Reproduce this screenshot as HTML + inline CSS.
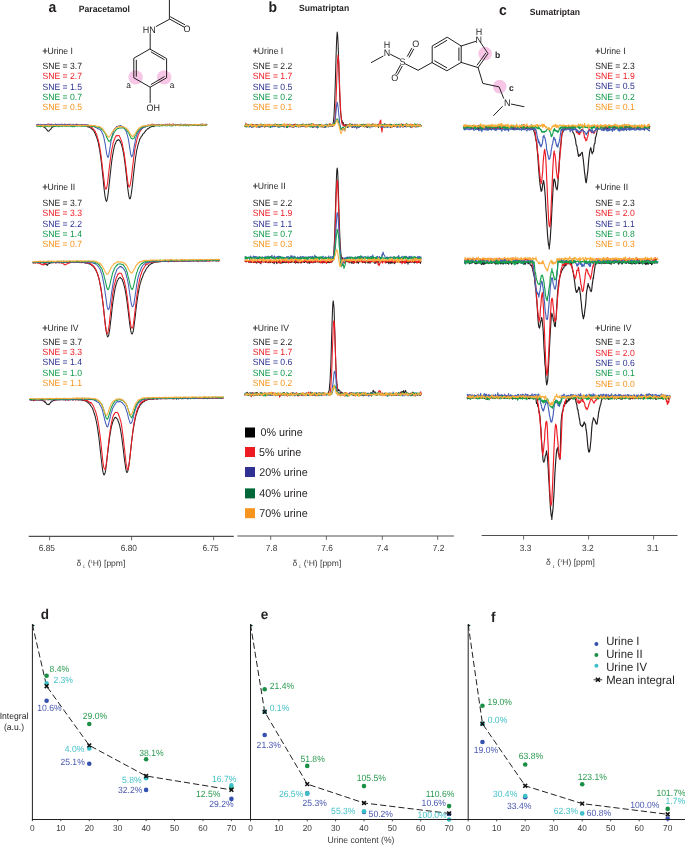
<!DOCTYPE html>
<html><head><meta charset="utf-8"><title>NMR figure</title>
<style>
html,body{margin:0;padding:0;background:#fff;width:685px;height:845px;overflow:hidden;}
svg{display:block;will-change:transform;}
text{font-family:"Liberation Sans", sans-serif;text-rendering:geometricPrecision;}
</style></head><body>
<svg width="685" height="845" viewBox="0 0 685 845">
<rect width="685" height="845" fill="#fff"/>
<text transform="translate(48.50 11.90) scale(1 1.05)" font-size="14" fill="#231f20" text-anchor="start" font-weight="bold" >a</text>
<text transform="translate(78.80 11.50) scale(1 1.05)" font-size="8.6" fill="#231f20" text-anchor="start" font-weight="bold" >Paracetamol</text>
<text transform="translate(268.50 12.20) scale(1 1.05)" font-size="14" fill="#231f20" text-anchor="start" font-weight="bold" >b</text>
<text transform="translate(299.00 10.90) scale(1 1.05)" font-size="8.6" fill="#231f20" text-anchor="start" font-weight="bold" >Sumatriptan</text>
<text transform="translate(499.00 14.90) scale(1 1.05)" font-size="14" fill="#231f20" text-anchor="start" font-weight="bold" >c</text>
<text transform="translate(529.80 14.50) scale(1 1.05)" font-size="8.6" fill="#231f20" text-anchor="start" font-weight="bold" >Sumatriptan</text>
<circle cx="135.6" cy="77.4" r="7.2" fill="#f7c6e6"/>
<circle cx="164.2" cy="77.4" r="7.2" fill="#f7c6e6"/>
<path d="M169.4 0 L169.4 18.9 L184.0 27.0" fill="none" stroke="#231f20" stroke-width="1.0" stroke-linecap="round"/>
<path d="M170.6 16.9 L184.6 24.6" fill="none" stroke="#231f20" stroke-width="1.0" stroke-linecap="round"/>
<path d="M169.4 19.3 L156.3 26.4" fill="none" stroke="#231f20" stroke-width="1.0" stroke-linecap="round"/>
<path d="M150.2 33.6 L150.2 49.2" fill="none" stroke="#231f20" stroke-width="1.0" stroke-linecap="round"/>
<path d="M150.2 49.2 L166.6 58.6 L166.6 77.8 L150.2 87.2 L133.8 77.8 L133.8 58.6 Z" fill="none" stroke="#231f20" stroke-width="1.0" stroke-linecap="round"/>
<path d="M151.2 52.0 L164.2 59.6" fill="none" stroke="#231f20" stroke-width="1.0" stroke-linecap="round"/>
<path d="M136.3 60.2 L136.3 76.2" fill="none" stroke="#231f20" stroke-width="1.0" stroke-linecap="round"/>
<path d="M151.2 84.4 L164.2 76.8" fill="none" stroke="#231f20" stroke-width="1.0" stroke-linecap="round"/>
<path d="M150.2 87.2 L150.2 102.5" fill="none" stroke="#231f20" stroke-width="1.0" stroke-linecap="round"/>
<text transform="translate(149.30 33.00) scale(1 1.05)" font-size="9.0" fill="#231f20" text-anchor="middle" font-weight="normal" >HN</text>
<text transform="translate(187.00 31.70) scale(1 1.05)" font-size="9.0" fill="#231f20" text-anchor="middle" font-weight="normal" >O</text>
<text transform="translate(153.20 110.60) scale(1 1.05)" font-size="9.0" fill="#231f20" text-anchor="middle" font-weight="normal" >OH</text>
<text transform="translate(128.50 87.60) scale(1 1.05)" font-size="8.3" fill="#231f20" text-anchor="middle" font-weight="normal" >a</text>
<text transform="translate(172.00 87.60) scale(1 1.05)" font-size="8.3" fill="#231f20" text-anchor="middle" font-weight="normal" >a</text>
<circle cx="485.1" cy="53.6" r="6.8" fill="#f7c6e6"/>
<circle cx="499.7" cy="86.6" r="6.8" fill="#f7c6e6"/>
<path d="M371.4 62.5 L383.0 56.2" fill="none" stroke="#231f20" stroke-width="1.0" stroke-linecap="round"/>
<path d="M390.6 54.4 L399.8 59.0" fill="none" stroke="#231f20" stroke-width="1.0" stroke-linecap="round"/>
<path d="M405.4 63.9 L418.1 70.3 L432.2 62.4" fill="none" stroke="#231f20" stroke-width="1.0" stroke-linecap="round"/>
<path d="M407.4 56.2 L411.8 48.2 M409.2 57.2 L413.6 49.2" fill="none" stroke="#231f20" stroke-width="1.0" stroke-linecap="round"/>
<path d="M400.3 65.4 L395.9 73.4 M402.1 66.4 L397.7 74.4" fill="none" stroke="#231f20" stroke-width="1.0" stroke-linecap="round"/>
<path d="M432.2 62.4 L432.2 46.0 L447.2 37.2 L461.2 46.0 L461.2 62.4 L447.2 70.6 Z" fill="none" stroke="#231f20" stroke-width="1.0" stroke-linecap="round"/>
<path d="M434.6 47.6 L446.8 40.4" fill="none" stroke="#231f20" stroke-width="1.0" stroke-linecap="round"/>
<path d="M434.6 60.8 L446.8 67.8" fill="none" stroke="#231f20" stroke-width="1.0" stroke-linecap="round"/>
<path d="M458.9 48.0 L458.9 60.4" fill="none" stroke="#231f20" stroke-width="1.0" stroke-linecap="round"/>
<path d="M461.2 46.0 L475.6 41.4" fill="none" stroke="#231f20" stroke-width="1.0" stroke-linecap="round"/>
<path d="M481.2 43.4 L488.0 53.6 L478.1 67.6 L461.2 62.4" fill="none" stroke="#231f20" stroke-width="1.0" stroke-linecap="round"/>
<path d="M485.6 53.4 L477.2 65.0" fill="none" stroke="#231f20" stroke-width="1.0" stroke-linecap="round"/>
<path d="M478.1 67.6 L482.8 83.4 L499.1 86.9 L503.6 98.2" fill="none" stroke="#231f20" stroke-width="1.0" stroke-linecap="round"/>
<path d="M511.4 104.1 L524.0 106.7" fill="none" stroke="#231f20" stroke-width="1.0" stroke-linecap="round"/>
<path d="M502.4 106.5 L493.6 115.5" fill="none" stroke="#231f20" stroke-width="1.0" stroke-linecap="round"/>
<text transform="translate(387.10 56.40) scale(1 1.05)" font-size="9.0" fill="#231f20" text-anchor="middle" font-weight="normal" >N</text>
<text transform="translate(387.10 48.30) scale(1 1.05)" font-size="9.0" fill="#231f20" text-anchor="middle" font-weight="normal" >H</text>
<text transform="translate(402.60 64.60) scale(1 1.05)" font-size="9.0" fill="#231f20" text-anchor="middle" font-weight="normal" >S</text>
<text transform="translate(415.80 47.10) scale(1 1.05)" font-size="9.0" fill="#231f20" text-anchor="middle" font-weight="normal" >O</text>
<text transform="translate(394.80 80.60) scale(1 1.05)" font-size="9.0" fill="#231f20" text-anchor="middle" font-weight="normal" >O</text>
<text transform="translate(478.70 43.30) scale(1 1.05)" font-size="9.0" fill="#231f20" text-anchor="middle" font-weight="normal" >N</text>
<text transform="translate(479.00 35.30) scale(1 1.05)" font-size="9.0" fill="#231f20" text-anchor="middle" font-weight="normal" >H</text>
<text transform="translate(507.30 105.60) scale(1 1.05)" font-size="9.0" fill="#231f20" text-anchor="middle" font-weight="normal" >N</text>
<text transform="translate(497.60 57.60) scale(1 1.05)" font-size="8.6" fill="#231f20" text-anchor="middle" font-weight="bold" >b</text>
<text transform="translate(511.40 91.20) scale(1 1.05)" font-size="8.6" fill="#231f20" text-anchor="middle" font-weight="bold" >c</text>
<polyline points="36.6,125.3 37.1,125.4 37.6,125.3 38.1,125.2 38.6,125.3 39.1,125.2 39.6,125.5 40.1,125.9 40.6,125.6 41.1,125.6 41.6,126.1 42.1,126.2 42.6,126.3 43.1,126.3 43.6,126.8 44.1,127.3 44.6,127.2 45.1,127.9 45.6,128.1 46.1,128.8 46.6,129.3 47.1,130.3 47.6,130.5 48.1,131.2 48.6,131.2 49.1,130.9 49.6,129.9 50.1,129.8 50.6,129.3 51.1,128.7 51.6,127.7 52.1,127.5 52.6,127.0 53.1,126.7 53.6,126.8 54.1,126.1 54.6,126.1 55.1,126.2 55.6,125.7 56.1,125.7 56.6,125.6 57.1,125.6 57.6,125.2 58.1,125.4 58.6,125.7 59.1,125.0 59.6,125.5 60.1,125.3 60.6,125.1 61.1,125.8 61.6,125.4 62.1,124.9 62.6,125.3 63.1,125.4 63.6,125.2 64.1,125.4 64.6,125.2 65.1,125.4 65.6,125.6 66.1,125.0 66.6,125.3 67.1,125.1 67.6,125.2 68.1,124.9 68.6,125.1 69.1,125.2 69.6,125.4 70.1,125.5 70.6,124.9 71.1,125.0 71.6,125.4 72.1,124.7 72.6,125.1 73.1,125.2 73.6,125.5 74.1,125.4 74.6,125.1 75.1,125.1 75.6,125.2 76.1,125.6 76.6,125.1 77.1,125.2 77.6,125.4 78.1,125.2 78.6,125.2 79.1,125.0 79.6,125.3 80.1,125.2 80.6,125.7 81.1,125.6 81.6,125.4 82.1,125.6 82.6,125.4 83.1,125.8 83.6,125.6 84.1,125.8 84.6,125.4 85.1,125.9 85.6,125.5 86.1,125.5 86.6,126.1 87.1,126.1 87.6,126.5 88.1,127.2 88.6,126.6 89.1,126.9 89.6,127.3 90.1,127.7 90.6,127.9 91.1,128.2 91.6,128.9 92.1,129.3 92.6,129.4 93.1,130.3 93.6,131.0 94.1,131.5 94.6,132.6 95.1,133.3 95.6,134.9 96.1,135.9 96.6,137.3 97.1,138.6 97.6,140.5 98.1,142.0 98.6,144.4 99.1,147.3 99.6,149.5 100.1,153.3 100.6,156.1 101.1,160.6 101.6,164.3 102.1,169.2 102.6,173.9 103.1,178.4 103.6,184.1 104.1,188.9 104.6,193.0 105.1,196.6 105.6,199.4 106.1,200.7 106.6,201.4 107.1,199.8 107.6,197.5 108.1,193.9 108.6,189.8 109.1,185.0 109.6,180.8 110.1,175.6 110.6,171.2 111.1,166.5 111.6,162.3 112.1,158.7 112.6,155.4 113.1,152.6 113.6,149.9 114.1,147.7 114.6,145.5 115.1,144.1 115.6,143.3 116.1,141.7 116.6,140.8 117.1,140.5 117.6,140.4 118.1,139.5 118.6,139.9 119.1,140.0 119.6,140.2 120.1,141.6 120.6,142.4 121.1,143.6 121.6,144.9 122.1,146.9 122.6,148.7 123.1,151.2 123.6,153.7 124.1,156.8 124.6,160.9 125.1,164.2 125.6,168.6 126.1,173.0 126.6,177.5 127.1,182.2 127.6,187.0 128.1,190.9 128.6,194.5 129.1,197.1 129.6,198.8 130.1,198.8 130.6,197.5 131.1,194.9 131.6,191.4 132.1,187.9 132.6,183.4 133.1,178.4 133.6,173.9 134.1,169.4 134.6,165.1 135.1,161.2 135.6,157.3 136.1,154.5 136.6,150.9 137.1,148.9 137.6,146.5 138.1,144.7 138.6,143.2 139.1,141.6 139.6,139.7 140.1,138.4 140.6,138.1 141.1,136.8 141.6,136.2 142.1,135.7 142.6,134.5 143.1,133.7 143.6,133.7 144.1,133.0 144.6,132.3 145.1,131.7 145.6,130.9 146.1,130.2 146.6,130.0 147.1,129.3 147.6,128.7 148.1,128.8 148.6,128.3 149.1,128.1 149.6,127.4 150.1,127.2 150.6,126.9 151.1,126.7 151.6,126.8 152.1,126.3 152.6,126.5 153.1,126.3 153.6,126.6 154.1,125.7 154.6,126.1 155.1,125.8 155.6,125.8 156.1,125.3 156.6,125.5 157.1,125.8 157.6,125.5 158.1,125.5 158.6,125.4 159.1,125.7 159.6,125.4 160.1,124.8 160.6,125.2 161.1,124.8 161.6,124.5 162.1,125.2 162.6,125.6 163.1,125.3 163.6,125.0 164.1,125.0 164.6,125.5 165.1,125.3 165.6,125.3 166.1,125.2 166.6,125.2 167.1,125.4 167.6,125.4 168.1,125.3 168.6,125.0 169.1,125.3 169.6,125.0 170.1,125.5 170.6,124.9 171.1,125.2 171.6,125.2 172.1,124.9 172.6,125.6 173.1,125.6 173.6,125.1 174.1,125.4 174.6,125.3 175.1,124.5 175.6,125.3 176.1,125.2 176.6,125.2 177.1,124.9 177.6,125.1 178.1,125.2 178.6,125.5 179.1,125.3 179.6,125.2 180.1,125.6 180.6,125.1 181.1,125.1 181.6,124.7 182.1,125.6 182.6,125.4 183.1,125.4 183.6,125.4 184.1,125.2 184.6,125.3 185.1,125.1 185.6,125.1 186.1,125.2 186.6,125.6 187.1,125.3 187.6,125.2 188.1,125.1 188.6,125.0 189.1,125.6 189.6,125.3 190.1,125.2 190.6,125.1 191.1,124.9 191.6,125.2 192.1,125.4 192.6,125.1 193.1,125.1 193.6,125.1 194.1,125.2 194.6,124.8 195.1,125.1 195.6,125.0 196.1,125.4 196.6,125.0 197.1,125.3 197.6,125.6 198.1,125.1 198.6,125.0 199.1,125.2 199.6,125.2 200.1,125.0 200.6,125.3 201.1,125.7 201.6,125.1 202.1,125.1 202.6,124.9 203.1,125.3 203.6,124.9 204.1,124.9 204.6,125.5 205.1,125.0 205.6,125.5 206.1,125.6 206.6,125.3 207.1,125.3" fill="none" stroke="#231f20" stroke-width="1.05" stroke-linejoin="round"/>
<polyline points="36.6,125.4 37.1,124.6 37.6,124.5 38.1,124.2 38.6,124.7 39.1,125.2 39.6,125.0 40.1,124.4 40.6,124.4 41.1,124.5 41.6,124.8 42.1,124.6 42.6,124.8 43.1,124.8 43.6,124.6 44.1,124.7 44.6,124.8 45.1,124.7 45.6,124.9 46.1,125.4 46.6,124.9 47.1,124.7 47.6,124.1 48.1,124.8 48.6,124.0 49.1,124.2 49.6,125.0 50.1,124.9 50.6,124.6 51.1,124.1 51.6,124.6 52.1,124.5 52.6,124.9 53.1,125.5 53.6,124.8 54.1,124.4 54.6,124.3 55.1,124.7 55.6,124.6 56.1,124.3 56.6,124.7 57.1,124.3 57.6,125.1 58.1,125.1 58.6,125.1 59.1,124.5 59.6,124.9 60.1,124.7 60.6,124.6 61.1,124.6 61.6,124.2 62.1,124.2 62.6,125.0 63.1,124.6 63.6,124.8 64.1,125.1 64.6,124.1 65.1,124.4 65.6,124.8 66.1,124.8 66.6,124.6 67.1,125.1 67.6,124.8 68.1,124.3 68.6,124.4 69.1,125.0 69.6,124.9 70.1,124.0 70.6,125.2 71.1,124.9 71.6,125.2 72.1,124.6 72.6,124.6 73.1,124.3 73.6,125.6 74.1,124.6 74.6,125.3 75.1,124.5 75.6,124.8 76.1,124.1 76.6,124.6 77.1,125.1 77.6,124.3 78.1,125.1 78.6,124.9 79.1,124.4 79.6,124.6 80.1,124.6 80.6,124.8 81.1,124.6 81.6,124.6 82.1,124.8 82.6,124.5 83.1,124.5 83.6,125.0 84.1,125.3 84.6,124.5 85.1,125.1 85.6,125.0 86.1,124.9 86.6,125.7 87.1,125.3 87.6,126.1 88.1,125.5 88.6,126.0 89.1,126.0 89.6,126.0 90.1,126.7 90.6,126.7 91.1,127.3 91.6,127.4 92.1,127.5 92.6,128.2 93.1,128.8 93.6,129.7 94.1,129.7 94.6,130.7 95.1,131.0 95.6,132.8 96.1,133.3 96.6,134.2 97.1,136.2 97.6,138.2 98.1,139.1 98.6,141.3 99.1,143.7 99.6,146.1 100.1,149.5 100.6,152.3 101.1,155.9 101.6,160.2 102.1,164.0 102.6,168.8 103.1,172.7 103.6,177.0 104.1,180.9 104.6,185.6 105.1,187.4 105.6,189.0 106.1,189.1 106.6,188.0 107.1,185.7 107.6,183.1 108.1,178.2 108.6,173.8 109.1,169.6 109.6,165.1 110.1,161.7 110.6,157.9 111.1,153.8 111.6,150.5 112.1,148.1 112.6,146.3 113.1,142.7 113.6,142.0 114.1,139.9 114.6,139.3 115.1,137.5 115.6,136.9 116.1,135.8 116.6,135.5 117.1,136.0 117.6,135.7 118.1,135.4 118.6,135.4 119.1,135.5 119.6,136.7 120.1,137.6 120.6,138.6 121.1,139.9 121.6,141.0 122.1,143.1 122.6,145.2 123.1,148.0 123.6,150.9 124.1,153.2 124.6,156.4 125.1,160.4 125.6,164.2 126.1,168.3 126.6,172.8 127.1,176.6 127.6,180.9 128.1,183.8 128.6,186.1 129.1,187.0 129.6,186.7 130.1,185.2 130.6,183.0 131.1,179.6 131.6,175.9 132.1,171.6 132.6,166.8 133.1,163.0 133.6,158.5 134.1,155.0 134.6,151.6 135.1,147.9 135.6,145.9 136.1,143.4 136.6,141.1 137.1,139.0 137.6,137.3 138.1,135.5 138.6,134.4 139.1,133.2 139.6,132.3 140.1,131.0 140.6,130.7 141.1,129.9 141.6,129.2 142.1,128.5 142.6,128.4 143.1,127.2 143.6,127.5 144.1,127.1 144.6,126.8 145.1,126.6 145.6,126.0 146.1,126.0 146.6,126.1 147.1,125.9 147.6,125.6 148.1,124.9 148.6,125.5 149.1,125.7 149.6,125.5 150.1,125.2 150.6,124.5 151.1,125.3 151.6,124.9 152.1,124.0 152.6,125.0 153.1,124.3 153.6,124.4 154.1,124.6 154.6,125.2 155.1,124.7 155.6,124.9 156.1,125.4 156.6,125.3 157.1,124.7 157.6,124.7 158.1,124.3 158.6,124.5 159.1,124.9 159.6,124.9 160.1,124.8 160.6,125.1 161.1,124.4 161.6,124.7 162.1,125.0 162.6,124.9 163.1,125.1 163.6,124.8 164.1,124.6 164.6,124.8 165.1,124.4 165.6,124.1 166.1,124.9 166.6,124.7 167.1,124.8 167.6,124.1 168.1,124.6 168.6,124.5 169.1,124.4 169.6,123.9 170.1,124.6 170.6,125.0 171.1,124.8 171.6,124.5 172.1,124.7 172.6,125.0 173.1,123.7 173.6,124.7 174.1,124.9 174.6,124.9 175.1,125.3 175.6,125.1 176.1,124.8 176.6,124.8 177.1,125.0 177.6,124.5 178.1,124.7 178.6,125.0 179.1,125.4 179.6,124.6 180.1,124.7 180.6,124.8 181.1,125.2 181.6,124.7 182.1,125.2 182.6,124.4 183.1,124.6 183.6,124.6 184.1,125.0 184.6,125.1 185.1,124.2 185.6,124.4 186.1,124.8 186.6,124.5 187.1,124.2 187.6,125.1 188.1,124.9 188.6,124.9 189.1,124.5 189.6,125.1 190.1,124.6 190.6,125.1 191.1,124.4 191.6,124.4 192.1,124.8 192.6,124.5 193.1,124.9 193.6,124.8 194.1,124.4 194.6,124.7 195.1,124.6 195.6,125.0 196.1,124.5 196.6,124.5 197.1,125.1 197.6,125.5 198.1,125.4 198.6,124.7 199.1,124.8 199.6,125.2 200.1,124.7 200.6,124.4 201.1,124.7 201.6,124.9 202.1,124.4 202.6,124.1 203.1,124.2 203.6,124.9 204.1,124.4 204.6,124.7 205.1,124.8 205.6,124.9 206.1,124.6 206.6,124.9 207.1,124.4" fill="none" stroke="#ed1c24" stroke-width="1.05" stroke-linejoin="round"/>
<polyline points="36.6,124.6 37.1,124.4 37.6,125.0 38.1,124.7 38.6,124.5 39.1,124.6 39.6,124.6 40.1,124.9 40.6,124.3 41.1,124.4 41.6,124.6 42.1,125.3 42.6,124.9 43.1,124.7 43.6,124.9 44.1,125.2 44.6,124.6 45.1,124.6 45.6,125.0 46.1,124.8 46.6,124.9 47.1,124.6 47.6,125.2 48.1,125.1 48.6,124.8 49.1,124.9 49.6,124.2 50.1,124.9 50.6,124.7 51.1,124.8 51.6,124.9 52.1,124.6 52.6,124.3 53.1,124.8 53.6,124.5 54.1,124.6 54.6,124.5 55.1,124.6 55.6,124.1 56.1,125.0 56.6,124.8 57.1,125.0 57.6,125.2 58.1,124.7 58.6,124.2 59.1,124.5 59.6,124.4 60.1,124.6 60.6,124.7 61.1,124.2 61.6,124.8 62.1,124.3 62.6,124.8 63.1,124.7 63.6,124.6 64.1,124.7 64.6,124.6 65.1,124.5 65.6,124.3 66.1,124.7 66.6,125.2 67.1,125.2 67.6,125.0 68.1,124.9 68.6,124.5 69.1,125.1 69.6,124.7 70.1,124.7 70.6,124.6 71.1,124.7 71.6,124.6 72.1,124.7 72.6,124.4 73.1,124.6 73.6,125.3 74.1,124.7 74.6,124.7 75.1,124.9 75.6,124.9 76.1,124.4 76.6,124.7 77.1,125.0 77.6,124.8 78.1,124.8 78.6,125.1 79.1,124.6 79.6,124.8 80.1,124.6 80.6,125.2 81.1,124.3 81.6,124.6 82.1,124.7 82.6,125.0 83.1,125.0 83.6,125.2 84.1,124.5 84.6,125.1 85.1,124.9 85.6,124.8 86.1,125.1 86.6,124.8 87.1,124.6 87.6,125.0 88.1,124.8 88.6,125.1 89.1,125.4 89.6,125.4 90.1,125.8 90.6,125.5 91.1,125.3 91.6,125.6 92.1,125.7 92.6,125.8 93.1,126.3 93.6,126.2 94.1,126.1 94.6,127.0 95.1,127.0 95.6,127.4 96.1,127.6 96.6,127.9 97.1,128.0 97.6,128.6 98.1,128.6 98.6,128.9 99.1,129.2 99.6,129.0 100.1,129.7 100.6,130.2 101.1,130.9 101.6,131.2 102.1,132.9 102.6,133.6 103.1,134.7 103.6,136.3 104.1,138.7 104.6,141.1 105.1,143.7 105.6,147.0 106.1,150.0 106.6,153.4 107.1,155.5 107.6,157.1 108.1,157.4 108.6,156.5 109.1,153.3 109.6,150.4 110.1,147.0 110.6,144.1 111.1,140.7 111.6,138.2 112.1,136.1 112.6,133.9 113.1,132.4 113.6,131.1 114.1,129.6 114.6,128.9 115.1,128.4 115.6,127.9 116.1,127.3 116.6,126.5 117.1,126.5 117.6,126.6 118.1,126.3 118.6,126.0 119.1,125.7 119.6,126.0 120.1,125.7 120.6,125.6 121.1,125.8 121.6,126.5 122.1,126.4 122.6,126.9 123.1,126.8 123.6,127.6 124.1,127.7 124.6,128.4 125.1,129.8 125.6,130.3 126.1,131.1 126.6,132.5 127.1,134.1 127.6,136.2 128.1,138.0 128.6,140.3 129.1,143.6 129.6,146.8 130.1,150.1 130.6,153.4 131.1,155.5 131.6,156.9 132.1,156.3 132.6,155.5 133.1,153.5 133.6,150.2 134.1,147.1 134.6,144.1 135.1,141.9 135.6,138.9 136.1,137.2 136.6,135.7 137.1,134.5 137.6,133.1 138.1,132.4 138.6,131.6 139.1,131.1 139.6,130.5 140.1,129.7 140.6,129.6 141.1,129.4 141.6,128.5 142.1,128.3 142.6,128.2 143.1,127.4 143.6,127.4 144.1,126.8 144.6,127.1 145.1,127.2 145.6,126.9 146.1,126.1 146.6,126.2 147.1,125.9 147.6,125.7 148.1,126.0 148.6,125.2 149.1,125.7 149.6,125.3 150.1,125.6 150.6,125.2 151.1,125.0 151.6,125.2 152.1,125.2 152.6,125.0 153.1,125.1 153.6,124.8 154.1,124.4 154.6,125.1 155.1,125.0 155.6,124.9 156.1,124.8 156.6,125.1 157.1,124.7 157.6,124.6 158.1,124.7 158.6,125.1 159.1,124.4 159.6,125.1 160.1,124.6 160.6,124.5 161.1,125.1 161.6,124.7 162.1,124.4 162.6,124.6 163.1,125.0 163.6,125.0 164.1,124.6 164.6,124.8 165.1,124.9 165.6,124.6 166.1,124.8 166.6,124.7 167.1,124.6 167.6,124.6 168.1,124.7 168.6,124.7 169.1,124.6 169.6,124.6 170.1,125.0 170.6,124.8 171.1,124.9 171.6,125.0 172.1,124.8 172.6,125.3 173.1,124.5 173.6,124.9 174.1,124.6 174.6,125.2 175.1,125.1 175.6,124.2 176.1,124.5 176.6,124.9 177.1,124.9 177.6,124.9 178.1,124.7 178.6,124.8 179.1,124.9 179.6,124.7 180.1,125.0 180.6,124.1 181.1,124.9 181.6,124.4 182.1,124.9 182.6,124.6 183.1,124.5 183.6,124.8 184.1,124.5 184.6,124.5 185.1,124.3 185.6,124.7 186.1,124.8 186.6,125.0 187.1,124.7 187.6,125.0 188.1,124.7 188.6,124.7 189.1,124.8 189.6,125.0 190.1,124.6 190.6,124.6 191.1,124.7 191.6,124.7 192.1,124.5 192.6,125.0 193.1,124.6 193.6,124.8 194.1,124.5 194.6,124.8 195.1,124.8 195.6,124.6 196.1,125.2 196.6,124.8 197.1,125.1 197.6,124.9 198.1,124.5 198.6,124.6 199.1,124.8 199.6,124.7 200.1,124.7 200.6,124.6 201.1,124.2 201.6,124.6 202.1,124.1 202.6,124.8 203.1,124.5 203.6,124.5 204.1,124.6 204.6,124.8 205.1,124.3 205.6,124.3 206.1,124.4 206.6,124.2 207.1,124.5" fill="none" stroke="#4560b8" stroke-width="1.05" stroke-linejoin="round"/>
<polyline points="36.6,126.8 37.1,126.1 37.6,126.6 38.1,126.0 38.6,126.5 39.1,126.3 39.6,126.4 40.1,126.5 40.6,126.8 41.1,126.4 41.6,126.4 42.1,126.1 42.6,126.5 43.1,126.3 43.6,126.6 44.1,126.3 44.6,126.8 45.1,125.8 45.6,126.3 46.1,126.6 46.6,126.2 47.1,126.1 47.6,126.3 48.1,126.0 48.6,126.3 49.1,126.9 49.6,126.6 50.1,126.0 50.6,126.1 51.1,126.2 51.6,126.5 52.1,126.1 52.6,126.1 53.1,126.5 53.6,126.5 54.1,126.2 54.6,126.0 55.1,125.9 55.6,126.1 56.1,125.7 56.6,126.4 57.1,126.1 57.6,126.4 58.1,126.7 58.6,126.5 59.1,126.0 59.6,126.5 60.1,126.5 60.6,126.0 61.1,126.0 61.6,126.2 62.1,125.8 62.6,126.6 63.1,125.6 63.6,125.9 64.1,126.1 64.6,126.1 65.1,126.2 65.6,126.3 66.1,126.1 66.6,126.5 67.1,125.7 67.6,126.2 68.1,126.0 68.6,126.2 69.1,126.2 69.6,125.9 70.1,126.0 70.6,126.4 71.1,126.2 71.6,126.0 72.1,126.7 72.6,126.7 73.1,125.8 73.6,126.2 74.1,126.8 74.6,126.3 75.1,126.2 75.6,126.1 76.1,126.0 76.6,126.1 77.1,126.0 77.6,126.3 78.1,126.0 78.6,126.0 79.1,125.8 79.6,126.1 80.1,125.9 80.6,126.0 81.1,126.4 81.6,126.2 82.1,126.2 82.6,126.2 83.1,126.1 83.6,126.0 84.1,126.0 84.6,126.3 85.1,125.8 85.6,126.4 86.1,126.1 86.6,125.9 87.1,126.0 87.6,125.9 88.1,126.1 88.6,125.9 89.1,126.4 89.6,125.9 90.1,125.5 90.6,125.9 91.1,125.6 91.6,126.2 92.1,126.4 92.6,126.4 93.1,125.9 93.6,126.1 94.1,126.8 94.6,126.5 95.1,126.4 95.6,126.8 96.1,127.2 96.6,127.0 97.1,126.8 97.6,127.0 98.1,127.2 98.6,127.0 99.1,127.1 99.6,127.6 100.1,127.6 100.6,128.1 101.1,128.5 101.6,129.4 102.1,129.1 102.6,129.8 103.1,130.3 103.6,131.1 104.1,132.0 104.6,132.5 105.1,133.4 105.6,134.2 106.1,135.5 106.6,137.1 107.1,138.1 107.6,139.0 108.1,140.1 108.6,140.9 109.1,141.4 109.6,141.2 110.1,141.0 110.6,139.9 111.1,139.1 111.6,138.7 112.1,136.6 112.6,135.9 113.1,134.9 113.6,133.7 114.1,132.6 114.6,132.0 115.1,131.2 115.6,130.6 116.1,129.5 116.6,129.5 117.1,128.9 117.6,128.6 118.1,128.5 118.6,128.4 119.1,128.2 119.6,127.7 120.1,128.0 120.6,128.0 121.1,127.9 121.6,128.0 122.1,127.6 122.6,127.7 123.1,128.1 123.6,127.7 124.1,128.3 124.6,128.4 125.1,128.7 125.6,128.8 126.1,129.4 126.6,130.1 127.1,131.0 127.6,131.7 128.1,132.2 128.6,133.0 129.1,133.8 129.6,135.1 130.1,135.9 130.6,137.1 131.1,138.3 131.6,138.6 132.1,138.7 132.6,139.0 133.1,138.7 133.6,138.3 134.1,138.2 134.6,137.0 135.1,135.5 135.6,135.0 136.1,134.2 136.6,132.8 137.1,131.9 137.6,131.1 138.1,130.6 138.6,130.1 139.1,129.6 139.6,129.2 140.1,128.7 140.6,128.4 141.1,127.9 141.6,127.1 142.1,127.2 142.6,127.1 143.1,126.7 143.6,126.9 144.1,126.4 144.6,126.2 145.1,126.7 145.6,126.4 146.1,126.2 146.6,126.3 147.1,126.2 147.6,126.0 148.1,125.3 148.6,125.7 149.1,125.7 149.6,125.5 150.1,125.8 150.6,126.0 151.1,125.6 151.6,125.4 152.1,126.2 152.6,125.5 153.1,125.3 153.6,125.7 154.1,125.7 154.6,125.4 155.1,125.8 155.6,125.5 156.1,125.3 156.6,125.6 157.1,125.8 157.6,125.4 158.1,125.6 158.6,125.5 159.1,126.2 159.6,125.4 160.1,125.9 160.6,125.5 161.1,125.5 161.6,125.7 162.1,125.7 162.6,125.8 163.1,125.6 163.6,125.4 164.1,125.4 164.6,125.6 165.1,125.6 165.6,125.8 166.1,125.6 166.6,125.8 167.1,125.9 167.6,125.5 168.1,125.1 168.6,125.2 169.1,125.1 169.6,125.9 170.1,125.2 170.6,125.8 171.1,125.6 171.6,125.9 172.1,125.7 172.6,125.4 173.1,125.4 173.6,125.5 174.1,125.5 174.6,125.3 175.1,125.4 175.6,125.8 176.1,125.0 176.6,125.5 177.1,125.2 177.6,125.5 178.1,125.6 178.6,125.4 179.1,125.6 179.6,125.0 180.1,125.7 180.6,125.2 181.1,125.5 181.6,125.4 182.1,124.7 182.6,125.2 183.1,125.4 183.6,125.8 184.1,125.4 184.6,125.4 185.1,125.0 185.6,125.7 186.1,125.8 186.6,125.4 187.1,125.3 187.6,124.9 188.1,125.6 188.6,126.0 189.1,125.5 189.6,125.6 190.1,125.5 190.6,125.1 191.1,125.6 191.6,125.0 192.1,125.3 192.6,125.4 193.1,125.5 193.6,125.4 194.1,125.4 194.6,125.1 195.1,125.0 195.6,125.3 196.1,125.1 196.6,124.9 197.1,125.0 197.6,125.1 198.1,124.8 198.6,124.9 199.1,124.8 199.6,125.3 200.1,125.4 200.6,125.7 201.1,124.9 201.6,125.1 202.1,125.5 202.6,125.2 203.1,125.1 203.6,125.7 204.1,125.1 204.6,124.9 205.1,124.9 205.6,125.3 206.1,125.3 206.6,124.9 207.1,125.0" fill="none" stroke="#12a04b" stroke-width="1.05" stroke-linejoin="round"/>
<polyline points="36.6,125.7 37.1,125.7 37.6,125.4 38.1,125.7 38.6,125.7 39.1,125.1 39.6,125.5 40.1,125.7 40.6,125.4 41.1,125.0 41.6,125.5 42.1,125.8 42.6,126.0 43.1,125.0 43.6,126.2 44.1,125.3 44.6,125.8 45.1,125.9 45.6,125.8 46.1,125.6 46.6,125.3 47.1,125.7 47.6,125.4 48.1,124.9 48.6,126.3 49.1,125.7 49.6,126.0 50.1,125.3 50.6,125.9 51.1,125.9 51.6,125.9 52.1,125.5 52.6,125.2 53.1,125.5 53.6,125.0 54.1,125.1 54.6,125.5 55.1,125.3 55.6,125.5 56.1,125.5 56.6,126.0 57.1,125.8 57.6,125.5 58.1,125.8 58.6,125.3 59.1,125.4 59.6,125.7 60.1,125.2 60.6,125.4 61.1,125.2 61.6,125.5 62.1,125.9 62.6,125.3 63.1,125.5 63.6,125.3 64.1,125.2 64.6,125.2 65.1,125.8 65.6,126.1 66.1,125.6 66.6,125.3 67.1,125.7 67.6,125.4 68.1,125.7 68.6,125.5 69.1,125.5 69.6,125.6 70.1,125.3 70.6,125.4 71.1,125.0 71.6,125.3 72.1,125.1 72.6,125.4 73.1,125.2 73.6,125.5 74.1,125.6 74.6,125.1 75.1,125.2 75.6,125.2 76.1,125.6 76.6,125.9 77.1,125.6 77.6,125.3 78.1,125.8 78.6,125.1 79.1,125.8 79.6,125.3 80.1,124.7 80.6,126.1 81.1,125.8 81.6,125.2 82.1,125.5 82.6,125.4 83.1,125.4 83.6,125.0 84.1,125.2 84.6,125.5 85.1,125.5 85.6,125.7 86.1,125.4 86.6,126.0 87.1,125.2 87.6,125.5 88.1,125.0 88.6,125.1 89.1,125.8 89.6,125.2 90.1,125.6 90.6,125.5 91.1,125.2 91.6,125.4 92.1,125.4 92.6,125.4 93.1,125.8 93.6,125.8 94.1,125.5 94.6,125.5 95.1,125.8 95.6,125.8 96.1,126.2 96.6,126.6 97.1,126.3 97.6,126.2 98.1,126.3 98.6,126.3 99.1,126.4 99.6,126.6 100.1,127.0 100.6,127.2 101.1,127.8 101.6,127.9 102.1,128.3 102.6,128.5 103.1,129.7 103.6,130.0 104.1,131.0 104.6,131.5 105.1,132.5 105.6,132.9 106.1,134.0 106.6,135.4 107.1,135.2 107.6,136.4 108.1,137.0 108.6,136.9 109.1,136.9 109.6,136.7 110.1,135.6 110.6,135.1 111.1,134.0 111.6,133.1 112.1,132.3 112.6,131.6 113.1,130.9 113.6,130.3 114.1,129.2 114.6,129.6 115.1,128.9 115.6,128.4 116.1,127.8 116.6,127.5 117.1,127.5 117.6,127.2 118.1,126.5 118.6,127.0 119.1,127.4 119.6,126.1 120.1,126.8 120.6,126.6 121.1,126.5 121.6,126.9 122.1,126.3 122.6,126.8 123.1,127.2 123.6,126.9 124.1,127.1 124.6,127.4 125.1,127.5 125.6,128.4 126.1,128.1 126.6,129.0 127.1,128.9 127.6,130.0 128.1,130.4 128.6,130.5 129.1,131.9 129.6,132.5 130.1,133.4 130.6,134.8 131.1,134.8 131.6,135.4 132.1,136.4 132.6,136.2 133.1,136.5 133.6,135.8 134.1,134.9 134.6,134.3 135.1,133.8 135.6,132.9 136.1,131.8 136.6,131.1 137.1,130.3 137.6,129.6 138.1,129.6 138.6,128.6 139.1,127.9 139.6,127.6 140.1,127.6 140.6,127.3 141.1,126.8 141.6,126.5 142.1,126.4 142.6,125.8 143.1,125.8 143.6,126.2 144.1,125.8 144.6,125.9 145.1,126.0 145.6,125.8 146.1,125.6 146.6,126.0 147.1,125.6 147.6,125.3 148.1,125.5 148.6,125.4 149.1,125.1 149.6,125.3 150.1,125.2 150.6,124.7 151.1,125.2 151.6,125.1 152.1,125.1 152.6,124.8 153.1,125.1 153.6,125.1 154.1,125.2 154.6,124.8 155.1,125.3 155.6,124.8 156.1,125.1 156.6,125.5 157.1,124.9 157.6,125.0 158.1,125.4 158.6,125.0 159.1,125.0 159.6,125.2 160.1,125.4 160.6,124.5 161.1,124.9 161.6,124.8 162.1,124.8 162.6,124.9 163.1,124.9 163.6,125.2 164.1,124.8 164.6,125.1 165.1,125.2 165.6,124.9 166.1,125.1 166.6,125.5 167.1,125.1 167.6,124.9 168.1,125.0 168.6,124.8 169.1,125.1 169.6,125.3 170.1,124.8 170.6,125.0 171.1,125.3 171.6,124.9 172.1,125.1 172.6,124.8 173.1,124.8 173.6,124.9 174.1,125.6 174.6,124.9 175.1,124.9 175.6,124.9 176.1,125.0 176.6,125.2 177.1,125.1 177.6,125.5 178.1,125.1 178.6,125.4 179.1,125.1 179.6,125.2 180.1,124.7 180.6,125.0 181.1,125.0 181.6,124.9 182.1,124.5 182.6,125.2 183.1,124.9 183.6,124.9 184.1,124.9 184.6,124.9 185.1,125.1 185.6,124.7 186.1,124.8 186.6,125.1 187.1,125.0 187.6,124.9 188.1,124.8 188.6,124.8 189.1,125.0 189.6,125.3 190.1,124.7 190.6,125.3 191.1,125.2 191.6,124.9 192.1,125.2 192.6,124.6 193.1,124.5 193.6,124.6 194.1,124.9 194.6,124.9 195.1,124.8 195.6,125.0 196.1,124.4 196.6,125.1 197.1,124.6 197.6,124.8 198.1,124.8 198.6,124.6 199.1,124.6 199.6,124.7 200.1,124.9 200.6,125.1 201.1,125.1 201.6,124.7 202.1,124.7 202.6,124.7 203.1,125.0 203.6,124.4 204.1,125.2 204.6,124.8 205.1,124.7 205.6,125.0 206.1,125.2 206.6,125.0 207.1,125.2" fill="none" stroke="#fbad3c" stroke-width="1.05" stroke-linejoin="round"/>
<polyline points="32.7,262.5 33.2,262.8 33.7,262.8 34.2,262.5 34.7,262.8 35.2,262.5 35.7,262.5 36.2,262.2 36.7,262.4 37.2,262.7 37.7,262.1 38.2,262.6 38.7,262.5 39.2,262.5 39.7,261.9 40.2,262.5 40.7,262.7 41.2,262.3 41.7,262.6 42.2,262.0 42.7,262.9 43.2,262.6 43.7,263.2 44.2,262.7 44.7,263.6 45.2,263.7 45.7,264.3 46.2,264.3 46.7,264.6 47.2,265.4 47.7,264.4 48.2,264.0 48.7,263.7 49.2,263.2 49.7,263.4 50.2,263.3 50.7,262.6 51.2,262.2 51.7,262.8 52.2,262.7 52.7,262.6 53.2,262.7 53.7,262.1 54.2,262.3 54.7,262.0 55.2,261.9 55.7,262.5 56.2,262.1 56.7,262.8 57.2,262.3 57.7,262.1 58.2,262.4 58.7,262.7 59.2,262.3 59.7,261.9 60.2,262.3 60.7,262.5 61.2,262.1 61.7,262.0 62.2,262.4 62.7,262.2 63.2,261.9 63.7,262.1 64.2,262.0 64.7,262.2 65.2,262.2 65.7,262.4 66.2,262.3 66.7,261.7 67.2,262.2 67.7,262.4 68.2,262.2 68.7,262.4 69.2,262.0 69.7,261.9 70.2,262.3 70.7,261.8 71.2,261.6 71.7,262.4 72.2,261.9 72.7,262.0 73.2,261.7 73.7,261.8 74.2,261.8 74.7,262.0 75.2,262.2 75.7,261.5 76.2,262.3 76.7,261.8 77.2,261.8 77.7,262.3 78.2,262.1 78.7,261.7 79.2,262.6 79.7,261.9 80.2,262.2 80.7,262.2 81.2,262.6 81.7,262.1 82.2,262.5 82.7,262.1 83.2,262.6 83.7,262.2 84.2,262.4 84.7,263.0 85.2,262.7 85.7,262.7 86.2,263.3 86.7,263.0 87.2,262.8 87.7,263.3 88.2,263.0 88.7,263.8 89.2,264.0 89.7,263.8 90.2,264.0 90.7,264.5 91.2,264.8 91.7,264.9 92.2,265.7 92.7,265.5 93.2,266.4 93.7,266.9 94.2,267.6 94.7,268.5 95.2,268.9 95.7,270.2 96.2,271.0 96.7,272.0 97.2,273.1 97.7,274.5 98.2,276.4 98.7,277.8 99.2,280.0 99.7,282.5 100.2,284.9 100.7,287.7 101.2,290.1 101.7,293.2 102.2,297.3 102.7,301.0 103.2,305.3 103.7,309.4 104.2,314.3 104.7,318.8 105.2,323.2 105.7,327.4 106.2,331.0 106.7,333.9 107.2,335.9 107.7,336.9 108.2,336.2 108.7,335.4 109.2,332.4 109.7,329.4 110.2,325.3 110.7,321.0 111.2,317.1 111.7,312.1 112.2,307.5 112.7,303.6 113.2,299.9 113.7,297.0 114.2,293.4 114.7,290.8 115.2,287.8 115.7,286.0 116.2,284.2 116.7,282.9 117.2,280.9 117.7,280.1 118.2,279.2 118.7,278.2 119.2,278.0 119.7,277.7 120.2,277.2 120.7,278.1 121.2,278.5 121.7,278.8 122.2,279.5 122.7,281.2 123.2,282.2 123.7,284.0 124.2,285.9 124.7,287.6 125.2,290.3 125.7,292.8 126.2,295.9 126.7,299.3 127.2,303.0 127.7,307.3 128.2,311.2 128.7,315.4 129.2,319.7 129.7,323.9 130.2,327.2 130.7,330.4 131.2,332.7 131.7,333.8 132.2,334.0 132.7,332.9 133.2,331.5 133.7,328.5 134.2,324.7 134.7,320.6 135.2,316.9 135.7,312.1 136.2,307.8 136.7,303.9 137.2,300.1 137.7,297.0 138.2,293.4 138.7,291.1 139.2,287.8 139.7,285.9 140.2,283.5 140.7,282.4 141.2,280.2 141.7,278.8 142.2,277.7 142.7,276.5 143.2,274.8 143.7,273.8 144.2,272.5 144.7,271.9 145.2,270.9 145.7,269.9 146.2,269.0 146.7,268.3 147.2,267.5 147.7,267.1 148.2,266.7 148.7,265.3 149.2,265.3 149.7,264.8 150.2,264.6 150.7,263.9 151.2,263.7 151.7,263.2 152.2,263.4 152.7,263.0 153.2,262.7 153.7,262.7 154.2,262.4 154.7,261.9 155.2,262.3 155.7,262.1 156.2,261.9 156.7,262.1 157.2,262.1 157.7,261.4 158.2,261.4 158.7,261.9 159.2,261.8 159.7,261.3 160.2,261.1 160.7,261.2 161.2,261.2 161.7,260.9 162.2,261.3 162.7,260.9 163.2,260.9 163.7,261.4 164.2,261.0 164.7,261.1 165.2,261.3 165.7,261.3 166.2,261.0 166.7,261.1 167.2,260.9 167.7,261.5 168.2,261.2 168.7,260.8 169.2,261.1 169.7,261.2 170.2,261.2 170.7,261.5 171.2,261.4 171.7,260.9 172.2,261.0 172.7,260.7 173.2,261.1 173.7,261.0 174.2,261.7 174.7,261.0 175.2,260.5 175.7,260.8 176.2,261.0 176.7,260.6 177.2,260.7 177.7,260.9 178.2,261.0 178.7,260.9 179.2,260.7 179.7,261.1 180.2,260.8 180.7,260.8 181.2,260.6 181.7,260.7 182.2,261.1 182.7,260.5 183.2,260.9 183.7,261.1 184.2,260.8 184.7,260.9 185.2,260.6 185.7,261.2 186.2,261.1 186.7,260.9 187.2,260.4 187.7,260.6 188.2,261.1 188.7,261.3 189.2,260.9 189.7,261.1 190.2,260.7 190.7,260.8 191.2,260.8 191.7,260.9 192.2,260.4 192.7,261.0 193.2,261.1 193.7,260.5 194.2,260.4 194.7,260.9 195.2,260.6 195.7,260.2 196.2,261.0 196.7,260.8 197.2,260.6 197.7,261.3 198.2,260.8 198.7,260.5 199.2,260.7 199.7,260.5 200.2,260.5 200.7,260.8 201.2,260.6 201.7,260.6 202.2,261.1 202.7,260.9 203.2,260.9 203.7,260.8 204.2,260.8 204.7,261.0 205.2,260.7 205.7,261.1 206.2,260.4 206.7,260.6 207.2,260.3 207.7,260.5 208.2,260.8 208.7,261.0 209.2,260.4 209.7,260.6 210.2,260.5 210.7,260.4 211.2,260.3 211.7,260.6 212.2,260.1 212.7,260.6 213.2,260.6 213.7,260.4 214.2,260.3 214.7,260.2 215.2,261.0 215.7,260.2 216.2,260.9 216.7,260.7 217.2,260.4 217.7,260.2 218.2,260.8 218.7,260.9 219.2,260.3 219.7,260.4" fill="none" stroke="#231f20" stroke-width="1.05" stroke-linejoin="round"/>
<polyline points="32.7,262.9 33.2,262.6 33.7,263.2 34.2,262.3 34.7,262.7 35.2,262.1 35.7,263.3 36.2,262.3 36.7,261.8 37.2,262.6 37.7,262.6 38.2,263.4 38.7,262.7 39.2,263.0 39.7,263.3 40.2,263.9 40.7,263.6 41.2,264.3 41.7,264.5 42.2,264.5 42.7,264.9 43.2,264.9 43.7,264.4 44.2,264.8 44.7,263.5 45.2,264.0 45.7,263.7 46.2,263.1 46.7,262.7 47.2,262.7 47.7,262.8 48.2,262.8 48.7,262.6 49.2,262.8 49.7,262.2 50.2,262.5 50.7,261.8 51.2,262.6 51.7,262.4 52.2,262.2 52.7,262.7 53.2,262.5 53.7,261.3 54.2,262.3 54.7,261.8 55.2,262.7 55.7,263.2 56.2,262.1 56.7,262.3 57.2,262.2 57.7,262.4 58.2,262.6 58.7,262.8 59.2,262.1 59.7,263.0 60.2,262.2 60.7,262.7 61.2,263.1 61.7,263.2 62.2,262.8 62.7,263.1 63.2,263.5 63.7,264.0 64.2,264.8 64.7,264.2 65.2,264.8 65.7,264.7 66.2,264.3 66.7,263.9 67.2,263.9 67.7,263.3 68.2,263.2 68.7,262.9 69.2,263.2 69.7,261.8 70.2,262.8 70.7,262.2 71.2,262.1 71.7,261.9 72.2,261.5 72.7,262.0 73.2,261.9 73.7,262.3 74.2,261.6 74.7,262.6 75.2,262.2 75.7,262.0 76.2,261.8 76.7,261.8 77.2,261.7 77.7,261.9 78.2,262.1 78.7,262.0 79.2,261.6 79.7,262.0 80.2,261.8 80.7,262.2 81.2,262.8 81.7,262.4 82.2,262.1 82.7,261.6 83.2,261.7 83.7,261.7 84.2,262.6 84.7,262.1 85.2,262.4 85.7,262.3 86.2,262.6 86.7,263.1 87.2,262.5 87.7,262.8 88.2,262.7 88.7,263.5 89.2,263.0 89.7,263.1 90.2,263.3 90.7,263.5 91.2,264.5 91.7,265.5 92.2,264.7 92.7,265.8 93.2,266.0 93.7,266.1 94.2,266.9 94.7,267.6 95.2,268.3 95.7,270.0 96.2,269.7 96.7,271.6 97.2,272.8 97.7,273.9 98.2,275.7 98.7,277.7 99.2,279.5 99.7,281.8 100.2,284.5 100.7,286.3 101.2,290.7 101.7,294.4 102.2,297.8 102.7,301.9 103.2,305.5 103.7,310.6 104.2,315.1 104.7,319.8 105.2,324.7 105.7,327.9 106.2,331.1 106.7,332.4 107.2,333.6 107.7,333.1 108.2,331.0 108.7,328.1 109.2,325.2 109.7,319.9 110.2,315.3 110.7,310.8 111.2,306.9 111.7,302.9 112.2,298.2 112.7,294.2 113.2,290.9 113.7,288.5 114.2,285.1 114.7,283.6 115.2,281.6 115.7,279.4 116.2,278.1 116.7,276.8 117.2,276.1 117.7,274.3 118.2,274.5 118.7,273.5 119.2,273.0 119.7,273.2 120.2,273.2 120.7,273.2 121.2,273.4 121.7,274.2 122.2,275.8 122.7,277.0 123.2,277.7 123.7,279.3 124.2,280.4 124.7,282.5 125.2,284.9 125.7,287.0 126.2,289.9 126.7,293.5 127.2,296.9 127.7,300.5 128.2,305.1 128.7,309.1 129.2,313.9 129.7,317.7 130.2,321.4 130.7,324.7 131.2,326.9 131.7,328.0 132.2,328.2 132.7,327.5 133.2,325.2 133.7,322.3 134.2,317.5 134.7,313.8 135.2,309.4 135.7,305.2 136.2,300.7 136.7,296.7 137.2,293.4 137.7,289.8 138.2,286.2 138.7,284.2 139.2,281.6 139.7,278.8 140.2,277.3 140.7,275.0 141.2,274.0 141.7,272.1 142.2,270.7 142.7,269.7 143.2,268.6 143.7,268.1 144.2,267.3 144.7,266.5 145.2,265.7 145.7,264.1 146.2,264.9 146.7,263.8 147.2,264.1 147.7,264.1 148.2,263.5 148.7,263.0 149.2,262.9 149.7,262.7 150.2,262.3 150.7,262.1 151.2,261.9 151.7,262.5 152.2,262.0 152.7,262.2 153.2,261.7 153.7,261.7 154.2,261.6 154.7,261.7 155.2,261.8 155.7,261.5 156.2,261.2 156.7,261.1 157.2,261.9 157.7,261.2 158.2,261.2 158.7,261.8 159.2,261.6 159.7,261.4 160.2,261.1 160.7,262.0 161.2,261.3 161.7,261.4 162.2,261.1 162.7,260.6 163.2,260.7 163.7,261.3 164.2,261.2 164.7,261.0 165.2,260.7 165.7,260.6 166.2,261.0 166.7,260.6 167.2,261.4 167.7,261.5 168.2,262.0 168.7,261.4 169.2,260.8 169.7,260.7 170.2,259.8 170.7,260.8 171.2,261.0 171.7,261.4 172.2,261.2 172.7,261.2 173.2,261.1 173.7,261.2 174.2,261.5 174.7,260.6 175.2,260.8 175.7,260.5 176.2,261.5 176.7,261.4 177.2,261.2 177.7,260.5 178.2,261.0 178.7,260.9 179.2,261.0 179.7,260.9 180.2,261.1 180.7,260.8 181.2,261.2 181.7,261.0 182.2,260.8 182.7,260.9 183.2,260.7 183.7,261.2 184.2,260.8 184.7,261.0 185.2,260.7 185.7,260.3 186.2,261.2 186.7,260.5 187.2,261.1 187.7,261.0 188.2,260.3 188.7,260.5 189.2,260.6 189.7,260.5 190.2,260.4 190.7,261.1 191.2,260.7 191.7,260.9 192.2,260.6 192.7,260.9 193.2,260.5 193.7,260.8 194.2,261.0 194.7,260.8 195.2,260.6 195.7,260.4 196.2,260.8 196.7,260.9 197.2,260.7 197.7,260.5 198.2,260.9 198.7,261.6 199.2,260.6 199.7,260.8 200.2,260.8 200.7,259.8 201.2,260.7 201.7,260.4 202.2,261.2 202.7,260.6 203.2,260.4 203.7,260.6 204.2,260.7 204.7,260.5 205.2,260.6 205.7,260.2 206.2,260.6 206.7,260.9 207.2,261.3 207.7,260.9 208.2,260.7 208.7,261.0 209.2,261.0 209.7,261.2 210.2,261.0 210.7,260.6 211.2,260.7 211.7,260.6 212.2,260.7 212.7,260.6 213.2,260.3 213.7,259.8 214.2,260.3 214.7,259.8 215.2,260.6 215.7,260.5 216.2,260.0 216.7,260.8 217.2,260.8 217.7,260.6 218.2,261.1 218.7,261.2 219.2,260.1 219.7,260.9" fill="none" stroke="#ed1c24" stroke-width="1.05" stroke-linejoin="round"/>
<polyline points="32.7,262.6 33.2,262.6 33.7,262.7 34.2,262.3 34.7,262.3 35.2,262.3 35.7,262.3 36.2,262.4 36.7,262.1 37.2,262.2 37.7,262.6 38.2,262.4 38.7,262.5 39.2,262.0 39.7,262.2 40.2,262.3 40.7,262.4 41.2,262.3 41.7,262.6 42.2,262.4 42.7,262.4 43.2,262.4 43.7,262.6 44.2,262.3 44.7,262.7 45.2,262.5 45.7,262.4 46.2,262.4 46.7,262.5 47.2,262.6 47.7,262.6 48.2,262.4 48.7,262.5 49.2,262.4 49.7,262.6 50.2,262.3 50.7,261.8 51.2,262.6 51.7,262.3 52.2,262.0 52.7,262.2 53.2,262.1 53.7,262.8 54.2,262.4 54.7,261.9 55.2,262.4 55.7,262.2 56.2,262.7 56.7,262.0 57.2,261.7 57.7,262.2 58.2,262.1 58.7,262.1 59.2,261.7 59.7,262.3 60.2,262.6 60.7,261.7 61.2,262.5 61.7,262.0 62.2,262.8 62.7,262.3 63.2,262.1 63.7,262.4 64.2,262.3 64.7,262.0 65.2,262.3 65.7,262.0 66.2,261.7 66.7,262.6 67.2,262.0 67.7,262.0 68.2,262.2 68.7,261.7 69.2,261.8 69.7,262.0 70.2,262.0 70.7,262.1 71.2,262.4 71.7,262.0 72.2,262.2 72.7,262.2 73.2,261.8 73.7,262.1 74.2,261.8 74.7,262.3 75.2,262.2 75.7,262.0 76.2,261.7 76.7,262.1 77.2,261.8 77.7,262.2 78.2,262.0 78.7,261.8 79.2,262.2 79.7,262.2 80.2,261.9 80.7,262.3 81.2,261.9 81.7,261.9 82.2,262.0 82.7,261.8 83.2,261.9 83.7,262.0 84.2,262.4 84.7,262.4 85.2,261.9 85.7,262.4 86.2,262.0 86.7,262.1 87.2,262.3 87.7,262.2 88.2,262.7 88.7,262.2 89.2,261.9 89.7,262.6 90.2,262.2 90.7,262.3 91.2,261.7 91.7,262.8 92.2,262.8 92.7,262.9 93.2,263.1 93.7,263.5 94.2,263.2 94.7,263.7 95.2,263.5 95.7,263.9 96.2,264.6 96.7,264.9 97.2,264.9 97.7,265.8 98.2,266.3 98.7,266.9 99.2,268.0 99.7,268.7 100.2,269.4 100.7,270.8 101.2,272.9 101.7,273.7 102.2,276.0 102.7,278.2 103.2,280.6 103.7,282.8 104.2,286.0 104.7,289.4 105.2,293.1 105.7,296.4 106.2,299.9 106.7,303.8 107.2,306.7 107.7,308.6 108.2,309.4 108.7,309.6 109.2,308.2 109.7,306.2 110.2,302.7 110.7,299.5 111.2,295.8 111.7,292.0 112.2,288.8 112.7,285.6 113.2,282.6 113.7,280.2 114.2,277.4 114.7,275.8 115.2,274.2 115.7,272.7 116.2,271.6 116.7,269.9 117.2,268.9 117.7,268.6 118.2,268.1 118.7,268.0 119.2,267.3 119.7,266.6 120.2,266.9 120.7,266.5 121.2,266.4 121.7,267.6 122.2,267.3 122.7,267.8 123.2,268.3 123.7,269.2 124.2,269.7 124.7,270.9 125.2,271.4 125.7,272.7 126.2,275.0 126.7,276.8 127.2,278.6 127.7,281.0 128.2,283.6 128.7,286.4 129.2,290.1 129.7,293.3 130.2,296.7 130.7,300.0 131.2,303.1 131.7,305.2 132.2,306.7 132.7,306.5 133.2,306.1 133.7,304.8 134.2,301.5 134.7,298.4 135.2,295.3 135.7,291.8 136.2,288.3 136.7,284.6 137.2,282.2 137.7,279.2 138.2,277.0 138.7,275.3 139.2,273.3 139.7,272.0 140.2,271.2 140.7,269.4 141.2,268.3 141.7,267.0 142.2,266.3 142.7,265.5 143.2,265.0 143.7,264.4 144.2,264.0 144.7,263.7 145.2,263.2 145.7,262.8 146.2,262.5 146.7,262.8 147.2,262.5 147.7,262.5 148.2,262.4 148.7,261.9 149.2,262.1 149.7,261.4 150.2,262.3 150.7,261.9 151.2,261.5 151.7,261.2 152.2,261.6 152.7,260.9 153.2,261.2 153.7,261.5 154.2,261.3 154.7,261.2 155.2,261.5 155.7,261.0 156.2,261.3 156.7,261.1 157.2,261.0 157.7,261.3 158.2,260.9 158.7,261.6 159.2,261.0 159.7,261.7 160.2,260.9 160.7,261.3 161.2,260.8 161.7,260.8 162.2,261.2 162.7,261.3 163.2,260.8 163.7,261.4 164.2,260.9 164.7,261.1 165.2,261.2 165.7,261.2 166.2,260.6 166.7,261.5 167.2,261.2 167.7,261.0 168.2,260.8 168.7,260.6 169.2,260.7 169.7,261.2 170.2,260.9 170.7,260.7 171.2,260.9 171.7,261.4 172.2,260.9 172.7,260.9 173.2,261.3 173.7,261.1 174.2,261.0 174.7,260.8 175.2,260.6 175.7,260.7 176.2,260.8 176.7,260.9 177.2,261.0 177.7,261.1 178.2,261.0 178.7,261.0 179.2,260.7 179.7,260.4 180.2,260.8 180.7,260.7 181.2,260.7 181.7,260.8 182.2,260.6 182.7,260.6 183.2,260.9 183.7,260.9 184.2,260.7 184.7,261.0 185.2,260.8 185.7,260.6 186.2,260.9 186.7,261.3 187.2,260.7 187.7,261.1 188.2,261.2 188.7,261.2 189.2,260.6 189.7,261.3 190.2,260.8 190.7,260.7 191.2,260.7 191.7,260.9 192.2,260.8 192.7,260.7 193.2,261.1 193.7,260.6 194.2,260.5 194.7,261.0 195.2,260.9 195.7,261.0 196.2,260.5 196.7,261.0 197.2,260.9 197.7,261.2 198.2,260.4 198.7,260.8 199.2,260.6 199.7,260.3 200.2,260.5 200.7,261.0 201.2,260.6 201.7,260.5 202.2,260.9 202.7,260.9 203.2,260.9 203.7,260.5 204.2,260.7 204.7,260.9 205.2,260.5 205.7,260.5 206.2,260.9 206.7,261.0 207.2,260.3 207.7,260.0 208.2,260.3 208.7,260.4 209.2,260.6 209.7,260.8 210.2,260.6 210.7,260.4 211.2,260.6 211.7,260.3 212.2,260.6 212.7,260.4 213.2,261.2 213.7,260.8 214.2,260.4 214.7,260.3 215.2,260.4 215.7,260.1 216.2,260.4 216.7,260.3 217.2,260.7 217.7,260.4 218.2,260.3 218.7,260.2 219.2,260.2 219.7,260.5" fill="none" stroke="#4560b8" stroke-width="1.05" stroke-linejoin="round"/>
<polyline points="32.7,261.9 33.2,262.3 33.7,261.8 34.2,262.2 34.7,262.0 35.2,262.0 35.7,261.5 36.2,261.6 36.7,262.1 37.2,262.3 37.7,262.0 38.2,262.1 38.7,261.8 39.2,261.8 39.7,261.8 40.2,262.2 40.7,262.0 41.2,261.9 41.7,261.8 42.2,262.0 42.7,262.0 43.2,261.7 43.7,262.3 44.2,261.9 44.7,261.9 45.2,262.2 45.7,262.1 46.2,261.8 46.7,262.0 47.2,261.6 47.7,261.7 48.2,261.3 48.7,262.1 49.2,261.3 49.7,262.0 50.2,261.6 50.7,261.6 51.2,261.8 51.7,261.9 52.2,261.9 52.7,262.2 53.2,261.9 53.7,262.0 54.2,261.6 54.7,261.9 55.2,261.8 55.7,261.6 56.2,261.7 56.7,261.7 57.2,261.8 57.7,261.8 58.2,261.6 58.7,261.5 59.2,261.9 59.7,261.3 60.2,261.6 60.7,262.1 61.2,261.0 61.7,261.5 62.2,261.9 62.7,261.3 63.2,262.3 63.7,261.0 64.2,262.0 64.7,262.0 65.2,261.9 65.7,261.6 66.2,261.7 66.7,261.4 67.2,261.8 67.7,261.3 68.2,261.6 68.7,261.9 69.2,261.3 69.7,261.5 70.2,261.6 70.7,261.3 71.2,261.9 71.7,261.7 72.2,261.2 72.7,261.6 73.2,261.4 73.7,261.4 74.2,261.6 74.7,261.4 75.2,261.8 75.7,261.4 76.2,261.8 76.7,261.5 77.2,261.7 77.7,261.4 78.2,261.4 78.7,261.2 79.2,261.6 79.7,261.7 80.2,262.0 80.7,261.8 81.2,261.6 81.7,261.4 82.2,261.6 82.7,261.5 83.2,261.8 83.7,261.7 84.2,261.3 84.7,261.3 85.2,261.8 85.7,261.6 86.2,261.4 86.7,261.8 87.2,261.4 87.7,261.4 88.2,261.4 88.7,261.0 89.2,261.8 89.7,261.3 90.2,261.5 90.7,261.4 91.2,261.9 91.7,261.7 92.2,261.8 92.7,261.4 93.2,261.9 93.7,261.6 94.2,262.2 94.7,262.3 95.2,262.4 95.7,263.1 96.2,262.9 96.7,263.2 97.2,263.3 97.7,263.6 98.2,264.2 98.7,264.7 99.2,264.6 99.7,265.7 100.2,266.3 100.7,267.1 101.2,267.9 101.7,268.5 102.2,269.7 102.7,271.8 103.2,272.9 103.7,274.3 104.2,276.6 104.7,278.6 105.2,280.4 105.7,282.6 106.2,284.9 106.7,287.3 107.2,288.6 107.7,289.4 108.2,289.6 108.7,289.0 109.2,287.0 109.7,285.6 110.2,283.4 110.7,281.0 111.2,278.9 111.7,276.9 112.2,274.9 112.7,272.9 113.2,271.5 113.7,270.8 114.2,268.8 114.7,267.7 115.2,267.3 115.7,266.6 116.2,265.9 116.7,265.0 117.2,265.1 117.7,264.3 118.2,264.0 118.7,263.9 119.2,263.9 119.7,264.0 120.2,264.0 120.7,263.9 121.2,264.2 121.7,264.2 122.2,264.6 122.7,264.4 123.2,264.7 123.7,265.8 124.2,265.9 124.7,266.9 125.2,267.8 125.7,268.6 126.2,269.8 126.7,271.6 127.2,272.1 127.7,274.7 128.2,276.9 128.7,278.5 129.2,280.7 129.7,283.1 130.2,285.5 130.7,286.7 131.2,288.4 131.7,289.2 132.2,289.4 132.7,288.6 133.2,287.4 133.7,285.3 134.2,283.3 134.7,280.8 135.2,278.6 135.7,276.6 136.2,274.6 136.7,272.6 137.2,271.7 137.7,269.8 138.2,268.3 138.7,267.9 139.2,266.5 139.7,266.0 140.2,265.2 140.7,264.6 141.2,264.1 141.7,263.4 142.2,263.2 142.7,263.4 143.2,262.0 143.7,262.3 144.2,262.2 144.7,261.6 145.2,261.4 145.7,262.1 146.2,261.4 146.7,261.9 147.2,261.4 147.7,261.2 148.2,261.2 148.7,261.2 149.2,261.3 149.7,261.1 150.2,261.0 150.7,260.9 151.2,261.2 151.7,261.0 152.2,260.6 152.7,260.6 153.2,260.9 153.7,260.6 154.2,260.6 154.7,260.5 155.2,260.7 155.7,260.8 156.2,260.9 156.7,260.7 157.2,261.2 157.7,260.7 158.2,261.5 158.7,260.9 159.2,260.8 159.7,260.5 160.2,259.9 160.7,260.6 161.2,260.7 161.7,261.1 162.2,260.3 162.7,261.1 163.2,260.5 163.7,260.8 164.2,260.0 164.7,260.6 165.2,260.5 165.7,260.7 166.2,260.6 166.7,260.3 167.2,260.8 167.7,260.7 168.2,260.7 168.7,260.8 169.2,260.8 169.7,260.5 170.2,260.2 170.7,260.2 171.2,260.9 171.7,260.7 172.2,260.5 172.7,260.4 173.2,260.5 173.7,260.5 174.2,260.4 174.7,260.3 175.2,261.0 175.7,260.5 176.2,260.3 176.7,260.1 177.2,260.3 177.7,260.6 178.2,260.6 178.7,260.4 179.2,260.4 179.7,260.4 180.2,260.1 180.7,260.7 181.2,260.5 181.7,261.0 182.2,260.2 182.7,260.4 183.2,260.6 183.7,260.3 184.2,260.0 184.7,260.1 185.2,260.4 185.7,260.4 186.2,260.3 186.7,260.6 187.2,260.6 187.7,260.4 188.2,260.3 188.7,260.3 189.2,260.5 189.7,260.6 190.2,260.3 190.7,260.4 191.2,260.2 191.7,259.9 192.2,260.0 192.7,260.5 193.2,260.4 193.7,260.7 194.2,260.3 194.7,260.5 195.2,260.6 195.7,260.5 196.2,260.1 196.7,260.2 197.2,260.3 197.7,260.0 198.2,260.3 198.7,260.5 199.2,260.1 199.7,260.7 200.2,260.1 200.7,260.2 201.2,260.1 201.7,260.0 202.2,260.3 202.7,260.2 203.2,260.6 203.7,260.3 204.2,260.3 204.7,260.1 205.2,259.8 205.7,260.1 206.2,259.9 206.7,260.4 207.2,260.1 207.7,260.5 208.2,260.3 208.7,260.3 209.2,260.2 209.7,260.2 210.2,260.3 210.7,260.3 211.2,259.9 211.7,260.2 212.2,260.7 212.7,260.1 213.2,260.0 213.7,259.9 214.2,259.7 214.7,260.4 215.2,260.1 215.7,260.1 216.2,260.5 216.7,260.7 217.2,259.8 217.7,260.3 218.2,260.2 218.7,260.1 219.2,260.1 219.7,260.0" fill="none" stroke="#12a04b" stroke-width="1.05" stroke-linejoin="round"/>
<polyline points="32.7,261.9 33.2,261.6 33.7,261.6 34.2,261.8 34.7,261.7 35.2,261.6 35.7,261.6 36.2,261.9 36.7,261.6 37.2,261.4 37.7,261.2 38.2,261.4 38.7,261.2 39.2,261.5 39.7,261.5 40.2,260.9 40.7,261.4 41.2,261.6 41.7,261.4 42.2,261.2 42.7,261.7 43.2,261.2 43.7,261.1 44.2,261.1 44.7,261.4 45.2,261.6 45.7,261.7 46.2,261.4 46.7,261.1 47.2,261.2 47.7,261.1 48.2,261.3 48.7,260.9 49.2,261.4 49.7,261.5 50.2,261.3 50.7,261.4 51.2,261.1 51.7,260.9 52.2,261.1 52.7,261.6 53.2,261.5 53.7,261.2 54.2,261.6 54.7,261.2 55.2,261.6 55.7,261.4 56.2,261.1 56.7,261.4 57.2,261.0 57.7,261.0 58.2,260.9 58.7,261.3 59.2,261.2 59.7,261.2 60.2,261.1 60.7,261.6 61.2,261.1 61.7,261.0 62.2,261.5 62.7,261.5 63.2,261.3 63.7,260.7 64.2,261.0 64.7,261.3 65.2,261.2 65.7,261.5 66.2,260.8 66.7,261.3 67.2,261.0 67.7,261.5 68.2,261.1 68.7,261.4 69.2,260.9 69.7,260.8 70.2,260.8 70.7,260.9 71.2,260.8 71.7,261.4 72.2,261.4 72.7,261.1 73.2,260.8 73.7,261.0 74.2,260.9 74.7,261.4 75.2,261.1 75.7,261.2 76.2,260.9 76.7,260.5 77.2,260.8 77.7,260.7 78.2,261.1 78.7,261.0 79.2,260.8 79.7,260.9 80.2,261.4 80.7,260.8 81.2,260.8 81.7,260.9 82.2,260.8 82.7,260.9 83.2,261.1 83.7,261.4 84.2,260.5 84.7,261.0 85.2,261.0 85.7,260.9 86.2,260.9 86.7,260.9 87.2,261.2 87.7,260.8 88.2,260.9 88.7,261.0 89.2,261.0 89.7,261.0 90.2,261.3 90.7,261.0 91.2,261.1 91.7,261.1 92.2,260.9 92.7,260.9 93.2,260.9 93.7,261.3 94.2,261.1 94.7,261.1 95.2,261.5 95.7,261.7 96.2,261.3 96.7,262.3 97.2,262.0 97.7,262.2 98.2,262.7 98.7,262.7 99.2,262.8 99.7,263.9 100.2,263.4 100.7,264.1 101.2,264.9 101.7,265.0 102.2,266.0 102.7,266.9 103.2,268.2 103.7,268.4 104.2,269.6 104.7,270.9 105.2,271.8 105.7,272.4 106.2,273.6 106.7,274.1 107.2,274.3 107.7,274.3 108.2,273.8 108.7,272.8 109.2,271.8 109.7,270.4 110.2,269.6 110.7,268.6 111.2,267.5 111.7,266.7 112.2,265.7 112.7,265.6 113.2,265.2 113.7,264.0 114.2,263.8 114.7,263.2 115.2,263.3 115.7,262.8 116.2,262.5 116.7,262.2 117.2,262.1 117.7,261.7 118.2,262.1 118.7,261.7 119.2,261.9 119.7,261.8 120.2,262.1 120.7,261.9 121.2,262.2 121.7,261.8 122.2,262.4 122.7,262.3 123.2,262.7 123.7,262.9 124.2,263.4 124.7,263.1 125.2,264.1 125.7,264.2 126.2,265.4 126.7,265.3 127.2,266.3 127.7,267.0 128.2,268.8 128.7,269.0 129.2,270.4 129.7,271.1 130.2,271.6 130.7,272.5 131.2,273.1 131.7,272.8 132.2,272.7 132.7,271.8 133.2,271.0 133.7,270.0 134.2,269.1 134.7,268.5 135.2,267.2 135.7,266.3 136.2,265.4 136.7,264.6 137.2,264.6 137.7,263.4 138.2,263.0 138.7,262.8 139.2,262.4 139.7,262.7 140.2,261.3 140.7,261.8 141.2,261.7 141.7,261.1 142.2,261.0 142.7,261.2 143.2,261.4 143.7,260.6 144.2,260.4 144.7,260.9 145.2,261.0 145.7,260.5 146.2,260.0 146.7,260.9 147.2,260.4 147.7,260.7 148.2,260.4 148.7,260.3 149.2,260.2 149.7,260.7 150.2,260.7 150.7,259.8 151.2,260.0 151.7,260.7 152.2,260.2 152.7,259.9 153.2,260.2 153.7,260.2 154.2,260.2 154.7,260.1 155.2,260.1 155.7,260.1 156.2,260.3 156.7,260.0 157.2,260.1 157.7,260.1 158.2,260.5 158.7,260.2 159.2,260.1 159.7,260.3 160.2,260.2 160.7,260.4 161.2,260.3 161.7,260.6 162.2,260.5 162.7,260.1 163.2,260.0 163.7,260.3 164.2,260.2 164.7,260.1 165.2,259.7 165.7,259.6 166.2,260.2 166.7,260.3 167.2,260.3 167.7,259.7 168.2,260.3 168.7,259.9 169.2,260.1 169.7,260.1 170.2,259.8 170.7,259.9 171.2,259.5 171.7,259.8 172.2,259.6 172.7,260.1 173.2,260.0 173.7,260.2 174.2,260.1 174.7,259.8 175.2,260.1 175.7,259.9 176.2,260.1 176.7,260.0 177.2,259.7 177.7,259.9 178.2,260.0 178.7,259.9 179.2,260.2 179.7,260.4 180.2,259.8 180.7,259.8 181.2,259.3 181.7,259.9 182.2,259.8 182.7,259.4 183.2,260.0 183.7,260.0 184.2,259.7 184.7,259.8 185.2,259.6 185.7,260.1 186.2,259.5 186.7,259.8 187.2,260.3 187.7,259.9 188.2,260.0 188.7,259.8 189.2,259.5 189.7,259.8 190.2,259.9 190.7,259.6 191.2,259.9 191.7,260.1 192.2,260.1 192.7,259.4 193.2,259.5 193.7,259.4 194.2,260.0 194.7,259.9 195.2,259.9 195.7,259.5 196.2,259.5 196.7,259.8 197.2,259.8 197.7,259.5 198.2,259.8 198.7,259.9 199.2,259.8 199.7,259.5 200.2,259.2 200.7,259.6 201.2,259.7 201.7,259.6 202.2,259.6 202.7,259.5 203.2,259.9 203.7,259.7 204.2,259.7 204.7,259.4 205.2,259.5 205.7,259.7 206.2,259.4 206.7,259.3 207.2,259.6 207.7,259.9 208.2,259.7 208.7,260.0 209.2,259.6 209.7,259.5 210.2,259.3 210.7,259.5 211.2,259.9 211.7,259.7 212.2,259.8 212.7,259.8 213.2,259.6 213.7,259.5 214.2,259.6 214.7,259.7 215.2,259.7 215.7,259.7 216.2,259.6 216.7,259.3 217.2,259.5 217.7,259.3 218.2,259.8 218.7,259.0 219.2,259.5 219.7,260.1" fill="none" stroke="#fbad3c" stroke-width="1.05" stroke-linejoin="round"/>
<polyline points="29.6,399.7 30.1,399.5 30.6,399.8 31.1,400.1 31.6,399.7 32.1,399.9 32.6,399.8 33.1,399.7 33.6,400.6 34.1,399.8 34.6,399.7 35.1,399.7 35.6,399.9 36.1,399.9 36.6,400.0 37.1,399.9 37.6,399.5 38.1,400.0 38.6,399.9 39.1,399.9 39.6,399.7 40.1,399.9 40.6,400.0 41.1,400.3 41.6,400.0 42.1,400.6 42.6,400.8 43.1,400.7 43.6,401.1 44.1,401.3 44.6,402.1 45.1,401.7 45.6,402.7 46.1,402.9 46.6,403.7 47.1,404.5 47.6,404.4 48.1,404.6 48.6,404.2 49.1,404.6 49.6,403.8 50.1,403.4 50.6,402.2 51.1,401.8 51.6,401.9 52.1,401.3 52.6,400.9 53.1,400.8 53.6,400.2 54.1,400.6 54.6,400.2 55.1,400.2 55.6,399.8 56.1,400.0 56.6,399.7 57.1,400.0 57.6,400.0 58.1,399.9 58.6,399.8 59.1,399.8 59.6,398.9 60.1,399.8 60.6,399.5 61.1,399.6 61.6,399.5 62.1,399.2 62.6,399.4 63.1,399.7 63.6,399.8 64.1,399.3 64.6,399.2 65.1,399.8 65.6,399.2 66.1,400.0 66.6,399.5 67.1,399.2 67.6,399.7 68.1,399.9 68.6,399.1 69.1,399.8 69.6,399.4 70.1,399.8 70.6,399.3 71.1,399.0 71.6,399.6 72.1,399.7 72.6,400.0 73.1,399.9 73.6,399.6 74.1,399.4 74.6,399.3 75.1,399.4 75.6,399.3 76.1,399.4 76.6,398.9 77.1,399.6 77.6,399.5 78.1,400.2 78.6,399.8 79.1,399.5 79.6,399.8 80.1,399.4 80.6,399.7 81.1,399.4 81.6,400.3 82.1,400.2 82.6,399.9 83.1,400.2 83.6,400.6 84.1,400.7 84.6,400.8 85.1,400.7 85.6,400.9 86.1,401.4 86.6,401.8 87.1,401.7 87.6,401.9 88.1,402.9 88.6,402.8 89.1,403.7 89.6,404.1 90.1,404.8 90.6,405.7 91.1,406.2 91.6,407.0 92.1,407.5 92.6,408.6 93.1,410.1 93.6,411.6 94.1,413.0 94.6,414.8 95.1,416.1 95.6,418.1 96.1,420.5 96.6,422.8 97.1,425.5 97.6,428.3 98.1,432.2 98.6,435.3 99.1,439.7 99.6,443.5 100.1,448.6 100.6,452.7 101.1,457.8 101.6,461.7 102.1,466.1 102.6,470.1 103.1,472.4 103.6,474.4 104.1,475.0 104.6,474.0 105.1,473.0 105.6,470.4 106.1,466.5 106.6,463.0 107.1,458.3 107.6,453.8 108.1,449.6 108.6,445.2 109.1,441.9 109.6,437.3 110.1,434.5 110.6,431.5 111.1,428.1 111.6,425.8 112.1,424.3 112.6,422.3 113.1,421.1 113.6,420.1 114.1,418.9 114.6,418.0 115.1,417.2 115.6,417.8 116.1,417.6 116.6,418.2 117.1,418.8 117.6,419.2 118.1,421.0 118.6,422.2 119.1,423.8 119.6,425.2 120.1,427.6 120.6,430.2 121.1,433.1 121.6,436.2 122.1,440.1 122.6,443.9 123.1,448.0 123.6,452.1 124.1,456.8 124.6,460.7 125.1,463.8 125.6,467.7 126.1,470.4 126.6,472.2 127.1,472.4 127.6,471.7 128.1,469.9 128.6,467.5 129.1,463.7 129.6,459.7 130.1,455.2 130.6,451.1 131.1,446.3 131.6,441.7 132.1,438.1 132.6,433.9 133.1,430.6 133.6,427.4 134.1,424.6 134.6,421.9 135.1,419.1 135.6,417.0 136.1,414.8 136.6,413.8 137.1,411.9 137.6,410.7 138.1,409.0 138.6,407.5 139.1,407.4 139.6,406.1 140.1,405.3 140.6,404.6 141.1,404.1 141.6,403.5 142.1,402.4 142.6,402.6 143.1,401.8 143.6,401.5 144.1,401.7 144.6,401.2 145.1,400.6 145.6,400.0 146.1,400.3 146.6,400.2 147.1,399.9 147.6,399.4 148.1,399.4 148.6,399.2 149.1,399.4 149.6,399.5 150.1,399.4 150.6,398.9 151.1,399.1 151.6,399.1 152.1,398.8 152.6,398.8 153.1,399.4 153.6,398.9 154.1,399.0 154.6,398.6 155.1,398.7 155.6,398.3 156.1,398.7 156.6,398.9 157.1,399.2 157.6,398.9 158.1,398.8 158.6,398.6 159.1,398.4 159.6,398.5 160.1,398.7 160.6,398.3 161.1,398.8 161.6,398.3 162.1,398.1 162.6,398.3 163.1,398.1 163.6,398.2 164.1,398.8 164.6,398.4 165.1,398.5 165.6,398.8 166.1,398.8 166.6,398.3 167.1,398.8 167.6,398.5 168.1,398.4 168.6,398.6 169.1,398.1 169.6,398.2 170.1,398.4 170.6,398.6 171.1,398.3 171.6,398.4 172.1,398.6 172.6,398.8 173.1,398.6 173.6,398.7 174.1,398.3 174.6,398.3 175.1,398.5 175.6,398.3 176.1,398.2 176.6,398.8 177.1,398.3 177.6,398.1 178.1,398.5 178.6,398.8 179.1,398.4 179.6,398.6 180.1,398.2 180.6,398.2 181.1,398.1 181.6,398.3 182.1,398.8 182.6,398.0 183.1,398.7 183.6,398.0 184.1,398.2 184.6,398.5 185.1,398.4 185.6,398.3 186.1,397.9 186.6,398.4 187.1,398.0 187.6,398.9 188.1,398.2 188.6,398.3 189.1,398.0 189.6,398.1 190.1,397.9 190.6,398.5 191.1,398.2 191.6,398.4 192.1,398.0 192.6,398.1 193.1,398.5 193.6,398.0 194.1,397.7 194.6,398.3 195.1,397.9 195.6,398.1 196.1,398.4 196.6,398.0 197.1,398.4 197.6,398.0 198.1,398.5 198.6,398.5 199.1,398.0 199.6,398.1 200.1,397.9 200.6,398.2 201.1,398.4 201.6,397.8 202.1,398.3 202.6,397.8 203.1,397.9 203.6,397.6 204.1,398.6 204.6,398.1 205.1,398.1 205.6,397.9 206.1,398.3 206.6,397.5 207.1,398.1 207.6,398.6 208.1,398.0 208.6,398.1 209.1,398.2 209.6,397.8 210.1,398.0 210.6,398.3 211.1,398.1 211.6,398.1 212.1,397.9 212.6,398.1 213.1,398.0 213.6,398.4 214.1,398.2 214.6,397.9 215.1,397.4 215.6,398.2 216.1,398.2 216.6,397.7 217.1,397.5 217.6,397.7 218.1,398.2 218.6,397.7 219.1,397.8 219.6,398.0 220.1,398.2 220.6,397.9 221.1,397.9 221.6,397.8 222.1,398.3 222.6,398.2 223.1,397.9 223.6,397.6" fill="none" stroke="#231f20" stroke-width="1.05" stroke-linejoin="round"/>
<polyline points="29.6,399.5 30.1,400.0 30.6,399.5 31.1,400.1 31.6,399.9 32.1,399.9 32.6,400.0 33.1,399.9 33.6,399.5 34.1,399.6 34.6,400.6 35.1,399.3 35.6,399.6 36.1,400.1 36.6,399.7 37.1,399.4 37.6,399.3 38.1,399.9 38.6,400.1 39.1,400.2 39.6,399.7 40.1,400.1 40.6,399.3 41.1,399.7 41.6,399.4 42.1,399.7 42.6,399.9 43.1,400.0 43.6,399.3 44.1,400.1 44.6,399.5 45.1,399.3 45.6,399.6 46.1,399.1 46.6,399.6 47.1,399.7 47.6,399.6 48.1,399.8 48.6,399.5 49.1,399.6 49.6,399.1 50.1,399.6 50.6,399.3 51.1,399.4 51.6,399.6 52.1,399.6 52.6,399.0 53.1,399.0 53.6,399.5 54.1,399.7 54.6,399.7 55.1,399.9 55.6,400.0 56.1,399.7 56.6,399.5 57.1,399.2 57.6,399.2 58.1,399.4 58.6,399.6 59.1,399.6 59.6,399.5 60.1,399.4 60.6,399.7 61.1,399.6 61.6,399.6 62.1,399.6 62.6,399.3 63.1,399.1 63.6,399.6 64.1,399.6 64.6,399.4 65.1,399.3 65.6,400.2 66.1,399.2 66.6,399.4 67.1,399.5 67.6,399.0 68.1,399.5 68.6,400.1 69.1,399.7 69.6,399.6 70.1,399.6 70.6,399.4 71.1,399.7 71.6,399.3 72.1,399.2 72.6,399.4 73.1,399.7 73.6,399.5 74.1,399.6 74.6,398.7 75.1,399.8 75.6,400.2 76.1,399.9 76.6,399.3 77.1,399.1 77.6,399.5 78.1,399.1 78.6,399.7 79.1,399.3 79.6,399.8 80.1,399.9 80.6,398.8 81.1,399.6 81.6,399.3 82.1,399.1 82.6,399.4 83.1,399.6 83.6,400.1 84.1,399.3 84.6,400.3 85.1,400.7 85.6,400.3 86.1,400.4 86.6,400.4 87.1,400.1 87.6,400.9 88.1,401.1 88.6,401.5 89.1,402.4 89.6,402.1 90.1,402.3 90.6,403.1 91.1,402.6 91.6,403.2 92.1,404.1 92.6,404.6 93.1,405.9 93.6,406.4 94.1,408.1 94.6,409.2 95.1,410.2 95.6,411.2 96.1,413.2 96.6,415.1 97.1,416.5 97.6,419.4 98.1,422.2 98.6,424.9 99.1,428.7 99.6,432.3 100.1,435.6 100.6,440.2 101.1,444.5 101.6,449.8 102.1,454.1 102.6,459.2 103.1,463.1 103.6,466.6 104.1,468.5 104.6,469.0 105.1,469.8 105.6,467.4 106.1,465.1 106.6,461.1 107.1,456.8 107.6,452.6 108.1,447.4 108.6,443.2 109.1,437.9 109.6,434.7 110.1,430.7 110.6,427.5 111.1,424.6 111.6,422.2 112.1,420.5 112.6,417.4 113.1,416.5 113.6,414.9 114.1,414.5 114.6,413.2 115.1,412.9 115.6,412.2 116.1,412.5 116.6,412.6 117.1,412.4 117.6,413.1 118.1,413.2 118.6,414.8 119.1,416.2 119.6,417.1 120.1,419.5 120.6,420.4 121.1,422.8 121.6,425.7 122.1,429.1 122.6,432.8 123.1,436.6 123.6,440.8 124.1,445.6 124.6,449.8 125.1,454.2 125.6,458.6 126.1,463.8 126.6,465.4 127.1,468.4 127.6,469.8 128.1,469.0 128.6,466.8 129.1,464.2 129.6,460.7 130.1,456.4 130.6,450.9 131.1,446.7 131.6,441.8 132.1,437.6 132.6,433.6 133.1,429.1 133.6,425.3 134.1,422.8 134.6,420.5 135.1,417.7 135.6,415.3 136.1,414.1 136.6,411.2 137.1,410.4 137.6,408.5 138.1,407.5 138.6,406.5 139.1,406.1 139.6,404.4 140.1,403.8 140.6,402.8 141.1,402.9 141.6,402.1 142.1,402.0 142.6,401.1 143.1,401.0 143.6,401.2 144.1,400.5 144.6,400.5 145.1,400.3 145.6,399.8 146.1,399.2 146.6,399.9 147.1,399.5 147.6,399.7 148.1,398.5 148.6,398.6 149.1,398.3 149.6,398.7 150.1,399.3 150.6,399.1 151.1,398.8 151.6,398.9 152.1,399.0 152.6,398.6 153.1,398.9 153.6,398.7 154.1,397.9 154.6,398.5 155.1,399.1 155.6,398.5 156.1,398.6 156.6,398.4 157.1,398.4 157.6,399.0 158.1,398.5 158.6,398.2 159.1,397.5 159.6,398.3 160.1,397.8 160.6,397.9 161.1,398.8 161.6,398.8 162.1,397.8 162.6,398.8 163.1,398.7 163.6,398.2 164.1,398.7 164.6,397.9 165.1,398.1 165.6,398.0 166.1,398.1 166.6,398.8 167.1,398.0 167.6,398.0 168.1,398.1 168.6,398.5 169.1,398.3 169.6,398.7 170.1,398.2 170.6,398.0 171.1,398.2 171.6,398.4 172.1,398.1 172.6,398.5 173.1,399.0 173.6,398.2 174.1,398.4 174.6,398.9 175.1,398.1 175.6,398.1 176.1,398.0 176.6,398.5 177.1,398.5 177.6,398.3 178.1,398.4 178.6,398.8 179.1,398.6 179.6,397.8 180.1,398.3 180.6,398.4 181.1,398.6 181.6,398.2 182.1,398.1 182.6,398.1 183.1,397.7 183.6,398.3 184.1,398.1 184.6,398.4 185.1,397.9 185.6,398.1 186.1,397.9 186.6,397.9 187.1,398.5 187.6,398.1 188.1,398.4 188.6,397.8 189.1,398.3 189.6,397.6 190.1,398.0 190.6,398.0 191.1,398.4 191.6,398.3 192.1,398.1 192.6,398.5 193.1,398.3 193.6,398.4 194.1,398.4 194.6,398.1 195.1,398.1 195.6,398.3 196.1,398.0 196.6,398.3 197.1,398.5 197.6,398.4 198.1,398.0 198.6,397.7 199.1,398.1 199.6,398.1 200.1,398.5 200.6,398.0 201.1,398.0 201.6,398.4 202.1,397.9 202.6,398.0 203.1,398.7 203.6,398.6 204.1,398.3 204.6,398.2 205.1,397.7 205.6,398.3 206.1,398.1 206.6,398.1 207.1,397.9 207.6,398.0 208.1,398.0 208.6,398.1 209.1,398.5 209.6,398.1 210.1,397.4 210.6,397.7 211.1,397.5 211.6,397.7 212.1,398.2 212.6,398.1 213.1,397.8 213.6,398.1 214.1,397.7 214.6,397.5 215.1,397.5 215.6,397.7 216.1,398.5 216.6,397.5 217.1,398.4 217.6,398.4 218.1,397.9 218.6,397.9 219.1,397.7 219.6,397.9 220.1,398.1 220.6,397.9 221.1,398.3 221.6,398.3 222.1,398.0 222.6,398.0 223.1,397.9 223.6,398.0" fill="none" stroke="#ed1c24" stroke-width="1.05" stroke-linejoin="round"/>
<polyline points="29.6,399.5 30.1,399.9 30.6,399.8 31.1,399.6 31.6,400.3 32.1,399.5 32.6,399.5 33.1,399.8 33.6,399.3 34.1,399.5 34.6,399.4 35.1,399.5 35.6,399.7 36.1,399.8 36.6,400.0 37.1,399.9 37.6,400.0 38.1,399.9 38.6,399.6 39.1,400.0 39.6,399.6 40.1,399.5 40.6,400.1 41.1,399.9 41.6,399.7 42.1,399.9 42.6,399.9 43.1,399.3 43.6,399.6 44.1,399.3 44.6,399.7 45.1,399.5 45.6,400.0 46.1,399.8 46.6,399.4 47.1,399.6 47.6,399.3 48.1,399.6 48.6,399.7 49.1,399.7 49.6,399.1 50.1,399.5 50.6,399.7 51.1,399.7 51.6,399.9 52.1,399.2 52.6,399.7 53.1,399.4 53.6,399.6 54.1,399.6 54.6,399.7 55.1,399.4 55.6,399.6 56.1,399.2 56.6,399.2 57.1,399.7 57.6,399.5 58.1,399.1 58.6,399.3 59.1,399.5 59.6,399.9 60.1,399.7 60.6,399.7 61.1,399.0 61.6,399.4 62.1,399.6 62.6,399.6 63.1,399.6 63.6,399.4 64.1,399.9 64.6,399.8 65.1,399.4 65.6,399.2 66.1,399.9 66.6,399.3 67.1,399.7 67.6,399.9 68.1,399.2 68.6,399.5 69.1,399.3 69.6,399.5 70.1,399.5 70.6,399.9 71.1,399.5 71.6,399.4 72.1,399.7 72.6,399.3 73.1,399.3 73.6,399.9 74.1,399.1 74.6,399.2 75.1,399.4 75.6,399.1 76.1,398.8 76.6,399.6 77.1,399.1 77.6,399.2 78.1,399.2 78.6,399.1 79.1,399.0 79.6,399.3 80.1,399.9 80.6,399.5 81.1,399.5 81.6,398.9 82.1,399.3 82.6,399.0 83.1,399.5 83.6,399.2 84.1,399.3 84.6,399.3 85.1,399.1 85.6,398.9 86.1,399.4 86.6,399.0 87.1,399.0 87.6,399.3 88.1,399.2 88.6,399.4 89.1,399.6 89.6,399.5 90.1,399.5 90.6,399.5 91.1,399.8 91.6,399.1 92.1,399.8 92.6,399.5 93.1,399.5 93.6,400.0 94.1,400.0 94.6,400.4 95.1,400.7 95.6,400.1 96.1,400.9 96.6,401.7 97.1,401.7 97.6,402.2 98.1,402.3 98.6,402.5 99.1,403.1 99.6,404.3 100.1,405.1 100.6,405.6 101.1,406.8 101.6,408.1 102.1,409.0 102.6,410.9 103.1,413.2 103.6,415.3 104.1,416.8 104.6,419.5 105.1,421.1 105.6,423.0 106.1,424.4 106.6,426.3 107.1,426.5 107.6,427.0 108.1,425.5 108.6,424.0 109.1,421.6 109.6,420.3 110.1,417.6 110.6,415.5 111.1,413.0 111.6,412.0 112.1,410.3 112.6,408.5 113.1,407.4 113.6,406.4 114.1,405.6 114.6,404.6 115.1,404.3 115.6,403.3 116.1,402.7 116.6,402.3 117.1,401.5 117.6,401.7 118.1,402.0 118.6,401.7 119.1,401.4 119.6,401.7 120.1,401.2 120.6,401.7 121.1,402.1 121.6,402.5 122.1,402.4 122.6,403.3 123.1,404.0 123.6,404.1 124.1,405.1 124.6,405.4 125.1,406.3 125.6,408.1 126.1,409.3 126.6,410.9 127.1,412.3 127.6,414.2 128.1,416.4 128.6,418.6 129.1,419.9 129.6,421.1 130.1,423.0 130.6,423.4 131.1,423.3 131.6,422.5 132.1,421.8 132.6,419.6 133.1,417.8 133.6,415.3 134.1,413.6 134.6,411.8 135.1,410.3 135.6,408.9 136.1,407.3 136.6,406.7 137.1,405.0 137.6,404.2 138.1,403.6 138.6,402.6 139.1,402.5 139.6,402.0 140.1,401.3 140.6,401.5 141.1,400.7 141.6,400.5 142.1,399.9 142.6,399.5 143.1,399.6 143.6,399.5 144.1,399.3 144.6,399.5 145.1,398.6 145.6,398.9 146.1,398.6 146.6,399.3 147.1,398.8 147.6,398.8 148.1,398.6 148.6,399.0 149.1,398.7 149.6,398.8 150.1,398.2 150.6,399.0 151.1,398.8 151.6,398.8 152.1,398.9 152.6,398.6 153.1,398.6 153.6,398.8 154.1,398.7 154.6,398.5 155.1,398.6 155.6,398.4 156.1,398.7 156.6,398.8 157.1,398.5 157.6,399.0 158.1,398.1 158.6,398.5 159.1,399.0 159.6,398.4 160.1,398.1 160.6,398.9 161.1,398.6 161.6,398.2 162.1,398.7 162.6,398.2 163.1,398.1 163.6,398.4 164.1,398.4 164.6,398.2 165.1,398.4 165.6,398.2 166.1,398.5 166.6,398.4 167.1,398.6 167.6,398.3 168.1,398.1 168.6,398.1 169.1,398.4 169.6,398.8 170.1,398.6 170.6,398.2 171.1,398.6 171.6,398.1 172.1,398.6 172.6,398.3 173.1,398.6 173.6,398.5 174.1,398.3 174.6,398.5 175.1,398.1 175.6,398.3 176.1,398.6 176.6,399.4 177.1,398.5 177.6,398.4 178.1,398.1 178.6,398.6 179.1,397.9 179.6,398.1 180.1,398.4 180.6,398.0 181.1,398.7 181.6,398.6 182.1,398.2 182.6,398.2 183.1,398.0 183.6,397.9 184.1,398.4 184.6,398.4 185.1,398.4 185.6,398.3 186.1,398.1 186.6,398.3 187.1,397.9 187.6,398.2 188.1,398.6 188.6,398.6 189.1,398.1 189.6,398.1 190.1,398.6 190.6,398.7 191.1,397.8 191.6,398.1 192.1,398.3 192.6,398.5 193.1,398.0 193.6,398.3 194.1,398.1 194.6,398.8 195.1,398.3 195.6,398.1 196.1,398.1 196.6,398.4 197.1,398.3 197.6,397.9 198.1,398.2 198.6,397.8 199.1,397.9 199.6,397.8 200.1,397.8 200.6,397.9 201.1,397.9 201.6,398.2 202.1,398.3 202.6,398.0 203.1,397.8 203.6,398.3 204.1,397.6 204.6,397.6 205.1,398.3 205.6,398.2 206.1,398.3 206.6,398.0 207.1,397.7 207.6,397.9 208.1,398.2 208.6,397.8 209.1,397.9 209.6,397.7 210.1,397.7 210.6,398.2 211.1,398.1 211.6,397.7 212.1,397.7 212.6,397.9 213.1,398.1 213.6,397.7 214.1,397.9 214.6,397.4 215.1,397.7 215.6,398.1 216.1,398.2 216.6,397.7 217.1,397.8 217.6,398.1 218.1,397.8 218.6,397.8 219.1,398.1 219.6,398.0 220.1,398.2 220.6,398.1 221.1,397.8 221.6,397.9 222.1,397.9 222.6,397.6 223.1,397.7 223.6,398.1" fill="none" stroke="#4560b8" stroke-width="1.05" stroke-linejoin="round"/>
<polyline points="29.6,398.9 30.1,399.5 30.6,399.4 31.1,399.2 31.6,399.4 32.1,399.4 32.6,399.6 33.1,399.2 33.6,399.2 34.1,399.2 34.6,399.7 35.1,399.5 35.6,399.0 36.1,399.1 36.6,399.0 37.1,399.2 37.6,399.3 38.1,399.8 38.6,398.7 39.1,399.5 39.6,399.3 40.1,399.0 40.6,399.1 41.1,399.1 41.6,399.2 42.1,399.4 42.6,398.8 43.1,399.5 43.6,399.1 44.1,399.5 44.6,399.2 45.1,399.4 45.6,399.3 46.1,399.4 46.6,399.1 47.1,398.9 47.6,399.3 48.1,399.3 48.6,399.6 49.1,398.6 49.6,399.0 50.1,399.4 50.6,398.8 51.1,399.0 51.6,399.6 52.1,399.4 52.6,398.8 53.1,399.4 53.6,399.4 54.1,399.2 54.6,399.1 55.1,399.1 55.6,398.8 56.1,398.9 56.6,399.2 57.1,399.1 57.6,399.5 58.1,398.9 58.6,398.4 59.1,398.9 59.6,399.1 60.1,399.1 60.6,399.0 61.1,398.8 61.6,399.4 62.1,398.8 62.6,399.1 63.1,398.9 63.6,398.7 64.1,399.3 64.6,398.3 65.1,398.7 65.6,399.0 66.1,398.8 66.6,399.1 67.1,398.9 67.6,398.8 68.1,399.5 68.6,398.9 69.1,398.9 69.6,398.6 70.1,398.7 70.6,399.1 71.1,399.0 71.6,398.9 72.1,398.7 72.6,399.0 73.1,398.4 73.6,398.8 74.1,398.8 74.6,398.6 75.1,398.9 75.6,398.7 76.1,398.6 76.6,399.3 77.1,399.0 77.6,399.1 78.1,398.8 78.6,399.1 79.1,399.0 79.6,399.1 80.1,399.4 80.6,398.7 81.1,398.9 81.6,398.8 82.1,397.9 82.6,398.4 83.1,398.8 83.6,398.9 84.1,398.6 84.6,399.1 85.1,399.1 85.6,398.7 86.1,399.1 86.6,399.2 87.1,398.9 87.6,398.5 88.1,399.1 88.6,398.7 89.1,398.7 89.6,398.8 90.1,398.7 90.6,399.1 91.1,399.1 91.6,399.2 92.1,399.1 92.6,398.8 93.1,399.0 93.6,399.3 94.1,399.0 94.6,400.0 95.1,399.3 95.6,399.3 96.1,399.9 96.6,399.9 97.1,400.0 97.6,400.1 98.1,400.6 98.6,401.0 99.1,401.4 99.6,401.5 100.1,402.2 100.6,403.0 101.1,403.7 101.6,403.5 102.1,405.1 102.6,406.2 103.1,407.7 103.6,409.3 104.1,411.1 104.6,412.7 105.1,414.4 105.6,416.1 106.1,418.0 106.6,418.4 107.1,419.1 107.6,419.2 108.1,418.1 108.6,416.2 109.1,415.1 109.6,413.2 110.1,411.5 110.6,410.1 111.1,408.4 111.6,406.8 112.1,405.9 112.6,404.7 113.1,403.8 113.6,403.1 114.1,402.4 114.6,401.7 115.1,401.2 115.6,400.9 116.1,400.4 116.6,400.0 117.1,400.5 117.6,399.9 118.1,399.9 118.6,399.7 119.1,399.7 119.6,399.7 120.1,399.8 120.6,399.6 121.1,400.2 121.6,399.9 122.1,400.5 122.6,400.0 123.1,400.5 123.6,401.4 124.1,401.6 124.6,402.0 125.1,402.8 125.6,403.2 126.1,404.4 126.6,404.8 127.1,406.4 127.6,407.6 128.1,409.4 128.6,411.1 129.1,412.3 129.6,414.6 130.1,415.5 130.6,416.3 131.1,416.9 131.6,417.9 132.1,417.0 132.6,415.8 133.1,414.3 133.6,412.6 134.1,411.5 134.6,409.5 135.1,408.4 135.6,406.6 136.1,404.8 136.6,404.6 137.1,403.4 137.6,402.6 138.1,402.4 138.6,401.4 139.1,401.3 139.6,400.5 140.1,400.0 140.6,400.0 141.1,399.5 141.6,399.7 142.1,399.5 142.6,399.1 143.1,399.1 143.6,398.9 144.1,398.6 144.6,398.8 145.1,398.5 145.6,398.6 146.1,398.2 146.6,398.4 147.1,398.4 147.6,398.1 148.1,398.2 148.6,398.1 149.1,398.4 149.6,398.0 150.1,398.3 150.6,398.5 151.1,398.2 151.6,397.7 152.1,398.2 152.6,398.4 153.1,398.0 153.6,398.4 154.1,398.2 154.6,398.2 155.1,398.0 155.6,397.9 156.1,398.0 156.6,398.1 157.1,398.2 157.6,398.2 158.1,398.0 158.6,398.1 159.1,398.1 159.6,397.6 160.1,397.8 160.6,397.8 161.1,398.0 161.6,397.9 162.1,397.9 162.6,397.8 163.1,398.2 163.6,398.1 164.1,397.6 164.6,398.0 165.1,397.7 165.6,398.4 166.1,397.9 166.6,397.9 167.1,398.0 167.6,397.9 168.1,397.9 168.6,398.3 169.1,398.0 169.6,398.1 170.1,398.2 170.6,397.7 171.1,398.3 171.6,398.1 172.1,398.1 172.6,397.7 173.1,398.1 173.6,398.0 174.1,397.8 174.6,398.5 175.1,398.0 175.6,397.8 176.1,397.9 176.6,398.1 177.1,398.1 177.6,398.0 178.1,398.2 178.6,398.2 179.1,397.5 179.6,397.7 180.1,397.6 180.6,397.9 181.1,398.2 181.6,398.0 182.1,397.6 182.6,397.7 183.1,398.1 183.6,397.7 184.1,397.8 184.6,397.9 185.1,397.3 185.6,398.0 186.1,397.9 186.6,397.9 187.1,397.5 187.6,397.6 188.1,397.6 188.6,397.8 189.1,397.8 189.6,397.8 190.1,398.2 190.6,398.1 191.1,397.5 191.6,397.6 192.1,398.1 192.6,397.6 193.1,398.0 193.6,398.1 194.1,397.6 194.6,397.6 195.1,397.7 195.6,397.5 196.1,397.4 196.6,397.6 197.1,397.9 197.6,397.5 198.1,397.6 198.6,397.5 199.1,397.3 199.6,398.0 200.1,397.1 200.6,397.5 201.1,397.8 201.6,397.3 202.1,397.8 202.6,397.9 203.1,397.4 203.6,397.7 204.1,397.3 204.6,397.7 205.1,397.6 205.6,397.6 206.1,397.9 206.6,397.7 207.1,397.9 207.6,397.7 208.1,397.3 208.6,397.6 209.1,397.7 209.6,397.2 210.1,397.9 210.6,397.6 211.1,397.6 211.6,397.3 212.1,397.5 212.6,397.6 213.1,397.4 213.6,397.5 214.1,397.0 214.6,397.8 215.1,397.2 215.6,396.9 216.1,397.2 216.6,397.3 217.1,397.6 217.6,397.2 218.1,397.5 218.6,397.2 219.1,398.0 219.6,397.6 220.1,397.9 220.6,397.2 221.1,397.6 221.6,397.2 222.1,397.6 222.6,397.6 223.1,397.0 223.6,397.1" fill="none" stroke="#12a04b" stroke-width="1.05" stroke-linejoin="round"/>
<polyline points="29.6,398.5 30.1,398.4 30.6,398.6 31.1,398.5 31.6,398.4 32.1,398.8 32.6,398.9 33.1,398.4 33.6,398.6 34.1,398.8 34.6,398.7 35.1,398.6 35.6,398.9 36.1,399.0 36.6,398.9 37.1,398.7 37.6,399.2 38.1,399.2 38.6,398.6 39.1,398.7 39.6,399.0 40.1,398.5 40.6,398.8 41.1,398.7 41.6,398.5 42.1,398.6 42.6,398.3 43.1,398.5 43.6,398.2 44.1,399.2 44.6,399.0 45.1,399.0 45.6,398.7 46.1,398.9 46.6,399.0 47.1,398.9 47.6,398.9 48.1,398.4 48.6,398.7 49.1,398.5 49.6,398.3 50.1,398.3 50.6,398.7 51.1,398.9 51.6,398.2 52.1,399.0 52.6,398.9 53.1,398.5 53.6,398.5 54.1,398.5 54.6,398.8 55.1,398.5 55.6,398.3 56.1,398.6 56.6,398.0 57.1,398.6 57.6,398.8 58.1,398.6 58.6,398.7 59.1,398.6 59.6,398.7 60.1,398.5 60.6,398.3 61.1,398.4 61.6,398.5 62.1,398.8 62.6,398.9 63.1,398.6 63.6,398.3 64.1,398.3 64.6,398.4 65.1,398.8 65.6,398.5 66.1,398.4 66.6,398.2 67.1,398.7 67.6,398.5 68.1,398.4 68.6,398.4 69.1,398.8 69.6,398.4 70.1,398.8 70.6,398.7 71.1,398.4 71.6,398.6 72.1,398.4 72.6,398.2 73.1,398.3 73.6,398.1 74.1,398.5 74.6,398.4 75.1,398.5 75.6,398.6 76.1,397.6 76.6,398.4 77.1,397.9 77.6,398.4 78.1,398.1 78.6,398.3 79.1,398.7 79.6,397.9 80.1,398.4 80.6,398.3 81.1,397.8 81.6,398.5 82.1,398.3 82.6,398.2 83.1,398.1 83.6,399.1 84.1,398.2 84.6,397.8 85.1,398.0 85.6,398.2 86.1,398.2 86.6,398.3 87.1,398.0 87.6,398.4 88.1,398.2 88.6,398.0 89.1,398.1 89.6,398.2 90.1,398.5 90.6,398.5 91.1,398.3 91.6,398.4 92.1,398.5 92.6,399.0 93.1,398.4 93.6,398.7 94.1,398.9 94.6,398.5 95.1,398.9 95.6,399.1 96.1,399.1 96.6,399.5 97.1,399.8 97.6,400.1 98.1,400.1 98.6,400.5 99.1,401.5 99.6,401.1 100.1,402.0 100.6,402.8 101.1,403.4 101.6,404.4 102.1,405.3 102.6,406.6 103.1,408.0 103.6,409.1 104.1,410.6 104.6,412.0 105.1,413.3 105.6,414.4 106.1,414.7 106.6,415.2 107.1,414.9 107.6,414.0 108.1,412.6 108.6,410.6 109.1,409.8 109.6,407.8 110.1,406.6 110.6,405.9 111.1,404.1 111.6,403.6 112.1,402.7 112.6,401.9 113.1,401.2 113.6,401.0 114.1,400.4 114.6,400.4 115.1,400.2 115.6,399.3 116.1,399.3 116.6,399.2 117.1,398.9 117.6,398.8 118.1,399.0 118.6,399.0 119.1,398.6 119.6,398.9 120.1,399.3 120.6,398.9 121.1,399.1 121.6,400.0 122.1,400.1 122.6,399.7 123.1,400.1 123.6,400.9 124.1,401.0 124.6,401.8 125.1,402.4 125.6,403.4 126.1,403.6 126.6,404.7 127.1,406.1 127.6,408.0 128.1,409.1 128.6,410.2 129.1,412.2 129.6,413.5 130.1,414.2 130.6,414.7 131.1,414.8 131.6,414.4 132.1,413.1 132.6,411.9 133.1,410.3 133.6,408.7 134.1,407.2 134.6,406.2 135.1,404.8 135.6,403.8 136.1,403.2 136.6,402.3 137.1,401.8 137.6,400.6 138.1,400.6 138.6,399.9 139.1,399.5 139.6,399.2 140.1,399.4 140.6,399.1 141.1,398.6 141.6,398.3 142.1,398.4 142.6,398.2 143.1,398.6 143.6,397.8 144.1,397.6 144.6,397.9 145.1,397.9 145.6,397.9 146.1,398.0 146.6,398.3 147.1,397.7 147.6,397.6 148.1,397.3 148.6,397.8 149.1,397.9 149.6,397.6 150.1,398.0 150.6,397.7 151.1,398.0 151.6,397.7 152.1,397.4 152.6,397.4 153.1,397.2 153.6,397.2 154.1,397.7 154.6,397.8 155.1,398.1 155.6,397.6 156.1,397.5 156.6,397.3 157.1,397.8 157.6,397.6 158.1,397.4 158.6,397.7 159.1,397.7 159.6,397.1 160.1,397.7 160.6,397.6 161.1,397.4 161.6,397.4 162.1,397.9 162.6,397.9 163.1,397.9 163.6,397.2 164.1,397.3 164.6,397.7 165.1,397.2 165.6,397.3 166.1,397.0 166.6,397.9 167.1,397.7 167.6,397.6 168.1,397.5 168.6,397.3 169.1,397.3 169.6,397.6 170.1,397.2 170.6,397.7 171.1,397.3 171.6,397.2 172.1,397.7 172.6,397.4 173.1,397.5 173.6,397.3 174.1,396.8 174.6,397.5 175.1,397.0 175.6,397.6 176.1,397.0 176.6,396.9 177.1,397.4 177.6,397.5 178.1,397.4 178.6,397.0 179.1,397.6 179.6,397.0 180.1,397.2 180.6,397.1 181.1,397.2 181.6,397.5 182.1,397.1 182.6,397.4 183.1,397.5 183.6,396.9 184.1,397.0 184.6,397.2 185.1,397.1 185.6,397.3 186.1,396.8 186.6,397.4 187.1,397.4 187.6,397.2 188.1,396.9 188.6,397.2 189.1,397.1 189.6,397.4 190.1,397.2 190.6,397.4 191.1,397.1 191.6,397.6 192.1,396.6 192.6,397.0 193.1,397.3 193.6,396.8 194.1,397.4 194.6,396.9 195.1,397.2 195.6,396.9 196.1,397.1 196.6,397.2 197.1,397.1 197.6,397.1 198.1,397.7 198.6,397.1 199.1,396.9 199.6,397.4 200.1,397.3 200.6,397.4 201.1,397.6 201.6,396.9 202.1,397.4 202.6,397.4 203.1,397.1 203.6,397.2 204.1,396.3 204.6,396.9 205.1,397.5 205.6,396.6 206.1,396.9 206.6,397.1 207.1,397.2 207.6,397.5 208.1,396.6 208.6,397.1 209.1,397.3 209.6,396.7 210.1,397.0 210.6,397.5 211.1,397.4 211.6,397.2 212.1,396.4 212.6,397.0 213.1,397.1 213.6,396.9 214.1,397.0 214.6,397.8 215.1,396.9 215.6,396.7 216.1,397.0 216.6,396.9 217.1,396.9 217.6,396.9 218.1,397.1 218.6,397.0 219.1,396.6 219.6,396.9 220.1,397.1 220.6,396.8 221.1,397.2 221.6,397.1 222.1,396.7 222.6,397.0 223.1,397.4 223.6,397.3" fill="none" stroke="#fbad3c" stroke-width="1.05" stroke-linejoin="round"/>
<polyline points="244.8,125.8 245.2,126.5 245.6,125.3 246.0,124.7 246.4,126.2 246.8,126.0 247.2,126.2 247.6,125.8 248.0,126.0 248.4,125.4 248.8,126.2 249.2,126.4 249.6,125.8 250.0,126.4 250.4,124.5 250.8,125.2 251.2,126.9 251.6,127.1 252.0,126.0 252.4,125.7 252.8,124.8 253.2,126.1 253.6,126.4 254.0,124.7 254.4,126.2 254.8,126.2 255.2,126.1 255.6,125.0 256.0,126.2 256.4,124.7 256.8,126.9 257.2,125.9 257.6,124.9 258.0,126.8 258.4,126.7 258.8,125.3 259.2,127.5 259.6,125.0 260.0,126.0 260.4,126.7 260.8,124.1 261.2,126.6 261.6,125.8 262.0,125.8 262.4,125.0 262.8,126.0 263.2,125.0 263.6,125.1 264.0,125.5 264.4,124.9 264.8,127.0 265.2,124.8 265.6,125.2 266.0,125.6 266.4,125.8 266.8,126.4 267.2,126.4 267.6,125.6 268.0,125.5 268.4,125.8 268.8,126.4 269.2,126.3 269.6,125.4 270.0,124.3 270.4,127.4 270.8,126.5 271.2,126.0 271.6,126.1 272.0,125.4 272.4,125.0 272.8,125.6 273.2,125.6 273.6,125.3 274.0,124.7 274.4,125.6 274.8,126.2 275.2,125.4 275.6,125.8 276.0,124.2 276.4,125.6 276.8,125.7 277.2,124.9 277.6,124.5 278.0,126.1 278.4,125.2 278.8,126.2 279.2,125.5 279.6,126.3 280.0,125.5 280.4,124.7 280.8,125.7 281.2,125.6 281.6,126.3 282.0,125.5 282.4,125.5 282.8,126.4 283.2,126.7 283.6,126.4 284.0,126.6 284.4,126.1 284.8,126.4 285.2,126.5 285.6,126.1 286.0,125.8 286.4,125.9 286.8,127.6 287.2,125.8 287.6,125.6 288.0,125.5 288.4,125.8 288.8,126.0 289.2,125.0 289.6,124.3 290.0,126.0 290.4,124.6 290.8,126.0 291.2,125.9 291.6,126.7 292.0,127.1 292.4,126.1 292.8,125.4 293.2,124.9 293.6,125.2 294.0,125.8 294.4,124.2 294.8,125.9 295.2,125.8 295.6,126.3 296.0,125.5 296.4,125.9 296.8,125.2 297.2,125.5 297.6,124.5 298.0,125.9 298.4,127.0 298.8,125.9 299.2,126.1 299.6,125.1 300.0,126.9 300.4,125.2 300.8,126.4 301.2,125.9 301.6,125.1 302.0,126.6 302.4,125.8 302.8,125.9 303.2,126.1 303.6,125.8 304.0,125.5 304.4,126.1 304.8,125.5 305.2,125.8 305.6,125.3 306.0,124.7 306.4,125.3 306.8,125.4 307.2,125.8 307.6,126.7 308.0,124.5 308.4,125.9 308.8,124.1 309.2,125.0 309.6,125.4 310.0,124.1 310.4,124.4 310.8,125.9 311.2,125.9 311.6,125.7 312.0,125.2 312.4,127.4 312.8,125.7 313.2,125.2 313.6,127.1 314.0,126.3 314.4,125.5 314.8,126.7 315.2,125.9 315.6,126.3 316.0,126.0 316.4,125.0 316.8,126.5 317.2,125.9 317.6,125.0 318.0,125.2 318.4,126.5 318.8,125.5 319.2,125.8 319.6,126.3 320.0,125.9 320.4,124.7 320.8,126.3 321.2,126.5 321.6,126.4 322.0,127.0 322.4,126.1 322.8,126.4 323.2,127.0 323.6,125.6 324.0,127.1 324.4,127.1 324.8,126.4 325.2,127.2 325.6,126.4 326.0,125.1 326.4,126.7 326.8,126.0 327.2,126.1 327.6,125.9 328.0,126.8 328.4,126.2 328.8,125.3 329.2,126.2 329.6,126.3 330.0,125.3 330.4,125.5 330.8,125.5 331.2,125.3 331.6,125.9 332.0,126.2 332.4,126.4 332.8,124.9 333.2,123.1 333.6,120.2 334.0,115.7 334.4,107.5 334.8,98.9 335.2,86.8 335.6,72.8 336.0,58.6 336.4,46.1 336.8,37.1 337.2,32.1 337.6,34.8 338.0,41.2 338.4,52.3 338.8,65.8 339.2,79.9 339.6,91.5 340.0,102.2 340.4,108.8 340.8,113.7 341.2,117.3 341.6,121.8 342.0,120.3 342.4,122.6 342.8,123.7 343.2,122.6 343.6,124.5 344.0,125.1 344.4,124.8 344.8,126.3 345.2,125.3 345.6,124.6 346.0,125.7 346.4,125.2 346.8,124.7 347.2,124.7 347.6,127.5 348.0,125.4 348.4,125.8 348.8,125.3 349.2,125.9 349.6,125.6 350.0,125.5 350.4,124.9 350.8,124.7 351.2,125.3 351.6,126.0 352.0,127.4 352.4,126.6 352.8,127.2 353.2,126.2 353.6,125.7 354.0,124.8 354.4,125.8 354.8,124.2 355.2,125.6 355.6,127.0 356.0,126.1 356.4,126.7 356.8,125.5 357.2,124.8 357.6,125.5 358.0,125.5 358.4,126.7 358.8,127.3 359.2,125.3 359.6,125.5 360.0,125.7 360.4,125.6 360.8,124.9 361.2,125.9 361.6,126.1 362.0,126.1 362.4,124.9 362.8,125.7 363.2,124.5 363.6,126.5 364.0,125.1 364.4,125.6 364.8,125.5 365.2,125.4 365.6,125.0 366.0,124.5 366.4,127.1 366.8,126.0 367.2,126.0 367.6,127.4 368.0,125.7 368.4,126.2 368.8,125.8 369.2,126.7 369.6,126.2 370.0,126.1 370.4,125.6 370.8,126.0 371.2,126.7 371.6,124.3 372.0,125.7 372.4,125.5 372.8,125.6 373.2,124.3 373.6,126.4 374.0,125.2 374.4,125.7 374.8,125.4 375.2,124.6 375.6,125.5 376.0,124.4 376.4,125.1 376.8,125.6 377.2,125.8 377.6,125.9 378.0,125.7 378.4,127.4 378.8,126.2 379.2,124.9 379.6,125.4 380.0,125.3 380.4,125.7 380.8,125.4 381.2,125.2 381.6,127.1 382.0,125.9 382.4,125.6 382.8,125.6 383.2,125.7 383.6,126.9 384.0,126.2 384.4,126.7 384.8,123.5 385.2,126.1 385.6,126.6 386.0,127.3 386.4,125.8 386.8,124.5 387.2,126.3 387.6,125.4 388.0,124.5 388.4,125.4 388.8,126.6 389.2,126.7 389.6,126.4 390.0,125.0 390.4,127.7 390.8,125.0 391.2,125.8 391.6,124.7 392.0,126.8 392.4,126.2 392.8,126.5 393.2,125.9 393.6,125.8 394.0,126.0 394.4,124.4 394.8,126.6 395.2,126.5 395.6,125.5 396.0,125.8 396.4,126.1 396.8,127.0 397.2,126.2 397.6,125.9 398.0,125.4 398.4,124.7 398.8,125.4 399.2,125.9 399.6,125.6 400.0,125.9 400.4,126.4 400.8,126.2 401.2,126.0 401.6,126.3 402.0,126.0 402.4,125.8 402.8,126.2 403.2,124.5 403.6,126.8 404.0,124.9 404.4,126.5 404.8,125.8 405.2,126.7 405.6,125.9 406.0,125.1 406.4,126.6 406.8,126.0 407.2,125.9 407.6,125.9 408.0,126.6 408.4,126.5 408.8,126.0 409.2,124.7 409.6,125.5 410.0,125.9 410.4,127.2 410.8,126.1 411.2,125.8 411.6,126.7 412.0,125.8 412.4,125.8 412.8,126.0 413.2,124.7 413.6,126.6 414.0,126.2 414.4,125.6 414.8,125.0 415.2,126.0 415.6,126.9 416.0,125.4 416.4,125.0 416.8,126.2 417.2,124.6 417.6,124.2 418.0,125.5 418.4,125.3 418.8,125.6 419.2,125.4 419.6,126.1 420.0,125.7 420.4,125.4 420.8,125.5 421.2,126.3" fill="none" stroke="#231f20" stroke-width="1.05" stroke-linejoin="round"/>
<polyline points="244.8,126.3 245.2,126.2 245.6,126.1 246.0,123.1 246.4,124.8 246.8,125.3 247.2,125.7 247.6,124.3 248.0,126.6 248.4,125.8 248.8,125.1 249.2,125.7 249.6,125.3 250.0,125.0 250.4,125.9 250.8,125.2 251.2,124.5 251.6,125.1 252.0,125.5 252.4,124.7 252.8,126.5 253.2,124.7 253.6,126.9 254.0,126.2 254.4,124.8 254.8,125.6 255.2,126.4 255.6,125.4 256.0,124.7 256.4,125.6 256.8,127.0 257.2,124.4 257.6,126.0 258.0,125.6 258.4,125.5 258.8,125.3 259.2,125.3 259.6,126.3 260.0,126.0 260.4,124.8 260.8,126.7 261.2,124.6 261.6,126.0 262.0,125.7 262.4,126.5 262.8,125.8 263.2,126.3 263.6,125.5 264.0,126.3 264.4,125.8 264.8,127.2 265.2,125.0 265.6,126.4 266.0,125.9 266.4,125.7 266.8,125.1 267.2,125.9 267.6,124.4 268.0,124.5 268.4,126.1 268.8,124.4 269.2,126.6 269.6,125.3 270.0,125.7 270.4,125.6 270.8,125.9 271.2,125.3 271.6,125.3 272.0,125.5 272.4,126.3 272.8,126.4 273.2,126.5 273.6,125.8 274.0,125.4 274.4,124.3 274.8,126.0 275.2,126.2 275.6,125.3 276.0,126.2 276.4,126.5 276.8,125.6 277.2,126.3 277.6,125.8 278.0,124.3 278.4,125.2 278.8,125.2 279.2,126.0 279.6,124.9 280.0,125.2 280.4,124.8 280.8,125.5 281.2,125.6 281.6,126.3 282.0,126.2 282.4,125.7 282.8,125.7 283.2,125.6 283.6,125.6 284.0,126.7 284.4,123.7 284.8,125.4 285.2,125.8 285.6,126.4 286.0,124.7 286.4,125.8 286.8,126.2 287.2,125.2 287.6,124.1 288.0,125.3 288.4,124.7 288.8,126.0 289.2,124.9 289.6,126.9 290.0,125.7 290.4,125.0 290.8,125.2 291.2,124.7 291.6,125.9 292.0,126.7 292.4,125.4 292.8,126.3 293.2,124.9 293.6,125.8 294.0,127.3 294.4,124.5 294.8,126.5 295.2,126.4 295.6,124.1 296.0,124.5 296.4,124.8 296.8,126.3 297.2,125.2 297.6,125.4 298.0,126.1 298.4,125.6 298.8,125.7 299.2,125.3 299.6,126.4 300.0,125.0 300.4,126.8 300.8,125.3 301.2,125.0 301.6,126.0 302.0,125.9 302.4,124.1 302.8,125.7 303.2,124.5 303.6,124.9 304.0,126.1 304.4,124.9 304.8,125.8 305.2,125.3 305.6,127.0 306.0,125.5 306.4,124.7 306.8,124.7 307.2,124.9 307.6,125.6 308.0,125.6 308.4,126.3 308.8,125.7 309.2,125.6 309.6,125.8 310.0,125.5 310.4,125.8 310.8,126.1 311.2,126.1 311.6,125.1 312.0,124.2 312.4,124.9 312.8,125.8 313.2,123.7 313.6,125.2 314.0,125.9 314.4,125.1 314.8,124.7 315.2,126.9 315.6,126.6 316.0,125.4 316.4,126.5 316.8,126.5 317.2,124.7 317.6,127.6 318.0,124.8 318.4,125.3 318.8,124.7 319.2,125.6 319.6,124.6 320.0,125.5 320.4,126.4 320.8,125.7 321.2,125.3 321.6,126.7 322.0,124.9 322.4,126.3 322.8,125.3 323.2,125.7 323.6,125.6 324.0,125.6 324.4,125.5 324.8,125.0 325.2,125.1 325.6,125.9 326.0,125.5 326.4,124.7 326.8,125.0 327.2,125.0 327.6,125.5 328.0,125.7 328.4,125.6 328.8,125.0 329.2,125.5 329.6,124.5 330.0,123.4 330.4,125.5 330.8,124.3 331.2,124.8 331.6,124.6 332.0,126.0 332.4,124.6 332.8,125.6 333.2,124.9 333.6,124.0 334.0,123.1 334.4,123.2 334.8,120.6 335.2,116.6 335.6,111.1 336.0,101.2 336.4,90.5 336.8,78.6 337.2,67.9 337.6,59.3 338.0,55.0 338.4,58.5 338.8,61.8 339.2,73.2 339.6,84.9 340.0,96.0 340.4,104.9 340.8,113.0 341.2,118.0 341.6,120.9 342.0,123.6 342.4,124.3 342.8,124.7 343.2,125.9 343.6,124.7 344.0,125.8 344.4,125.0 344.8,125.8 345.2,125.6 345.6,125.7 346.0,124.8 346.4,124.9 346.8,124.9 347.2,125.6 347.6,126.1 348.0,126.3 348.4,125.1 348.8,125.6 349.2,124.3 349.6,123.8 350.0,124.8 350.4,125.0 350.8,124.3 351.2,124.2 351.6,125.9 352.0,124.9 352.4,124.2 352.8,127.2 353.2,125.6 353.6,125.3 354.0,126.0 354.4,124.9 354.8,126.7 355.2,124.3 355.6,124.5 356.0,125.4 356.4,124.9 356.8,126.5 357.2,124.3 357.6,124.9 358.0,125.7 358.4,125.9 358.8,126.2 359.2,125.7 359.6,127.1 360.0,125.1 360.4,125.6 360.8,126.1 361.2,125.2 361.6,125.3 362.0,125.1 362.4,125.0 362.8,124.6 363.2,125.1 363.6,124.3 364.0,125.8 364.4,124.3 364.8,127.0 365.2,126.7 365.6,126.3 366.0,125.3 366.4,125.0 366.8,126.4 367.2,125.6 367.6,125.9 368.0,124.9 368.4,126.3 368.8,124.9 369.2,125.5 369.6,124.2 370.0,125.0 370.4,125.8 370.8,125.1 371.2,125.1 371.6,126.1 372.0,125.4 372.4,126.4 372.8,123.7 373.2,125.9 373.6,125.8 374.0,124.3 374.4,124.5 374.8,126.1 375.2,124.7 375.6,125.0 376.0,125.9 376.4,125.2 376.8,125.8 377.2,124.8 377.6,125.7 378.0,126.3 378.4,125.7 378.8,123.8 379.2,125.7 379.6,124.3 380.0,121.2 380.4,120.7 380.8,120.0 381.2,127.5 381.6,130.0 382.0,132.1 382.4,128.3 382.8,125.3 383.2,125.6 383.6,125.7 384.0,125.9 384.4,126.3 384.8,124.8 385.2,125.8 385.6,126.0 386.0,125.3 386.4,124.8 386.8,124.7 387.2,126.0 387.6,126.1 388.0,124.8 388.4,124.5 388.8,126.4 389.2,124.3 389.6,125.6 390.0,124.9 390.4,124.1 390.8,125.6 391.2,125.3 391.6,126.5 392.0,127.2 392.4,125.3 392.8,126.2 393.2,126.2 393.6,125.1 394.0,124.8 394.4,126.7 394.8,125.2 395.2,125.4 395.6,125.2 396.0,125.4 396.4,125.0 396.8,126.0 397.2,126.4 397.6,125.2 398.0,124.4 398.4,125.5 398.8,124.3 399.2,125.0 399.6,126.4 400.0,127.2 400.4,125.7 400.8,124.7 401.2,126.0 401.6,123.8 402.0,124.9 402.4,126.6 402.8,126.0 403.2,124.4 403.6,124.2 404.0,126.1 404.4,125.4 404.8,125.0 405.2,125.8 405.6,125.0 406.0,124.0 406.4,126.1 406.8,125.0 407.2,124.7 407.6,124.5 408.0,125.6 408.4,124.9 408.8,125.9 409.2,125.3 409.6,126.3 410.0,125.2 410.4,125.0 410.8,124.0 411.2,124.6 411.6,126.0 412.0,127.7 412.4,124.5 412.8,124.7 413.2,125.7 413.6,125.8 414.0,125.0 414.4,125.5 414.8,124.3 415.2,125.2 415.6,126.1 416.0,126.7 416.4,125.3 416.8,125.3 417.2,125.8 417.6,126.3 418.0,125.8 418.4,124.9 418.8,125.7 419.2,126.2 419.6,124.9 420.0,124.5 420.4,125.8 420.8,125.7 421.2,126.2" fill="none" stroke="#ed1c24" stroke-width="1.05" stroke-linejoin="round"/>
<polyline points="244.8,126.0 245.2,125.5 245.6,125.6 246.0,125.2 246.4,125.3 246.8,125.5 247.2,125.6 247.6,126.8 248.0,125.0 248.4,125.9 248.8,125.5 249.2,127.1 249.6,126.2 250.0,125.7 250.4,126.6 250.8,126.0 251.2,125.6 251.6,127.1 252.0,126.5 252.4,127.3 252.8,126.8 253.2,126.5 253.6,126.1 254.0,125.2 254.4,126.5 254.8,126.0 255.2,126.5 255.6,126.0 256.0,125.5 256.4,125.2 256.8,126.5 257.2,126.9 257.6,125.8 258.0,126.3 258.4,127.0 258.8,125.3 259.2,125.7 259.6,125.1 260.0,126.8 260.4,126.2 260.8,125.6 261.2,124.7 261.6,125.8 262.0,126.7 262.4,125.7 262.8,125.7 263.2,126.4 263.6,125.1 264.0,126.0 264.4,126.4 264.8,125.4 265.2,125.4 265.6,126.2 266.0,125.9 266.4,125.8 266.8,126.1 267.2,126.1 267.6,125.3 268.0,125.5 268.4,126.3 268.8,126.8 269.2,127.0 269.6,125.3 270.0,126.8 270.4,126.5 270.8,126.0 271.2,126.3 271.6,126.6 272.0,127.3 272.4,125.2 272.8,126.4 273.2,125.9 273.6,125.8 274.0,126.8 274.4,126.6 274.8,125.2 275.2,125.8 275.6,126.1 276.0,124.9 276.4,126.6 276.8,125.9 277.2,126.1 277.6,126.2 278.0,127.3 278.4,126.0 278.8,125.7 279.2,127.3 279.6,125.6 280.0,125.6 280.4,124.9 280.8,126.8 281.2,126.2 281.6,126.3 282.0,126.1 282.4,125.9 282.8,125.4 283.2,125.4 283.6,126.3 284.0,126.1 284.4,127.2 284.8,125.4 285.2,125.6 285.6,125.2 286.0,127.0 286.4,125.1 286.8,126.6 287.2,127.0 287.6,125.9 288.0,126.5 288.4,124.4 288.8,125.7 289.2,124.7 289.6,126.1 290.0,126.0 290.4,125.4 290.8,126.7 291.2,126.2 291.6,125.6 292.0,125.6 292.4,124.9 292.8,125.8 293.2,127.6 293.6,125.5 294.0,126.3 294.4,125.6 294.8,126.6 295.2,126.3 295.6,125.8 296.0,124.7 296.4,125.6 296.8,126.9 297.2,125.8 297.6,126.4 298.0,125.6 298.4,124.6 298.8,126.3 299.2,126.2 299.6,125.6 300.0,125.7 300.4,126.2 300.8,125.5 301.2,126.2 301.6,125.8 302.0,124.2 302.4,125.9 302.8,125.5 303.2,125.4 303.6,126.3 304.0,125.6 304.4,126.4 304.8,126.8 305.2,126.1 305.6,124.8 306.0,125.4 306.4,126.7 306.8,125.8 307.2,125.4 307.6,125.9 308.0,126.4 308.4,126.2 308.8,126.5 309.2,125.4 309.6,125.8 310.0,125.8 310.4,126.0 310.8,124.4 311.2,125.8 311.6,125.0 312.0,127.0 312.4,127.1 312.8,127.2 313.2,126.6 313.6,125.6 314.0,126.7 314.4,125.8 314.8,126.4 315.2,125.3 315.6,125.6 316.0,126.3 316.4,127.3 316.8,126.0 317.2,127.7 317.6,128.0 318.0,125.0 318.4,126.0 318.8,125.3 319.2,125.9 319.6,125.6 320.0,125.9 320.4,126.7 320.8,126.7 321.2,126.2 321.6,126.0 322.0,126.1 322.4,126.1 322.8,126.4 323.2,126.0 323.6,126.4 324.0,125.0 324.4,126.6 324.8,127.3 325.2,126.1 325.6,124.9 326.0,127.0 326.4,125.7 326.8,123.8 327.2,125.8 327.6,126.4 328.0,126.3 328.4,126.9 328.8,126.5 329.2,126.1 329.6,124.5 330.0,125.2 330.4,126.1 330.8,126.5 331.2,125.2 331.6,125.5 332.0,126.3 332.4,124.6 332.8,124.5 333.2,125.7 333.6,125.8 334.0,124.7 334.4,122.3 334.8,122.3 335.2,118.6 335.6,116.5 336.0,111.7 336.4,107.7 336.8,104.6 337.2,102.2 337.6,103.7 338.0,106.6 338.4,109.9 338.8,115.0 339.2,117.7 339.6,122.4 340.0,124.8 340.4,126.1 340.8,128.4 341.2,129.2 341.6,129.5 342.0,129.7 342.4,129.9 342.8,128.4 343.2,128.7 343.6,128.0 344.0,129.8 344.4,130.9 344.8,130.4 345.2,129.5 345.6,127.8 346.0,126.6 346.4,126.6 346.8,125.3 347.2,125.2 347.6,126.7 348.0,125.3 348.4,127.3 348.8,124.9 349.2,126.3 349.6,125.1 350.0,126.1 350.4,125.2 350.8,126.0 351.2,125.9 351.6,125.7 352.0,126.4 352.4,127.1 352.8,125.6 353.2,126.6 353.6,126.1 354.0,126.0 354.4,127.6 354.8,124.4 355.2,125.5 355.6,124.6 356.0,125.8 356.4,125.8 356.8,128.8 357.2,126.2 357.6,127.3 358.0,127.0 358.4,125.7 358.8,126.3 359.2,127.2 359.6,126.1 360.0,126.1 360.4,126.4 360.8,124.9 361.2,125.4 361.6,126.2 362.0,126.4 362.4,125.3 362.8,125.8 363.2,125.9 363.6,125.9 364.0,126.5 364.4,126.1 364.8,126.1 365.2,124.9 365.6,125.2 366.0,126.2 366.4,124.8 366.8,126.2 367.2,125.5 367.6,125.4 368.0,126.5 368.4,125.5 368.8,125.4 369.2,125.5 369.6,126.0 370.0,128.0 370.4,124.4 370.8,126.0 371.2,125.8 371.6,126.7 372.0,125.7 372.4,124.1 372.8,127.0 373.2,125.2 373.6,125.9 374.0,125.0 374.4,125.2 374.8,125.6 375.2,126.6 375.6,126.6 376.0,125.5 376.4,126.4 376.8,125.7 377.2,126.1 377.6,126.1 378.0,126.4 378.4,125.5 378.8,125.9 379.2,126.1 379.6,126.0 380.0,125.4 380.4,127.3 380.8,125.6 381.2,126.5 381.6,126.1 382.0,126.9 382.4,124.4 382.8,127.5 383.2,125.8 383.6,125.1 384.0,126.1 384.4,127.7 384.8,126.4 385.2,125.1 385.6,125.6 386.0,127.0 386.4,124.9 386.8,125.8 387.2,125.8 387.6,127.6 388.0,125.8 388.4,127.0 388.8,125.5 389.2,125.4 389.6,126.7 390.0,126.4 390.4,124.7 390.8,126.5 391.2,126.5 391.6,125.5 392.0,126.1 392.4,126.2 392.8,125.6 393.2,125.5 393.6,125.5 394.0,125.8 394.4,125.0 394.8,125.9 395.2,124.9 395.6,126.0 396.0,125.9 396.4,125.2 396.8,126.6 397.2,127.4 397.6,127.0 398.0,125.0 398.4,126.9 398.8,126.1 399.2,125.9 399.6,125.5 400.0,126.0 400.4,127.0 400.8,126.4 401.2,125.7 401.6,125.5 402.0,125.7 402.4,126.4 402.8,127.4 403.2,125.2 403.6,126.0 404.0,125.7 404.4,125.4 404.8,126.3 405.2,126.4 405.6,124.9 406.0,125.2 406.4,126.9 406.8,126.2 407.2,126.4 407.6,125.6 408.0,125.7 408.4,126.3 408.8,125.6 409.2,125.1 409.6,126.0 410.0,126.6 410.4,125.2 410.8,126.8 411.2,126.5 411.6,125.3 412.0,126.0 412.4,125.9 412.8,126.4 413.2,126.5 413.6,125.0 414.0,125.0 414.4,126.7 414.8,126.1 415.2,126.3 415.6,126.2 416.0,127.1 416.4,125.1 416.8,126.8 417.2,125.4 417.6,126.5 418.0,127.0 418.4,124.9 418.8,126.3 419.2,125.8 419.6,125.8 420.0,126.0 420.4,125.2 420.8,125.3 421.2,126.5" fill="none" stroke="#4560b8" stroke-width="1.05" stroke-linejoin="round"/>
<polyline points="244.8,126.1 245.2,125.1 245.6,124.4 246.0,127.2 246.4,126.3 246.8,125.7 247.2,124.7 247.6,125.0 248.0,125.7 248.4,124.8 248.8,126.7 249.2,125.6 249.6,125.8 250.0,124.7 250.4,124.8 250.8,124.9 251.2,125.7 251.6,125.3 252.0,125.3 252.4,125.7 252.8,125.6 253.2,126.6 253.6,125.3 254.0,124.7 254.4,125.5 254.8,126.6 255.2,125.1 255.6,125.5 256.0,125.2 256.4,125.8 256.8,125.7 257.2,124.9 257.6,125.3 258.0,126.2 258.4,126.3 258.8,126.2 259.2,126.1 259.6,125.2 260.0,125.2 260.4,126.2 260.8,124.6 261.2,125.4 261.6,124.1 262.0,125.2 262.4,125.0 262.8,124.6 263.2,125.9 263.6,124.9 264.0,125.2 264.4,125.3 264.8,124.9 265.2,126.5 265.6,125.1 266.0,125.6 266.4,124.5 266.8,125.1 267.2,125.2 267.6,125.2 268.0,125.0 268.4,125.6 268.8,126.6 269.2,125.4 269.6,125.4 270.0,125.2 270.4,127.3 270.8,126.7 271.2,125.9 271.6,126.0 272.0,125.0 272.4,125.4 272.8,125.6 273.2,125.6 273.6,124.8 274.0,124.9 274.4,125.9 274.8,125.7 275.2,123.9 275.6,125.5 276.0,126.4 276.4,125.0 276.8,125.7 277.2,124.4 277.6,126.1 278.0,124.7 278.4,124.6 278.8,125.2 279.2,127.2 279.6,125.0 280.0,124.5 280.4,125.8 280.8,125.6 281.2,126.7 281.6,124.5 282.0,124.3 282.4,125.2 282.8,125.8 283.2,125.7 283.6,126.3 284.0,124.4 284.4,124.9 284.8,125.4 285.2,126.1 285.6,125.8 286.0,125.2 286.4,124.7 286.8,126.1 287.2,126.2 287.6,127.5 288.0,125.3 288.4,126.7 288.8,124.6 289.2,125.1 289.6,125.0 290.0,125.1 290.4,124.8 290.8,125.1 291.2,125.4 291.6,125.1 292.0,126.0 292.4,125.4 292.8,125.5 293.2,126.6 293.6,125.7 294.0,125.6 294.4,125.5 294.8,125.5 295.2,125.9 295.6,124.9 296.0,126.3 296.4,126.6 296.8,126.3 297.2,125.1 297.6,124.3 298.0,125.2 298.4,125.6 298.8,126.1 299.2,125.3 299.6,125.3 300.0,126.6 300.4,125.0 300.8,126.3 301.2,126.1 301.6,124.5 302.0,125.7 302.4,125.1 302.8,124.8 303.2,124.1 303.6,124.3 304.0,125.8 304.4,125.2 304.8,125.7 305.2,124.7 305.6,125.2 306.0,125.3 306.4,124.3 306.8,124.3 307.2,125.8 307.6,125.6 308.0,124.8 308.4,125.4 308.8,126.0 309.2,126.8 309.6,124.8 310.0,125.9 310.4,127.0 310.8,125.5 311.2,126.6 311.6,123.6 312.0,126.5 312.4,125.5 312.8,124.1 313.2,126.1 313.6,126.2 314.0,126.4 314.4,126.4 314.8,125.5 315.2,124.9 315.6,125.1 316.0,125.5 316.4,125.8 316.8,125.1 317.2,125.5 317.6,126.1 318.0,125.7 318.4,127.2 318.8,127.1 319.2,124.6 319.6,125.1 320.0,124.5 320.4,124.6 320.8,125.9 321.2,124.7 321.6,124.7 322.0,125.3 322.4,126.1 322.8,125.2 323.2,125.2 323.6,126.2 324.0,125.8 324.4,125.8 324.8,126.2 325.2,124.7 325.6,125.6 326.0,125.0 326.4,126.2 326.8,126.1 327.2,124.7 327.6,126.5 328.0,124.6 328.4,126.3 328.8,125.6 329.2,124.8 329.6,124.7 330.0,125.3 330.4,125.5 330.8,125.0 331.2,125.9 331.6,124.4 332.0,125.5 332.4,125.5 332.8,124.1 333.2,125.7 333.6,124.4 334.0,123.3 334.4,124.3 334.8,123.9 335.2,123.7 335.6,121.3 336.0,121.3 336.4,119.9 336.8,118.9 337.2,119.1 337.6,119.1 338.0,119.8 338.4,122.3 338.8,124.1 339.2,125.0 339.6,126.1 340.0,126.4 340.4,129.2 340.8,129.6 341.2,128.4 341.6,128.9 342.0,128.6 342.4,127.3 342.8,127.8 343.2,128.1 343.6,127.2 344.0,128.8 344.4,129.8 344.8,130.0 345.2,129.7 345.6,126.2 346.0,126.7 346.4,126.7 346.8,126.7 347.2,126.8 347.6,124.8 348.0,125.2 348.4,124.7 348.8,126.1 349.2,124.5 349.6,126.4 350.0,126.2 350.4,125.8 350.8,123.9 351.2,125.0 351.6,126.0 352.0,124.4 352.4,125.3 352.8,125.4 353.2,126.1 353.6,125.7 354.0,125.7 354.4,125.2 354.8,125.5 355.2,125.4 355.6,126.0 356.0,125.3 356.4,126.2 356.8,124.2 357.2,126.4 357.6,125.4 358.0,126.3 358.4,125.5 358.8,126.1 359.2,126.6 359.6,125.1 360.0,125.5 360.4,125.4 360.8,125.6 361.2,124.3 361.6,125.3 362.0,125.3 362.4,124.9 362.8,125.3 363.2,124.3 363.6,126.5 364.0,125.8 364.4,126.9 364.8,124.8 365.2,124.6 365.6,125.7 366.0,124.2 366.4,125.6 366.8,125.0 367.2,125.2 367.6,125.7 368.0,125.5 368.4,126.9 368.8,125.9 369.2,124.5 369.6,126.2 370.0,124.5 370.4,125.5 370.8,124.5 371.2,124.9 371.6,126.4 372.0,125.1 372.4,125.0 372.8,125.1 373.2,125.2 373.6,126.5 374.0,124.6 374.4,124.6 374.8,125.9 375.2,124.3 375.6,125.2 376.0,126.3 376.4,125.5 376.8,125.1 377.2,124.9 377.6,124.8 378.0,125.0 378.4,125.6 378.8,126.4 379.2,126.2 379.6,125.0 380.0,124.9 380.4,126.0 380.8,124.1 381.2,125.1 381.6,125.2 382.0,124.6 382.4,124.7 382.8,125.7 383.2,124.2 383.6,124.8 384.0,125.0 384.4,125.5 384.8,124.4 385.2,126.3 385.6,125.2 386.0,125.3 386.4,125.2 386.8,125.0 387.2,124.7 387.6,126.3 388.0,125.6 388.4,125.4 388.8,126.2 389.2,124.9 389.6,125.9 390.0,125.5 390.4,124.8 390.8,126.0 391.2,124.3 391.6,125.9 392.0,124.8 392.4,125.8 392.8,126.5 393.2,125.9 393.6,125.0 394.0,125.4 394.4,125.2 394.8,124.6 395.2,124.6 395.6,125.5 396.0,125.8 396.4,124.1 396.8,125.4 397.2,125.8 397.6,125.5 398.0,124.7 398.4,126.2 398.8,124.5 399.2,125.9 399.6,126.6 400.0,123.9 400.4,125.6 400.8,125.7 401.2,125.6 401.6,124.9 402.0,125.2 402.4,124.4 402.8,125.5 403.2,125.8 403.6,124.9 404.0,124.8 404.4,125.1 404.8,125.4 405.2,125.5 405.6,125.4 406.0,125.5 406.4,124.5 406.8,123.4 407.2,125.9 407.6,126.5 408.0,124.4 408.4,124.9 408.8,125.7 409.2,126.1 409.6,125.9 410.0,126.4 410.4,125.4 410.8,125.7 411.2,125.7 411.6,125.1 412.0,126.3 412.4,125.9 412.8,126.1 413.2,125.1 413.6,126.2 414.0,124.7 414.4,125.7 414.8,123.5 415.2,124.7 415.6,126.0 416.0,125.1 416.4,125.6 416.8,124.2 417.2,126.6 417.6,125.9 418.0,125.4 418.4,125.7 418.8,125.7 419.2,126.5 419.6,125.6 420.0,124.3 420.4,125.2 420.8,126.4 421.2,125.8" fill="none" stroke="#12a04b" stroke-width="1.05" stroke-linejoin="round"/>
<polyline points="244.8,125.1 245.2,125.9 245.6,125.5 246.0,125.9 246.4,124.3 246.8,124.8 247.2,125.9 247.6,125.3 248.0,125.7 248.4,126.9 248.8,125.2 249.2,125.6 249.6,125.0 250.0,125.0 250.4,125.4 250.8,124.4 251.2,123.9 251.6,126.4 252.0,125.3 252.4,126.2 252.8,125.5 253.2,125.5 253.6,125.9 254.0,126.0 254.4,124.5 254.8,126.3 255.2,124.7 255.6,125.6 256.0,127.3 256.4,125.5 256.8,126.6 257.2,125.2 257.6,125.9 258.0,125.5 258.4,125.7 258.8,124.8 259.2,124.8 259.6,125.7 260.0,124.3 260.4,124.8 260.8,125.9 261.2,125.0 261.6,124.8 262.0,124.6 262.4,125.5 262.8,125.2 263.2,125.5 263.6,125.3 264.0,126.8 264.4,125.1 264.8,124.0 265.2,125.5 265.6,125.4 266.0,125.5 266.4,124.3 266.8,126.3 267.2,125.4 267.6,125.4 268.0,124.3 268.4,125.8 268.8,125.4 269.2,126.4 269.6,125.1 270.0,124.5 270.4,125.5 270.8,124.8 271.2,125.7 271.6,124.6 272.0,125.3 272.4,125.3 272.8,125.4 273.2,125.1 273.6,124.8 274.0,125.4 274.4,125.0 274.8,125.5 275.2,125.2 275.6,123.8 276.0,125.4 276.4,126.4 276.8,125.6 277.2,125.9 277.6,125.8 278.0,125.1 278.4,124.5 278.8,126.0 279.2,126.2 279.6,125.8 280.0,125.7 280.4,125.7 280.8,125.4 281.2,125.6 281.6,125.4 282.0,125.7 282.4,124.7 282.8,125.0 283.2,125.8 283.6,125.2 284.0,123.7 284.4,125.5 284.8,123.8 285.2,126.8 285.6,125.9 286.0,125.9 286.4,124.9 286.8,124.6 287.2,125.3 287.6,125.4 288.0,124.9 288.4,125.5 288.8,125.9 289.2,125.9 289.6,124.7 290.0,123.9 290.4,125.4 290.8,125.0 291.2,125.8 291.6,126.6 292.0,126.6 292.4,125.6 292.8,126.2 293.2,126.6 293.6,125.5 294.0,125.6 294.4,126.0 294.8,125.4 295.2,125.1 295.6,124.9 296.0,125.4 296.4,125.0 296.8,126.0 297.2,125.2 297.6,126.5 298.0,126.3 298.4,124.5 298.8,126.2 299.2,125.1 299.6,126.4 300.0,125.8 300.4,125.4 300.8,125.9 301.2,125.0 301.6,125.7 302.0,125.7 302.4,125.3 302.8,125.7 303.2,124.7 303.6,125.8 304.0,124.6 304.4,125.9 304.8,125.8 305.2,126.0 305.6,125.0 306.0,127.6 306.4,125.3 306.8,125.6 307.2,124.9 307.6,126.5 308.0,125.1 308.4,126.2 308.8,124.8 309.2,125.7 309.6,125.2 310.0,126.1 310.4,125.2 310.8,124.8 311.2,125.8 311.6,124.6 312.0,124.8 312.4,126.0 312.8,124.1 313.2,126.0 313.6,125.2 314.0,124.8 314.4,125.6 314.8,125.9 315.2,125.0 315.6,125.3 316.0,126.0 316.4,126.0 316.8,125.4 317.2,124.9 317.6,124.8 318.0,125.0 318.4,125.9 318.8,125.9 319.2,125.7 319.6,126.5 320.0,125.3 320.4,125.2 320.8,125.2 321.2,126.8 321.6,124.0 322.0,125.7 322.4,125.8 322.8,125.5 323.2,127.1 323.6,126.3 324.0,126.0 324.4,124.8 324.8,125.8 325.2,125.2 325.6,125.5 326.0,125.6 326.4,125.1 326.8,125.9 327.2,126.6 327.6,126.2 328.0,125.6 328.4,124.1 328.8,126.3 329.2,126.2 329.6,125.3 330.0,125.1 330.4,126.0 330.8,124.9 331.2,126.0 331.6,124.7 332.0,124.8 332.4,125.5 332.8,124.5 333.2,125.5 333.6,125.8 334.0,124.4 334.4,125.7 334.8,124.3 335.2,124.4 335.6,123.4 336.0,122.0 336.4,121.2 336.8,119.9 337.2,120.6 337.6,121.0 338.0,123.5 338.4,124.1 338.8,123.6 339.2,126.5 339.6,127.8 340.0,129.4 340.4,132.0 340.8,133.7 341.2,133.1 341.6,132.4 342.0,131.2 342.4,128.8 342.8,128.7 343.2,128.5 343.6,128.7 344.0,129.4 344.4,130.7 344.8,130.9 345.2,129.6 345.6,127.6 346.0,127.6 346.4,126.4 346.8,126.3 347.2,126.4 347.6,124.9 348.0,125.4 348.4,125.1 348.8,124.9 349.2,126.9 349.6,126.2 350.0,124.3 350.4,125.8 350.8,125.1 351.2,126.3 351.6,125.6 352.0,125.4 352.4,125.6 352.8,125.8 353.2,125.5 353.6,125.3 354.0,125.4 354.4,125.9 354.8,124.7 355.2,125.5 355.6,125.4 356.0,125.2 356.4,126.0 356.8,124.6 357.2,125.2 357.6,124.9 358.0,125.9 358.4,125.2 358.8,125.5 359.2,125.8 359.6,124.4 360.0,125.8 360.4,125.0 360.8,125.3 361.2,125.4 361.6,126.1 362.0,126.0 362.4,126.7 362.8,125.6 363.2,125.2 363.6,125.1 364.0,126.0 364.4,126.6 364.8,125.7 365.2,125.1 365.6,125.7 366.0,125.7 366.4,125.5 366.8,125.0 367.2,123.7 367.6,125.1 368.0,126.2 368.4,125.6 368.8,124.0 369.2,125.5 369.6,124.2 370.0,126.9 370.4,125.6 370.8,124.7 371.2,126.1 371.6,125.0 372.0,125.9 372.4,125.5 372.8,124.7 373.2,126.0 373.6,124.6 374.0,126.4 374.4,125.5 374.8,124.8 375.2,124.2 375.6,126.6 376.0,126.5 376.4,124.6 376.8,126.7 377.2,125.6 377.6,125.3 378.0,125.4 378.4,125.3 378.8,126.5 379.2,125.6 379.6,124.2 380.0,127.0 380.4,126.1 380.8,124.7 381.2,125.3 381.6,124.9 382.0,125.5 382.4,125.8 382.8,125.7 383.2,125.1 383.6,124.9 384.0,126.1 384.4,125.4 384.8,127.1 385.2,124.9 385.6,126.1 386.0,125.5 386.4,125.0 386.8,126.5 387.2,125.6 387.6,124.9 388.0,125.3 388.4,126.2 388.8,124.6 389.2,126.5 389.6,126.0 390.0,125.3 390.4,126.5 390.8,126.7 391.2,125.9 391.6,125.6 392.0,126.8 392.4,126.5 392.8,124.8 393.2,125.4 393.6,125.3 394.0,125.2 394.4,124.4 394.8,126.1 395.2,125.6 395.6,125.6 396.0,126.5 396.4,125.1 396.8,125.5 397.2,125.7 397.6,125.2 398.0,125.4 398.4,126.0 398.8,125.5 399.2,126.4 399.6,125.0 400.0,125.6 400.4,124.5 400.8,125.4 401.2,125.0 401.6,126.5 402.0,126.0 402.4,125.9 402.8,126.8 403.2,126.5 403.6,126.0 404.0,125.0 404.4,124.5 404.8,125.5 405.2,125.2 405.6,125.0 406.0,125.3 406.4,124.3 406.8,126.6 407.2,124.7 407.6,125.0 408.0,125.9 408.4,124.3 408.8,126.2 409.2,126.2 409.6,125.3 410.0,124.7 410.4,125.2 410.8,124.2 411.2,126.5 411.6,125.5 412.0,125.0 412.4,124.9 412.8,125.9 413.2,126.6 413.6,124.6 414.0,125.1 414.4,124.3 414.8,126.0 415.2,125.6 415.6,127.1 416.0,125.4 416.4,125.2 416.8,125.0 417.2,126.1 417.6,124.3 418.0,126.0 418.4,125.7 418.8,125.1 419.2,124.9 419.6,126.2 420.0,126.8 420.4,125.2 420.8,125.9 421.2,126.7" fill="none" stroke="#fbad3c" stroke-width="1.05" stroke-linejoin="round"/>
<polyline points="244.8,261.4 245.2,261.6 245.6,260.9 246.0,261.7 246.4,261.7 246.8,261.5 247.2,261.3 247.6,260.7 248.0,260.8 248.4,261.1 248.8,262.3 249.2,261.4 249.6,261.2 250.0,262.3 250.4,262.2 250.8,261.3 251.2,261.4 251.6,262.3 252.0,262.1 252.4,261.2 252.8,262.0 253.2,261.8 253.6,262.6 254.0,261.2 254.4,262.4 254.8,262.1 255.2,261.1 255.6,262.6 256.0,262.4 256.4,260.9 256.8,263.2 257.2,261.0 257.6,261.1 258.0,261.6 258.4,262.4 258.8,262.2 259.2,261.7 259.6,262.8 260.0,262.1 260.4,262.8 260.8,263.8 261.2,261.9 261.6,260.0 262.0,261.5 262.4,261.0 262.8,261.9 263.2,261.9 263.6,260.9 264.0,261.0 264.4,261.6 264.8,261.7 265.2,259.9 265.6,262.5 266.0,261.8 266.4,261.8 266.8,262.0 267.2,261.1 267.6,261.8 268.0,262.6 268.4,262.6 268.8,262.1 269.2,261.6 269.6,261.2 270.0,262.8 270.4,262.2 270.8,261.5 271.2,260.2 271.6,261.2 272.0,260.4 272.4,262.7 272.8,261.9 273.2,261.3 273.6,261.6 274.0,263.7 274.4,262.7 274.8,260.8 275.2,261.7 275.6,260.9 276.0,260.5 276.4,261.9 276.8,263.6 277.2,262.9 277.6,261.8 278.0,261.5 278.4,261.9 278.8,262.6 279.2,260.7 279.6,260.4 280.0,263.2 280.4,262.0 280.8,263.0 281.2,262.0 281.6,262.9 282.0,261.3 282.4,262.2 282.8,262.9 283.2,262.6 283.6,261.5 284.0,262.5 284.4,261.3 284.8,260.7 285.2,262.2 285.6,262.8 286.0,262.4 286.4,260.9 286.8,262.4 287.2,262.3 287.6,261.5 288.0,260.0 288.4,262.6 288.8,262.5 289.2,262.2 289.6,260.5 290.0,260.7 290.4,262.6 290.8,262.4 291.2,262.2 291.6,261.6 292.0,262.1 292.4,261.4 292.8,261.6 293.2,261.2 293.6,262.0 294.0,261.5 294.4,262.5 294.8,262.3 295.2,261.2 295.6,263.2 296.0,261.0 296.4,262.1 296.8,262.6 297.2,262.8 297.6,260.2 298.0,262.5 298.4,262.7 298.8,262.9 299.2,260.1 299.6,261.3 300.0,261.7 300.4,261.5 300.8,262.8 301.2,261.3 301.6,262.7 302.0,262.2 302.4,260.7 302.8,261.1 303.2,261.4 303.6,261.9 304.0,262.5 304.4,261.7 304.8,262.5 305.2,260.6 305.6,259.5 306.0,261.5 306.4,262.1 306.8,261.5 307.2,261.0 307.6,262.1 308.0,263.2 308.4,261.7 308.8,261.3 309.2,261.2 309.6,263.3 310.0,261.8 310.4,262.3 310.8,262.7 311.2,262.6 311.6,261.1 312.0,262.5 312.4,262.4 312.8,262.2 313.2,262.6 313.6,261.4 314.0,261.7 314.4,261.4 314.8,262.4 315.2,261.3 315.6,262.1 316.0,261.0 316.4,261.7 316.8,261.5 317.2,261.7 317.6,261.9 318.0,261.7 318.4,261.6 318.8,260.2 319.2,262.6 319.6,261.3 320.0,261.6 320.4,261.2 320.8,262.5 321.2,261.1 321.6,262.2 322.0,262.7 322.4,263.0 322.8,262.7 323.2,262.3 323.6,260.9 324.0,262.8 324.4,262.7 324.8,262.4 325.2,262.4 325.6,261.9 326.0,261.4 326.4,262.6 326.8,262.8 327.2,261.0 327.6,262.5 328.0,262.0 328.4,262.5 328.8,262.0 329.2,262.6 329.6,262.6 330.0,262.5 330.4,260.8 330.8,262.4 331.2,261.8 331.6,260.8 332.0,261.9 332.4,259.7 332.8,260.3 333.2,258.9 333.6,253.9 334.0,249.7 334.4,241.7 334.8,231.6 335.2,217.6 335.6,205.0 336.0,190.6 336.4,179.0 336.8,170.3 337.2,168.1 337.6,170.4 338.0,178.8 338.4,191.2 338.8,204.1 339.2,218.6 339.6,230.3 340.0,240.4 340.4,246.9 340.8,252.8 341.2,256.2 341.6,256.9 342.0,258.5 342.4,258.7 342.8,257.8 343.2,259.2 343.6,260.2 344.0,259.2 344.4,258.6 344.8,260.4 345.2,260.1 345.6,262.3 346.0,261.1 346.4,261.4 346.8,261.1 347.2,261.8 347.6,261.3 348.0,261.1 348.4,261.7 348.8,261.2 349.2,262.8 349.6,261.0 350.0,261.8 350.4,261.3 350.8,260.8 351.2,263.1 351.6,260.3 352.0,262.9 352.4,260.8 352.8,261.9 353.2,263.5 353.6,260.3 354.0,260.8 354.4,262.8 354.8,262.0 355.2,261.4 355.6,261.8 356.0,261.1 356.4,261.9 356.8,262.9 357.2,261.5 357.6,261.9 358.0,262.7 358.4,263.3 358.8,261.4 359.2,262.0 359.6,261.4 360.0,261.4 360.4,261.5 360.8,261.4 361.2,260.6 361.6,260.4 362.0,261.3 362.4,261.9 362.8,262.7 363.2,261.4 363.6,261.7 364.0,262.3 364.4,262.4 364.8,261.7 365.2,261.8 365.6,263.2 366.0,261.6 366.4,261.5 366.8,260.6 367.2,262.1 367.6,261.6 368.0,263.2 368.4,261.6 368.8,262.4 369.2,262.5 369.6,263.0 370.0,260.9 370.4,263.0 370.8,261.8 371.2,261.7 371.6,261.6 372.0,261.5 372.4,261.6 372.8,260.1 373.2,262.2 373.6,261.9 374.0,261.1 374.4,261.8 374.8,263.5 375.2,262.1 375.6,261.5 376.0,263.1 376.4,261.2 376.8,261.7 377.2,261.4 377.6,261.7 378.0,262.4 378.4,262.3 378.8,261.3 379.2,261.7 379.6,261.9 380.0,261.5 380.4,261.8 380.8,261.3 381.2,261.3 381.6,261.9 382.0,261.1 382.4,262.1 382.8,261.7 383.2,261.2 383.6,261.4 384.0,261.5 384.4,261.7 384.8,261.9 385.2,261.7 385.6,261.2 386.0,262.9 386.4,262.5 386.8,261.9 387.2,262.5 387.6,262.1 388.0,261.6 388.4,261.9 388.8,263.8 389.2,262.5 389.6,262.6 390.0,261.5 390.4,262.3 390.8,263.5 391.2,262.1 391.6,262.6 392.0,262.7 392.4,262.3 392.8,263.0 393.2,262.0 393.6,262.2 394.0,261.4 394.4,263.7 394.8,262.0 395.2,261.9 395.6,262.8 396.0,261.5 396.4,261.8 396.8,261.3 397.2,261.8 397.6,261.5 398.0,262.2 398.4,261.7 398.8,261.4 399.2,261.6 399.6,261.7 400.0,261.4 400.4,262.5 400.8,262.3 401.2,261.9 401.6,261.0 402.0,262.2 402.4,260.9 402.8,262.0 403.2,261.9 403.6,261.4 404.0,261.2 404.4,261.3 404.8,263.3 405.2,261.6 405.6,261.7 406.0,262.5 406.4,262.1 406.8,262.6 407.2,260.9 407.6,261.0 408.0,264.2 408.4,261.8 408.8,261.6 409.2,261.9 409.6,262.5 410.0,261.0 410.4,262.0 410.8,261.8 411.2,262.3 411.6,261.9 412.0,261.4 412.4,261.2 412.8,260.1 413.2,262.5 413.6,260.8 414.0,261.5 414.4,263.0 414.8,261.5 415.2,262.3 415.6,261.7 416.0,262.3 416.4,261.8 416.8,261.5 417.2,262.8 417.6,261.6 418.0,260.9 418.4,261.6 418.8,262.2 419.2,261.0 419.6,262.4 420.0,262.4 420.4,263.4 420.8,261.4 421.2,262.3" fill="none" stroke="#231f20" stroke-width="1.05" stroke-linejoin="round"/>
<polyline points="244.8,260.3 245.2,261.2 245.6,261.6 246.0,261.8 246.4,261.5 246.8,261.5 247.2,261.1 247.6,261.2 248.0,261.7 248.4,261.9 248.8,262.0 249.2,262.2 249.6,262.4 250.0,260.2 250.4,261.1 250.8,261.4 251.2,261.1 251.6,262.3 252.0,262.1 252.4,261.4 252.8,261.6 253.2,262.4 253.6,261.3 254.0,261.3 254.4,262.2 254.8,261.9 255.2,262.5 255.6,261.8 256.0,262.1 256.4,261.1 256.8,260.8 257.2,261.5 257.6,259.6 258.0,261.8 258.4,262.2 258.8,261.6 259.2,261.4 259.6,262.3 260.0,261.5 260.4,262.2 260.8,263.1 261.2,262.0 261.6,262.2 262.0,261.9 262.4,261.7 262.8,261.7 263.2,261.6 263.6,262.3 264.0,260.4 264.4,261.3 264.8,262.0 265.2,260.9 265.6,261.4 266.0,261.0 266.4,261.8 266.8,262.1 267.2,262.6 267.6,261.9 268.0,261.0 268.4,261.7 268.8,261.9 269.2,262.5 269.6,260.0 270.0,261.8 270.4,260.2 270.8,262.0 271.2,261.8 271.6,261.9 272.0,262.2 272.4,261.8 272.8,261.1 273.2,261.8 273.6,262.4 274.0,261.4 274.4,261.5 274.8,260.7 275.2,262.4 275.6,261.2 276.0,261.0 276.4,261.2 276.8,260.9 277.2,261.3 277.6,262.4 278.0,262.1 278.4,262.5 278.8,262.6 279.2,260.9 279.6,261.9 280.0,262.6 280.4,263.2 280.8,260.5 281.2,260.5 281.6,261.9 282.0,261.3 282.4,260.8 282.8,261.8 283.2,261.0 283.6,259.9 284.0,261.5 284.4,261.6 284.8,262.0 285.2,262.2 285.6,261.6 286.0,261.3 286.4,261.0 286.8,260.3 287.2,261.2 287.6,262.2 288.0,262.0 288.4,263.0 288.8,261.4 289.2,260.2 289.6,262.1 290.0,262.3 290.4,260.7 290.8,260.4 291.2,261.6 291.6,262.0 292.0,260.7 292.4,261.3 292.8,261.0 293.2,260.7 293.6,260.6 294.0,261.6 294.4,261.2 294.8,261.0 295.2,259.6 295.6,262.8 296.0,260.8 296.4,261.4 296.8,260.7 297.2,261.8 297.6,260.4 298.0,261.6 298.4,261.4 298.8,262.2 299.2,260.7 299.6,261.0 300.0,261.3 300.4,263.0 300.8,260.5 301.2,261.7 301.6,261.0 302.0,261.7 302.4,262.0 302.8,261.6 303.2,261.7 303.6,261.7 304.0,261.1 304.4,261.4 304.8,260.3 305.2,261.3 305.6,261.0 306.0,261.3 306.4,262.0 306.8,261.8 307.2,261.8 307.6,262.3 308.0,259.8 308.4,261.8 308.8,261.5 309.2,261.4 309.6,260.6 310.0,261.9 310.4,262.3 310.8,262.2 311.2,261.4 311.6,262.0 312.0,262.2 312.4,262.8 312.8,262.4 313.2,261.6 313.6,261.6 314.0,261.6 314.4,261.7 314.8,261.1 315.2,262.1 315.6,261.0 316.0,260.9 316.4,261.8 316.8,261.1 317.2,261.3 317.6,260.0 318.0,262.1 318.4,261.5 318.8,261.4 319.2,261.8 319.6,261.7 320.0,261.0 320.4,262.9 320.8,261.2 321.2,262.2 321.6,262.8 322.0,261.1 322.4,261.6 322.8,260.9 323.2,262.3 323.6,261.3 324.0,260.7 324.4,262.4 324.8,262.2 325.2,260.9 325.6,262.3 326.0,261.6 326.4,263.4 326.8,262.7 327.2,261.1 327.6,261.3 328.0,260.9 328.4,261.6 328.8,261.5 329.2,262.0 329.6,261.6 330.0,260.4 330.4,260.9 330.8,262.5 331.2,262.3 331.6,261.3 332.0,261.2 332.4,260.9 332.8,260.4 333.2,258.0 333.6,257.6 334.0,252.7 334.4,247.4 334.8,237.2 335.2,228.4 335.6,216.6 336.0,201.1 336.4,192.3 336.8,183.7 337.2,180.0 337.6,182.2 338.0,192.1 338.4,202.9 338.8,216.1 339.2,228.0 339.6,238.4 340.0,247.9 340.4,252.5 340.8,257.6 341.2,258.0 341.6,259.7 342.0,260.0 342.4,262.2 342.8,260.2 343.2,260.7 343.6,262.0 344.0,261.7 344.4,263.1 344.8,262.8 345.2,261.9 345.6,262.0 346.0,260.2 346.4,260.9 346.8,261.3 347.2,261.4 347.6,260.5 348.0,260.8 348.4,260.9 348.8,262.3 349.2,261.8 349.6,261.3 350.0,261.3 350.4,261.7 350.8,261.0 351.2,261.3 351.6,260.3 352.0,262.0 352.4,262.2 352.8,261.8 353.2,261.8 353.6,261.8 354.0,263.0 354.4,261.6 354.8,260.6 355.2,260.7 355.6,262.0 356.0,262.3 356.4,262.1 356.8,262.1 357.2,261.6 357.6,260.4 358.0,261.0 358.4,260.2 358.8,261.2 359.2,260.5 359.6,261.6 360.0,261.4 360.4,260.1 360.8,262.0 361.2,262.0 361.6,260.5 362.0,261.6 362.4,262.0 362.8,261.3 363.2,262.1 363.6,261.6 364.0,262.3 364.4,261.6 364.8,261.4 365.2,261.9 365.6,262.1 366.0,261.7 366.4,261.2 366.8,260.9 367.2,261.2 367.6,261.1 368.0,261.6 368.4,261.6 368.8,261.4 369.2,261.5 369.6,261.6 370.0,262.6 370.4,262.4 370.8,261.1 371.2,261.8 371.6,261.3 372.0,261.4 372.4,261.3 372.8,261.0 373.2,260.5 373.6,259.7 374.0,261.6 374.4,262.3 374.8,260.8 375.2,261.9 375.6,261.2 376.0,261.7 376.4,261.0 376.8,261.7 377.2,262.2 377.6,261.4 378.0,264.3 378.4,265.0 378.8,263.7 379.2,265.6 379.6,264.2 380.0,263.3 380.4,262.6 380.8,261.5 381.2,260.8 381.6,261.2 382.0,261.2 382.4,263.1 382.8,262.8 383.2,261.1 383.6,261.2 384.0,261.7 384.4,261.9 384.8,261.0 385.2,260.8 385.6,262.9 386.0,262.2 386.4,260.4 386.8,260.2 387.2,260.9 387.6,261.6 388.0,261.9 388.4,261.2 388.8,260.3 389.2,261.6 389.6,261.9 390.0,261.5 390.4,261.1 390.8,261.9 391.2,261.4 391.6,260.7 392.0,261.5 392.4,260.5 392.8,262.2 393.2,261.8 393.6,260.8 394.0,261.6 394.4,262.4 394.8,259.9 395.2,261.4 395.6,262.7 396.0,260.3 396.4,261.4 396.8,260.4 397.2,261.4 397.6,259.7 398.0,260.3 398.4,261.1 398.8,261.6 399.2,261.8 399.6,261.8 400.0,262.3 400.4,262.0 400.8,262.0 401.2,260.8 401.6,261.4 402.0,263.8 402.4,263.1 402.8,262.1 403.2,262.0 403.6,262.2 404.0,261.2 404.4,262.9 404.8,261.2 405.2,261.4 405.6,263.1 406.0,259.9 406.4,261.7 406.8,260.2 407.2,261.0 407.6,261.4 408.0,261.2 408.4,261.6 408.8,260.9 409.2,261.4 409.6,260.6 410.0,261.2 410.4,260.5 410.8,262.0 411.2,260.5 411.6,262.0 412.0,261.2 412.4,261.3 412.8,262.3 413.2,261.6 413.6,260.1 414.0,261.8 414.4,259.3 414.8,261.7 415.2,261.2 415.6,260.4 416.0,261.5 416.4,261.2 416.8,263.0 417.2,261.2 417.6,262.9 418.0,262.5 418.4,261.0 418.8,260.9 419.2,262.5 419.6,261.4 420.0,261.6 420.4,261.3 420.8,260.6 421.2,261.2" fill="none" stroke="#ed1c24" stroke-width="1.05" stroke-linejoin="round"/>
<polyline points="244.8,256.8 245.2,256.3 245.6,257.3 246.0,258.8 246.4,258.7 246.8,257.4 247.2,257.6 247.6,257.9 248.0,258.5 248.4,257.7 248.8,257.1 249.2,257.2 249.6,258.3 250.0,259.4 250.4,257.0 250.8,255.9 251.2,258.1 251.6,257.4 252.0,257.6 252.4,258.4 252.8,257.5 253.2,256.5 253.6,256.0 254.0,257.4 254.4,256.6 254.8,257.7 255.2,256.5 255.6,257.2 256.0,256.4 256.4,257.2 256.8,257.1 257.2,257.9 257.6,258.5 258.0,257.3 258.4,256.8 258.8,258.9 259.2,257.8 259.6,257.9 260.0,257.9 260.4,258.6 260.8,258.2 261.2,258.0 261.6,258.1 262.0,256.8 262.4,257.0 262.8,257.4 263.2,257.5 263.6,257.5 264.0,257.7 264.4,257.5 264.8,257.2 265.2,256.3 265.6,258.1 266.0,257.9 266.4,256.8 266.8,257.9 267.2,257.8 267.6,257.5 268.0,256.1 268.4,256.6 268.8,257.0 269.2,258.7 269.6,256.8 270.0,257.2 270.4,256.6 270.8,257.1 271.2,257.7 271.6,255.9 272.0,255.4 272.4,258.0 272.8,257.5 273.2,257.0 273.6,258.2 274.0,258.2 274.4,255.9 274.8,257.4 275.2,258.3 275.6,257.0 276.0,257.2 276.4,258.2 276.8,257.3 277.2,256.6 277.6,257.0 278.0,256.5 278.4,257.9 278.8,256.2 279.2,258.2 279.6,256.2 280.0,257.5 280.4,256.4 280.8,257.2 281.2,258.2 281.6,258.3 282.0,258.5 282.4,257.4 282.8,257.6 283.2,257.7 283.6,257.9 284.0,257.2 284.4,258.3 284.8,257.7 285.2,258.3 285.6,257.8 286.0,258.0 286.4,256.9 286.8,257.2 287.2,256.5 287.6,257.3 288.0,257.3 288.4,258.1 288.8,256.5 289.2,259.9 289.6,257.4 290.0,258.4 290.4,258.3 290.8,255.6 291.2,257.3 291.6,258.6 292.0,255.7 292.4,258.1 292.8,256.8 293.2,257.1 293.6,257.6 294.0,256.1 294.4,257.6 294.8,257.0 295.2,256.9 295.6,258.0 296.0,260.1 296.4,257.7 296.8,257.9 297.2,257.4 297.6,256.9 298.0,257.7 298.4,258.6 298.8,257.6 299.2,258.1 299.6,257.3 300.0,259.4 300.4,256.2 300.8,257.9 301.2,257.9 301.6,257.7 302.0,256.6 302.4,256.6 302.8,257.3 303.2,257.6 303.6,256.6 304.0,256.7 304.4,257.9 304.8,258.2 305.2,257.1 305.6,257.0 306.0,256.9 306.4,259.3 306.8,257.8 307.2,257.4 307.6,258.2 308.0,259.2 308.4,258.4 308.8,256.4 309.2,257.4 309.6,257.2 310.0,257.2 310.4,256.6 310.8,257.2 311.2,256.7 311.6,257.7 312.0,257.5 312.4,256.4 312.8,256.2 313.2,257.1 313.6,258.0 314.0,257.8 314.4,257.4 314.8,255.0 315.2,257.1 315.6,256.9 316.0,257.2 316.4,256.6 316.8,257.1 317.2,257.0 317.6,259.5 318.0,258.0 318.4,257.3 318.8,257.4 319.2,257.4 319.6,257.6 320.0,257.2 320.4,257.5 320.8,258.2 321.2,258.1 321.6,257.7 322.0,258.5 322.4,257.6 322.8,256.7 323.2,256.2 323.6,256.9 324.0,257.4 324.4,257.8 324.8,258.3 325.2,257.0 325.6,256.9 326.0,258.0 326.4,258.4 326.8,257.1 327.2,257.7 327.6,258.5 328.0,257.7 328.4,257.4 328.8,255.9 329.2,258.5 329.6,258.0 330.0,257.6 330.4,257.1 330.8,256.5 331.2,257.4 331.6,257.4 332.0,258.2 332.4,256.4 332.8,258.2 333.2,256.6 333.6,256.6 334.0,253.4 334.4,251.7 334.8,248.5 335.2,242.5 335.6,234.9 336.0,228.6 336.4,222.5 336.8,215.6 337.2,212.6 337.6,213.8 338.0,216.0 338.4,222.6 338.8,228.0 339.2,234.6 339.6,241.9 340.0,249.1 340.4,251.7 340.8,256.0 341.2,259.3 341.6,261.2 342.0,264.9 342.4,265.4 342.8,265.4 343.2,262.4 343.6,260.5 344.0,258.0 344.4,258.6 344.8,257.9 345.2,258.2 345.6,258.7 346.0,257.3 346.4,257.3 346.8,257.8 347.2,258.6 347.6,256.9 348.0,257.9 348.4,257.3 348.8,257.2 349.2,258.1 349.6,256.9 350.0,256.7 350.4,258.0 350.8,257.5 351.2,257.3 351.6,257.4 352.0,257.8 352.4,257.2 352.8,258.0 353.2,257.8 353.6,258.6 354.0,258.4 354.4,258.1 354.8,257.3 355.2,257.6 355.6,257.0 356.0,259.6 356.4,257.3 356.8,257.9 357.2,258.5 357.6,256.5 358.0,256.9 358.4,257.2 358.8,256.7 359.2,256.5 359.6,257.1 360.0,258.4 360.4,258.0 360.8,257.5 361.2,257.5 361.6,256.2 362.0,258.0 362.4,257.8 362.8,256.7 363.2,257.6 363.6,257.3 364.0,257.1 364.4,256.7 364.8,257.0 365.2,256.8 365.6,257.8 366.0,257.8 366.4,257.7 366.8,257.3 367.2,257.2 367.6,259.0 368.0,256.1 368.4,258.4 368.8,257.7 369.2,257.5 369.6,257.1 370.0,257.3 370.4,256.6 370.8,256.4 371.2,257.4 371.6,256.2 372.0,258.1 372.4,258.3 372.8,254.9 373.2,256.3 373.6,257.7 374.0,257.6 374.4,257.6 374.8,257.8 375.2,258.0 375.6,258.1 376.0,258.8 376.4,257.5 376.8,258.1 377.2,256.3 377.6,257.4 378.0,256.6 378.4,258.5 378.8,259.2 379.2,257.9 379.6,256.5 380.0,257.4 380.4,257.5 380.8,257.6 381.2,258.2 381.6,257.8 382.0,254.3 382.4,255.9 382.8,252.9 383.2,252.1 383.6,254.3 384.0,254.7 384.4,255.3 384.8,256.1 385.2,257.4 385.6,258.1 386.0,258.6 386.4,257.4 386.8,257.1 387.2,258.7 387.6,257.1 388.0,258.6 388.4,257.7 388.8,257.7 389.2,257.3 389.6,257.7 390.0,257.1 390.4,257.0 390.8,257.4 391.2,257.0 391.6,257.7 392.0,257.5 392.4,257.3 392.8,257.3 393.2,257.3 393.6,258.8 394.0,257.5 394.4,257.0 394.8,257.3 395.2,258.0 395.6,257.3 396.0,257.4 396.4,257.3 396.8,257.6 397.2,257.8 397.6,257.8 398.0,256.3 398.4,256.7 398.8,255.5 399.2,258.1 399.6,258.3 400.0,258.5 400.4,257.6 400.8,258.3 401.2,257.5 401.6,257.4 402.0,256.3 402.4,256.9 402.8,257.0 403.2,258.2 403.6,258.7 404.0,257.1 404.4,257.8 404.8,257.7 405.2,256.9 405.6,256.2 406.0,256.9 406.4,256.4 406.8,257.2 407.2,257.4 407.6,257.3 408.0,257.4 408.4,257.8 408.8,256.8 409.2,258.1 409.6,256.2 410.0,257.5 410.4,257.8 410.8,256.9 411.2,256.3 411.6,258.0 412.0,257.0 412.4,258.1 412.8,258.1 413.2,257.5 413.6,257.5 414.0,258.2 414.4,257.8 414.8,256.8 415.2,257.6 415.6,257.9 416.0,257.6 416.4,257.6 416.8,257.4 417.2,257.4 417.6,256.8 418.0,256.4 418.4,258.3 418.8,257.0 419.2,257.6 419.6,256.4 420.0,257.6 420.4,256.9 420.8,259.7 421.2,256.7" fill="none" stroke="#4560b8" stroke-width="1.05" stroke-linejoin="round"/>
<polyline points="244.8,257.4 245.2,258.8 245.6,258.9 246.0,256.5 246.4,258.3 246.8,258.7 247.2,257.2 247.6,258.6 248.0,257.7 248.4,257.3 248.8,257.8 249.2,257.7 249.6,257.0 250.0,259.7 250.4,257.7 250.8,257.5 251.2,258.7 251.6,258.0 252.0,259.1 252.4,257.9 252.8,258.3 253.2,258.1 253.6,258.2 254.0,257.9 254.4,258.0 254.8,259.3 255.2,257.6 255.6,257.7 256.0,257.8 256.4,258.5 256.8,258.4 257.2,258.8 257.6,257.1 258.0,258.3 258.4,257.9 258.8,257.9 259.2,258.2 259.6,256.6 260.0,258.3 260.4,258.2 260.8,257.0 261.2,258.0 261.6,259.2 262.0,257.8 262.4,258.5 262.8,257.9 263.2,257.5 263.6,257.4 264.0,257.8 264.4,259.0 264.8,258.7 265.2,257.6 265.6,258.8 266.0,258.0 266.4,257.6 266.8,258.4 267.2,257.4 267.6,256.9 268.0,259.0 268.4,256.7 268.8,258.5 269.2,256.9 269.6,258.1 270.0,257.9 270.4,257.8 270.8,256.5 271.2,258.0 271.6,258.1 272.0,257.4 272.4,258.0 272.8,258.8 273.2,257.5 273.6,258.3 274.0,257.2 274.4,258.4 274.8,258.6 275.2,259.9 275.6,258.8 276.0,258.4 276.4,259.1 276.8,257.3 277.2,258.9 277.6,257.7 278.0,257.6 278.4,258.9 278.8,258.3 279.2,259.1 279.6,257.0 280.0,258.3 280.4,257.7 280.8,257.9 281.2,256.7 281.6,258.8 282.0,258.2 282.4,257.4 282.8,257.1 283.2,257.4 283.6,259.1 284.0,258.0 284.4,257.8 284.8,258.4 285.2,258.1 285.6,258.3 286.0,258.6 286.4,258.3 286.8,258.7 287.2,257.2 287.6,258.1 288.0,257.8 288.4,258.2 288.8,258.1 289.2,257.6 289.6,257.8 290.0,258.8 290.4,257.7 290.8,257.2 291.2,258.5 291.6,258.8 292.0,257.9 292.4,258.2 292.8,257.5 293.2,257.9 293.6,258.9 294.0,258.7 294.4,258.2 294.8,257.9 295.2,256.9 295.6,258.3 296.0,258.4 296.4,258.9 296.8,259.6 297.2,258.4 297.6,258.8 298.0,257.3 298.4,259.0 298.8,258.7 299.2,259.1 299.6,258.6 300.0,258.4 300.4,259.2 300.8,257.6 301.2,258.6 301.6,258.9 302.0,257.5 302.4,257.3 302.8,258.4 303.2,258.2 303.6,258.5 304.0,258.6 304.4,257.5 304.8,258.4 305.2,258.9 305.6,257.8 306.0,257.9 306.4,257.3 306.8,258.7 307.2,259.5 307.6,257.1 308.0,258.7 308.4,258.8 308.8,257.7 309.2,257.8 309.6,257.3 310.0,257.5 310.4,258.2 310.8,258.6 311.2,258.2 311.6,258.7 312.0,258.3 312.4,257.3 312.8,259.2 313.2,259.0 313.6,257.6 314.0,259.4 314.4,258.5 314.8,258.2 315.2,259.5 315.6,256.3 316.0,256.9 316.4,258.6 316.8,257.9 317.2,257.4 317.6,259.2 318.0,258.5 318.4,257.2 318.8,257.6 319.2,258.7 319.6,259.4 320.0,256.7 320.4,258.3 320.8,257.8 321.2,256.8 321.6,258.0 322.0,256.9 322.4,257.7 322.8,259.3 323.2,258.5 323.6,258.7 324.0,258.6 324.4,258.4 324.8,258.8 325.2,257.3 325.6,257.9 326.0,258.7 326.4,257.6 326.8,257.8 327.2,259.0 327.6,259.2 328.0,257.7 328.4,257.5 328.8,258.6 329.2,258.3 329.6,257.6 330.0,258.6 330.4,258.5 330.8,258.2 331.2,260.3 331.6,259.1 332.0,258.7 332.4,258.8 332.8,260.0 333.2,258.4 333.6,256.5 334.0,256.2 334.4,254.4 334.8,251.5 335.2,248.8 335.6,244.7 336.0,240.0 336.4,235.4 336.8,232.9 337.2,229.2 337.6,231.0 338.0,232.3 338.4,236.0 338.8,238.5 339.2,246.4 339.6,249.0 340.0,254.8 340.4,260.9 340.8,264.1 341.2,266.7 341.6,265.6 342.0,265.5 342.4,264.3 342.8,264.1 343.2,264.4 343.6,266.7 344.0,268.3 344.4,267.4 344.8,265.6 345.2,265.0 345.6,260.5 346.0,260.4 346.4,258.7 346.8,259.4 347.2,257.7 347.6,258.5 348.0,258.4 348.4,258.0 348.8,258.4 349.2,257.6 349.6,258.1 350.0,257.8 350.4,258.7 350.8,258.1 351.2,257.1 351.6,257.9 352.0,258.1 352.4,257.5 352.8,259.1 353.2,258.4 353.6,258.8 354.0,257.6 354.4,257.8 354.8,258.9 355.2,257.1 355.6,258.4 356.0,258.2 356.4,257.8 356.8,258.2 357.2,257.3 357.6,258.3 358.0,257.2 358.4,257.2 358.8,259.2 359.2,257.6 359.6,256.6 360.0,258.9 360.4,257.6 360.8,255.5 361.2,258.1 361.6,258.8 362.0,258.4 362.4,259.4 362.8,258.0 363.2,258.6 363.6,257.4 364.0,258.3 364.4,259.3 364.8,258.5 365.2,258.3 365.6,256.7 366.0,257.9 366.4,257.2 366.8,258.7 367.2,257.6 367.6,258.4 368.0,257.4 368.4,259.5 368.8,257.3 369.2,258.2 369.6,260.1 370.0,258.3 370.4,257.5 370.8,258.6 371.2,258.9 371.6,258.8 372.0,256.7 372.4,258.3 372.8,256.6 373.2,259.5 373.6,258.2 374.0,257.8 374.4,258.6 374.8,258.5 375.2,257.3 375.6,259.3 376.0,258.0 376.4,256.8 376.8,259.2 377.2,259.3 377.6,259.1 378.0,258.5 378.4,257.5 378.8,258.8 379.2,259.5 379.6,258.7 380.0,259.3 380.4,257.6 380.8,258.9 381.2,258.8 381.6,257.0 382.0,256.9 382.4,257.6 382.8,258.2 383.2,258.5 383.6,258.0 384.0,258.1 384.4,258.1 384.8,258.2 385.2,258.6 385.6,258.5 386.0,258.1 386.4,258.3 386.8,257.8 387.2,258.7 387.6,257.8 388.0,259.4 388.4,258.1 388.8,258.3 389.2,257.6 389.6,257.9 390.0,258.3 390.4,258.2 390.8,257.7 391.2,257.3 391.6,258.2 392.0,258.3 392.4,258.5 392.8,259.1 393.2,257.9 393.6,256.7 394.0,258.0 394.4,256.8 394.8,257.2 395.2,258.9 395.6,258.6 396.0,257.7 396.4,257.7 396.8,258.1 397.2,256.8 397.6,258.5 398.0,257.9 398.4,259.5 398.8,257.4 399.2,258.9 399.6,257.6 400.0,258.9 400.4,257.4 400.8,258.7 401.2,257.8 401.6,257.5 402.0,258.0 402.4,258.5 402.8,258.4 403.2,259.3 403.6,258.8 404.0,256.2 404.4,257.8 404.8,256.7 405.2,257.9 405.6,258.6 406.0,257.1 406.4,257.3 406.8,258.2 407.2,257.9 407.6,259.3 408.0,258.4 408.4,258.5 408.8,259.4 409.2,257.8 409.6,258.1 410.0,257.4 410.4,258.3 410.8,258.9 411.2,259.2 411.6,258.1 412.0,257.6 412.4,257.6 412.8,257.1 413.2,258.2 413.6,259.2 414.0,256.4 414.4,256.5 414.8,259.2 415.2,256.9 415.6,258.4 416.0,257.2 416.4,258.7 416.8,258.7 417.2,258.3 417.6,258.8 418.0,258.2 418.4,258.6 418.8,259.5 419.2,259.0 419.6,257.7 420.0,257.5 420.4,258.0 420.8,258.0 421.2,258.2" fill="none" stroke="#12a04b" stroke-width="1.05" stroke-linejoin="round"/>
<polyline points="244.8,259.6 245.2,260.5 245.6,260.1 246.0,260.3 246.4,260.1 246.8,260.5 247.2,259.2 247.6,261.2 248.0,260.3 248.4,260.4 248.8,260.5 249.2,260.9 249.6,260.6 250.0,260.2 250.4,259.9 250.8,258.8 251.2,260.2 251.6,259.8 252.0,259.8 252.4,261.9 252.8,258.7 253.2,260.1 253.6,261.0 254.0,260.8 254.4,261.0 254.8,259.1 255.2,259.3 255.6,260.5 256.0,259.8 256.4,261.3 256.8,260.2 257.2,260.2 257.6,260.4 258.0,259.9 258.4,260.1 258.8,259.6 259.2,260.0 259.6,259.7 260.0,260.3 260.4,259.0 260.8,258.9 261.2,260.4 261.6,260.2 262.0,259.3 262.4,259.9 262.8,259.3 263.2,261.6 263.6,258.9 264.0,261.3 264.4,259.4 264.8,260.4 265.2,259.9 265.6,259.8 266.0,260.8 266.4,260.7 266.8,259.8 267.2,259.4 267.6,261.6 268.0,261.1 268.4,260.2 268.8,259.8 269.2,260.3 269.6,260.1 270.0,261.0 270.4,259.3 270.8,260.1 271.2,259.5 271.6,261.0 272.0,261.4 272.4,260.0 272.8,260.5 273.2,261.1 273.6,259.8 274.0,259.4 274.4,260.8 274.8,260.4 275.2,259.9 275.6,261.2 276.0,260.2 276.4,258.7 276.8,260.3 277.2,260.0 277.6,261.5 278.0,260.1 278.4,259.9 278.8,260.4 279.2,260.3 279.6,259.0 280.0,260.2 280.4,259.8 280.8,261.1 281.2,261.9 281.6,259.2 282.0,259.3 282.4,259.4 282.8,259.6 283.2,259.6 283.6,260.1 284.0,260.9 284.4,259.1 284.8,258.9 285.2,258.7 285.6,260.9 286.0,261.1 286.4,258.9 286.8,258.8 287.2,260.2 287.6,260.9 288.0,260.8 288.4,260.2 288.8,260.6 289.2,260.3 289.6,259.7 290.0,261.5 290.4,260.1 290.8,259.2 291.2,259.7 291.6,258.9 292.0,260.1 292.4,260.9 292.8,259.1 293.2,260.9 293.6,261.6 294.0,260.4 294.4,259.2 294.8,259.4 295.2,259.8 295.6,259.1 296.0,259.1 296.4,259.9 296.8,259.9 297.2,260.5 297.6,259.2 298.0,261.5 298.4,260.9 298.8,260.7 299.2,259.6 299.6,261.4 300.0,259.8 300.4,261.4 300.8,260.9 301.2,259.4 301.6,259.7 302.0,261.5 302.4,260.8 302.8,260.0 303.2,260.2 303.6,260.2 304.0,259.5 304.4,259.9 304.8,259.6 305.2,259.7 305.6,260.4 306.0,259.4 306.4,260.6 306.8,260.2 307.2,260.6 307.6,260.7 308.0,261.0 308.4,260.5 308.8,260.6 309.2,259.9 309.6,260.5 310.0,259.4 310.4,259.9 310.8,260.6 311.2,260.0 311.6,260.4 312.0,259.3 312.4,261.1 312.8,259.6 313.2,260.4 313.6,260.1 314.0,260.8 314.4,259.8 314.8,259.3 315.2,258.6 315.6,259.8 316.0,259.2 316.4,260.5 316.8,261.2 317.2,258.4 317.6,259.1 318.0,260.3 318.4,261.0 318.8,260.3 319.2,260.3 319.6,260.5 320.0,260.5 320.4,261.3 320.8,260.5 321.2,259.1 321.6,259.7 322.0,260.2 322.4,259.5 322.8,259.9 323.2,259.7 323.6,259.5 324.0,260.6 324.4,259.8 324.8,259.2 325.2,259.5 325.6,260.1 326.0,261.7 326.4,260.3 326.8,261.2 327.2,260.4 327.6,258.5 328.0,260.4 328.4,259.4 328.8,259.0 329.2,259.3 329.6,261.4 330.0,258.9 330.4,259.6 330.8,260.9 331.2,260.6 331.6,258.8 332.0,260.0 332.4,259.6 332.8,259.8 333.2,260.4 333.6,259.2 334.0,258.9 334.4,259.4 334.8,255.8 335.2,255.3 335.6,254.2 336.0,251.3 336.4,250.5 336.8,249.6 337.2,251.2 337.6,251.9 338.0,254.9 338.4,257.6 338.8,259.7 339.2,262.3 339.6,265.3 340.0,266.6 340.4,265.6 340.8,266.0 341.2,263.5 341.6,262.4 342.0,259.8 342.4,261.0 342.8,261.7 343.2,260.6 343.6,259.0 344.0,260.1 344.4,260.0 344.8,260.2 345.2,259.9 345.6,260.4 346.0,259.7 346.4,260.2 346.8,259.5 347.2,260.1 347.6,260.8 348.0,259.7 348.4,260.6 348.8,259.4 349.2,259.8 349.6,259.9 350.0,261.0 350.4,259.5 350.8,261.0 351.2,259.0 351.6,259.9 352.0,260.8 352.4,260.6 352.8,259.3 353.2,259.1 353.6,260.7 354.0,259.1 354.4,260.5 354.8,259.7 355.2,260.1 355.6,261.8 356.0,261.2 356.4,260.7 356.8,259.0 357.2,260.3 357.6,260.1 358.0,260.0 358.4,261.1 358.8,258.8 359.2,260.3 359.6,260.2 360.0,259.5 360.4,261.4 360.8,259.1 361.2,260.1 361.6,260.1 362.0,258.4 362.4,259.0 362.8,259.3 363.2,260.7 363.6,260.8 364.0,260.5 364.4,260.2 364.8,258.4 365.2,260.2 365.6,259.7 366.0,260.9 366.4,261.1 366.8,261.8 367.2,260.6 367.6,260.7 368.0,259.3 368.4,260.1 368.8,259.1 369.2,260.7 369.6,259.2 370.0,259.9 370.4,259.4 370.8,259.7 371.2,260.4 371.6,259.6 372.0,260.2 372.4,259.3 372.8,261.1 373.2,259.6 373.6,260.8 374.0,261.7 374.4,258.2 374.8,259.3 375.2,259.9 375.6,260.9 376.0,259.7 376.4,260.3 376.8,259.5 377.2,260.5 377.6,259.1 378.0,260.7 378.4,257.8 378.8,258.6 379.2,261.4 379.6,260.2 380.0,259.4 380.4,261.7 380.8,260.9 381.2,260.9 381.6,259.7 382.0,260.5 382.4,260.4 382.8,258.8 383.2,260.5 383.6,259.9 384.0,261.0 384.4,261.1 384.8,259.6 385.2,259.6 385.6,260.2 386.0,260.6 386.4,259.7 386.8,260.0 387.2,260.5 387.6,260.4 388.0,260.9 388.4,260.2 388.8,259.4 389.2,258.7 389.6,260.7 390.0,259.8 390.4,259.8 390.8,259.8 391.2,258.8 391.6,259.8 392.0,258.1 392.4,259.7 392.8,259.4 393.2,261.5 393.6,260.4 394.0,259.9 394.4,260.2 394.8,260.6 395.2,259.5 395.6,259.9 396.0,259.8 396.4,262.0 396.8,260.1 397.2,258.5 397.6,260.7 398.0,262.0 398.4,259.3 398.8,262.7 399.2,260.0 399.6,260.8 400.0,259.6 400.4,259.8 400.8,259.1 401.2,259.2 401.6,258.4 402.0,260.9 402.4,259.2 402.8,260.3 403.2,260.3 403.6,259.5 404.0,260.1 404.4,260.0 404.8,259.7 405.2,260.1 405.6,260.1 406.0,259.3 406.4,259.0 406.8,259.4 407.2,260.1 407.6,261.1 408.0,261.2 408.4,260.3 408.8,260.8 409.2,260.1 409.6,260.9 410.0,260.1 410.4,260.3 410.8,259.8 411.2,260.0 411.6,261.5 412.0,259.1 412.4,260.0 412.8,259.6 413.2,260.8 413.6,261.4 414.0,259.8 414.4,257.9 414.8,260.5 415.2,260.5 415.6,258.7 416.0,259.9 416.4,260.0 416.8,258.2 417.2,260.6 417.6,260.4 418.0,260.2 418.4,259.2 418.8,259.5 419.2,259.6 419.6,260.4 420.0,259.3 420.4,261.2 420.8,260.3 421.2,258.3" fill="none" stroke="#fbad3c" stroke-width="1.05" stroke-linejoin="round"/>
<polyline points="244.8,395.5 245.2,394.4 245.6,393.8 246.0,394.3 246.4,392.8 246.8,394.4 247.2,392.3 247.6,393.4 248.0,395.3 248.4,395.2 248.8,394.0 249.2,393.5 249.6,395.0 250.0,394.2 250.4,394.4 250.8,394.7 251.2,393.4 251.6,394.9 252.0,392.6 252.4,395.4 252.8,393.0 253.2,393.7 253.6,393.7 254.0,394.8 254.4,394.8 254.8,394.5 255.2,394.7 255.6,394.6 256.0,394.2 256.4,392.7 256.8,392.4 257.2,392.4 257.6,394.2 258.0,394.1 258.4,394.1 258.8,394.4 259.2,394.0 259.6,393.4 260.0,393.1 260.4,392.7 260.8,395.2 261.2,394.9 261.6,393.2 262.0,394.0 262.4,394.6 262.8,395.5 263.2,393.8 263.6,394.4 264.0,395.1 264.4,392.9 264.8,393.7 265.2,394.2 265.6,393.7 266.0,395.9 266.4,394.9 266.8,394.4 267.2,393.5 267.6,394.9 268.0,394.7 268.4,393.8 268.8,393.9 269.2,393.1 269.6,394.2 270.0,394.9 270.4,395.0 270.8,394.7 271.2,394.9 271.6,393.8 272.0,393.9 272.4,395.2 272.8,394.6 273.2,393.6 273.6,394.6 274.0,394.9 274.4,394.8 274.8,394.3 275.2,393.8 275.6,394.5 276.0,395.5 276.4,394.3 276.8,393.7 277.2,394.5 277.6,393.3 278.0,394.4 278.4,394.0 278.8,395.0 279.2,394.3 279.6,395.0 280.0,396.0 280.4,394.0 280.8,393.6 281.2,394.6 281.6,394.2 282.0,394.3 282.4,393.7 282.8,394.7 283.2,394.3 283.6,392.5 284.0,394.0 284.4,394.5 284.8,395.1 285.2,393.8 285.6,393.6 286.0,395.1 286.4,393.7 286.8,394.3 287.2,394.6 287.6,394.8 288.0,394.2 288.4,393.3 288.8,395.0 289.2,393.9 289.6,393.8 290.0,395.8 290.4,394.9 290.8,393.4 291.2,393.8 291.6,394.0 292.0,393.6 292.4,392.7 292.8,394.8 293.2,394.8 293.6,394.4 294.0,393.9 294.4,394.4 294.8,394.7 295.2,393.4 295.6,394.0 296.0,393.8 296.4,394.8 296.8,394.4 297.2,393.2 297.6,393.7 298.0,395.6 298.4,393.5 298.8,394.3 299.2,393.7 299.6,395.2 300.0,394.2 300.4,393.9 300.8,393.3 301.2,394.0 301.6,394.9 302.0,394.7 302.4,393.2 302.8,395.4 303.2,394.0 303.6,393.4 304.0,394.3 304.4,393.7 304.8,393.8 305.2,393.7 305.6,394.1 306.0,393.8 306.4,392.9 306.8,394.6 307.2,393.8 307.6,395.1 308.0,394.6 308.4,394.7 308.8,394.4 309.2,395.2 309.6,394.0 310.0,393.4 310.4,394.5 310.8,392.1 311.2,393.9 311.6,394.4 312.0,393.9 312.4,395.2 312.8,394.8 313.2,394.3 313.6,393.9 314.0,395.1 314.4,393.7 314.8,393.9 315.2,394.8 315.6,394.7 316.0,395.8 316.4,394.0 316.8,392.7 317.2,394.7 317.6,395.2 318.0,394.1 318.4,395.4 318.8,395.6 319.2,393.7 319.6,393.8 320.0,393.2 320.4,394.6 320.8,394.8 321.2,394.7 321.6,393.2 322.0,393.6 322.4,393.1 322.8,393.0 323.2,393.2 323.6,393.0 324.0,394.1 324.4,394.5 324.8,394.7 325.2,394.2 325.6,393.7 326.0,394.2 326.4,394.6 326.8,393.9 327.2,394.1 327.6,393.7 328.0,393.3 328.4,393.1 328.8,391.1 329.2,390.7 329.6,385.4 330.0,381.8 330.4,373.1 330.8,365.6 331.2,353.1 331.6,338.3 332.0,325.0 332.4,312.4 332.8,304.4 333.2,300.7 333.6,303.7 334.0,307.2 334.4,319.7 334.8,331.3 335.2,345.5 335.6,358.6 336.0,369.0 336.4,377.2 336.8,382.5 337.2,386.4 337.6,388.8 338.0,390.9 338.4,389.4 338.8,390.5 339.2,390.1 339.6,390.5 340.0,390.9 340.4,392.7 340.8,393.9 341.2,393.6 341.6,392.0 342.0,393.3 342.4,392.6 342.8,394.1 343.2,394.8 343.6,394.4 344.0,394.7 344.4,394.0 344.8,392.6 345.2,392.6 345.6,394.1 346.0,394.6 346.4,395.2 346.8,393.9 347.2,394.3 347.6,394.4 348.0,395.0 348.4,394.1 348.8,393.4 349.2,395.0 349.6,394.5 350.0,394.5 350.4,393.2 350.8,394.2 351.2,392.9 351.6,392.7 352.0,394.0 352.4,393.9 352.8,394.6 353.2,395.3 353.6,394.2 354.0,395.6 354.4,393.7 354.8,394.8 355.2,393.2 355.6,394.3 356.0,394.0 356.4,394.0 356.8,394.7 357.2,392.7 357.6,394.3 358.0,393.6 358.4,394.3 358.8,394.5 359.2,393.9 359.6,393.9 360.0,393.3 360.4,394.6 360.8,393.7 361.2,394.5 361.6,393.1 362.0,395.3 362.4,393.4 362.8,395.1 363.2,393.9 363.6,394.6 364.0,394.1 364.4,394.7 364.8,394.2 365.2,395.2 365.6,394.7 366.0,394.7 366.4,395.5 366.8,393.7 367.2,395.2 367.6,394.3 368.0,393.1 368.4,394.6 368.8,394.0 369.2,395.5 369.6,393.8 370.0,394.2 370.4,394.3 370.8,392.6 371.2,394.2 371.6,392.8 372.0,394.2 372.4,393.8 372.8,391.9 373.2,390.2 373.6,391.4 374.0,391.4 374.4,392.2 374.8,392.0 375.2,391.9 375.6,393.2 376.0,393.0 376.4,395.3 376.8,393.5 377.2,393.7 377.6,394.1 378.0,393.2 378.4,393.9 378.8,394.1 379.2,393.8 379.6,394.0 380.0,395.2 380.4,394.5 380.8,393.2 381.2,393.9 381.6,394.8 382.0,393.7 382.4,394.3 382.8,394.2 383.2,394.6 383.6,394.1 384.0,394.1 384.4,393.5 384.8,394.5 385.2,393.5 385.6,395.5 386.0,394.2 386.4,394.0 386.8,394.8 387.2,394.1 387.6,394.3 388.0,394.2 388.4,393.6 388.8,393.5 389.2,393.7 389.6,395.1 390.0,393.7 390.4,393.9 390.8,393.9 391.2,394.7 391.6,395.7 392.0,393.5 392.4,394.6 392.8,394.3 393.2,394.0 393.6,394.6 394.0,393.2 394.4,394.8 394.8,394.4 395.2,393.4 395.6,395.4 396.0,394.8 396.4,395.1 396.8,393.0 397.2,393.9 397.6,393.7 398.0,394.5 398.4,395.0 398.8,392.4 399.2,393.8 399.6,393.6 400.0,394.3 400.4,393.3 400.8,392.1 401.2,392.7 401.6,391.8 402.0,391.8 402.4,392.2 402.8,391.6 403.2,392.0 403.6,390.6 404.0,393.5 404.4,392.7 404.8,392.4 405.2,391.0 405.6,390.5 406.0,391.7 406.4,392.4 406.8,394.6 407.2,394.1 407.6,392.9 408.0,394.4 408.4,394.6 408.8,393.8 409.2,394.8 409.6,394.2 410.0,393.6 410.4,393.2 410.8,394.0 411.2,394.9 411.6,393.1 412.0,392.9 412.4,394.6 412.8,392.1 413.2,395.6 413.6,393.9 414.0,394.8 414.4,395.6 414.8,393.1 415.2,393.4 415.6,395.9 416.0,394.0 416.4,394.1 416.8,394.4 417.2,395.0 417.6,395.2 418.0,394.3 418.4,393.9 418.8,394.2 419.2,394.4 419.6,395.2 420.0,394.3 420.4,395.6 420.8,393.5 421.2,394.6" fill="none" stroke="#231f20" stroke-width="1.05" stroke-linejoin="round"/>
<polyline points="244.8,395.5 245.2,395.2 245.6,394.5 246.0,393.5 246.4,393.7 246.8,394.1 247.2,394.4 247.6,394.0 248.0,393.1 248.4,393.6 248.8,394.6 249.2,394.8 249.6,393.1 250.0,393.9 250.4,392.9 250.8,393.8 251.2,396.9 251.6,394.2 252.0,393.9 252.4,393.7 252.8,393.3 253.2,392.8 253.6,394.2 254.0,394.0 254.4,395.3 254.8,392.9 255.2,394.5 255.6,395.2 256.0,392.7 256.4,394.7 256.8,393.0 257.2,394.6 257.6,395.3 258.0,394.2 258.4,394.4 258.8,393.7 259.2,394.4 259.6,395.1 260.0,394.1 260.4,394.1 260.8,394.5 261.2,394.8 261.6,392.9 262.0,394.2 262.4,393.7 262.8,394.6 263.2,395.0 263.6,394.4 264.0,395.2 264.4,393.4 264.8,393.9 265.2,393.4 265.6,394.2 266.0,394.3 266.4,394.0 266.8,393.3 267.2,394.1 267.6,393.9 268.0,394.7 268.4,394.0 268.8,395.1 269.2,394.4 269.6,392.8 270.0,394.1 270.4,393.1 270.8,394.9 271.2,395.3 271.6,394.2 272.0,394.5 272.4,393.1 272.8,392.5 273.2,393.8 273.6,394.0 274.0,393.0 274.4,394.3 274.8,394.4 275.2,394.7 275.6,395.4 276.0,394.8 276.4,393.9 276.8,394.3 277.2,394.7 277.6,393.4 278.0,395.2 278.4,394.9 278.8,394.0 279.2,393.7 279.6,397.1 280.0,394.8 280.4,394.9 280.8,395.6 281.2,395.0 281.6,394.4 282.0,394.7 282.4,393.5 282.8,394.8 283.2,393.0 283.6,394.5 284.0,394.6 284.4,393.0 284.8,395.7 285.2,393.3 285.6,395.0 286.0,393.8 286.4,394.4 286.8,393.7 287.2,396.1 287.6,395.0 288.0,395.6 288.4,394.8 288.8,394.7 289.2,394.3 289.6,394.0 290.0,394.7 290.4,394.3 290.8,394.1 291.2,393.2 291.6,394.0 292.0,394.7 292.4,393.9 292.8,394.5 293.2,394.1 293.6,393.4 294.0,393.5 294.4,393.6 294.8,394.0 295.2,394.0 295.6,395.1 296.0,393.4 296.4,392.6 296.8,394.7 297.2,393.9 297.6,394.1 298.0,396.2 298.4,395.3 298.8,394.7 299.2,394.9 299.6,394.3 300.0,395.0 300.4,393.8 300.8,393.7 301.2,393.9 301.6,395.4 302.0,395.4 302.4,393.8 302.8,395.1 303.2,394.1 303.6,395.0 304.0,394.0 304.4,395.0 304.8,394.1 305.2,394.0 305.6,394.2 306.0,394.3 306.4,393.8 306.8,393.2 307.2,395.5 307.6,393.9 308.0,392.8 308.4,392.5 308.8,392.1 309.2,393.8 309.6,395.3 310.0,393.0 310.4,394.0 310.8,392.8 311.2,395.1 311.6,394.5 312.0,394.5 312.4,395.3 312.8,395.5 313.2,395.0 313.6,393.8 314.0,393.2 314.4,393.4 314.8,392.9 315.2,395.6 315.6,394.1 316.0,394.3 316.4,394.4 316.8,395.8 317.2,393.8 317.6,395.1 318.0,394.5 318.4,394.1 318.8,392.8 319.2,394.9 319.6,393.7 320.0,393.9 320.4,394.4 320.8,394.3 321.2,395.1 321.6,393.7 322.0,394.4 322.4,394.4 322.8,394.3 323.2,394.8 323.6,394.0 324.0,395.2 324.4,393.7 324.8,393.1 325.2,394.2 325.6,395.1 326.0,393.8 326.4,393.7 326.8,394.0 327.2,394.4 327.6,394.1 328.0,394.5 328.4,392.8 328.8,395.2 329.2,394.3 329.6,392.7 330.0,393.3 330.4,390.6 330.8,387.9 331.2,380.3 331.6,374.6 332.0,363.1 332.4,349.6 332.8,339.7 333.2,328.6 333.6,321.5 334.0,320.7 334.4,323.5 334.8,334.1 335.2,344.9 335.6,357.1 336.0,369.6 336.4,377.6 336.8,383.8 337.2,388.0 337.6,391.4 338.0,393.7 338.4,393.2 338.8,393.2 339.2,394.9 339.6,394.2 340.0,394.2 340.4,395.8 340.8,393.3 341.2,394.4 341.6,392.9 342.0,394.0 342.4,394.7 342.8,395.1 343.2,393.3 343.6,394.9 344.0,394.8 344.4,394.1 344.8,396.1 345.2,394.2 345.6,393.6 346.0,394.6 346.4,392.8 346.8,395.4 347.2,395.0 347.6,393.9 348.0,394.7 348.4,394.6 348.8,395.7 349.2,393.8 349.6,393.2 350.0,392.7 350.4,394.0 350.8,393.0 351.2,394.1 351.6,394.5 352.0,393.9 352.4,393.5 352.8,395.2 353.2,394.1 353.6,394.4 354.0,395.0 354.4,393.2 354.8,393.5 355.2,396.2 355.6,394.1 356.0,393.4 356.4,394.0 356.8,393.8 357.2,393.3 357.6,393.9 358.0,394.2 358.4,394.2 358.8,394.6 359.2,392.9 359.6,393.1 360.0,394.8 360.4,393.9 360.8,395.2 361.2,394.5 361.6,393.1 362.0,394.6 362.4,393.4 362.8,394.4 363.2,395.2 363.6,395.9 364.0,394.2 364.4,394.8 364.8,394.5 365.2,394.8 365.6,392.3 366.0,393.9 366.4,394.5 366.8,394.6 367.2,393.6 367.6,394.9 368.0,395.1 368.4,394.3 368.8,394.1 369.2,394.0 369.6,394.3 370.0,395.1 370.4,395.4 370.8,393.9 371.2,393.5 371.6,393.6 372.0,395.0 372.4,394.4 372.8,394.5 373.2,394.6 373.6,394.5 374.0,394.1 374.4,393.4 374.8,393.8 375.2,394.3 375.6,394.5 376.0,393.9 376.4,393.9 376.8,395.2 377.2,393.7 377.6,394.0 378.0,393.2 378.4,392.1 378.8,390.9 379.2,391.0 379.6,390.6 380.0,392.1 380.4,391.2 380.8,392.5 381.2,393.9 381.6,393.7 382.0,394.4 382.4,394.8 382.8,392.9 383.2,393.9 383.6,393.5 384.0,395.3 384.4,394.1 384.8,394.6 385.2,395.5 385.6,394.0 386.0,394.3 386.4,394.5 386.8,394.0 387.2,395.2 387.6,394.9 388.0,395.0 388.4,394.3 388.8,394.0 389.2,394.0 389.6,394.0 390.0,393.0 390.4,394.5 390.8,394.9 391.2,394.2 391.6,393.9 392.0,394.3 392.4,394.4 392.8,394.5 393.2,395.6 393.6,393.6 394.0,394.5 394.4,394.8 394.8,394.3 395.2,394.1 395.6,393.4 396.0,393.8 396.4,394.8 396.8,395.3 397.2,393.7 397.6,394.6 398.0,394.6 398.4,395.0 398.8,394.4 399.2,394.6 399.6,394.9 400.0,393.3 400.4,394.3 400.8,392.9 401.2,392.7 401.6,393.6 402.0,393.1 402.4,394.6 402.8,395.0 403.2,394.0 403.6,394.1 404.0,394.1 404.4,394.0 404.8,394.3 405.2,394.5 405.6,393.9 406.0,393.6 406.4,393.8 406.8,394.8 407.2,393.9 407.6,395.3 408.0,394.0 408.4,395.3 408.8,393.3 409.2,393.7 409.6,394.6 410.0,394.6 410.4,394.1 410.8,395.8 411.2,394.3 411.6,394.4 412.0,393.8 412.4,395.5 412.8,394.9 413.2,394.5 413.6,393.0 414.0,394.5 414.4,393.9 414.8,394.5 415.2,394.9 415.6,393.7 416.0,394.4 416.4,394.9 416.8,394.3 417.2,394.0 417.6,393.4 418.0,393.7 418.4,393.3 418.8,395.0 419.2,394.3 419.6,393.3 420.0,394.2 420.4,393.3 420.8,391.7 421.2,395.1" fill="none" stroke="#ed1c24" stroke-width="1.05" stroke-linejoin="round"/>
<polyline points="244.8,395.1 245.2,393.1 245.6,393.7 246.0,394.4 246.4,393.9 246.8,393.6 247.2,393.8 247.6,394.0 248.0,393.8 248.4,394.4 248.8,394.0 249.2,393.7 249.6,394.2 250.0,393.0 250.4,395.3 250.8,392.9 251.2,394.2 251.6,394.5 252.0,394.5 252.4,394.4 252.8,395.2 253.2,393.4 253.6,394.2 254.0,394.3 254.4,393.8 254.8,393.8 255.2,395.2 255.6,393.7 256.0,393.9 256.4,394.0 256.8,394.1 257.2,394.3 257.6,394.1 258.0,394.5 258.4,394.3 258.8,394.6 259.2,395.2 259.6,393.6 260.0,395.5 260.4,393.9 260.8,394.7 261.2,394.3 261.6,394.0 262.0,392.7 262.4,395.4 262.8,393.7 263.2,393.6 263.6,395.0 264.0,394.3 264.4,395.6 264.8,395.5 265.2,394.7 265.6,394.4 266.0,394.8 266.4,393.2 266.8,394.3 267.2,394.3 267.6,393.9 268.0,394.4 268.4,393.1 268.8,394.9 269.2,395.2 269.6,393.2 270.0,394.3 270.4,395.4 270.8,394.5 271.2,393.4 271.6,393.5 272.0,394.9 272.4,395.6 272.8,393.4 273.2,394.2 273.6,393.6 274.0,394.0 274.4,394.4 274.8,394.2 275.2,393.7 275.6,395.8 276.0,394.1 276.4,394.1 276.8,395.0 277.2,394.2 277.6,394.1 278.0,394.9 278.4,393.4 278.8,394.8 279.2,395.0 279.6,394.7 280.0,394.1 280.4,394.2 280.8,392.9 281.2,394.1 281.6,394.4 282.0,394.9 282.4,394.3 282.8,393.9 283.2,393.6 283.6,394.2 284.0,394.3 284.4,395.1 284.8,394.2 285.2,393.8 285.6,394.1 286.0,393.9 286.4,394.0 286.8,392.6 287.2,393.0 287.6,393.3 288.0,394.6 288.4,394.2 288.8,394.3 289.2,395.1 289.6,393.4 290.0,395.1 290.4,394.5 290.8,393.7 291.2,395.3 291.6,393.2 292.0,393.4 292.4,394.1 292.8,394.5 293.2,394.1 293.6,392.6 294.0,394.0 294.4,394.2 294.8,396.1 295.2,395.2 295.6,394.3 296.0,393.4 296.4,394.5 296.8,393.3 297.2,394.4 297.6,394.5 298.0,393.9 298.4,394.4 298.8,394.0 299.2,393.8 299.6,395.3 300.0,394.6 300.4,394.0 300.8,393.6 301.2,394.3 301.6,394.6 302.0,394.8 302.4,395.3 302.8,394.6 303.2,393.4 303.6,395.7 304.0,395.1 304.4,394.8 304.8,395.2 305.2,393.1 305.6,393.9 306.0,393.8 306.4,395.1 306.8,393.3 307.2,394.0 307.6,395.3 308.0,394.7 308.4,393.9 308.8,395.6 309.2,393.2 309.6,394.5 310.0,394.0 310.4,394.6 310.8,394.0 311.2,393.6 311.6,394.4 312.0,393.2 312.4,394.6 312.8,394.0 313.2,394.9 313.6,393.9 314.0,393.7 314.4,394.5 314.8,395.1 315.2,392.7 315.6,394.3 316.0,394.7 316.4,393.2 316.8,393.6 317.2,394.7 317.6,393.6 318.0,393.7 318.4,395.5 318.8,393.5 319.2,393.6 319.6,392.5 320.0,393.4 320.4,393.3 320.8,395.5 321.2,395.1 321.6,393.3 322.0,395.7 322.4,394.8 322.8,394.1 323.2,394.8 323.6,394.5 324.0,393.6 324.4,392.9 324.8,393.5 325.2,394.2 325.6,393.9 326.0,393.7 326.4,394.9 326.8,393.4 327.2,394.9 327.6,393.9 328.0,394.3 328.4,393.4 328.8,394.2 329.2,393.6 329.6,392.9 330.0,394.1 330.4,394.0 330.8,394.5 331.2,393.7 331.6,391.8 332.0,390.6 332.4,386.8 332.8,384.4 333.2,382.1 333.6,377.9 334.0,373.7 334.4,371.3 334.8,371.5 335.2,373.5 335.6,375.5 336.0,380.5 336.4,386.1 336.8,389.5 337.2,391.2 337.6,392.3 338.0,393.2 338.4,393.5 338.8,393.4 339.2,392.7 339.6,394.3 340.0,393.9 340.4,394.0 340.8,395.5 341.2,394.6 341.6,393.7 342.0,394.6 342.4,393.1 342.8,395.0 343.2,394.4 343.6,394.1 344.0,394.6 344.4,395.3 344.8,393.9 345.2,393.5 345.6,395.8 346.0,394.2 346.4,395.3 346.8,393.7 347.2,394.5 347.6,393.7 348.0,394.7 348.4,394.0 348.8,393.7 349.2,395.4 349.6,394.5 350.0,392.7 350.4,394.0 350.8,393.5 351.2,393.3 351.6,393.8 352.0,393.8 352.4,394.2 352.8,393.6 353.2,392.8 353.6,393.8 354.0,394.9 354.4,393.2 354.8,394.7 355.2,394.5 355.6,393.9 356.0,394.4 356.4,393.6 356.8,393.9 357.2,393.4 357.6,394.5 358.0,395.2 358.4,393.7 358.8,395.1 359.2,392.6 359.6,393.5 360.0,393.4 360.4,395.5 360.8,393.8 361.2,394.8 361.6,392.7 362.0,394.3 362.4,394.6 362.8,394.2 363.2,392.2 363.6,394.3 364.0,394.8 364.4,395.2 364.8,394.5 365.2,392.9 365.6,394.0 366.0,394.9 366.4,393.6 366.8,394.6 367.2,393.8 367.6,394.3 368.0,394.8 368.4,393.7 368.8,396.3 369.2,394.3 369.6,394.5 370.0,393.6 370.4,394.2 370.8,394.0 371.2,393.1 371.6,393.1 372.0,394.4 372.4,394.1 372.8,392.2 373.2,392.6 373.6,394.0 374.0,394.1 374.4,394.7 374.8,393.3 375.2,394.6 375.6,394.0 376.0,393.8 376.4,394.1 376.8,394.9 377.2,394.6 377.6,394.9 378.0,393.7 378.4,394.0 378.8,393.3 379.2,393.8 379.6,393.9 380.0,393.9 380.4,394.7 380.8,394.5 381.2,394.8 381.6,394.3 382.0,395.0 382.4,394.3 382.8,394.9 383.2,394.6 383.6,394.8 384.0,394.1 384.4,393.3 384.8,393.1 385.2,395.7 385.6,394.5 386.0,394.5 386.4,394.1 386.8,393.9 387.2,396.4 387.6,393.4 388.0,394.2 388.4,394.2 388.8,393.4 389.2,393.2 389.6,393.7 390.0,393.9 390.4,393.8 390.8,394.8 391.2,393.3 391.6,394.5 392.0,395.3 392.4,394.9 392.8,393.3 393.2,392.0 393.6,394.8 394.0,394.6 394.4,393.8 394.8,395.2 395.2,393.9 395.6,394.3 396.0,393.4 396.4,394.4 396.8,393.9 397.2,393.8 397.6,395.0 398.0,394.4 398.4,393.1 398.8,394.7 399.2,394.8 399.6,393.6 400.0,393.9 400.4,394.2 400.8,394.0 401.2,394.3 401.6,394.7 402.0,393.8 402.4,395.8 402.8,393.7 403.2,393.8 403.6,395.7 404.0,396.0 404.4,394.2 404.8,394.1 405.2,393.4 405.6,395.1 406.0,394.3 406.4,393.6 406.8,394.5 407.2,395.2 407.6,394.7 408.0,395.9 408.4,395.1 408.8,394.5 409.2,394.2 409.6,394.6 410.0,395.1 410.4,394.8 410.8,395.0 411.2,394.4 411.6,394.8 412.0,395.1 412.4,394.1 412.8,393.2 413.2,395.5 413.6,394.6 414.0,393.9 414.4,394.4 414.8,394.0 415.2,392.9 415.6,394.1 416.0,393.1 416.4,394.4 416.8,394.1 417.2,395.1 417.6,394.1 418.0,394.5 418.4,394.0 418.8,393.9 419.2,393.2 419.6,394.9 420.0,394.3 420.4,393.8 420.8,394.4 421.2,393.9" fill="none" stroke="#4560b8" stroke-width="1.05" stroke-linejoin="round"/>
<polyline points="244.8,393.7 245.2,394.4 245.6,395.1 246.0,394.0 246.4,393.1 246.8,393.7 247.2,395.5 247.6,393.6 248.0,395.1 248.4,394.0 248.8,394.8 249.2,394.1 249.6,393.0 250.0,393.9 250.4,395.8 250.8,394.1 251.2,394.6 251.6,393.9 252.0,394.1 252.4,394.4 252.8,394.6 253.2,395.9 253.6,394.2 254.0,394.1 254.4,393.7 254.8,393.2 255.2,393.0 255.6,394.7 256.0,392.8 256.4,395.3 256.8,394.8 257.2,394.0 257.6,393.3 258.0,394.2 258.4,394.2 258.8,395.0 259.2,393.6 259.6,393.9 260.0,394.2 260.4,394.0 260.8,393.7 261.2,392.9 261.6,393.0 262.0,393.7 262.4,394.0 262.8,395.0 263.2,395.9 263.6,395.5 264.0,394.5 264.4,395.6 264.8,394.1 265.2,393.8 265.6,395.9 266.0,393.4 266.4,393.9 266.8,394.0 267.2,395.3 267.6,393.8 268.0,394.8 268.4,393.9 268.8,393.3 269.2,394.4 269.6,394.3 270.0,393.3 270.4,393.6 270.8,393.6 271.2,394.9 271.6,394.5 272.0,394.4 272.4,394.6 272.8,393.8 273.2,394.6 273.6,393.8 274.0,393.2 274.4,393.7 274.8,394.4 275.2,394.3 275.6,395.0 276.0,392.9 276.4,394.0 276.8,394.5 277.2,393.5 277.6,394.4 278.0,393.9 278.4,393.4 278.8,395.0 279.2,393.2 279.6,395.0 280.0,393.9 280.4,393.5 280.8,393.5 281.2,393.7 281.6,393.6 282.0,394.4 282.4,392.8 282.8,395.1 283.2,394.8 283.6,395.2 284.0,393.5 284.4,392.5 284.8,393.7 285.2,394.1 285.6,394.4 286.0,393.8 286.4,394.1 286.8,394.3 287.2,393.0 287.6,395.6 288.0,393.4 288.4,394.4 288.8,395.0 289.2,393.6 289.6,394.2 290.0,395.4 290.4,394.0 290.8,395.0 291.2,394.4 291.6,394.4 292.0,394.7 292.4,394.0 292.8,394.1 293.2,394.9 293.6,394.4 294.0,394.6 294.4,393.3 294.8,394.2 295.2,395.1 295.6,394.9 296.0,394.5 296.4,393.8 296.8,393.8 297.2,394.5 297.6,395.3 298.0,394.2 298.4,395.2 298.8,394.0 299.2,395.1 299.6,393.5 300.0,394.4 300.4,393.4 300.8,394.7 301.2,394.6 301.6,393.5 302.0,393.7 302.4,393.9 302.8,393.1 303.2,393.5 303.6,393.6 304.0,394.8 304.4,395.2 304.8,393.9 305.2,394.0 305.6,394.4 306.0,393.8 306.4,394.0 306.8,394.8 307.2,394.4 307.6,394.1 308.0,393.8 308.4,395.3 308.8,393.8 309.2,394.3 309.6,393.4 310.0,393.8 310.4,394.3 310.8,393.9 311.2,394.6 311.6,394.3 312.0,393.2 312.4,392.5 312.8,395.0 313.2,393.8 313.6,395.3 314.0,394.2 314.4,393.6 314.8,394.6 315.2,394.0 315.6,394.2 316.0,393.5 316.4,394.7 316.8,395.0 317.2,393.8 317.6,395.5 318.0,393.8 318.4,394.4 318.8,393.0 319.2,392.8 319.6,395.8 320.0,395.3 320.4,395.1 320.8,392.9 321.2,394.4 321.6,394.5 322.0,394.3 322.4,394.4 322.8,393.5 323.2,394.1 323.6,393.4 324.0,393.9 324.4,394.5 324.8,393.6 325.2,394.0 325.6,393.9 326.0,394.2 326.4,394.9 326.8,394.4 327.2,394.5 327.6,393.1 328.0,393.9 328.4,394.8 328.8,393.6 329.2,393.9 329.6,393.5 330.0,395.2 330.4,393.8 330.8,393.5 331.2,394.4 331.6,394.4 332.0,393.4 332.4,392.8 332.8,391.0 333.2,389.2 333.6,387.3 334.0,385.9 334.4,385.1 334.8,385.8 335.2,386.2 335.6,387.7 336.0,389.7 336.4,390.8 336.8,391.1 337.2,392.4 337.6,392.8 338.0,392.5 338.4,394.2 338.8,393.3 339.2,393.2 339.6,393.4 340.0,394.9 340.4,394.0 340.8,395.0 341.2,394.1 341.6,393.9 342.0,394.6 342.4,394.7 342.8,394.3 343.2,393.4 343.6,393.9 344.0,393.3 344.4,394.0 344.8,394.3 345.2,395.3 345.6,395.3 346.0,394.7 346.4,394.9 346.8,394.4 347.2,396.3 347.6,395.3 348.0,396.2 348.4,394.5 348.8,394.5 349.2,395.0 349.6,394.3 350.0,394.4 350.4,393.5 350.8,394.9 351.2,394.3 351.6,394.8 352.0,394.0 352.4,392.9 352.8,394.6 353.2,395.1 353.6,393.2 354.0,393.5 354.4,394.0 354.8,394.0 355.2,392.9 355.6,395.5 356.0,395.0 356.4,393.7 356.8,392.8 357.2,394.5 357.6,395.7 358.0,394.8 358.4,395.1 358.8,393.5 359.2,394.4 359.6,393.1 360.0,395.7 360.4,394.6 360.8,392.6 361.2,392.8 361.6,394.6 362.0,394.3 362.4,394.0 362.8,394.7 363.2,395.7 363.6,394.5 364.0,392.8 364.4,394.1 364.8,393.2 365.2,393.6 365.6,394.4 366.0,394.1 366.4,393.4 366.8,394.2 367.2,393.6 367.6,394.6 368.0,394.0 368.4,394.5 368.8,394.0 369.2,394.8 369.6,394.1 370.0,394.2 370.4,393.8 370.8,394.3 371.2,392.9 371.6,396.2 372.0,393.7 372.4,394.3 372.8,393.8 373.2,393.8 373.6,394.5 374.0,393.8 374.4,393.9 374.8,393.2 375.2,393.5 375.6,393.3 376.0,395.5 376.4,393.2 376.8,393.4 377.2,394.3 377.6,395.3 378.0,392.9 378.4,393.0 378.8,394.3 379.2,394.4 379.6,393.1 380.0,392.8 380.4,393.5 380.8,394.7 381.2,394.2 381.6,394.7 382.0,394.1 382.4,394.2 382.8,394.6 383.2,394.1 383.6,394.4 384.0,393.5 384.4,393.7 384.8,394.5 385.2,394.0 385.6,393.6 386.0,394.7 386.4,394.6 386.8,394.2 387.2,393.6 387.6,394.9 388.0,396.1 388.4,393.6 388.8,393.0 389.2,393.6 389.6,393.5 390.0,393.2 390.4,393.3 390.8,394.8 391.2,394.8 391.6,395.3 392.0,394.7 392.4,393.8 392.8,395.0 393.2,393.7 393.6,393.9 394.0,393.3 394.4,395.1 394.8,394.9 395.2,393.8 395.6,393.9 396.0,394.2 396.4,394.3 396.8,394.8 397.2,394.2 397.6,394.5 398.0,393.1 398.4,394.0 398.8,392.8 399.2,395.5 399.6,395.2 400.0,394.7 400.4,395.0 400.8,395.7 401.2,394.9 401.6,393.0 402.0,394.0 402.4,392.4 402.8,393.6 403.2,393.2 403.6,394.2 404.0,394.5 404.4,393.5 404.8,394.0 405.2,394.4 405.6,394.1 406.0,394.0 406.4,392.4 406.8,393.8 407.2,394.8 407.6,394.4 408.0,393.1 408.4,394.0 408.8,394.4 409.2,393.4 409.6,394.7 410.0,393.6 410.4,393.9 410.8,394.1 411.2,395.8 411.6,393.9 412.0,393.7 412.4,394.7 412.8,393.8 413.2,394.3 413.6,392.5 414.0,394.4 414.4,394.2 414.8,393.2 415.2,395.2 415.6,394.0 416.0,394.0 416.4,393.2 416.8,393.0 417.2,393.7 417.6,393.0 418.0,394.5 418.4,394.8 418.8,393.7 419.2,393.0 419.6,393.9 420.0,393.4 420.4,394.3 420.8,394.3 421.2,393.9" fill="none" stroke="#12a04b" stroke-width="1.05" stroke-linejoin="round"/>
<polyline points="244.8,394.2 245.2,395.0 245.6,395.4 246.0,393.8 246.4,394.7 246.8,394.0 247.2,393.4 247.6,395.1 248.0,394.5 248.4,394.3 248.8,394.4 249.2,394.0 249.6,393.4 250.0,395.5 250.4,394.8 250.8,394.4 251.2,394.9 251.6,395.1 252.0,394.0 252.4,394.6 252.8,393.9 253.2,394.7 253.6,394.0 254.0,396.0 254.4,393.9 254.8,394.6 255.2,394.5 255.6,393.9 256.0,394.9 256.4,394.1 256.8,393.9 257.2,394.2 257.6,393.6 258.0,395.1 258.4,394.6 258.8,394.9 259.2,393.2 259.6,394.4 260.0,393.6 260.4,394.2 260.8,395.1 261.2,394.4 261.6,394.0 262.0,395.0 262.4,394.9 262.8,395.6 263.2,392.8 263.6,394.4 264.0,393.9 264.4,393.5 264.8,394.3 265.2,393.3 265.6,392.5 266.0,393.5 266.4,394.0 266.8,395.6 267.2,393.6 267.6,393.3 268.0,392.7 268.4,393.9 268.8,394.0 269.2,394.3 269.6,393.1 270.0,393.6 270.4,392.5 270.8,394.3 271.2,393.0 271.6,392.1 272.0,395.0 272.4,394.5 272.8,394.4 273.2,394.4 273.6,393.4 274.0,395.0 274.4,393.4 274.8,395.6 275.2,394.3 275.6,392.8 276.0,394.8 276.4,395.6 276.8,394.0 277.2,395.0 277.6,394.0 278.0,393.7 278.4,392.2 278.8,395.1 279.2,393.8 279.6,394.5 280.0,393.3 280.4,393.5 280.8,395.0 281.2,393.9 281.6,393.9 282.0,393.2 282.4,394.3 282.8,394.8 283.2,393.8 283.6,394.0 284.0,393.3 284.4,395.2 284.8,393.7 285.2,394.1 285.6,395.4 286.0,394.0 286.4,393.0 286.8,393.5 287.2,393.9 287.6,395.5 288.0,394.3 288.4,394.0 288.8,394.8 289.2,395.2 289.6,393.6 290.0,395.3 290.4,394.8 290.8,394.5 291.2,392.4 291.6,394.3 292.0,395.2 292.4,394.0 292.8,395.9 293.2,394.2 293.6,393.4 294.0,394.6 294.4,394.4 294.8,394.8 295.2,394.0 295.6,395.2 296.0,393.8 296.4,394.3 296.8,393.2 297.2,393.6 297.6,394.3 298.0,393.7 298.4,393.8 298.8,394.0 299.2,394.4 299.6,394.8 300.0,394.8 300.4,395.0 300.8,394.3 301.2,393.8 301.6,393.0 302.0,393.9 302.4,393.6 302.8,392.8 303.2,395.4 303.6,392.8 304.0,394.5 304.4,394.6 304.8,394.0 305.2,396.1 305.6,394.2 306.0,393.6 306.4,395.5 306.8,393.6 307.2,393.1 307.6,393.4 308.0,393.7 308.4,394.2 308.8,394.4 309.2,393.0 309.6,394.4 310.0,395.9 310.4,393.6 310.8,394.1 311.2,394.7 311.6,395.1 312.0,393.7 312.4,393.5 312.8,393.4 313.2,395.0 313.6,394.9 314.0,392.5 314.4,392.6 314.8,393.2 315.2,393.0 315.6,394.5 316.0,394.4 316.4,395.7 316.8,394.8 317.2,394.3 317.6,395.1 318.0,393.5 318.4,393.1 318.8,394.2 319.2,394.9 319.6,393.0 320.0,394.9 320.4,394.8 320.8,393.8 321.2,394.3 321.6,394.0 322.0,394.2 322.4,394.8 322.8,393.6 323.2,395.0 323.6,394.8 324.0,394.9 324.4,392.7 324.8,392.8 325.2,394.7 325.6,393.7 326.0,393.7 326.4,393.6 326.8,393.2 327.2,394.0 327.6,393.6 328.0,393.7 328.4,394.5 328.8,393.3 329.2,395.0 329.6,392.5 330.0,396.0 330.4,393.0 330.8,394.3 331.2,394.2 331.6,392.8 332.0,392.5 332.4,390.6 332.8,388.0 333.2,388.3 333.6,388.0 334.0,386.4 334.4,385.8 334.8,387.6 335.2,389.6 335.6,390.9 336.0,392.8 336.4,393.3 336.8,393.8 337.2,392.3 337.6,395.7 338.0,394.2 338.4,394.8 338.8,393.9 339.2,394.1 339.6,394.2 340.0,395.4 340.4,395.3 340.8,394.7 341.2,395.7 341.6,393.9 342.0,394.6 342.4,393.8 342.8,395.2 343.2,394.2 343.6,394.9 344.0,395.5 344.4,392.6 344.8,395.8 345.2,394.4 345.6,393.9 346.0,392.7 346.4,394.0 346.8,392.4 347.2,394.3 347.6,394.1 348.0,395.6 348.4,393.9 348.8,395.0 349.2,395.1 349.6,395.8 350.0,394.0 350.4,394.8 350.8,393.0 351.2,393.3 351.6,394.0 352.0,394.2 352.4,393.3 352.8,393.9 353.2,394.7 353.6,393.8 354.0,394.1 354.4,393.5 354.8,395.3 355.2,395.6 355.6,394.4 356.0,394.1 356.4,395.5 356.8,394.6 357.2,393.7 357.6,393.2 358.0,393.7 358.4,395.9 358.8,393.7 359.2,396.4 359.6,394.2 360.0,394.0 360.4,395.2 360.8,394.0 361.2,394.5 361.6,393.4 362.0,393.2 362.4,393.6 362.8,394.4 363.2,393.7 363.6,392.7 364.0,394.6 364.4,394.1 364.8,394.0 365.2,393.7 365.6,392.5 366.0,395.4 366.4,393.8 366.8,394.6 367.2,395.3 367.6,395.1 368.0,394.4 368.4,394.2 368.8,394.4 369.2,394.9 369.6,394.6 370.0,393.9 370.4,394.5 370.8,394.5 371.2,394.7 371.6,394.4 372.0,395.3 372.4,394.4 372.8,394.9 373.2,394.2 373.6,393.8 374.0,393.5 374.4,394.1 374.8,394.6 375.2,395.2 375.6,394.1 376.0,393.8 376.4,393.8 376.8,395.2 377.2,394.3 377.6,393.8 378.0,394.8 378.4,393.2 378.8,394.3 379.2,394.2 379.6,394.1 380.0,393.3 380.4,395.0 380.8,395.5 381.2,393.2 381.6,394.3 382.0,394.7 382.4,395.9 382.8,393.9 383.2,393.5 383.6,394.2 384.0,395.7 384.4,394.3 384.8,394.4 385.2,395.6 385.6,392.6 386.0,392.5 386.4,394.9 386.8,394.8 387.2,393.1 387.6,394.6 388.0,394.2 388.4,394.4 388.8,393.6 389.2,393.9 389.6,393.5 390.0,394.2 390.4,394.0 390.8,395.5 391.2,394.7 391.6,393.0 392.0,394.5 392.4,395.3 392.8,394.4 393.2,395.0 393.6,394.2 394.0,394.7 394.4,393.5 394.8,394.8 395.2,393.1 395.6,395.2 396.0,393.0 396.4,392.6 396.8,394.6 397.2,394.1 397.6,394.3 398.0,394.5 398.4,394.2 398.8,393.5 399.2,394.4 399.6,394.5 400.0,394.6 400.4,395.7 400.8,393.6 401.2,394.3 401.6,394.6 402.0,393.9 402.4,393.3 402.8,393.8 403.2,395.0 403.6,394.0 404.0,394.7 404.4,393.6 404.8,394.5 405.2,393.7 405.6,393.6 406.0,394.3 406.4,394.2 406.8,395.3 407.2,393.0 407.6,394.6 408.0,395.4 408.4,395.2 408.8,393.9 409.2,393.7 409.6,393.8 410.0,394.4 410.4,394.3 410.8,394.5 411.2,394.7 411.6,393.4 412.0,393.3 412.4,393.3 412.8,393.2 413.2,394.1 413.6,394.4 414.0,396.1 414.4,394.6 414.8,394.2 415.2,395.3 415.6,393.6 416.0,394.5 416.4,394.9 416.8,394.8 417.2,394.5 417.6,393.9 418.0,393.2 418.4,394.1 418.8,393.7 419.2,394.7 419.6,394.1 420.0,394.6 420.4,393.0 420.8,394.9 421.2,393.5" fill="none" stroke="#fbad3c" stroke-width="1.05" stroke-linejoin="round"/>
<polyline points="463.5,126.3 463.9,126.5 464.4,127.2 464.8,128.7 465.3,128.3 465.7,126.7 466.2,127.8 466.6,127.6 467.1,126.3 467.5,126.8 468.0,125.9 468.4,126.9 468.9,125.4 469.3,127.0 469.8,126.9 470.2,127.0 470.7,127.0 471.1,128.7 471.6,127.4 472.0,127.9 472.5,128.4 472.9,128.5 473.4,128.3 473.8,127.2 474.3,126.7 474.7,127.0 475.2,127.3 475.6,127.7 476.1,127.6 476.5,128.7 477.0,127.6 477.4,129.3 477.9,128.6 478.3,127.3 478.8,128.4 479.2,125.2 479.7,128.9 480.1,128.1 480.6,128.0 481.0,126.2 481.5,129.9 481.9,127.5 482.4,127.6 482.8,128.7 483.3,127.5 483.7,127.0 484.2,128.3 484.6,126.8 485.1,128.3 485.5,127.8 486.0,128.7 486.4,126.6 486.9,128.8 487.3,128.0 487.8,129.4 488.2,127.1 488.7,129.3 489.1,128.3 489.6,128.4 490.0,127.1 490.5,128.2 490.9,128.3 491.4,127.0 491.8,126.7 492.3,127.0 492.7,129.0 493.2,127.8 493.6,128.5 494.1,128.0 494.5,127.8 495.0,127.9 495.4,127.3 495.9,128.8 496.3,127.9 496.8,127.9 497.2,126.5 497.7,128.0 498.1,127.1 498.6,127.3 499.0,128.6 499.5,126.8 499.9,127.5 500.4,128.2 500.8,128.7 501.3,127.2 501.7,128.0 502.2,127.9 502.6,126.7 503.1,125.8 503.5,126.0 504.0,128.2 504.4,127.8 504.9,126.5 505.3,127.1 505.8,127.4 506.2,127.4 506.7,127.7 507.1,129.6 507.6,127.0 508.0,127.8 508.5,127.0 508.9,127.2 509.4,126.9 509.8,127.5 510.3,127.2 510.7,128.0 511.2,127.9 511.6,126.9 512.1,129.4 512.5,126.7 513.0,128.0 513.4,129.6 513.9,127.1 514.3,128.9 514.8,128.9 515.2,128.0 515.7,126.1 516.1,128.9 516.6,127.8 517.0,127.2 517.5,128.8 517.9,127.1 518.4,128.6 518.8,127.2 519.3,128.2 519.7,126.8 520.2,127.4 520.6,126.9 521.1,127.1 521.5,127.9 522.0,127.6 522.4,127.9 522.9,128.8 523.3,127.6 523.8,126.1 524.2,127.4 524.7,127.8 525.1,128.6 525.6,128.6 526.0,128.5 526.5,127.5 526.9,128.3 527.4,126.4 527.8,128.8 528.3,128.1 528.7,128.1 529.2,127.4 529.6,127.7 530.1,127.1 530.5,128.2 531.0,126.5 531.4,128.5 531.9,128.2 532.3,129.5 532.5,127.7 532.8,128.0 533.2,129.2 533.7,130.3 534.1,131.7 534.6,132.7 535.0,134.7 535.5,137.4 535.9,140.0 536.4,141.7 536.5,142.3 536.8,145.5 537.3,150.7 537.7,155.2 538.2,162.0 538.6,168.5 539.1,174.5 539.5,179.2 540.0,184.2 540.4,186.7 540.9,189.9 541.2,191.4 541.3,189.9 541.8,190.6 542.2,188.2 542.7,184.0 543.1,183.1 543.5,180.5 543.6,180.8 544.0,183.1 544.5,187.1 544.9,192.2 545.4,198.0 545.8,207.8 546.3,214.0 546.7,221.8 547.2,229.5 547.6,235.8 548.1,241.0 548.5,244.7 549.0,245.9 549.2,248.9 549.4,246.3 549.9,242.5 550.3,237.7 550.8,229.7 551.2,224.3 551.7,213.8 552.1,205.6 552.6,197.1 553.0,189.1 553.5,183.5 553.9,179.3 554.2,179.3 554.4,179.0 554.8,180.8 555.3,182.2 555.7,186.3 556.2,188.1 556.6,188.9 557.0,188.0 557.1,189.9 557.5,187.7 558.0,182.0 558.4,174.4 558.9,168.4 559.3,161.6 559.8,152.7 560.1,151.5 560.2,148.0 560.7,145.3 561.1,142.6 561.6,137.3 562.0,134.4 562.5,131.4 562.7,131.0 562.9,132.3 563.4,130.3 563.8,128.0 564.3,127.4 564.5,127.7 564.7,129.6 565.2,127.9 565.6,128.7 566.1,127.4 566.5,126.6 567.0,128.8 567.4,127.6 567.9,127.0 568.3,127.1 568.8,127.1 569.2,127.2 569.7,126.4 570.1,128.7 570.6,128.0 571.0,128.5 571.5,127.4 571.5,128.0 571.9,128.9 572.4,131.0 572.8,131.9 573.3,132.9 573.7,133.4 574.2,134.5 574.6,136.4 575.1,138.2 575.5,139.7 575.5,139.3 576.0,143.9 576.4,145.3 576.9,146.2 577.3,149.7 577.8,151.9 578.2,155.0 578.7,156.5 578.8,154.7 579.1,156.0 579.6,154.8 580.0,155.5 580.5,155.0 580.9,153.5 581.4,153.3 581.8,152.5 581.9,152.2 582.3,152.2 582.7,155.8 583.2,158.8 583.6,162.7 584.1,167.5 584.5,171.9 585.0,175.3 585.4,178.9 585.9,182.3 586.2,181.5 586.3,182.8 586.8,178.9 587.2,175.4 587.7,172.2 588.1,167.6 588.6,161.1 589.0,157.3 589.5,153.4 589.9,150.7 590.4,148.6 590.4,148.7 590.8,147.7 591.3,150.2 591.7,151.8 592.2,153.9 592.6,152.1 592.7,152.5 593.1,151.7 593.5,151.5 594.0,145.8 594.4,143.9 594.9,143.5 595.3,139.5 595.5,137.1 595.8,136.8 596.2,135.5 596.7,133.3 597.1,130.8 597.6,128.5 598.0,128.4 598.0,127.7 598.5,128.4 598.9,128.0 599.4,127.3 599.8,128.9 600.3,127.3 600.7,128.1 601.2,127.2 601.6,127.5 602.1,127.5 602.5,127.1 603.0,127.9 603.4,128.8 603.9,129.3 604.3,128.9 604.8,127.6 605.2,129.0 605.7,128.1 606.1,129.2 606.6,126.6 607.0,129.0 607.5,127.2 607.9,128.7 608.4,127.3 608.8,128.5 609.3,127.5 609.7,126.1 610.2,126.9 610.6,127.5 611.1,127.7 611.5,125.8 612.0,126.7 612.4,127.1 612.9,127.5 613.3,127.9 613.8,127.0 614.2,126.4 614.7,128.0 615.1,127.4 615.6,128.5 616.0,127.2 616.5,128.3 616.9,126.9 617.4,127.9 617.8,127.8 618.3,128.1 618.7,126.9 619.2,127.6 619.6,127.0 620.1,127.6 620.5,128.2 621.0,130.3 621.4,127.7 621.9,128.3 622.3,127.8 622.8,128.7 623.2,128.1 623.7,128.6 624.1,128.0 624.6,129.8 625.0,128.9 625.5,126.2 625.9,128.0 626.4,127.8 626.8,125.8 627.3,127.0 627.7,127.3 628.2,127.1 628.6,127.8 629.1,126.2 629.5,128.3 630.0,128.4 630.4,128.0 630.9,127.4 631.3,127.7 631.8,127.3 632.2,128.7 632.7,128.1 633.1,129.4 633.6,127.4 634.0,128.9 634.5,127.2 634.9,127.6 635.4,126.8 635.8,128.2 636.3,127.7 636.7,128.2 637.2,129.0 637.6,127.7 638.1,128.0 638.5,128.5 639.0,127.7 639.4,127.2 639.9,128.0 640.3,128.1 640.8,128.4 641.2,128.4 641.7,127.1 642.1,128.1 642.6,128.8 643.0,127.3 643.5,128.0 643.9,127.2 644.4,127.8 644.8,129.2 645.3,127.9 645.7,126.9 646.2,128.0 646.6,127.9 647.1,128.7 647.5,126.5 648.0,126.9 648.4,127.6 648.9,126.4 649.3,128.7 649.8,126.0" fill="none" stroke="#231f20" stroke-width="1.15" stroke-linejoin="round"/>
<polyline points="463.5,126.5 463.9,125.9 464.4,126.6 464.8,127.9 465.3,127.7 465.7,128.0 466.2,127.7 466.6,125.5 467.1,127.5 467.5,125.6 468.0,126.8 468.4,126.9 468.9,126.7 469.3,127.6 469.8,126.5 470.2,128.7 470.7,127.7 471.1,128.2 471.6,127.9 472.0,128.0 472.5,127.2 472.9,128.9 473.4,126.3 473.8,127.6 474.3,127.2 474.7,127.0 475.2,127.5 475.6,126.6 476.1,127.9 476.5,127.9 477.0,127.3 477.4,127.8 477.9,126.3 478.3,125.7 478.8,126.7 479.2,127.0 479.7,129.3 480.1,127.0 480.6,128.1 481.0,127.9 481.5,129.0 481.9,127.3 482.4,127.8 482.8,127.0 483.3,126.5 483.7,126.4 484.2,126.5 484.6,128.4 485.1,127.5 485.5,127.1 486.0,127.2 486.4,126.7 486.9,127.2 487.3,127.2 487.8,127.8 488.2,128.0 488.7,125.8 489.1,127.4 489.6,128.4 490.0,126.3 490.5,127.0 490.9,127.4 491.4,128.1 491.8,127.7 492.3,127.0 492.7,127.6 493.2,128.1 493.6,127.5 494.1,128.8 494.5,127.6 495.0,126.3 495.4,126.5 495.9,127.1 496.3,127.0 496.8,127.7 497.2,127.5 497.7,128.7 498.1,127.9 498.6,128.5 499.0,126.6 499.5,126.8 499.9,127.8 500.4,127.3 500.8,127.7 501.3,127.4 501.7,126.7 502.2,128.7 502.6,128.2 503.1,125.9 503.5,126.7 504.0,127.2 504.4,127.8 504.9,127.2 505.3,126.1 505.8,127.9 506.2,127.0 506.7,128.2 507.1,127.5 507.6,128.1 508.0,127.9 508.5,128.0 508.9,126.8 509.4,128.1 509.8,127.4 510.3,126.2 510.7,126.9 511.2,126.9 511.6,127.6 512.1,127.8 512.5,126.3 513.0,127.8 513.4,127.2 513.9,126.3 514.3,127.9 514.8,126.6 515.2,126.2 515.7,127.9 516.1,128.0 516.6,126.7 517.0,128.1 517.5,128.1 517.9,126.8 518.4,128.9 518.8,127.2 519.3,127.4 519.7,125.2 520.2,127.8 520.6,126.7 521.1,127.6 521.5,125.8 522.0,128.2 522.4,128.5 522.9,128.8 523.3,124.7 523.8,127.7 524.2,127.5 524.7,124.7 525.1,126.6 525.6,127.2 526.0,128.4 526.5,126.5 526.9,127.4 527.4,127.2 527.8,127.5 528.3,126.9 528.7,128.0 529.2,128.1 529.6,126.1 530.1,128.2 530.5,126.6 531.0,127.0 531.4,128.2 531.9,127.3 532.3,127.7 532.8,127.9 533.2,127.7 533.7,126.8 534.1,126.4 534.5,127.8 534.6,128.6 535.0,131.4 535.5,134.2 535.9,138.4 536.4,141.1 536.8,143.4 537.3,148.4 537.5,150.2 537.7,152.6 538.2,155.7 538.6,160.9 539.1,167.1 539.5,171.4 540.0,176.1 540.4,180.4 540.9,182.0 541.2,183.6 541.3,182.1 541.8,181.0 542.2,176.0 542.7,171.5 543.1,163.2 543.6,157.2 544.0,153.8 544.5,149.6 544.7,149.4 544.9,150.5 545.4,154.3 545.8,159.3 546.3,169.2 546.7,178.6 547.2,189.4 547.6,200.0 548.1,209.3 548.5,218.5 549.0,223.9 549.4,226.3 549.6,226.7 549.9,226.6 550.3,222.0 550.8,215.2 551.2,204.7 551.7,194.3 552.1,185.0 552.6,172.8 553.0,165.2 553.5,157.5 553.9,152.4 554.2,150.9 554.4,152.9 554.8,153.7 555.3,157.3 555.7,161.0 556.2,168.4 556.6,172.1 557.1,175.7 557.5,178.3 557.8,178.5 558.0,178.1 558.4,175.8 558.9,170.4 559.3,162.5 559.8,159.0 560.2,152.9 560.5,149.8 560.7,149.0 561.1,141.4 561.6,135.0 562.0,134.5 562.5,130.9 562.5,129.2 562.9,128.8 563.4,128.5 563.8,126.3 564.0,127.8 564.3,129.1 564.7,128.5 565.2,127.3 565.6,127.6 566.1,126.5 566.5,127.4 567.0,127.0 567.4,126.4 567.9,126.2 568.3,128.9 568.8,127.4 569.2,126.4 569.7,126.9 570.1,128.5 570.6,128.7 571.0,126.8 571.5,127.5 571.9,128.0 572.4,127.0 572.8,126.3 573.3,126.5 573.7,127.3 574.2,126.6 574.6,126.2 575.0,127.1 575.1,128.4 575.5,129.4 576.0,129.8 576.4,132.6 576.9,131.2 577.3,132.5 577.8,131.9 578.2,134.1 578.7,133.5 578.8,132.2 579.1,132.8 579.6,134.7 580.0,133.3 580.5,132.3 580.9,132.3 581.4,129.6 581.8,129.8 582.3,129.1 582.7,129.4 582.7,129.8 583.2,131.1 583.6,132.8 584.1,134.6 584.5,138.0 585.0,137.3 585.4,139.3 585.9,140.8 586.2,139.9 586.3,140.3 586.8,140.1 587.2,137.5 587.7,136.7 588.1,135.2 588.6,131.3 589.0,128.9 589.5,130.2 589.6,129.2 589.9,130.3 590.4,130.1 590.8,131.2 591.3,132.4 591.7,132.8 592.2,132.4 592.6,132.2 593.1,131.4 593.5,131.7 593.5,132.9 594.0,133.5 594.4,132.4 594.9,131.9 595.3,130.2 595.8,129.2 596.2,128.0 596.7,128.7 597.0,125.6 597.1,127.8 597.6,126.5 598.0,127.7 598.5,127.4 598.9,127.9 599.4,128.2 599.8,126.6 600.3,126.4 600.7,126.9 601.2,126.6 601.6,127.8 602.1,127.1 602.5,127.2 603.0,127.6 603.4,126.8 603.9,128.1 604.3,125.7 604.8,127.4 605.2,127.6 605.7,126.6 606.1,126.6 606.6,128.0 607.0,126.9 607.5,125.6 607.9,126.1 608.4,128.1 608.8,126.5 609.3,128.3 609.7,128.4 610.2,127.0 610.6,127.7 611.1,126.5 611.5,126.9 612.0,126.6 612.4,127.7 612.9,126.1 613.3,127.1 613.8,127.2 614.2,127.6 614.7,125.4 615.1,125.7 615.6,126.5 616.0,127.0 616.5,127.3 616.9,127.4 617.4,128.9 617.8,127.7 618.3,127.7 618.7,126.8 619.2,127.9 619.6,127.8 620.1,127.8 620.5,127.1 621.0,127.7 621.4,128.5 621.9,126.5 622.3,125.4 622.8,127.9 623.2,127.8 623.7,127.0 624.1,126.8 624.6,129.5 625.0,126.8 625.5,126.2 625.9,126.8 626.4,127.6 626.8,126.7 627.3,126.9 627.7,127.4 628.2,126.8 628.6,127.3 629.1,127.2 629.5,126.3 630.0,127.2 630.4,126.2 630.9,128.0 631.3,126.4 631.8,127.0 632.2,125.7 632.7,126.8 633.1,126.1 633.6,128.4 634.0,127.1 634.5,127.6 634.9,125.7 635.4,126.1 635.8,127.0 636.3,126.0 636.7,128.1 637.2,126.8 637.6,127.3 638.1,127.4 638.5,127.1 639.0,127.8 639.4,126.6 639.9,127.5 640.3,128.2 640.8,127.4 641.2,127.3 641.7,126.9 642.1,127.2 642.6,127.7 643.0,127.0 643.5,125.8 643.9,127.3 644.4,127.1 644.8,127.6 645.3,127.2 645.7,128.5 646.2,126.2 646.6,126.4 647.1,127.7 647.5,126.3 648.0,127.5 648.4,127.2 648.9,125.5 649.3,127.7 649.8,128.3" fill="none" stroke="#ed1c24" stroke-width="1.15" stroke-linejoin="round"/>
<polyline points="463.5,129.5 463.9,128.1 464.4,129.9 464.8,128.4 465.3,129.2 465.7,129.6 466.2,128.6 466.6,127.9 467.1,129.2 467.5,129.2 468.0,128.6 468.4,128.6 468.9,129.9 469.3,129.2 469.8,128.9 470.2,128.8 470.7,129.4 471.1,129.4 471.6,129.1 472.0,128.1 472.5,129.0 472.9,128.8 473.4,129.3 473.8,130.2 474.3,130.1 474.7,129.8 475.2,129.4 475.6,129.0 476.1,129.6 476.5,128.9 477.0,129.0 477.4,128.6 477.9,129.2 478.3,129.2 478.8,130.8 479.2,129.7 479.7,129.0 480.1,129.9 480.6,128.9 481.0,130.1 481.5,129.9 481.9,131.7 482.4,128.4 482.8,129.2 483.3,129.2 483.7,129.5 484.2,129.9 484.6,128.5 485.1,128.7 485.5,129.5 486.0,130.1 486.4,128.3 486.9,128.0 487.3,130.2 487.8,130.0 488.2,130.2 488.7,128.5 489.1,129.1 489.6,129.5 490.0,129.6 490.5,129.2 490.9,129.2 491.4,130.1 491.8,128.9 492.3,128.8 492.7,128.9 493.2,128.9 493.6,129.4 494.1,129.1 494.5,128.9 495.0,130.4 495.4,129.5 495.9,129.0 496.3,130.3 496.8,128.8 497.2,129.3 497.7,129.2 498.1,128.8 498.6,129.0 499.0,129.3 499.5,128.1 499.9,129.0 500.4,129.5 500.8,129.5 501.3,129.5 501.7,131.2 502.2,129.8 502.6,129.2 503.1,129.2 503.5,129.3 504.0,129.6 504.4,129.0 504.9,130.5 505.3,128.4 505.8,129.8 506.2,129.7 506.7,128.3 507.1,129.8 507.6,129.7 508.0,128.8 508.5,131.1 508.9,129.8 509.4,129.0 509.8,128.9 510.3,128.7 510.7,129.5 511.2,129.3 511.6,128.1 512.1,128.4 512.5,128.7 513.0,128.9 513.4,129.0 513.9,128.7 514.3,129.8 514.8,130.0 515.2,129.3 515.7,127.5 516.1,129.1 516.6,129.7 517.0,129.2 517.5,129.5 517.9,129.4 518.4,128.1 518.8,127.2 519.3,129.8 519.7,128.8 520.2,129.6 520.6,129.0 521.1,129.1 521.5,130.4 522.0,128.3 522.4,129.3 522.9,128.4 523.3,129.3 523.8,129.7 524.2,129.8 524.7,129.4 525.1,128.2 525.6,129.5 526.0,130.0 526.5,130.1 526.9,131.0 527.4,129.7 527.8,128.4 528.3,128.8 528.7,129.3 529.2,130.1 529.6,128.3 530.1,130.0 530.5,129.8 531.0,128.6 531.4,129.8 531.9,128.7 532.3,129.3 532.8,129.0 533.2,129.5 533.7,128.3 534.1,129.7 534.6,127.5 535.0,128.9 535.5,128.8 535.9,130.5 536.0,129.7 536.4,131.6 536.8,133.9 537.3,137.0 537.7,138.5 538.2,142.5 538.6,139.9 539.1,143.4 539.5,142.2 540.0,145.7 540.4,144.7 540.9,146.8 541.2,145.1 541.3,146.4 541.8,144.8 542.2,143.9 542.7,141.0 543.1,136.6 543.6,136.7 544.0,135.2 544.2,137.1 544.5,137.0 544.9,137.8 545.4,140.1 545.8,142.4 546.3,144.7 546.7,149.8 547.2,151.5 547.6,154.0 548.1,155.4 548.5,157.9 549.0,159.4 549.2,159.3 549.4,158.9 549.9,158.3 550.3,155.7 550.8,154.3 551.2,150.3 551.7,148.0 552.1,145.3 552.6,143.9 553.0,141.3 553.5,139.2 553.9,137.2 554.2,137.6 554.4,138.7 554.8,139.9 555.3,139.2 555.7,141.8 556.2,144.0 556.6,145.7 557.1,146.3 557.3,146.9 557.5,145.1 558.0,146.9 558.4,143.6 558.9,143.0 559.3,141.2 559.8,139.2 560.2,135.9 560.7,132.5 561.0,130.3 561.1,129.1 561.6,129.9 562.0,130.5 562.5,128.7 562.9,128.1 563.4,128.5 563.8,130.4 564.3,130.3 564.7,129.0 565.2,129.5 565.6,129.7 566.1,130.1 566.5,127.8 567.0,128.8 567.4,129.1 567.9,129.5 568.3,129.3 568.8,129.0 569.2,129.5 569.7,127.2 570.1,131.8 570.6,129.9 571.0,130.0 571.5,128.7 571.9,129.6 572.4,130.9 572.8,130.8 573.3,129.3 573.7,128.3 574.2,129.4 574.6,129.0 575.1,130.0 575.5,128.2 576.0,129.1 576.0,129.5 576.4,129.5 576.9,131.3 577.3,130.0 577.8,130.3 578.2,131.3 578.7,132.4 579.0,131.5 579.1,131.3 579.6,132.3 580.0,131.6 580.5,130.8 580.9,131.0 581.4,130.4 581.8,130.9 582.3,130.4 582.5,129.6 582.7,129.9 583.2,130.2 583.6,131.3 584.1,131.8 584.5,131.4 585.0,132.4 585.4,133.2 585.9,134.1 586.2,133.5 586.3,134.9 586.8,133.1 587.2,133.3 587.7,132.0 588.1,130.9 588.6,131.3 589.0,131.1 589.5,130.7 589.9,130.4 590.0,130.0 590.4,129.7 590.8,130.3 591.3,131.3 591.7,132.0 592.2,128.8 592.6,132.2 593.0,132.7 593.1,132.8 593.5,132.0 594.0,132.0 594.4,130.8 594.9,130.6 595.3,130.6 595.8,128.7 596.0,128.6 596.2,129.4 596.7,128.2 597.1,129.3 597.6,128.1 598.0,129.4 598.5,129.3 598.9,128.8 599.4,128.5 599.8,128.9 600.3,127.5 600.7,129.0 601.2,129.4 601.6,130.3 602.1,128.9 602.5,129.1 603.0,130.4 603.4,130.7 603.9,128.9 604.3,130.1 604.8,130.2 605.2,129.7 605.7,128.5 606.1,128.5 606.6,129.8 607.0,131.2 607.5,129.1 607.9,130.6 608.4,130.8 608.8,128.3 609.3,128.8 609.7,130.5 610.2,130.1 610.6,129.7 611.1,129.3 611.5,129.8 612.0,128.8 612.4,131.3 612.9,128.3 613.3,127.8 613.8,129.4 614.2,130.5 614.7,128.9 615.1,129.2 615.6,128.5 616.0,129.2 616.5,128.5 616.9,128.5 617.4,128.1 617.8,128.8 618.3,130.8 618.7,129.2 619.2,129.4 619.6,131.1 620.1,128.8 620.5,128.5 621.0,129.7 621.4,128.3 621.9,129.6 622.3,130.2 622.8,128.4 623.2,128.9 623.7,130.7 624.1,128.4 624.6,128.7 625.0,129.5 625.5,129.0 625.9,128.6 626.4,130.6 626.8,128.8 627.3,129.6 627.7,128.9 628.2,129.1 628.6,128.2 629.1,130.0 629.5,128.9 630.0,130.3 630.4,128.3 630.9,128.9 631.3,129.7 631.8,129.4 632.2,128.7 632.7,129.2 633.1,128.2 633.6,129.3 634.0,127.1 634.5,129.4 634.9,130.4 635.4,130.0 635.8,130.0 636.3,128.9 636.7,129.7 637.2,129.0 637.6,129.2 638.1,129.2 638.5,126.5 639.0,130.0 639.4,129.7 639.9,130.0 640.3,128.5 640.8,129.9 641.2,129.7 641.7,127.5 642.1,127.8 642.6,129.3 643.0,128.7 643.5,129.3 643.9,128.8 644.4,130.5 644.8,127.7 645.3,128.2 645.7,128.5 646.2,128.2 646.6,128.8 647.1,129.3 647.5,128.2 648.0,129.6 648.4,130.4 648.9,130.2 649.3,130.9 649.8,130.2" fill="none" stroke="#4560b8" stroke-width="1.15" stroke-linejoin="round"/>
<polyline points="463.5,127.0 463.9,128.4 464.4,127.6 464.8,128.5 465.3,126.8 465.7,125.3 466.2,126.0 466.6,127.1 467.1,127.4 467.5,126.8 468.0,127.8 468.4,126.0 468.9,126.4 469.3,127.8 469.8,127.0 470.2,127.1 470.7,128.1 471.1,127.9 471.6,126.3 472.0,127.2 472.5,125.6 472.9,127.0 473.4,127.3 473.8,125.6 474.3,128.3 474.7,128.6 475.2,127.4 475.6,127.8 476.1,128.2 476.5,126.9 477.0,127.8 477.4,127.3 477.9,125.7 478.3,126.3 478.8,126.5 479.2,127.9 479.7,127.1 480.1,127.8 480.6,126.6 481.0,126.0 481.5,128.7 481.9,129.2 482.4,127.3 482.8,126.8 483.3,128.0 483.7,126.1 484.2,126.8 484.6,125.8 485.1,127.4 485.5,127.2 486.0,126.7 486.4,126.5 486.9,125.8 487.3,126.3 487.8,128.0 488.2,126.7 488.7,128.0 489.1,126.3 489.6,126.9 490.0,126.6 490.5,126.8 490.9,127.6 491.4,125.3 491.8,127.6 492.3,127.6 492.7,127.0 493.2,127.1 493.6,126.8 494.1,127.6 494.5,127.0 495.0,126.3 495.4,127.1 495.9,127.8 496.3,127.3 496.8,127.0 497.2,127.2 497.7,126.6 498.1,126.6 498.6,125.5 499.0,126.9 499.5,127.8 499.9,126.7 500.4,126.3 500.8,127.7 501.3,127.1 501.7,127.1 502.2,127.4 502.6,127.6 503.1,127.0 503.5,126.3 504.0,128.4 504.4,127.0 504.9,126.4 505.3,127.2 505.8,128.0 506.2,125.8 506.7,128.1 507.1,126.9 507.6,128.6 508.0,127.5 508.5,126.9 508.9,128.0 509.4,128.0 509.8,126.7 510.3,127.2 510.7,126.6 511.2,127.7 511.6,125.9 512.1,126.9 512.5,125.3 513.0,127.5 513.4,125.2 513.9,126.1 514.3,127.2 514.8,126.7 515.2,126.6 515.7,126.2 516.1,126.6 516.6,125.6 517.0,127.3 517.5,127.7 517.9,127.6 518.4,127.0 518.8,128.0 519.3,127.4 519.7,127.8 520.2,127.3 520.6,127.0 521.1,126.4 521.5,124.9 522.0,127.5 522.4,126.9 522.9,128.6 523.3,125.4 523.8,127.7 524.2,126.2 524.7,127.0 525.1,126.3 525.6,127.3 526.0,127.0 526.5,127.7 526.9,127.1 527.4,127.4 527.8,128.0 528.3,127.4 528.7,126.9 529.2,128.0 529.6,126.9 530.1,127.3 530.5,126.7 531.0,126.5 531.4,124.6 531.9,127.6 532.3,126.1 532.8,127.6 533.2,128.5 533.7,125.9 534.1,127.7 534.6,126.9 535.0,127.4 535.5,126.0 535.9,127.0 536.4,127.1 536.8,128.2 537.3,128.7 537.7,127.3 538.2,126.7 538.6,128.8 539.0,126.9 539.1,127.2 539.5,128.1 540.0,129.1 540.4,129.9 540.9,129.4 541.3,130.2 541.8,132.2 542.2,132.3 542.7,131.6 543.1,131.7 543.6,131.4 544.0,132.6 544.5,131.4 544.9,131.9 545.0,131.4 545.4,131.2 545.8,131.4 546.3,130.8 546.7,129.7 547.2,129.5 547.6,129.1 548.1,128.3 548.5,128.0 548.5,128.4 549.0,129.5 549.4,130.8 549.9,131.3 550.3,132.4 550.8,133.9 551.2,136.6 551.7,136.4 551.9,134.9 552.1,135.5 552.6,134.2 553.0,132.9 553.5,130.2 553.9,130.3 554.4,128.4 554.5,129.0 554.8,130.9 555.3,130.9 555.7,130.1 556.2,130.7 556.6,131.4 557.1,130.9 557.3,131.7 557.5,132.2 558.0,131.2 558.4,132.0 558.9,130.3 559.3,128.7 559.8,129.1 560.0,127.6 560.2,127.1 560.7,128.5 561.1,128.1 561.6,126.4 562.0,127.3 562.5,126.7 562.9,125.9 563.4,128.6 563.8,128.2 564.3,126.0 564.7,127.4 565.2,125.7 565.6,127.9 566.1,127.0 566.5,126.8 567.0,128.0 567.4,127.0 567.9,126.8 568.3,127.8 568.8,126.8 569.2,127.7 569.7,127.0 570.1,127.7 570.6,127.5 571.0,127.7 571.5,126.2 571.9,128.5 572.4,126.9 572.8,128.4 573.3,126.5 573.7,126.8 574.2,126.8 574.6,128.0 575.1,126.7 575.5,127.4 576.0,125.7 576.4,126.6 576.9,127.2 577.3,126.9 577.8,125.5 578.2,127.4 578.7,126.2 579.1,128.6 579.6,126.9 580.0,128.9 580.5,127.6 580.9,127.4 581.4,126.6 581.8,126.9 582.3,127.4 582.7,125.4 583.2,127.8 583.6,126.1 584.1,126.8 584.5,124.8 585.0,127.4 585.4,127.6 585.9,127.2 586.3,127.3 586.8,126.7 587.2,127.1 587.7,128.0 588.1,126.7 588.6,127.4 589.0,127.6 589.5,126.8 589.9,127.2 590.4,127.2 590.8,126.6 591.3,129.0 591.7,126.7 592.2,128.4 592.6,127.9 593.1,125.3 593.5,127.2 594.0,127.9 594.4,127.7 594.9,126.3 595.3,127.2 595.8,126.0 596.2,126.2 596.7,126.8 597.1,127.2 597.6,128.3 598.0,127.3 598.5,127.9 598.9,126.0 599.4,126.1 599.8,126.6 600.3,128.5 600.7,125.9 601.2,125.7 601.6,127.0 602.1,128.0 602.5,125.7 603.0,126.8 603.4,125.9 603.9,128.2 604.3,127.6 604.8,127.2 605.2,127.0 605.7,126.8 606.1,127.1 606.6,126.5 607.0,126.3 607.5,126.1 607.9,127.0 608.4,126.4 608.8,127.7 609.3,125.3 609.7,127.5 610.2,127.5 610.6,128.0 611.1,126.8 611.5,125.8 612.0,126.2 612.4,127.9 612.9,126.8 613.3,126.7 613.8,126.5 614.2,127.0 614.7,126.8 615.1,125.7 615.6,126.5 616.0,127.8 616.5,128.2 616.9,126.9 617.4,126.6 617.8,128.1 618.3,126.9 618.7,126.0 619.2,126.9 619.6,127.6 620.1,128.3 620.5,126.6 621.0,127.5 621.4,126.7 621.9,128.0 622.3,127.2 622.8,127.2 623.2,126.2 623.7,126.7 624.1,126.7 624.6,124.0 625.0,127.7 625.5,127.0 625.9,126.8 626.4,126.7 626.8,127.0 627.3,127.2 627.7,125.9 628.2,127.1 628.6,127.1 629.1,127.0 629.5,125.8 630.0,126.9 630.4,125.9 630.9,127.3 631.3,128.1 631.8,127.7 632.2,126.7 632.7,126.6 633.1,126.5 633.6,127.3 634.0,126.5 634.5,126.6 634.9,124.9 635.4,126.3 635.8,126.4 636.3,126.6 636.7,128.0 637.2,125.9 637.6,125.9 638.1,127.5 638.5,126.2 639.0,126.9 639.4,127.1 639.9,127.0 640.3,126.4 640.8,127.8 641.2,128.2 641.7,126.2 642.1,126.8 642.6,127.8 643.0,126.8 643.5,126.2 643.9,126.7 644.4,127.7 644.8,126.2 645.3,127.2 645.7,127.3 646.2,126.5 646.6,127.5 647.1,127.6 647.5,127.8 648.0,127.8 648.4,125.8 648.9,127.7 649.3,127.5 649.8,127.8" fill="none" stroke="#12a04b" stroke-width="1.15" stroke-linejoin="round"/>
<polyline points="463.5,125.0 463.9,126.5 464.4,126.0 464.8,124.7 465.3,126.8 465.7,125.1 466.2,124.9 466.6,126.0 467.1,125.2 467.5,126.0 468.0,125.5 468.4,125.9 468.9,126.4 469.3,125.7 469.8,126.4 470.2,126.4 470.7,125.0 471.1,126.4 471.6,126.2 472.0,125.8 472.5,126.6 472.9,127.1 473.4,126.3 473.8,124.5 474.3,126.1 474.7,125.6 475.2,125.5 475.6,126.0 476.1,125.4 476.5,127.1 477.0,125.9 477.4,125.7 477.9,126.4 478.3,126.4 478.8,126.7 479.2,126.2 479.7,125.7 480.1,125.8 480.6,123.9 481.0,124.5 481.5,126.6 481.9,125.4 482.4,127.2 482.8,127.2 483.3,124.7 483.7,126.0 484.2,128.1 484.6,125.1 485.1,126.0 485.5,125.5 486.0,125.5 486.4,125.5 486.9,125.7 487.3,126.3 487.8,125.1 488.2,126.1 488.7,125.1 489.1,126.1 489.6,126.0 490.0,125.1 490.5,125.8 490.9,125.1 491.4,125.0 491.8,126.7 492.3,124.2 492.7,126.2 493.2,126.3 493.6,125.2 494.1,126.6 494.5,126.5 495.0,124.6 495.4,126.1 495.9,126.1 496.3,125.1 496.8,126.2 497.2,126.3 497.7,125.1 498.1,124.1 498.6,126.0 499.0,125.1 499.5,124.3 499.9,125.4 500.4,123.8 500.8,125.4 501.3,127.0 501.7,123.4 502.2,126.1 502.6,125.0 503.1,125.4 503.5,125.0 504.0,126.2 504.4,125.7 504.9,125.1 505.3,124.6 505.8,125.4 506.2,126.7 506.7,124.7 507.1,126.1 507.6,126.0 508.0,124.1 508.5,126.6 508.9,125.7 509.4,127.6 509.8,127.2 510.3,125.5 510.7,125.6 511.2,124.9 511.6,124.6 512.1,126.4 512.5,125.5 513.0,125.4 513.4,125.6 513.9,126.3 514.3,126.5 514.8,125.7 515.2,125.6 515.7,125.8 516.1,127.4 516.6,124.0 517.0,124.8 517.5,126.1 517.9,125.8 518.4,126.7 518.8,126.8 519.3,127.4 519.7,125.1 520.2,126.2 520.6,125.5 521.1,126.5 521.5,125.9 522.0,126.5 522.4,125.1 522.9,125.9 523.3,125.3 523.8,125.5 524.2,125.3 524.7,124.9 525.1,126.6 525.6,126.0 526.0,126.6 526.5,124.9 526.9,124.1 527.4,125.2 527.8,125.6 528.3,126.4 528.7,126.6 529.2,126.7 529.6,127.0 530.1,126.3 530.5,125.8 531.0,125.1 531.4,126.3 531.9,125.3 532.3,125.1 532.8,126.2 533.2,125.9 533.7,126.4 534.1,125.1 534.6,126.7 535.0,126.0 535.5,125.6 535.9,125.1 536.4,124.8 536.8,124.6 537.3,126.9 537.7,124.5 538.2,126.2 538.6,125.5 539.1,125.2 539.5,125.3 540.0,125.6 540.4,126.5 540.9,126.2 541.3,125.7 541.8,124.6 542.2,124.2 542.7,127.3 543.1,124.9 543.6,124.4 544.0,126.7 544.5,124.5 544.9,126.3 545.0,126.5 545.4,126.6 545.8,127.9 546.3,126.5 546.7,127.1 547.2,128.4 547.6,128.8 548.1,129.0 548.5,129.6 549.0,128.6 549.0,127.4 549.4,129.5 549.9,128.9 550.3,129.5 550.8,130.2 551.2,128.2 551.7,128.1 552.1,126.3 552.6,127.1 553.0,126.0 553.0,125.9 553.5,126.5 553.9,124.8 554.4,126.2 554.8,126.1 555.3,127.0 555.7,124.2 556.2,125.6 556.6,127.5 557.1,125.4 557.5,125.4 558.0,127.2 558.4,127.8 558.9,125.8 559.3,125.1 559.8,125.2 560.2,125.4 560.7,125.0 561.1,125.0 561.6,125.9 562.0,125.8 562.5,126.1 562.9,125.7 563.4,124.7 563.8,126.3 564.3,125.9 564.7,125.2 565.2,125.5 565.6,126.0 566.1,125.8 566.5,125.6 567.0,126.4 567.4,126.6 567.9,125.5 568.3,125.7 568.8,124.8 569.2,125.6 569.7,126.1 570.1,126.4 570.6,125.9 571.0,125.6 571.5,125.1 571.9,125.9 572.4,124.8 572.8,125.8 573.3,125.7 573.7,125.0 574.2,126.0 574.6,125.5 575.1,126.2 575.5,125.3 576.0,126.1 576.4,127.0 576.9,125.9 577.3,126.4 577.8,125.2 578.2,125.4 578.7,124.1 579.1,125.6 579.6,124.8 580.0,125.8 580.5,124.0 580.9,125.0 581.4,125.8 581.8,126.0 582.3,124.3 582.7,125.4 583.2,127.8 583.6,126.4 584.1,125.8 584.5,123.4 585.0,124.9 585.4,126.1 585.9,125.9 586.3,126.1 586.8,126.5 587.2,125.8 587.7,126.4 588.1,124.2 588.6,127.8 589.0,125.5 589.5,125.2 589.9,127.0 590.4,126.2 590.8,126.5 591.3,125.2 591.7,125.9 592.2,126.3 592.6,124.8 593.1,125.5 593.5,125.5 594.0,125.5 594.4,125.1 594.9,124.7 595.3,126.1 595.8,125.9 596.2,126.7 596.7,125.7 597.1,125.2 597.6,124.5 598.0,125.8 598.5,125.5 598.9,127.4 599.4,127.6 599.8,127.0 600.3,125.0 600.7,124.5 601.2,125.5 601.6,125.0 602.1,126.9 602.5,125.8 603.0,125.4 603.4,125.7 603.9,126.8 604.3,124.9 604.8,126.1 605.2,124.6 605.7,125.5 606.1,125.2 606.6,126.0 607.0,125.8 607.5,126.7 607.9,126.3 608.4,125.2 608.8,124.6 609.3,125.0 609.7,125.4 610.2,125.5 610.6,125.1 611.1,126.6 611.5,126.5 612.0,125.5 612.4,125.3 612.9,125.5 613.3,125.7 613.8,125.7 614.2,124.4 614.7,125.3 615.1,124.1 615.6,125.7 616.0,126.3 616.5,124.8 616.9,125.8 617.4,125.2 617.8,125.1 618.3,127.3 618.7,126.4 619.2,126.1 619.6,125.3 620.1,126.0 620.5,125.5 621.0,126.1 621.4,125.0 621.9,125.6 622.3,125.4 622.8,124.5 623.2,127.1 623.7,126.4 624.1,125.0 624.6,124.5 625.0,125.1 625.5,125.0 625.9,125.2 626.4,124.4 626.8,125.0 627.3,125.8 627.7,126.0 628.2,124.1 628.6,125.7 629.1,124.9 629.5,124.8 630.0,125.4 630.4,125.1 630.9,126.3 631.3,126.3 631.8,125.4 632.2,125.2 632.7,127.2 633.1,127.3 633.6,126.0 634.0,125.6 634.5,126.5 634.9,126.9 635.4,125.3 635.8,127.2 636.3,125.6 636.7,126.6 637.2,125.3 637.6,125.8 638.1,125.3 638.5,125.7 639.0,126.6 639.4,125.0 639.9,125.5 640.3,126.2 640.8,125.3 641.2,127.4 641.7,124.5 642.1,127.8 642.6,125.2 643.0,126.5 643.5,127.1 643.9,126.1 644.4,124.5 644.8,125.4 645.3,125.8 645.7,126.2 646.2,126.5 646.6,126.6 647.1,126.9 647.5,124.9 648.0,126.5 648.4,124.2 648.9,125.8 649.3,124.8 649.8,124.2" fill="none" stroke="#fbad3c" stroke-width="1.15" stroke-linejoin="round"/>
<polyline points="464.4,263.5 464.8,262.7 465.3,263.5 465.7,261.4 466.2,261.7 466.6,262.6 467.1,262.1 467.5,262.8 468.0,262.2 468.4,262.4 468.9,261.7 469.3,263.8 469.8,262.4 470.2,261.7 470.7,263.3 471.1,263.1 471.6,262.9 472.0,262.9 472.5,262.4 472.9,262.6 473.4,260.8 473.8,261.4 474.3,261.7 474.7,262.9 475.2,263.7 475.6,262.6 476.1,262.5 476.5,263.7 477.0,262.4 477.4,263.3 477.9,263.1 478.3,261.6 478.8,263.0 479.2,262.9 479.7,261.7 480.1,261.8 480.6,261.6 481.0,263.9 481.5,264.5 481.9,263.3 482.4,264.0 482.8,261.6 483.3,263.9 483.7,264.4 484.2,264.1 484.6,261.9 485.1,263.6 485.5,262.6 486.0,263.6 486.4,262.2 486.9,262.7 487.3,262.2 487.8,263.1 488.2,262.6 488.7,263.6 489.1,263.4 489.6,263.1 490.0,262.7 490.5,262.4 490.9,262.7 491.4,263.3 491.8,262.8 492.3,262.9 492.7,262.7 493.2,262.6 493.6,262.1 494.1,261.1 494.5,263.2 495.0,263.2 495.4,261.9 495.9,264.3 496.3,261.7 496.8,263.5 497.2,262.9 497.7,263.0 498.1,263.7 498.6,263.5 499.0,262.7 499.5,261.8 499.9,261.7 500.4,262.9 500.8,264.0 501.3,263.4 501.7,262.7 502.2,263.0 502.6,263.3 503.1,264.2 503.5,262.1 504.0,263.3 504.4,262.9 504.9,262.1 505.3,261.8 505.8,263.8 506.2,263.0 506.7,262.5 507.1,262.8 507.6,263.5 508.0,262.8 508.5,264.1 508.9,262.5 509.4,262.0 509.8,262.6 510.3,261.9 510.7,262.4 511.2,263.7 511.6,264.2 512.1,263.2 512.5,262.9 513.0,261.9 513.4,261.9 513.9,263.0 514.3,262.8 514.8,262.2 515.2,262.3 515.7,264.0 516.1,263.5 516.6,262.7 517.0,262.9 517.5,263.8 517.9,263.0 518.4,262.9 518.8,261.4 519.3,261.3 519.7,261.1 520.2,260.8 520.6,262.7 521.1,263.0 521.5,262.0 522.0,263.1 522.4,263.1 522.9,262.6 523.3,261.5 523.8,263.9 524.2,263.9 524.7,262.2 525.1,264.4 525.6,262.7 526.0,262.0 526.5,262.4 526.9,261.1 527.4,262.4 527.8,261.3 528.0,263.7 528.3,263.0 528.7,261.7 529.2,263.7 529.6,262.1 530.1,264.2 530.5,265.1 531.0,265.5 531.4,265.3 531.9,267.1 532.3,268.0 532.7,269.0 532.8,270.4 533.2,272.2 533.7,274.5 534.1,275.6 534.6,279.0 535.0,283.4 535.5,287.6 535.9,289.4 536.0,291.1 536.4,297.3 536.8,300.8 537.3,308.1 537.7,314.9 538.2,321.9 538.6,325.9 539.1,327.7 539.2,326.8 539.5,328.1 540.0,325.7 540.4,322.6 540.9,320.8 541.3,319.9 541.6,317.6 541.8,317.8 542.2,320.6 542.7,325.2 543.1,329.3 543.6,338.6 544.0,347.9 544.5,354.8 544.9,363.8 545.4,367.8 545.8,376.3 546.3,382.2 546.7,384.9 547.0,383.6 547.2,383.0 547.6,381.0 548.1,374.0 548.5,367.2 549.0,357.2 549.4,349.2 549.9,339.7 550.3,332.2 550.8,323.6 551.2,317.1 551.7,314.6 551.9,313.2 552.1,314.5 552.6,315.6 553.0,318.2 553.5,321.1 553.9,321.0 554.4,325.0 554.8,326.4 555.0,324.8 555.3,326.6 555.7,320.5 556.2,317.1 556.6,308.3 557.1,300.9 557.5,293.5 558.0,289.0 558.1,286.5 558.4,284.3 558.9,280.5 559.3,280.0 559.8,276.6 560.2,275.9 560.7,274.0 561.1,271.0 561.2,272.6 561.6,271.2 562.0,270.2 562.5,269.6 562.9,268.5 563.4,267.8 563.8,268.0 564.2,265.8 564.3,265.4 564.7,265.1 565.2,266.0 565.6,264.2 566.1,265.5 566.5,260.6 567.0,262.1 567.0,262.3 567.4,262.9 567.9,263.8 568.3,262.5 568.8,261.8 569.2,263.4 569.7,264.0 570.1,260.5 570.6,263.2 571.0,263.0 571.2,262.0 571.5,263.8 571.9,266.8 572.4,269.0 572.8,271.1 573.3,272.8 573.7,276.5 574.0,277.0 574.2,278.9 574.6,281.5 575.1,285.6 575.5,289.2 576.0,291.1 576.4,292.5 576.5,290.8 576.9,292.2 577.3,291.5 577.8,290.0 578.2,289.6 578.7,286.8 579.1,289.0 579.2,288.5 579.6,287.7 580.0,292.3 580.5,294.7 580.9,299.7 581.4,303.8 581.8,308.9 582.3,312.6 582.7,315.5 583.2,318.1 583.5,318.8 583.6,316.1 584.1,316.6 584.5,313.2 585.0,308.9 585.4,306.4 585.9,301.3 586.3,294.9 586.8,290.6 587.2,288.8 587.7,285.3 588.1,284.8 588.1,283.4 588.6,285.3 589.0,287.2 589.5,287.0 589.9,288.4 590.4,291.0 590.8,291.0 591.2,291.6 591.3,290.9 591.7,290.0 592.2,284.9 592.6,282.2 593.1,277.9 593.5,278.5 593.5,276.4 594.0,273.5 594.4,270.2 594.9,267.3 595.3,263.0 595.8,264.6 595.8,262.6 596.2,262.7 596.7,261.5 597.1,262.6 597.6,263.0 598.0,262.6 598.5,263.2 598.9,262.0 599.4,263.0 599.8,263.5 600.3,263.2 600.7,263.0 601.2,262.6 601.6,261.9 602.1,263.2 602.5,262.4 603.0,261.9 603.4,263.3 603.9,261.3 604.3,262.2 604.8,263.4 605.2,263.5 605.7,262.4 606.1,262.7 606.6,263.2 607.0,262.6 607.5,262.0 607.9,263.1 608.4,262.8 608.8,262.8 609.3,263.6 609.7,263.0 610.2,262.3 610.6,262.8 611.1,264.3 611.5,262.1 612.0,262.5 612.4,262.0 612.9,263.0 613.3,261.6 613.8,263.1 614.2,263.3 614.7,262.0 615.1,262.0 615.6,261.4 616.0,262.7 616.5,261.7 616.9,262.2 617.4,262.3 617.8,262.1 618.3,263.4 618.7,264.1 619.2,260.9 619.6,262.0 620.1,262.9 620.5,261.8 621.0,262.2 621.4,262.9 621.9,263.9 622.3,263.7 622.8,262.4 623.2,262.8 623.7,262.4 624.1,262.5 624.6,261.7 625.0,261.2 625.5,262.4 625.9,263.5 626.4,263.3 626.8,261.1 627.3,262.5 627.7,262.2 628.2,262.9 628.6,261.8 629.1,263.5 629.5,262.5 630.0,263.2 630.4,263.4 630.9,261.0 631.3,262.5 631.8,264.0 632.2,262.7 632.7,263.6 633.1,263.1 633.6,262.3 634.0,262.9 634.5,263.6 634.9,263.8 635.4,263.9 635.8,261.8 636.3,263.4 636.7,261.5 637.2,262.6 637.6,262.5 638.1,263.2 638.5,263.0 639.0,263.8 639.4,262.2 639.9,263.4 640.3,263.0 640.8,262.7 641.2,261.7 641.7,263.2 642.1,263.0 642.6,263.4 643.0,262.7 643.5,262.5 643.9,263.0 644.4,263.1 644.8,263.3 645.3,264.3 645.7,262.2 646.2,264.4 646.6,260.2 647.1,263.5 647.5,262.0 648.0,264.4 648.4,261.9 648.9,263.6 649.3,261.9 649.8,261.7 650.2,263.4 650.7,263.4 651.1,262.1 651.6,264.7 652.0,262.4 652.5,264.0 652.9,261.8 653.4,261.9 653.8,262.8 654.3,261.8 654.7,263.1 655.2,260.9 655.6,262.8 656.1,262.2 656.5,261.9 657.0,262.9 657.4,262.5 657.9,262.3" fill="none" stroke="#231f20" stroke-width="1.15" stroke-linejoin="round"/>
<polyline points="464.4,260.3 464.8,259.8 465.3,259.9 465.7,260.7 466.2,259.5 466.6,260.3 467.1,259.2 467.5,260.1 468.0,260.0 468.4,259.1 468.9,258.3 469.3,258.5 469.8,258.8 470.2,260.1 470.7,259.5 471.1,259.3 471.6,260.0 472.0,260.2 472.5,260.8 472.9,259.1 473.4,260.1 473.8,260.2 474.3,258.8 474.7,259.7 475.2,258.8 475.6,259.4 476.1,260.0 476.5,258.2 477.0,258.9 477.4,258.9 477.9,259.7 478.3,259.0 478.8,259.9 479.2,258.9 479.7,259.2 480.1,260.1 480.6,259.9 481.0,259.7 481.5,259.6 481.9,260.4 482.4,260.8 482.8,259.3 483.3,259.0 483.7,258.7 484.2,261.1 484.6,258.8 485.1,258.5 485.5,259.8 486.0,260.5 486.4,258.6 486.9,259.5 487.3,258.4 487.8,259.0 488.2,261.0 488.7,259.7 489.1,259.4 489.6,259.7 490.0,259.8 490.5,259.5 490.9,258.6 491.4,258.6 491.8,261.3 492.3,259.0 492.7,260.6 493.2,259.0 493.6,260.7 494.1,260.2 494.5,259.4 495.0,261.3 495.4,258.8 495.9,259.4 496.3,258.9 496.8,258.9 497.2,259.3 497.7,258.8 498.1,259.3 498.6,260.9 499.0,258.1 499.5,258.5 499.9,258.8 500.4,259.2 500.8,260.5 501.3,260.2 501.7,260.0 502.2,259.8 502.6,261.6 503.1,258.6 503.5,258.6 504.0,259.6 504.4,259.8 504.9,259.4 505.3,258.9 505.8,258.5 506.2,259.4 506.7,259.0 507.1,259.2 507.6,258.7 508.0,260.7 508.5,260.0 508.9,261.2 509.4,259.2 509.8,259.6 510.3,259.4 510.7,259.6 511.2,259.4 511.6,259.5 512.1,257.9 512.5,259.4 513.0,260.2 513.4,258.0 513.9,259.3 514.3,260.1 514.8,260.7 515.2,259.5 515.7,260.0 516.1,261.1 516.6,260.7 517.0,259.2 517.5,259.1 517.9,260.5 518.4,259.8 518.8,259.1 519.3,259.4 519.7,259.9 520.2,259.4 520.6,259.4 521.1,259.4 521.5,258.3 522.0,261.1 522.4,260.6 522.9,260.9 523.3,259.5 523.8,259.7 524.2,260.1 524.7,260.3 525.1,258.1 525.6,259.9 526.0,258.8 526.5,259.5 526.9,259.0 527.4,261.0 527.8,260.1 528.3,259.6 528.7,260.8 529.2,259.5 529.6,259.0 530.1,259.4 530.5,259.3 531.0,259.6 531.0,260.3 531.4,260.6 531.9,262.2 532.3,264.8 532.8,266.2 533.2,269.0 533.7,270.8 534.1,272.1 534.6,275.0 535.0,277.1 535.0,279.8 535.5,283.0 535.9,287.2 536.4,292.5 536.8,299.7 537.3,305.3 537.7,311.2 538.2,314.9 538.6,317.9 539.1,321.7 539.2,319.6 539.5,319.4 540.0,316.8 540.4,308.7 540.9,304.9 541.3,298.8 541.8,294.7 542.2,293.7 542.2,292.5 542.7,294.1 543.1,303.3 543.6,309.9 544.0,321.0 544.5,332.3 544.9,342.9 545.4,353.7 545.8,363.2 546.3,371.0 546.7,374.1 547.0,375.4 547.2,373.7 547.6,370.3 548.1,364.6 548.5,356.6 549.0,347.0 549.4,337.8 549.9,326.5 550.3,316.2 550.8,309.6 551.2,302.0 551.7,298.8 551.9,298.5 552.1,298.2 552.6,299.8 553.0,304.6 553.5,308.7 553.9,313.0 554.4,318.0 554.8,320.7 555.3,321.5 555.3,320.5 555.7,320.3 556.2,317.9 556.6,311.5 557.1,305.2 557.5,298.1 558.0,293.8 558.1,291.4 558.4,288.6 558.9,285.4 559.3,279.9 559.8,277.5 560.2,274.5 560.7,273.1 561.1,269.3 561.2,270.1 561.6,268.0 562.0,266.9 562.5,264.0 562.9,264.5 563.4,265.4 563.8,264.2 564.3,263.4 564.7,265.1 565.0,263.5 565.2,262.0 565.6,262.8 566.1,263.0 566.5,264.4 567.0,262.2 567.4,263.4 567.9,263.8 568.3,262.3 568.8,263.1 569.0,261.3 569.2,263.1 569.7,261.3 570.1,263.1 570.6,265.1 571.0,264.4 571.5,264.5 571.5,264.6 571.9,267.3 572.4,267.7 572.8,270.4 573.3,271.7 573.7,274.1 574.2,275.6 574.6,277.6 575.0,277.5 575.1,278.9 575.5,277.9 576.0,275.9 576.4,273.9 576.9,270.1 577.3,270.4 577.8,270.2 578.1,270.3 578.2,267.2 578.7,268.7 579.1,272.7 579.6,274.2 580.0,277.8 580.5,280.8 580.9,284.7 581.4,285.5 581.8,288.8 582.3,291.5 582.7,291.4 582.7,290.5 583.2,290.6 583.6,288.1 584.1,283.9 584.5,281.5 585.0,277.7 585.4,273.6 585.9,271.9 586.3,268.8 586.5,270.3 586.8,269.7 587.2,269.7 587.7,270.9 588.1,273.6 588.6,273.5 589.0,274.9 589.5,275.7 589.9,276.4 590.4,278.1 590.4,279.2 590.8,277.8 591.3,275.5 591.7,273.5 592.2,270.1 592.6,267.6 593.0,265.5 593.1,267.3 593.5,264.2 594.0,262.3 594.4,260.8 594.9,260.1 595.0,259.1 595.3,259.6 595.8,259.7 596.2,260.7 596.7,258.6 597.1,259.9 597.6,259.0 598.0,259.2 598.5,261.0 598.9,260.1 599.4,259.3 599.8,260.0 600.3,259.6 600.7,260.5 601.2,259.2 601.6,260.0 602.1,259.4 602.5,259.6 603.0,259.5 603.4,259.1 603.9,259.7 604.3,260.4 604.8,259.1 605.2,259.3 605.7,259.9 606.1,259.0 606.6,260.3 607.0,260.2 607.5,257.7 607.9,259.1 608.4,258.7 608.8,260.3 609.3,260.4 609.7,258.6 610.2,259.0 610.6,259.5 611.1,259.3 611.5,260.2 612.0,260.4 612.4,260.1 612.9,260.5 613.3,260.4 613.8,259.5 614.2,259.2 614.7,259.0 615.1,260.3 615.6,260.4 616.0,260.5 616.5,259.3 616.9,259.3 617.4,259.8 617.8,260.7 618.3,259.9 618.7,259.8 619.2,258.9 619.6,260.0 620.1,260.1 620.5,258.8 621.0,261.1 621.4,258.8 621.9,260.4 622.3,259.4 622.8,259.7 623.2,259.0 623.7,259.1 624.1,260.2 624.6,259.4 625.0,259.3 625.5,260.4 625.9,260.2 626.4,259.7 626.8,259.8 627.3,261.1 627.7,259.5 628.2,259.9 628.6,260.0 629.1,258.4 629.5,258.0 630.0,259.7 630.4,260.3 630.9,259.8 631.3,259.2 631.8,259.1 632.2,260.3 632.7,259.4 633.1,258.3 633.6,260.2 634.0,259.8 634.5,259.9 634.9,260.5 635.4,260.7 635.8,260.1 636.3,259.5 636.7,257.8 637.2,259.9 637.6,259.5 638.1,260.7 638.5,260.7 639.0,260.0 639.4,260.8 639.9,259.5 640.3,259.6 640.8,258.9 641.2,259.4 641.7,259.8 642.1,260.5 642.6,259.0 643.0,260.3 643.5,261.6 643.9,258.5 644.4,259.4 644.8,259.6 645.3,260.5 645.7,261.3 646.2,260.6 646.6,259.6 647.1,258.9 647.5,259.6 648.0,259.6 648.4,259.8 648.9,258.9 649.3,260.9 649.8,259.0 650.2,260.2 650.7,259.8 651.1,258.7 651.6,259.7 652.0,259.6 652.5,259.5 652.9,260.3 653.4,259.2 653.8,261.7 654.3,260.6 654.7,258.8 655.2,257.5 655.6,260.7 656.1,259.8 656.5,259.7 657.0,258.8 657.4,258.4 657.9,258.0" fill="none" stroke="#ed1c24" stroke-width="1.15" stroke-linejoin="round"/>
<polyline points="464.4,263.3 464.8,262.5 465.3,260.6 465.7,262.7 466.2,259.6 466.6,261.7 467.1,261.7 467.5,260.4 468.0,260.7 468.4,260.2 468.9,261.1 469.3,262.2 469.8,261.9 470.2,261.5 470.7,262.0 471.1,259.6 471.6,262.8 472.0,261.1 472.5,260.0 472.9,260.8 473.4,260.6 473.8,261.2 474.3,261.4 474.7,259.1 475.2,262.2 475.6,262.6 476.1,260.2 476.5,262.3 477.0,262.2 477.4,262.0 477.9,262.5 478.3,259.9 478.8,261.7 479.2,260.2 479.7,263.1 480.1,260.3 480.6,260.1 481.0,262.1 481.5,261.6 481.9,261.1 482.4,261.2 482.8,261.6 483.3,262.6 483.7,260.5 484.2,260.6 484.6,260.6 485.1,261.0 485.5,261.1 486.0,260.0 486.4,261.4 486.9,260.0 487.3,260.8 487.8,260.9 488.2,260.9 488.7,262.4 489.1,262.5 489.6,262.0 490.0,262.4 490.5,260.9 490.9,262.3 491.4,261.1 491.8,261.3 492.3,261.3 492.7,260.0 493.2,260.6 493.6,261.0 494.1,261.4 494.5,261.0 495.0,260.4 495.4,260.1 495.9,261.1 496.3,260.1 496.8,260.1 497.2,261.0 497.7,261.3 498.1,260.4 498.6,259.6 499.0,261.3 499.5,261.8 499.9,260.8 500.4,260.8 500.8,259.1 501.3,261.9 501.7,260.2 502.2,261.7 502.6,260.6 503.1,261.0 503.5,260.9 504.0,259.6 504.4,263.4 504.9,259.8 505.3,261.2 505.8,260.4 506.2,260.9 506.7,262.3 507.1,259.5 507.6,261.0 508.0,261.5 508.5,261.2 508.9,261.4 509.4,260.5 509.8,259.7 510.3,260.0 510.7,260.8 511.2,261.7 511.6,261.2 512.1,262.5 512.5,261.2 513.0,261.3 513.4,261.3 513.9,259.6 514.3,261.6 514.8,260.2 515.2,260.8 515.7,263.1 516.1,260.0 516.6,261.2 517.0,261.3 517.5,261.2 517.9,261.1 518.4,260.6 518.8,262.8 519.3,259.4 519.7,260.2 520.2,262.4 520.6,261.6 521.1,260.4 521.5,260.3 522.0,260.9 522.4,263.3 522.9,261.5 523.3,260.2 523.8,261.3 524.2,260.6 524.7,262.4 525.1,261.3 525.6,262.2 526.0,261.2 526.5,262.8 526.9,261.5 527.4,261.3 527.8,260.2 528.3,260.7 528.7,261.4 529.2,260.7 529.6,263.2 530.1,261.1 530.5,260.5 531.0,261.9 531.4,260.6 531.9,261.4 532.3,261.0 532.8,260.5 533.0,262.3 533.2,264.4 533.7,270.5 534.1,274.0 534.6,277.2 535.0,281.0 535.5,284.7 535.9,287.7 536.4,290.1 536.8,292.2 537.3,292.1 537.7,294.3 538.2,293.7 538.6,294.4 538.8,297.2 539.1,295.6 539.5,292.3 540.0,291.1 540.4,287.5 540.9,284.1 541.3,282.8 541.6,281.0 541.8,281.2 542.2,282.0 542.7,285.8 543.1,287.8 543.6,292.7 544.0,298.1 544.5,302.1 544.9,307.5 545.4,313.0 545.8,314.3 546.3,319.0 546.7,318.8 547.0,318.8 547.2,319.6 547.6,318.5 548.1,313.6 548.5,309.1 549.0,304.1 549.4,298.2 549.9,293.3 550.3,287.2 550.8,283.1 551.2,280.3 551.7,277.8 551.9,279.0 552.1,277.6 552.6,278.7 553.0,283.1 553.5,284.9 553.9,286.0 554.4,288.4 554.8,289.0 555.0,288.4 555.3,289.0 555.7,286.9 556.2,284.6 556.6,277.6 557.1,274.6 557.5,268.0 558.0,260.5 558.0,260.7 558.4,260.8 558.9,260.0 559.3,260.6 559.8,261.8 560.2,259.8 560.7,260.8 561.1,259.1 561.6,260.6 562.0,261.4 562.5,261.1 562.9,261.1 563.4,260.1 563.8,261.6 564.3,260.3 564.7,261.9 565.2,261.3 565.6,260.8 566.1,262.4 566.5,260.8 567.0,262.0 567.4,261.2 567.9,261.1 568.3,262.0 568.8,261.5 569.2,261.1 569.7,261.0 570.1,261.3 570.6,261.2 571.0,260.8 571.5,260.2 571.9,258.9 572.4,261.0 572.8,260.9 573.3,262.1 573.7,261.5 574.2,262.1 574.6,262.6 575.0,261.0 575.1,260.7 575.5,263.2 576.0,263.0 576.4,264.0 576.9,266.0 577.3,265.5 577.5,265.9 577.8,263.8 578.2,264.5 578.7,264.8 579.1,262.1 579.6,262.8 580.0,262.8 580.0,260.5 580.5,264.1 580.9,262.7 581.4,264.0 581.8,266.3 582.3,264.0 582.7,266.3 583.0,265.6 583.2,266.0 583.6,264.9 584.1,266.1 584.5,263.2 585.0,263.7 585.4,263.3 585.9,262.4 586.0,262.3 586.3,262.3 586.8,263.7 587.2,263.6 587.7,263.6 588.1,263.2 588.6,264.7 589.0,265.3 589.5,265.0 589.5,266.2 589.9,263.2 590.4,266.5 590.8,263.5 591.3,261.8 591.7,260.2 592.0,261.8 592.2,261.6 592.6,260.9 593.1,261.1 593.5,261.2 594.0,260.7 594.4,262.1 594.9,261.6 595.3,261.0 595.8,259.7 596.2,262.3 596.7,260.7 597.1,260.2 597.6,262.2 598.0,261.5 598.5,259.4 598.9,259.7 599.4,260.8 599.8,260.0 600.3,261.0 600.7,263.3 601.2,263.6 601.6,261.1 602.1,261.8 602.5,261.9 603.0,261.0 603.4,259.9 603.9,262.0 604.3,261.0 604.8,261.5 605.2,261.7 605.7,260.4 606.1,262.5 606.6,261.2 607.0,261.3 607.5,260.7 607.9,261.7 608.4,262.0 608.8,260.6 609.3,261.6 609.7,260.7 610.2,260.1 610.6,260.8 611.1,261.6 611.5,261.6 612.0,262.0 612.4,260.5 612.9,260.9 613.3,261.2 613.8,261.6 614.2,261.0 614.7,260.3 615.1,259.8 615.6,262.1 616.0,262.0 616.5,260.5 616.9,262.4 617.4,261.1 617.8,261.5 618.3,262.2 618.7,260.7 619.2,260.5 619.6,259.6 620.1,261.4 620.5,261.5 621.0,261.8 621.4,261.6 621.9,261.2 622.3,262.1 622.8,260.2 623.2,261.4 623.7,261.6 624.1,261.0 624.6,262.6 625.0,261.5 625.5,262.3 625.9,261.9 626.4,261.0 626.8,262.8 627.3,262.1 627.7,261.1 628.2,261.0 628.6,260.2 629.1,261.0 629.5,260.9 630.0,261.3 630.4,260.8 630.9,261.6 631.3,261.0 631.8,259.8 632.2,260.7 632.7,260.3 633.1,260.0 633.6,260.9 634.0,261.9 634.5,260.2 634.9,259.4 635.4,261.0 635.8,263.7 636.3,260.6 636.7,261.3 637.2,260.8 637.6,261.8 638.1,262.3 638.5,261.0 639.0,262.1 639.4,260.2 639.9,261.3 640.3,260.0 640.8,261.3 641.2,260.6 641.7,261.3 642.1,260.2 642.6,261.3 643.0,261.2 643.5,260.6 643.9,260.4 644.4,260.1 644.8,260.8 645.3,261.5 645.7,261.0 646.2,261.3 646.6,262.2 647.1,260.8 647.5,261.4 648.0,261.8 648.4,261.6 648.9,261.4 649.3,261.2 649.8,262.8 650.2,261.1 650.7,260.8 651.1,261.6 651.6,262.5 652.0,262.3 652.5,261.1 652.9,261.8 653.4,261.5 653.8,261.2 654.3,261.7 654.7,261.7 655.2,261.2 655.6,262.6 656.1,260.8 656.5,262.3 657.0,262.9 657.4,262.9 657.9,261.4" fill="none" stroke="#4560b8" stroke-width="1.15" stroke-linejoin="round"/>
<polyline points="464.4,262.0 464.8,260.8 465.3,262.1 465.7,264.2 466.2,260.8 466.6,260.8 467.1,262.8 467.5,262.6 468.0,260.6 468.4,262.1 468.9,262.4 469.3,260.8 469.8,262.9 470.2,261.0 470.7,263.1 471.1,262.3 471.6,261.5 472.0,260.7 472.5,261.8 472.9,262.0 473.4,262.0 473.8,261.6 474.3,261.9 474.7,262.9 475.2,261.3 475.6,261.9 476.1,262.5 476.5,262.1 477.0,262.9 477.4,263.4 477.9,261.8 478.3,262.3 478.8,259.6 479.2,261.8 479.7,262.7 480.1,261.2 480.6,263.3 481.0,260.5 481.5,263.3 481.9,261.7 482.4,261.2 482.8,261.7 483.3,261.9 483.7,261.3 484.2,260.9 484.6,261.7 485.1,262.9 485.5,262.5 486.0,263.3 486.4,261.6 486.9,261.8 487.3,261.8 487.8,262.2 488.2,262.5 488.7,263.6 489.1,262.7 489.6,262.3 490.0,263.3 490.5,261.4 490.9,261.0 491.4,262.7 491.8,262.3 492.3,262.2 492.7,262.9 493.2,261.8 493.6,262.0 494.1,262.4 494.5,262.7 495.0,263.0 495.4,262.2 495.9,262.3 496.3,260.0 496.8,263.2 497.2,260.8 497.7,262.1 498.1,264.3 498.6,261.8 499.0,260.8 499.5,263.5 499.9,261.6 500.4,262.0 500.8,262.0 501.3,262.7 501.7,262.8 502.2,262.0 502.6,263.1 503.1,261.3 503.5,262.7 504.0,261.6 504.4,262.7 504.9,261.5 505.3,261.7 505.8,263.4 506.2,261.2 506.7,261.1 507.1,262.6 507.6,261.9 508.0,261.7 508.5,262.0 508.9,263.9 509.4,261.2 509.8,261.9 510.3,262.2 510.7,261.3 511.2,262.1 511.6,262.5 512.1,261.3 512.5,263.1 513.0,261.1 513.4,262.0 513.9,262.4 514.3,264.8 514.8,260.6 515.2,262.3 515.7,264.2 516.1,261.6 516.6,263.0 517.0,262.3 517.5,260.9 517.9,262.4 518.4,261.3 518.8,262.2 519.3,260.8 519.7,262.7 520.2,260.0 520.6,262.0 521.1,263.2 521.5,262.5 522.0,261.8 522.4,261.9 522.9,261.7 523.3,264.4 523.8,262.1 524.2,262.1 524.7,261.5 525.1,261.7 525.6,262.6 526.0,261.6 526.5,261.4 526.9,261.6 527.4,261.8 527.8,262.2 528.3,261.7 528.7,261.9 529.2,261.5 529.6,263.2 530.1,262.2 530.5,261.8 531.0,262.3 531.4,262.1 531.9,260.8 532.3,261.9 532.8,263.5 533.2,262.5 533.7,263.1 534.0,261.5 534.1,262.2 534.6,266.6 535.0,271.7 535.5,272.7 535.9,275.5 536.4,279.3 536.8,280.0 537.3,281.6 537.7,283.2 538.2,283.8 538.6,284.0 539.1,284.7 539.2,283.9 539.5,284.1 540.0,283.3 540.4,279.8 540.9,278.3 541.3,275.5 541.8,275.6 542.2,275.0 542.2,275.3 542.7,276.1 543.1,278.0 543.6,280.3 544.0,282.2 544.5,287.2 544.9,289.1 545.4,295.2 545.8,296.4 546.3,298.8 546.7,298.6 547.0,300.7 547.2,300.7 547.6,297.1 548.1,295.6 548.5,292.5 549.0,288.6 549.4,286.4 549.9,283.1 550.3,276.6 550.8,275.2 551.2,271.8 551.7,271.9 551.9,268.5 552.1,270.4 552.6,272.6 553.0,272.4 553.5,275.8 553.9,276.2 554.4,279.2 554.8,279.9 555.3,279.4 555.3,279.1 555.7,279.0 556.2,278.3 556.6,274.5 557.1,270.4 557.5,269.6 558.0,260.8 558.0,261.9 558.4,262.6 558.9,261.2 559.3,262.1 559.8,261.7 560.2,260.8 560.7,262.5 561.1,261.1 561.6,261.5 562.0,263.1 562.5,261.1 562.9,262.6 563.4,263.1 563.8,262.9 564.3,262.5 564.7,261.9 565.2,260.9 565.6,262.2 566.1,262.5 566.5,261.7 567.0,261.3 567.4,262.8 567.9,261.2 568.3,262.5 568.8,261.7 569.2,260.7 569.7,263.5 570.1,262.6 570.6,262.6 571.0,260.9 571.5,262.0 571.9,262.3 572.4,261.5 572.8,263.5 573.3,260.4 573.7,262.7 574.2,260.5 574.6,260.8 575.1,261.0 575.5,262.6 576.0,261.5 576.4,261.5 576.9,261.3 577.3,260.8 577.8,261.3 578.2,261.2 578.7,261.8 579.1,261.7 579.6,260.0 580.0,261.5 580.5,263.1 580.9,261.7 581.4,262.0 581.8,261.4 582.3,261.5 582.7,262.0 583.2,260.9 583.6,261.9 584.1,260.6 584.5,262.3 585.0,260.7 585.4,262.6 585.9,262.9 586.3,260.7 586.8,262.6 587.2,261.7 587.7,263.0 588.1,261.6 588.6,261.8 589.0,261.8 589.5,263.1 589.9,260.4 590.4,262.7 590.8,262.1 591.3,261.6 591.7,261.8 592.2,262.8 592.6,262.7 593.1,263.5 593.5,261.5 594.0,260.4 594.4,261.5 594.9,261.8 595.3,261.6 595.8,263.1 596.2,264.0 596.7,262.3 597.1,260.5 597.6,262.9 598.0,261.5 598.5,262.0 598.9,262.7 599.4,262.3 599.8,262.0 600.3,262.3 600.7,262.7 601.2,262.5 601.6,263.8 602.1,259.5 602.5,261.3 603.0,261.5 603.4,262.7 603.9,262.2 604.3,262.7 604.8,260.8 605.2,261.8 605.7,262.6 606.1,262.0 606.6,261.7 607.0,262.2 607.5,263.4 607.9,260.2 608.4,263.4 608.8,262.2 609.3,261.3 609.7,262.6 610.2,262.0 610.6,263.0 611.1,261.3 611.5,262.8 612.0,261.2 612.4,262.3 612.9,262.6 613.3,261.9 613.8,262.6 614.2,261.5 614.7,262.9 615.1,261.6 615.6,261.4 616.0,261.9 616.5,262.0 616.9,261.3 617.4,262.7 617.8,261.9 618.3,262.5 618.7,260.7 619.2,260.9 619.6,261.8 620.1,261.2 620.5,261.9 621.0,262.5 621.4,263.0 621.9,263.3 622.3,262.7 622.8,261.4 623.2,262.5 623.7,261.6 624.1,262.5 624.6,261.1 625.0,263.2 625.5,262.4 625.9,261.8 626.4,260.9 626.8,262.2 627.3,261.6 627.7,262.2 628.2,261.4 628.6,261.5 629.1,262.5 629.5,263.3 630.0,260.9 630.4,261.8 630.9,262.3 631.3,261.9 631.8,261.6 632.2,263.9 632.7,261.3 633.1,262.3 633.6,261.6 634.0,261.9 634.5,260.1 634.9,262.8 635.4,261.8 635.8,261.2 636.3,263.4 636.7,261.8 637.2,261.5 637.6,261.3 638.1,262.9 638.5,262.0 639.0,261.8 639.4,260.9 639.9,261.2 640.3,262.3 640.8,262.0 641.2,260.3 641.7,261.3 642.1,262.2 642.6,264.3 643.0,261.4 643.5,260.1 643.9,262.7 644.4,261.6 644.8,260.9 645.3,262.5 645.7,261.8 646.2,261.2 646.6,260.9 647.1,261.9 647.5,262.1 648.0,260.5 648.4,262.9 648.9,260.9 649.3,263.2 649.8,262.3 650.2,261.9 650.7,262.3 651.1,261.5 651.6,262.0 652.0,263.4 652.5,261.5 652.9,262.7 653.4,261.3 653.8,262.0 654.3,262.8 654.7,261.0 655.2,262.3 655.6,260.2 656.1,261.0 656.5,261.7 657.0,262.8 657.4,262.6 657.9,261.2" fill="none" stroke="#12a04b" stroke-width="1.15" stroke-linejoin="round"/>
<polyline points="464.4,258.7 464.8,259.0 465.3,257.5 465.7,259.2 466.2,260.0 466.6,259.9 467.1,258.3 467.5,258.5 468.0,258.0 468.4,258.4 468.9,258.6 469.3,259.4 469.8,258.9 470.2,258.0 470.7,259.5 471.1,259.6 471.6,258.3 472.0,258.6 472.5,258.7 472.9,257.4 473.4,258.9 473.8,259.4 474.3,260.5 474.7,259.0 475.2,258.6 475.6,258.7 476.1,259.3 476.5,259.5 477.0,258.1 477.4,259.0 477.9,259.4 478.3,257.1 478.8,260.0 479.2,258.6 479.7,259.6 480.1,258.8 480.6,258.6 481.0,258.8 481.5,259.1 481.9,259.6 482.4,258.6 482.8,257.9 483.3,258.2 483.7,258.0 484.2,259.5 484.6,258.0 485.1,260.1 485.5,258.9 486.0,258.7 486.4,259.9 486.9,258.5 487.3,258.6 487.8,259.5 488.2,259.5 488.7,258.0 489.1,260.9 489.6,259.3 490.0,257.8 490.5,258.7 490.9,259.6 491.4,259.0 491.8,259.6 492.3,260.8 492.7,259.6 493.2,260.5 493.6,259.4 494.1,258.3 494.5,260.1 495.0,258.2 495.4,259.6 495.9,259.4 496.3,258.1 496.8,258.2 497.2,258.7 497.7,259.2 498.1,260.0 498.6,258.9 499.0,260.5 499.5,259.6 499.9,258.3 500.4,258.3 500.8,258.9 501.3,258.4 501.7,258.8 502.2,259.5 502.6,259.1 503.1,259.7 503.5,258.3 504.0,258.1 504.4,257.7 504.9,257.3 505.3,258.5 505.8,258.9 506.2,258.7 506.7,258.9 507.1,260.6 507.6,257.9 508.0,258.6 508.5,258.5 508.9,258.1 509.4,260.0 509.8,258.8 510.3,259.9 510.7,257.9 511.2,260.5 511.6,260.8 512.1,258.1 512.5,258.9 513.0,258.8 513.4,259.4 513.9,257.8 514.3,259.3 514.8,259.5 515.2,258.4 515.7,257.0 516.1,258.3 516.6,258.5 517.0,259.5 517.5,258.4 517.9,257.9 518.4,259.4 518.8,259.2 519.3,259.5 519.7,258.9 520.2,259.8 520.6,259.3 521.1,257.4 521.5,259.1 522.0,259.5 522.4,258.9 522.9,260.1 523.3,258.5 523.8,259.5 524.2,257.8 524.7,258.9 525.1,258.4 525.6,258.0 526.0,257.8 526.5,259.1 526.9,259.2 527.4,258.3 527.8,257.8 528.3,258.1 528.7,259.5 529.2,257.9 529.6,259.9 530.1,257.5 530.5,259.1 531.0,259.5 531.4,259.9 531.9,258.5 532.3,258.2 532.8,257.7 533.2,259.7 533.7,258.8 534.1,258.5 534.6,258.5 535.0,259.1 535.5,258.9 535.9,259.9 536.0,257.1 536.4,260.4 536.8,260.1 537.3,261.3 537.7,261.7 538.2,262.5 538.6,263.6 539.1,263.5 539.5,262.3 540.0,263.5 540.0,263.5 540.4,263.8 540.9,263.2 541.3,262.8 541.8,263.3 542.2,261.1 542.7,263.7 543.0,261.3 543.1,260.9 543.6,262.9 544.0,264.1 544.5,265.4 544.9,266.8 545.4,267.3 545.8,268.2 546.3,269.4 546.7,269.6 547.0,269.2 547.2,271.0 547.6,270.7 548.1,268.2 548.5,266.9 549.0,265.3 549.4,263.0 549.9,262.7 550.3,261.9 550.8,261.8 551.0,260.9 551.2,260.2 551.7,262.6 552.1,263.9 552.6,261.0 553.0,263.1 553.5,264.2 553.9,262.6 554.0,262.4 554.4,263.5 554.8,262.9 555.3,262.0 555.7,263.2 556.2,262.1 556.6,260.4 557.0,258.8 557.1,258.6 557.5,259.7 558.0,258.7 558.4,260.2 558.9,260.0 559.3,258.4 559.8,259.6 560.2,260.2 560.7,259.5 561.1,258.1 561.6,258.7 562.0,258.6 562.5,259.0 562.9,258.9 563.4,258.6 563.8,259.7 564.3,260.1 564.7,258.4 565.2,257.7 565.6,259.2 566.1,258.9 566.5,259.3 567.0,258.4 567.4,259.2 567.9,258.2 568.3,259.9 568.8,260.4 569.2,258.2 569.7,256.7 570.1,258.5 570.6,258.5 571.0,259.1 571.5,259.0 571.9,259.4 572.4,261.3 572.8,258.5 573.3,258.6 573.7,259.3 574.2,257.4 574.6,259.6 575.1,258.4 575.5,257.7 576.0,258.2 576.4,259.4 576.9,259.7 577.3,260.0 577.8,259.3 578.2,258.3 578.7,259.4 579.1,258.9 579.6,261.0 580.0,257.2 580.5,260.3 580.9,259.6 581.4,259.3 581.8,258.9 582.3,258.5 582.7,258.2 583.2,257.6 583.6,260.7 584.1,259.8 584.5,259.5 585.0,259.3 585.4,257.3 585.9,258.7 586.3,259.1 586.8,260.0 587.2,258.1 587.7,259.2 588.1,258.8 588.6,259.0 589.0,258.3 589.5,259.3 589.9,259.1 590.4,257.4 590.8,260.0 591.3,260.9 591.7,258.2 592.2,260.0 592.6,258.2 593.1,258.5 593.5,260.5 594.0,259.2 594.4,260.3 594.9,259.2 595.3,259.9 595.8,258.9 596.2,260.2 596.7,260.5 597.1,259.6 597.6,258.5 598.0,258.7 598.5,258.2 598.9,259.5 599.4,259.4 599.8,258.4 600.3,259.8 600.7,258.5 601.2,260.6 601.6,259.7 602.1,260.4 602.5,258.4 603.0,258.2 603.4,257.5 603.9,259.6 604.3,258.1 604.8,260.2 605.2,259.1 605.7,259.7 606.1,257.9 606.6,258.5 607.0,259.2 607.5,259.6 607.9,257.9 608.4,259.3 608.8,258.3 609.3,259.7 609.7,258.8 610.2,258.8 610.6,259.4 611.1,260.0 611.5,258.8 612.0,260.1 612.4,258.2 612.9,259.3 613.3,258.1 613.8,259.2 614.2,258.2 614.7,259.0 615.1,259.5 615.6,258.2 616.0,257.5 616.5,258.9 616.9,259.5 617.4,259.2 617.8,258.2 618.3,259.7 618.7,258.8 619.2,259.7 619.6,258.3 620.1,259.4 620.5,260.0 621.0,258.5 621.4,258.8 621.9,259.5 622.3,259.5 622.8,259.3 623.2,258.9 623.7,257.7 624.1,259.0 624.6,257.9 625.0,259.1 625.5,257.0 625.9,260.2 626.4,260.6 626.8,259.4 627.3,258.3 627.7,258.8 628.2,259.8 628.6,259.6 629.1,258.4 629.5,260.0 630.0,259.6 630.4,259.5 630.9,258.7 631.3,259.0 631.8,258.4 632.2,259.2 632.7,258.4 633.1,260.0 633.6,259.0 634.0,259.2 634.5,259.3 634.9,259.3 635.4,257.8 635.8,260.1 636.3,259.1 636.7,258.5 637.2,258.2 637.6,258.4 638.1,258.5 638.5,259.0 639.0,258.3 639.4,259.1 639.9,259.1 640.3,258.4 640.8,260.9 641.2,258.9 641.7,259.3 642.1,259.1 642.6,258.9 643.0,259.6 643.5,260.2 643.9,258.9 644.4,258.3 644.8,259.5 645.3,257.2 645.7,259.1 646.2,258.8 646.6,259.3 647.1,257.7 647.5,258.6 648.0,258.1 648.4,258.5 648.9,259.5 649.3,258.8 649.8,258.5 650.2,260.0 650.7,259.0 651.1,257.3 651.6,258.1 652.0,259.3 652.5,259.3 652.9,259.2 653.4,259.2 653.8,258.2 654.3,258.9 654.7,258.0 655.2,258.3 655.6,258.2 656.1,258.2 656.5,258.7 657.0,258.8 657.4,258.3 657.9,259.9" fill="none" stroke="#fbad3c" stroke-width="1.15" stroke-linejoin="round"/>
<polyline points="467.2,397.2 467.6,398.8 468.1,398.4 468.5,396.5 469.0,398.3 469.4,396.4 469.9,398.7 470.3,397.8 470.8,396.7 471.2,395.7 471.7,397.2 472.1,396.4 472.6,398.4 473.0,396.5 473.5,397.3 473.9,397.9 474.4,397.5 474.8,397.7 475.3,397.3 475.7,398.1 476.2,396.7 476.6,398.0 477.1,396.5 477.5,397.7 478.0,396.5 478.4,397.3 478.9,398.0 479.3,398.5 479.8,396.0 480.2,396.9 480.7,396.7 481.1,398.5 481.6,396.8 482.0,398.1 482.5,397.1 482.9,396.3 483.4,397.6 483.8,396.5 484.3,398.1 484.7,398.2 485.2,398.6 485.6,396.6 486.1,398.8 486.5,398.3 487.0,396.0 487.4,399.3 487.9,398.9 488.3,396.6 488.8,397.8 489.2,396.4 489.7,397.4 490.1,397.6 490.6,398.0 491.0,396.8 491.5,397.5 491.9,396.7 492.4,397.8 492.8,398.0 493.3,397.6 493.7,398.5 494.2,398.1 494.6,397.8 495.1,398.5 495.5,396.4 496.0,397.5 496.4,396.0 496.9,397.5 497.3,397.1 497.8,398.2 498.2,397.1 498.7,397.0 499.1,397.4 499.6,397.4 500.0,397.9 500.5,396.8 500.9,396.2 501.4,396.2 501.8,398.5 502.3,396.4 502.7,397.1 503.2,396.6 503.6,398.2 504.1,397.0 504.5,398.5 505.0,396.9 505.4,397.7 505.9,398.1 506.3,398.3 506.8,396.5 507.2,397.2 507.7,397.4 508.1,396.0 508.6,398.1 509.0,397.8 509.5,397.9 509.9,396.3 510.4,397.6 510.8,397.9 511.3,398.4 511.7,397.1 512.2,398.1 512.6,399.1 513.1,397.1 513.5,397.1 514.0,397.2 514.4,396.2 514.9,397.2 515.3,398.9 515.8,396.7 516.2,397.3 516.7,398.5 517.1,398.0 517.6,397.7 518.0,397.2 518.5,397.4 518.9,397.5 519.4,398.1 519.8,397.6 520.3,398.3 520.7,395.9 521.2,398.2 521.6,397.1 522.1,397.5 522.5,397.1 523.0,398.0 523.4,397.4 523.9,398.0 524.3,396.8 524.8,397.7 525.2,398.5 525.7,398.4 526.1,397.2 526.6,397.6 527.0,397.2 527.5,397.4 527.9,397.5 528.4,398.5 528.8,398.0 529.3,398.7 529.7,398.8 530.2,396.4 530.6,397.8 531.1,397.1 531.5,396.1 532.0,396.6 532.4,397.1 532.9,398.9 533.3,397.6 533.8,397.3 534.2,397.5 534.5,396.9 534.7,397.7 535.1,397.8 535.6,397.2 536.0,399.1 536.5,403.5 536.9,402.7 537.4,403.8 537.8,406.3 538.3,406.9 538.7,409.9 539.2,412.8 539.5,412.3 539.6,413.9 540.1,418.1 540.5,423.7 541.0,430.0 541.4,437.7 541.9,445.3 542.3,451.2 542.8,457.2 543.2,461.1 543.7,461.5 543.8,462.3 544.1,461.3 544.6,460.5 545.0,457.4 545.5,455.1 545.9,454.6 546.4,452.0 546.5,450.8 546.8,453.0 547.3,456.4 547.7,461.0 548.2,468.2 548.6,476.7 549.1,483.7 549.5,492.3 550.0,499.8 550.4,507.6 550.9,512.8 551.3,515.9 551.8,517.9 551.8,519.5 552.2,515.2 552.7,511.7 553.1,507.4 553.6,498.8 554.0,493.4 554.5,481.9 554.9,473.4 555.4,466.0 555.8,460.1 556.3,454.1 556.7,450.2 557.2,448.6 557.2,449.4 557.6,447.5 558.1,451.0 558.5,454.2 559.0,454.5 559.4,457.6 559.9,459.3 560.0,459.3 560.3,450.1 560.8,431.2 561.1,421.8 561.2,421.0 561.7,415.6 562.1,413.0 562.6,410.5 563.0,410.7 563.5,405.8 563.9,404.9 564.4,406.1 564.8,404.6 564.9,402.0 565.3,403.4 565.7,402.8 566.2,403.5 566.6,400.4 567.1,401.0 567.5,401.9 568.0,401.3 568.4,399.4 568.8,399.6 568.9,398.5 569.3,400.3 569.8,398.4 570.2,399.3 570.7,398.5 571.0,396.8 571.1,397.4 571.6,398.1 572.0,397.9 572.5,398.8 572.9,398.4 573.4,397.8 573.8,398.1 574.3,396.9 574.7,397.0 574.9,398.0 575.2,399.0 575.6,399.6 576.1,402.3 576.5,403.6 577.0,405.7 577.4,409.2 577.9,409.4 578.0,410.1 578.3,412.9 578.8,415.2 579.2,418.3 579.7,419.8 580.1,423.5 580.6,425.0 581.0,425.3 581.1,425.6 581.5,425.7 581.9,426.3 582.4,426.7 582.8,424.8 583.3,425.3 583.7,423.7 584.2,422.0 584.6,423.0 584.9,424.0 585.1,424.3 585.5,424.0 586.0,429.5 586.4,431.0 586.9,435.4 587.3,440.1 587.8,446.1 588.2,448.8 588.7,451.8 589.1,450.3 589.2,452.1 589.6,451.2 590.0,449.1 590.5,444.0 590.9,440.4 591.4,433.5 591.8,427.6 592.3,422.7 592.7,421.6 593.2,419.2 593.4,417.7 593.6,419.3 594.1,418.9 594.5,419.9 595.0,420.0 595.4,421.8 595.9,423.3 596.3,423.9 596.5,423.3 596.8,424.2 597.2,423.2 597.7,419.0 598.1,417.1 598.6,412.5 599.0,411.3 599.5,407.8 599.5,408.5 599.9,406.9 600.4,404.8 600.8,404.2 601.3,401.0 601.7,399.8 602.2,399.0 602.6,397.5 602.6,397.7 603.1,397.4 603.5,396.9 604.0,398.1 604.4,397.6 604.9,398.3 605.3,398.6 605.8,397.3 606.2,396.9 606.7,397.2 607.1,397.0 607.6,395.9 608.0,398.9 608.5,397.9 608.9,399.5 609.4,397.1 609.8,398.0 610.3,397.8 610.7,397.5 611.2,398.3 611.6,397.5 612.1,397.5 612.5,397.7 613.0,395.7 613.4,397.0 613.9,396.9 614.3,398.9 614.8,398.0 615.2,398.2 615.7,398.1 616.1,397.4 616.6,398.9 617.0,397.4 617.5,396.4 617.9,398.1 618.4,398.5 618.8,397.6 619.3,397.8 619.7,398.3 620.2,398.8 620.6,398.0 621.1,398.9 621.5,397.8 622.0,399.3 622.4,396.4 622.9,398.3 623.3,397.8 623.8,397.6 624.2,396.5 624.7,398.4 625.1,397.4 625.6,396.7 626.0,397.0 626.5,397.4 626.9,397.6 627.4,396.8 627.8,396.8 628.3,397.9 628.7,397.5 629.2,399.2 629.6,397.2 630.1,398.2 630.5,399.0 631.0,397.4 631.4,398.4 631.9,397.8 632.3,397.6 632.8,398.9 633.2,396.7 633.7,397.1 634.1,396.1 634.6,397.5 635.0,398.4 635.5,397.3 635.9,398.2 636.4,396.9 636.8,398.5 637.3,397.5 637.7,397.2 638.2,398.9 638.6,397.5 639.1,398.0 639.5,397.7 640.0,398.1 640.4,397.7 640.9,396.6 641.3,397.8 641.8,397.9 642.2,397.9 642.7,397.4 643.1,399.0 643.6,397.0 644.0,397.7 644.5,397.7 644.9,396.7 645.4,396.6 645.8,398.1 646.3,398.1 646.7,397.7 647.2,396.2 647.6,397.3 648.1,397.7 648.5,398.1 649.0,398.5 649.4,397.9 649.9,398.3 650.3,398.9 650.8,395.6 651.2,398.4 651.7,397.2 652.1,397.9 652.6,397.7 653.0,396.7 653.5,396.8 653.9,397.9 654.4,397.4 654.8,398.1 655.3,397.2 655.7,399.3 656.2,397.3 656.6,399.2 657.1,396.9 657.5,398.0 658.0,398.5 658.4,396.5 658.9,396.8 659.3,397.9 659.8,398.5 660.2,398.7 660.7,398.0 661.1,398.4 661.6,396.6 662.0,397.2 662.5,398.7 662.9,397.1 663.4,397.3 663.8,396.1 664.3,397.4 664.7,396.2 665.2,397.8 665.6,398.7 666.1,397.8 666.5,397.7 667.0,397.2 667.4,398.0 667.9,396.6 668.3,397.2 668.8,399.3 669.2,396.5 669.7,397.1 670.1,396.4" fill="none" stroke="#231f20" stroke-width="1.15" stroke-linejoin="round"/>
<polyline points="467.2,397.9 467.6,396.7 468.1,395.9 468.5,395.9 469.0,397.8 469.4,397.5 469.9,397.6 470.3,396.9 470.8,397.7 471.2,398.0 471.7,397.5 472.1,395.6 472.6,395.3 473.0,395.7 473.5,397.2 473.9,395.7 474.4,396.0 474.8,397.0 475.3,396.2 475.7,395.9 476.2,397.7 476.6,397.3 477.1,397.6 477.5,397.7 478.0,398.1 478.4,396.9 478.9,396.8 479.3,395.5 479.8,396.7 480.2,396.4 480.7,397.8 481.1,397.5 481.6,398.1 482.0,397.8 482.5,397.9 482.9,397.3 483.4,397.0 483.8,396.6 484.3,396.9 484.7,396.1 485.2,397.2 485.6,396.8 486.1,395.2 486.5,394.7 487.0,396.3 487.4,396.5 487.9,396.7 488.3,398.0 488.8,396.4 489.2,395.9 489.7,397.2 490.1,397.7 490.6,398.2 491.0,396.1 491.5,396.7 491.9,396.6 492.4,398.1 492.8,397.5 493.3,396.9 493.7,397.5 494.2,396.6 494.6,396.7 495.1,396.9 495.5,396.5 496.0,396.7 496.4,397.2 496.9,397.1 497.3,398.1 497.8,397.6 498.2,396.8 498.7,395.1 499.1,395.7 499.6,396.5 500.0,396.6 500.5,395.8 500.9,396.6 501.4,397.0 501.8,396.4 502.3,396.8 502.7,396.8 503.2,396.3 503.6,396.2 504.1,396.8 504.5,397.1 505.0,396.0 505.4,395.2 505.9,396.1 506.3,397.3 506.8,395.6 507.2,397.6 507.7,396.4 508.1,397.0 508.6,396.2 509.0,397.3 509.5,396.9 509.9,397.2 510.4,395.3 510.8,397.5 511.3,395.5 511.7,396.6 512.2,397.3 512.6,396.7 513.1,397.3 513.5,397.0 514.0,396.9 514.4,396.2 514.9,397.7 515.3,397.8 515.8,396.4 516.2,396.1 516.7,397.0 517.1,396.3 517.6,397.0 518.0,397.5 518.5,397.4 518.9,398.1 519.4,397.2 519.8,396.0 520.3,396.2 520.7,397.3 521.2,398.4 521.6,396.6 522.1,396.1 522.5,398.0 523.0,396.8 523.4,397.4 523.9,397.7 524.3,396.1 524.8,396.6 525.2,396.4 525.7,397.3 526.1,397.4 526.6,396.5 527.0,397.3 527.5,395.4 527.9,397.2 528.4,397.1 528.8,396.9 529.3,395.7 529.7,396.8 530.2,396.0 530.6,398.0 531.1,396.6 531.5,396.7 532.0,396.8 532.4,397.3 532.9,396.9 533.3,397.3 533.8,396.1 534.2,397.8 534.7,396.5 535.1,397.5 535.6,397.1 536.0,397.7 536.5,396.8 536.9,395.7 537.2,395.9 537.4,398.1 537.8,402.6 538.3,404.6 538.7,408.7 539.2,413.6 539.6,416.2 540.0,420.2 540.1,421.2 540.5,426.1 541.0,433.4 541.4,440.8 541.9,447.0 542.3,450.5 542.8,455.3 542.9,453.3 543.2,452.0 543.7,448.5 544.1,443.5 544.6,439.2 545.0,430.4 545.5,427.3 545.9,422.4 546.4,421.4 546.5,421.4 546.8,421.8 547.3,427.4 547.7,437.7 548.2,446.9 548.6,459.3 549.1,471.3 549.5,483.9 550.0,494.2 550.4,501.5 550.9,505.3 551.1,505.8 551.3,503.7 551.8,501.4 552.2,492.3 552.7,482.1 553.1,471.2 553.6,459.1 554.0,448.6 554.5,438.8 554.9,431.3 555.4,425.5 555.7,424.1 555.8,424.5 556.3,425.5 556.7,429.2 557.2,435.9 557.6,438.8 558.1,444.5 558.5,450.5 559.0,454.6 559.4,458.2 559.9,458.4 560.0,458.3 560.3,458.2 560.8,449.3 561.2,439.3 561.7,428.4 562.1,417.1 562.6,412.8 562.6,412.4 563.0,410.8 563.5,408.2 563.9,405.1 564.4,406.1 564.8,401.9 564.9,403.4 565.3,401.8 565.7,400.3 566.2,399.3 566.6,398.7 567.0,396.2 567.1,396.4 567.5,397.5 568.0,397.3 568.4,397.4 568.9,397.1 569.3,396.7 569.8,396.5 570.2,396.5 570.7,397.6 571.1,398.1 571.6,398.4 572.0,396.0 572.5,396.7 572.9,396.9 573.4,396.7 573.8,396.0 574.3,398.6 574.7,398.1 575.2,396.7 575.6,396.5 576.0,396.9 576.1,396.2 576.5,398.2 577.0,400.3 577.4,402.0 577.9,402.3 578.3,403.1 578.8,401.4 578.8,399.7 579.2,403.3 579.7,402.1 580.1,401.5 580.6,402.5 581.0,400.0 581.5,399.7 581.9,399.6 582.4,401.3 582.6,400.7 582.8,398.6 583.3,401.9 583.7,401.4 584.2,402.9 584.6,403.2 585.1,406.7 585.5,406.8 586.0,408.7 586.4,407.7 586.9,409.6 587.2,409.2 587.3,408.9 587.8,407.9 588.2,406.9 588.7,405.0 589.1,403.8 589.6,402.6 590.0,401.7 590.5,398.8 590.9,398.7 591.1,399.0 591.4,398.2 591.8,399.6 592.3,400.2 592.7,400.8 593.2,401.9 593.6,402.8 594.1,402.9 594.2,402.5 594.5,402.6 595.0,401.1 595.4,400.3 595.9,400.6 596.3,399.3 596.8,399.3 597.0,396.7 597.2,396.1 597.7,397.1 598.1,396.5 598.6,396.1 599.0,398.0 599.5,398.4 599.9,397.2 600.4,396.3 600.8,397.1 601.3,396.8 601.7,395.7 602.2,397.5 602.6,397.1 603.1,397.9 603.5,396.4 604.0,396.9 604.4,396.8 604.9,395.5 605.3,398.9 605.8,395.2 606.2,395.9 606.7,396.6 607.1,395.6 607.6,397.2 608.0,396.5 608.5,396.9 608.9,397.1 609.4,396.9 609.8,397.0 610.3,396.8 610.7,397.2 611.2,397.5 611.6,396.7 612.1,396.5 612.5,396.6 613.0,397.1 613.4,396.6 613.9,396.6 614.3,395.7 614.8,398.4 615.2,395.9 615.7,398.2 616.1,397.5 616.6,397.7 617.0,397.1 617.5,397.3 617.9,397.1 618.4,397.4 618.8,397.6 619.3,398.1 619.7,396.1 620.2,397.3 620.6,398.2 621.1,398.0 621.5,396.1 622.0,397.1 622.4,397.1 622.9,397.1 623.3,395.1 623.8,397.6 624.2,395.6 624.7,398.7 625.1,397.4 625.6,396.8 626.0,397.4 626.5,397.0 626.9,396.5 627.4,396.8 627.8,397.2 628.3,396.2 628.7,397.5 629.2,397.8 629.6,397.8 630.1,397.9 630.5,398.0 631.0,397.5 631.4,398.0 631.9,397.0 632.3,397.2 632.8,398.1 633.2,398.5 633.7,396.6 634.1,395.7 634.6,398.7 635.0,397.9 635.5,398.4 635.9,397.7 636.4,397.1 636.8,396.4 637.3,396.1 637.7,398.1 638.2,397.7 638.6,397.2 639.1,396.0 639.5,396.5 640.0,396.4 640.4,396.7 640.9,394.5 641.3,397.1 641.8,398.2 642.2,396.5 642.7,396.9 643.1,397.1 643.6,396.1 644.0,397.3 644.5,396.2 644.9,396.6 645.4,397.1 645.8,396.9 646.3,397.0 646.7,396.2 647.2,397.5 647.6,396.0 648.1,397.6 648.5,396.5 649.0,395.9 649.4,396.8 649.9,396.0 650.3,396.5 650.8,396.8 651.2,397.6 651.7,397.6 652.1,397.3 652.6,396.7 653.0,395.7 653.5,396.7 653.9,396.7 654.4,396.8 654.8,396.5 655.3,396.5 655.7,397.6 656.2,395.8 656.6,396.9 657.1,398.0 657.5,396.3 658.0,396.1 658.4,396.7 658.9,396.6 659.3,397.1 659.8,398.0 660.2,396.8 660.7,397.4 661.1,396.4 661.6,396.5 662.0,397.2 662.5,396.4 662.9,397.9 663.4,396.6 663.8,396.8 664.3,396.1 664.7,396.6 665.2,396.1 665.6,396.5 666.0,395.4 666.1,397.6 666.5,401.7 667.0,400.5 667.4,404.4 667.6,402.9 667.9,403.6 668.3,401.3 668.8,402.4 669.2,397.6 669.5,396.9 669.7,398.2 670.1,395.9" fill="none" stroke="#ed1c24" stroke-width="1.15" stroke-linejoin="round"/>
<polyline points="467.2,393.8 467.6,395.7 468.1,395.1 468.5,394.9 469.0,395.0 469.4,394.5 469.9,396.9 470.3,396.7 470.8,394.6 471.2,395.6 471.7,395.3 472.1,396.6 472.6,395.0 473.0,397.1 473.5,395.7 473.9,395.1 474.4,395.6 474.8,395.2 475.3,397.6 475.7,395.8 476.2,395.3 476.6,395.8 477.1,396.9 477.5,394.9 478.0,394.3 478.4,396.8 478.9,396.2 479.3,395.3 479.8,395.6 480.2,396.6 480.7,393.4 481.1,396.8 481.6,395.6 482.0,396.3 482.5,395.7 482.9,398.3 483.4,395.2 483.8,396.6 484.3,393.5 484.7,395.7 485.2,396.4 485.6,394.4 486.1,394.0 486.5,395.8 487.0,396.6 487.4,396.7 487.9,395.1 488.3,396.0 488.8,394.5 489.2,397.2 489.7,395.2 490.1,396.8 490.6,395.5 491.0,395.4 491.5,397.1 491.9,395.0 492.4,396.8 492.8,395.4 493.3,395.0 493.7,395.0 494.2,396.7 494.6,395.6 495.1,395.4 495.5,394.4 496.0,396.7 496.4,396.6 496.9,396.0 497.3,396.4 497.8,392.9 498.2,395.3 498.7,395.8 499.1,395.8 499.6,395.2 500.0,395.9 500.5,395.1 500.9,395.1 501.4,394.6 501.8,395.8 502.3,395.1 502.7,395.3 503.2,396.9 503.6,395.7 504.1,395.7 504.5,394.4 505.0,395.3 505.4,396.5 505.9,396.2 506.3,395.7 506.8,395.6 507.2,395.8 507.7,396.0 508.1,395.4 508.6,393.6 509.0,397.4 509.5,396.7 509.9,395.6 510.4,396.9 510.8,394.6 511.3,396.8 511.7,395.9 512.2,396.5 512.6,395.4 513.1,395.8 513.5,396.2 514.0,396.6 514.4,396.1 514.9,396.1 515.3,395.2 515.8,397.2 516.2,395.9 516.7,395.5 517.1,395.4 517.6,394.7 518.0,395.1 518.5,394.4 518.9,395.9 519.4,395.6 519.8,395.9 520.3,394.6 520.7,395.3 521.2,395.2 521.6,396.5 522.1,394.4 522.5,394.4 523.0,396.8 523.4,396.0 523.9,394.4 524.3,396.8 524.8,397.0 525.2,396.7 525.7,393.9 526.1,395.8 526.6,395.0 527.0,395.5 527.5,394.4 527.9,397.2 528.4,395.1 528.8,395.9 529.3,396.4 529.7,396.2 530.2,396.0 530.6,395.4 531.1,395.9 531.5,395.5 532.0,393.8 532.4,396.5 532.9,395.2 533.3,395.3 533.8,395.3 534.2,394.5 534.7,394.7 535.1,394.2 535.6,396.1 536.0,396.7 536.5,395.8 536.9,394.7 537.4,396.8 537.8,395.4 538.3,394.3 538.7,394.1 539.2,395.9 539.5,396.9 539.6,396.5 540.1,399.3 540.5,402.3 541.0,404.0 541.4,406.2 541.9,408.3 542.3,408.6 542.8,410.7 543.2,409.4 543.4,410.9 543.7,410.3 544.1,408.6 544.6,407.0 545.0,405.0 545.5,404.8 545.9,401.2 546.4,402.1 546.5,402.0 546.8,401.1 547.3,403.9 547.7,402.3 548.2,406.9 548.6,409.4 549.1,412.1 549.5,415.6 550.0,417.1 550.4,419.4 550.9,422.0 551.3,421.7 551.5,421.0 551.8,422.1 552.2,420.1 552.7,417.3 553.1,415.3 553.6,410.8 554.0,407.4 554.5,405.0 554.9,402.7 555.4,401.4 555.7,400.1 555.8,402.6 556.3,402.0 556.7,402.2 557.2,403.1 557.6,401.7 558.1,405.4 558.5,404.4 559.0,406.1 559.2,404.7 559.4,406.4 559.9,404.4 560.3,403.4 560.8,403.2 561.2,400.6 561.7,396.2 562.0,395.1 562.1,395.9 562.6,395.5 563.0,396.4 563.5,395.1 563.9,394.1 564.4,394.9 564.8,395.5 565.3,396.2 565.7,396.3 566.2,396.8 566.6,395.9 567.1,395.5 567.5,396.3 568.0,395.6 568.4,395.3 568.9,395.3 569.3,396.5 569.8,397.0 570.2,396.8 570.7,394.3 571.1,396.6 571.6,394.7 572.0,395.4 572.5,396.2 572.9,394.6 573.4,394.7 573.8,395.1 574.3,397.1 574.7,396.6 575.2,394.9 575.6,395.8 576.1,395.8 576.5,396.0 577.0,395.1 577.4,396.9 577.9,395.4 578.3,396.4 578.8,394.3 579.2,396.0 579.7,395.8 580.1,396.8 580.6,393.5 581.0,396.2 581.5,396.4 581.9,395.5 582.4,396.8 582.8,397.5 583.3,396.4 583.7,396.4 584.2,396.8 584.6,396.1 585.1,396.7 585.5,396.2 586.0,395.1 586.4,394.8 586.9,396.7 587.3,396.2 587.8,395.1 588.2,395.7 588.7,396.9 589.1,394.2 589.6,394.9 590.0,396.3 590.5,396.4 590.9,394.7 591.4,394.8 591.8,395.8 592.3,396.9 592.7,395.7 593.2,393.7 593.6,396.6 594.1,395.7 594.5,395.3 595.0,394.7 595.4,396.7 595.9,395.9 596.3,396.0 596.8,396.0 597.2,396.1 597.7,396.4 598.1,397.2 598.6,394.8 599.0,395.6 599.5,395.3 599.9,397.1 600.4,395.5 600.8,394.3 601.3,395.7 601.7,395.1 602.2,395.1 602.6,395.3 603.1,394.6 603.5,394.1 604.0,397.4 604.4,395.6 604.9,394.9 605.3,396.2 605.8,396.8 606.2,394.2 606.7,395.3 607.1,395.9 607.6,395.0 608.0,396.1 608.5,394.6 608.9,395.1 609.4,395.6 609.8,396.1 610.3,395.7 610.7,395.1 611.2,395.4 611.6,393.9 612.1,397.5 612.5,395.3 613.0,395.4 613.4,395.9 613.9,396.2 614.3,396.0 614.8,395.1 615.2,394.3 615.7,395.5 616.1,395.0 616.6,395.2 617.0,395.7 617.5,395.9 617.9,396.8 618.4,395.6 618.8,394.2 619.3,396.2 619.7,396.5 620.2,394.3 620.6,396.2 621.1,395.9 621.5,395.2 622.0,395.8 622.4,396.0 622.9,396.2 623.3,396.7 623.8,395.7 624.2,395.7 624.7,397.7 625.1,394.8 625.6,395.5 626.0,395.4 626.5,396.3 626.9,396.6 627.4,394.6 627.8,396.7 628.3,394.7 628.7,397.9 629.2,395.1 629.6,396.6 630.1,395.5 630.5,396.3 631.0,395.1 631.4,395.8 631.9,395.7 632.3,395.8 632.8,396.4 633.2,395.3 633.7,395.4 634.1,394.6 634.6,395.6 635.0,395.3 635.5,396.4 635.9,396.3 636.4,395.1 636.8,396.1 637.3,396.8 637.7,395.5 638.2,394.7 638.6,397.8 639.1,396.2 639.5,396.3 640.0,397.8 640.4,395.0 640.9,396.0 641.3,394.1 641.8,396.1 642.2,396.0 642.7,395.0 643.1,395.0 643.6,395.5 644.0,395.5 644.5,397.0 644.9,395.5 645.4,395.6 645.8,395.5 646.3,394.3 646.7,395.3 647.2,394.5 647.6,395.8 648.1,393.8 648.5,394.7 649.0,395.9 649.4,393.9 649.9,394.4 650.3,396.5 650.8,394.6 651.2,395.7 651.7,396.0 652.1,394.8 652.6,394.3 653.0,397.0 653.5,395.2 653.9,396.1 654.4,395.0 654.8,396.0 655.3,394.6 655.7,394.5 656.2,394.8 656.6,395.2 657.1,395.2 657.5,395.4 658.0,396.1 658.4,395.2 658.9,396.5 659.3,395.1 659.8,396.3 660.2,396.8 660.7,397.2 661.1,394.0 661.6,397.2 662.0,394.2 662.5,396.9 662.9,395.7 663.4,396.0 663.8,394.9 664.3,396.5 664.7,396.3 665.2,395.2 665.6,395.2 666.1,396.4 666.5,396.6 667.0,396.3 667.4,395.4 667.9,395.7 668.3,396.5 668.8,396.4 669.2,396.7 669.7,395.8 670.1,395.1" fill="none" stroke="#4560b8" stroke-width="1.15" stroke-linejoin="round"/>
<polyline points="467.2,397.9 467.6,398.1 468.1,397.2 468.5,398.1 469.0,397.0 469.4,397.9 469.9,397.2 470.3,399.5 470.8,398.7 471.2,397.9 471.7,396.6 472.1,396.6 472.6,398.3 473.0,397.6 473.5,398.0 473.9,396.4 474.4,396.4 474.8,397.8 475.3,397.5 475.7,396.6 476.2,397.0 476.6,398.4 477.1,397.3 477.5,398.2 478.0,399.1 478.4,398.0 478.9,397.8 479.3,397.2 479.8,398.7 480.2,396.5 480.7,396.8 481.1,397.7 481.6,396.4 482.0,398.5 482.5,397.2 482.9,398.1 483.4,397.4 483.8,397.5 484.3,397.7 484.7,396.0 485.2,396.8 485.6,397.3 486.1,399.6 486.5,398.4 487.0,398.3 487.4,396.8 487.9,398.5 488.3,398.8 488.8,398.3 489.2,399.9 489.7,396.5 490.1,396.8 490.6,397.5 491.0,396.9 491.5,397.7 491.9,398.1 492.4,397.7 492.8,397.8 493.3,398.0 493.7,398.4 494.2,397.1 494.6,397.1 495.1,398.7 495.5,397.4 496.0,397.0 496.4,397.9 496.9,397.4 497.3,397.8 497.8,397.6 498.2,398.2 498.7,398.5 499.1,397.0 499.6,396.7 500.0,399.0 500.5,397.1 500.9,396.4 501.4,396.1 501.8,397.7 502.3,397.1 502.7,396.1 503.2,396.9 503.6,396.8 504.1,398.5 504.5,397.9 505.0,397.7 505.4,396.6 505.9,397.5 506.3,398.3 506.8,397.8 507.2,398.6 507.7,397.8 508.1,398.3 508.6,398.1 509.0,397.2 509.5,398.8 509.9,398.0 510.4,398.4 510.8,396.8 511.3,396.8 511.7,397.5 512.2,397.0 512.6,398.2 513.1,398.0 513.5,398.7 514.0,398.2 514.4,396.7 514.9,398.5 515.3,397.1 515.8,397.1 516.2,397.7 516.7,397.7 517.1,398.6 517.6,400.1 518.0,398.0 518.5,398.9 518.9,397.5 519.4,398.0 519.8,397.2 520.3,397.3 520.7,398.8 521.2,398.1 521.6,398.1 522.1,397.0 522.5,399.1 523.0,397.5 523.4,397.1 523.9,397.7 524.3,398.3 524.8,398.3 525.2,398.9 525.7,396.8 526.1,397.3 526.6,399.0 527.0,399.6 527.5,397.2 527.9,397.6 528.4,396.4 528.8,397.0 529.3,396.9 529.7,397.6 530.2,396.7 530.6,398.5 531.1,397.6 531.5,397.5 532.0,398.5 532.4,397.5 532.9,396.6 533.3,397.7 533.8,399.5 534.2,397.8 534.7,398.1 535.1,397.5 535.6,397.5 536.0,398.1 536.5,395.4 536.9,396.6 537.4,397.2 537.8,397.5 538.3,398.9 538.7,399.8 539.2,398.2 539.6,398.0 540.0,398.3 540.1,399.2 540.5,398.1 541.0,399.4 541.4,400.7 541.9,401.5 542.3,400.2 542.8,402.5 543.2,400.9 543.4,402.9 543.7,403.0 544.1,400.1 544.6,402.1 545.0,401.4 545.5,400.2 545.9,401.1 546.4,401.7 546.8,400.2 547.0,398.9 547.3,398.7 547.7,399.3 548.2,400.2 548.6,402.9 549.1,403.2 549.5,404.1 550.0,405.9 550.4,406.2 550.9,407.0 551.3,406.8 551.8,407.2 551.8,407.7 552.2,406.5 552.7,408.3 553.1,406.1 553.6,404.5 554.0,404.7 554.5,401.9 554.9,402.8 555.4,401.2 555.8,402.4 556.0,400.3 556.3,400.5 556.7,400.4 557.2,400.5 557.6,402.4 558.1,401.8 558.5,403.5 559.0,403.1 559.4,404.7 559.5,401.6 559.9,403.9 560.3,402.9 560.8,401.8 561.2,399.9 561.7,400.3 562.0,397.3 562.1,398.0 562.6,397.5 563.0,397.4 563.5,397.8 563.9,398.3 564.4,396.7 564.8,397.3 565.3,396.5 565.7,398.0 566.2,397.0 566.6,397.1 567.1,398.2 567.5,397.7 568.0,398.0 568.4,397.6 568.9,398.0 569.3,397.8 569.8,396.7 570.2,397.9 570.7,397.4 571.1,397.5 571.6,397.9 572.0,397.2 572.5,396.8 572.9,398.7 573.4,399.2 573.8,397.4 574.3,398.7 574.7,398.0 575.2,397.1 575.6,397.0 576.1,397.4 576.5,397.3 577.0,397.4 577.4,397.6 577.9,396.7 578.3,398.4 578.8,396.7 579.2,396.8 579.7,398.5 580.1,398.3 580.6,398.9 581.0,397.8 581.5,397.1 581.9,398.7 582.4,397.6 582.8,397.6 583.3,397.0 583.7,398.0 584.2,395.7 584.6,398.1 585.1,396.0 585.5,398.4 586.0,396.4 586.4,398.3 586.9,399.8 587.3,397.4 587.8,396.7 588.2,399.3 588.7,397.3 589.1,396.7 589.6,398.7 590.0,395.3 590.5,396.4 590.9,396.6 591.4,397.1 591.8,396.0 592.3,398.4 592.7,398.6 593.2,397.6 593.6,397.3 594.1,396.4 594.5,398.1 595.0,397.1 595.4,398.2 595.9,398.5 596.3,397.7 596.8,395.9 597.2,396.9 597.7,398.8 598.1,397.9 598.6,398.9 599.0,395.8 599.5,397.6 599.9,397.5 600.4,396.3 600.8,397.1 601.3,398.5 601.7,398.1 602.2,397.2 602.6,398.0 603.1,398.7 603.5,396.8 604.0,397.9 604.4,398.6 604.9,397.1 605.3,398.8 605.8,397.6 606.2,398.6 606.7,398.5 607.1,397.9 607.6,397.4 608.0,397.1 608.5,397.8 608.9,397.9 609.4,398.9 609.8,397.6 610.3,398.0 610.7,399.1 611.2,398.0 611.6,398.1 612.1,399.1 612.5,397.8 613.0,398.0 613.4,398.3 613.9,397.6 614.3,396.7 614.8,396.4 615.2,397.5 615.7,398.6 616.1,398.5 616.6,399.1 617.0,398.5 617.5,397.1 617.9,396.5 618.4,397.2 618.8,397.5 619.3,397.1 619.7,398.5 620.2,397.0 620.6,398.2 621.1,398.4 621.5,396.2 622.0,397.3 622.4,398.8 622.9,398.4 623.3,397.8 623.8,396.7 624.2,397.1 624.7,397.8 625.1,398.8 625.6,398.1 626.0,397.6 626.5,397.9 626.9,398.3 627.4,396.2 627.8,396.8 628.3,397.7 628.7,398.7 629.2,398.6 629.6,397.0 630.1,397.7 630.5,397.1 631.0,397.4 631.4,397.8 631.9,397.4 632.3,397.2 632.8,396.7 633.2,396.3 633.7,397.5 634.1,397.8 634.6,398.2 635.0,397.0 635.5,397.1 635.9,398.8 636.4,398.0 636.8,398.4 637.3,397.2 637.7,397.1 638.2,396.7 638.6,398.5 639.1,396.7 639.5,396.2 640.0,397.0 640.4,398.8 640.9,397.7 641.3,397.9 641.8,397.8 642.2,397.6 642.7,397.5 643.1,396.5 643.6,399.1 644.0,397.6 644.5,398.7 644.9,396.4 645.4,398.1 645.8,396.7 646.3,396.6 646.7,397.9 647.2,398.6 647.6,398.8 648.1,398.8 648.5,397.5 649.0,398.3 649.4,397.2 649.9,397.2 650.3,397.9 650.8,397.6 651.2,398.4 651.7,396.1 652.1,398.6 652.6,397.2 653.0,398.9 653.5,398.7 653.9,396.7 654.4,397.6 654.8,398.3 655.3,397.0 655.7,397.1 656.2,397.4 656.6,398.3 657.1,398.5 657.5,397.3 658.0,398.4 658.4,398.9 658.9,398.5 659.3,397.1 659.8,397.0 660.2,397.9 660.7,398.4 661.1,398.0 661.6,397.4 662.0,396.9 662.5,398.8 662.9,397.6 663.4,399.3 663.8,396.7 664.3,397.4 664.7,397.1 665.2,399.2 665.6,398.7 666.1,397.3 666.5,396.1 667.0,398.7 667.4,397.8 667.9,396.7 668.3,396.4 668.8,398.0 669.2,397.5 669.7,397.8 670.1,398.0" fill="none" stroke="#12a04b" stroke-width="1.15" stroke-linejoin="round"/>
<polyline points="467.2,396.6 467.6,396.7 468.1,397.5 468.5,396.8 469.0,396.7 469.4,397.4 469.9,395.2 470.3,397.9 470.8,397.3 471.2,396.2 471.7,396.7 472.1,397.9 472.6,397.4 473.0,395.4 473.5,396.0 473.9,397.1 474.4,398.4 474.8,397.5 475.3,396.7 475.7,397.4 476.2,396.9 476.6,396.6 477.1,397.2 477.5,395.1 478.0,397.8 478.4,397.4 478.9,396.5 479.3,396.2 479.8,395.9 480.2,397.1 480.7,397.0 481.1,397.0 481.6,398.3 482.0,395.0 482.5,396.3 482.9,396.2 483.4,397.7 483.8,396.7 484.3,396.1 484.7,397.1 485.2,397.2 485.6,398.3 486.1,397.1 486.5,396.5 487.0,396.5 487.4,396.2 487.9,397.3 488.3,397.6 488.8,396.7 489.2,396.8 489.7,398.1 490.1,397.0 490.6,397.3 491.0,396.0 491.5,396.4 491.9,395.1 492.4,395.7 492.8,397.2 493.3,398.0 493.7,396.7 494.2,395.9 494.6,397.0 495.1,397.9 495.5,396.8 496.0,397.7 496.4,396.8 496.9,395.9 497.3,396.1 497.8,396.7 498.2,398.8 498.7,397.4 499.1,396.7 499.6,397.1 500.0,397.1 500.5,396.5 500.9,396.8 501.4,396.7 501.8,397.5 502.3,398.2 502.7,398.0 503.2,396.6 503.6,397.4 504.1,396.3 504.5,396.0 505.0,397.0 505.4,397.4 505.9,396.8 506.3,397.6 506.8,397.6 507.2,397.5 507.7,396.8 508.1,395.8 508.6,398.4 509.0,396.5 509.5,397.5 509.9,397.3 510.4,396.6 510.8,398.4 511.3,397.5 511.7,396.9 512.2,396.6 512.6,396.1 513.1,395.8 513.5,397.4 514.0,396.5 514.4,396.5 514.9,397.3 515.3,396.6 515.8,397.5 516.2,396.4 516.7,396.5 517.1,397.7 517.6,396.3 518.0,397.4 518.5,397.3 518.9,396.9 519.4,395.5 519.8,395.8 520.3,396.0 520.7,395.8 521.2,397.6 521.6,396.2 522.1,395.9 522.5,396.5 523.0,396.8 523.4,395.5 523.9,397.4 524.3,397.5 524.8,396.4 525.2,397.6 525.7,395.6 526.1,396.4 526.6,396.8 527.0,397.0 527.5,397.9 527.9,396.6 528.4,396.1 528.8,397.1 529.3,397.0 529.7,397.3 530.2,396.6 530.6,397.0 531.1,396.4 531.5,397.4 532.0,396.3 532.4,396.4 532.9,397.9 533.3,396.3 533.8,396.9 534.2,397.4 534.7,396.6 535.1,397.7 535.6,396.4 536.0,397.8 536.5,395.6 536.9,395.8 537.4,397.0 537.8,398.1 538.3,398.2 538.7,396.2 539.2,396.9 539.6,396.5 540.1,395.1 540.5,397.5 541.0,396.6 541.4,398.0 541.9,397.1 542.3,396.5 542.8,396.3 543.2,396.7 543.7,397.3 544.1,396.5 544.6,399.2 545.0,397.1 545.5,395.9 545.9,397.0 546.0,397.9 546.4,398.4 546.8,399.0 547.3,399.7 547.7,400.5 548.2,400.9 548.6,402.0 549.1,403.2 549.5,402.8 550.0,404.9 550.4,404.0 550.9,403.4 551.0,403.8 551.3,405.0 551.8,402.1 552.2,403.2 552.7,404.6 553.1,402.5 553.6,399.9 554.0,399.7 554.5,398.2 554.9,399.4 555.0,396.3 555.4,396.7 555.8,396.6 556.3,395.7 556.7,394.1 557.2,396.7 557.6,397.3 558.1,396.5 558.5,397.3 559.0,397.5 559.4,397.5 559.9,395.5 560.3,398.2 560.8,397.6 561.2,397.6 561.7,396.9 562.1,396.9 562.6,396.4 563.0,397.2 563.5,397.7 563.9,396.4 564.4,397.6 564.8,396.5 565.3,397.4 565.7,396.8 566.2,397.6 566.6,398.5 567.1,397.1 567.5,396.5 568.0,396.5 568.4,397.4 568.9,396.5 569.3,397.7 569.8,397.1 570.2,397.7 570.7,396.4 571.1,396.1 571.6,396.3 572.0,397.2 572.5,396.2 572.9,397.5 573.4,395.2 573.8,396.3 574.3,396.8 574.7,395.4 575.2,396.4 575.6,395.6 576.1,396.8 576.5,396.7 577.0,397.5 577.4,396.2 577.9,395.5 578.3,396.4 578.8,397.0 579.2,397.0 579.7,397.0 580.1,397.9 580.6,396.6 581.0,396.7 581.5,396.2 581.9,396.4 582.4,397.8 582.8,397.2 583.3,394.7 583.7,397.9 584.2,395.2 584.6,396.6 585.1,397.7 585.5,397.0 586.0,397.4 586.4,397.6 586.9,397.2 587.3,395.9 587.8,397.2 588.2,396.3 588.7,394.9 589.1,396.7 589.6,397.4 590.0,397.0 590.5,396.9 590.9,398.4 591.4,397.1 591.8,397.7 592.3,397.2 592.7,398.3 593.2,396.6 593.6,397.9 594.1,398.4 594.5,396.6 595.0,397.8 595.4,395.8 595.9,397.2 596.3,397.5 596.8,396.2 597.2,395.4 597.7,397.0 598.1,396.6 598.6,397.1 599.0,397.2 599.5,397.6 599.9,398.2 600.4,397.3 600.8,395.6 601.3,397.5 601.7,397.2 602.2,397.0 602.6,398.2 603.1,397.1 603.5,396.6 604.0,397.3 604.4,395.6 604.9,397.7 605.3,397.0 605.8,398.3 606.2,397.5 606.7,397.2 607.1,397.1 607.6,395.9 608.0,396.9 608.5,397.2 608.9,397.7 609.4,397.3 609.8,397.5 610.3,397.5 610.7,396.5 611.2,397.2 611.6,396.7 612.1,395.9 612.5,395.7 613.0,397.6 613.4,398.1 613.9,398.1 614.3,396.2 614.8,398.2 615.2,398.2 615.7,396.3 616.1,397.3 616.6,398.4 617.0,397.0 617.5,397.9 617.9,396.4 618.4,396.6 618.8,397.7 619.3,396.8 619.7,397.0 620.2,397.0 620.6,396.1 621.1,398.2 621.5,396.8 622.0,396.7 622.4,396.6 622.9,397.0 623.3,396.2 623.8,397.7 624.2,396.6 624.7,397.6 625.1,396.2 625.6,396.1 626.0,396.2 626.5,397.1 626.9,395.8 627.4,397.6 627.8,396.7 628.3,397.7 628.7,396.6 629.2,397.6 629.6,396.1 630.1,396.0 630.5,397.4 631.0,396.5 631.4,397.8 631.9,396.3 632.3,397.4 632.8,396.2 633.2,395.5 633.7,398.1 634.1,396.8 634.6,397.7 635.0,397.1 635.5,395.5 635.9,397.3 636.4,397.8 636.8,398.0 637.3,398.3 637.7,397.3 638.2,396.8 638.6,397.0 639.1,395.9 639.5,397.5 640.0,397.5 640.4,397.2 640.9,396.3 641.3,397.5 641.8,396.5 642.2,398.0 642.7,396.4 643.1,396.5 643.6,396.7 644.0,396.1 644.5,396.2 644.9,396.7 645.4,394.9 645.8,398.6 646.3,397.2 646.7,397.2 647.2,396.2 647.6,397.1 648.1,396.9 648.5,397.0 649.0,395.7 649.4,396.8 649.9,395.3 650.3,396.7 650.8,396.2 651.2,396.4 651.7,396.6 652.1,397.6 652.6,397.9 653.0,396.9 653.5,396.0 653.9,398.2 654.4,395.7 654.8,396.4 655.3,396.7 655.7,396.3 656.2,398.0 656.6,397.2 657.1,397.8 657.5,396.7 658.0,397.6 658.4,396.8 658.9,396.8 659.3,397.2 659.8,397.2 660.2,397.4 660.7,396.7 661.1,395.6 661.6,396.6 662.0,394.6 662.5,396.7 662.9,396.2 663.4,397.6 663.8,394.6 664.3,398.6 664.7,396.6 665.2,395.6 665.6,397.3 666.1,397.3 666.5,397.3 667.0,398.7 667.4,396.2 667.9,397.1 668.3,397.0 668.8,396.3 669.2,397.1 669.7,398.0 670.1,396.2" fill="none" stroke="#fbad3c" stroke-width="1.15" stroke-linejoin="round"/>
<text transform="translate(42.40 53.80) scale(1 1.05)" font-size="8.65" fill="#231f20" text-anchor="start" font-weight="normal" ><tspan stroke="#231f20" stroke-width="0.35">+</tspan>Urine I</text>
<text transform="translate(42.40 68.90) scale(1 1.05)" font-size="8.65" fill="#231f20" text-anchor="start" font-weight="normal" >SNE = 3.7</text>
<text transform="translate(42.40 79.25) scale(1 1.05)" font-size="8.65" fill="#ed1c24" text-anchor="start" font-weight="normal" >SNE = 2.7</text>
<text transform="translate(42.40 89.60) scale(1 1.05)" font-size="8.65" fill="#2e3192" text-anchor="start" font-weight="normal" >SNE = 1.5</text>
<text transform="translate(42.40 99.95) scale(1 1.05)" font-size="8.65" fill="#0f9a4b" text-anchor="start" font-weight="normal" >SNE = 0.7</text>
<text transform="translate(42.40 110.30) scale(1 1.05)" font-size="8.65" fill="#f7941d" text-anchor="start" font-weight="normal" >SNE = 0.5</text>
<text transform="translate(42.40 189.50) scale(1 1.05)" font-size="8.65" fill="#231f20" text-anchor="start" font-weight="normal" ><tspan stroke="#231f20" stroke-width="0.35">+</tspan>Urine II</text>
<text transform="translate(42.40 205.80) scale(1 1.05)" font-size="8.65" fill="#231f20" text-anchor="start" font-weight="normal" >SNE = 3.7</text>
<text transform="translate(42.40 216.15) scale(1 1.05)" font-size="8.65" fill="#ed1c24" text-anchor="start" font-weight="normal" >SNE = 3.3</text>
<text transform="translate(42.40 226.50) scale(1 1.05)" font-size="8.65" fill="#2e3192" text-anchor="start" font-weight="normal" >SNE = 2.2</text>
<text transform="translate(42.40 236.85) scale(1 1.05)" font-size="8.65" fill="#0f9a4b" text-anchor="start" font-weight="normal" >SNE = 1.4</text>
<text transform="translate(42.40 247.20) scale(1 1.05)" font-size="8.65" fill="#f7941d" text-anchor="start" font-weight="normal" >SNE = 0.7</text>
<text transform="translate(42.40 331.40) scale(1 1.05)" font-size="8.65" fill="#231f20" text-anchor="start" font-weight="normal" ><tspan stroke="#231f20" stroke-width="0.35">+</tspan>Urine IV</text>
<text transform="translate(42.40 344.70) scale(1 1.05)" font-size="8.65" fill="#231f20" text-anchor="start" font-weight="normal" >SNE = 3.7</text>
<text transform="translate(42.40 355.05) scale(1 1.05)" font-size="8.65" fill="#ed1c24" text-anchor="start" font-weight="normal" >SNE = 3.3</text>
<text transform="translate(42.40 365.40) scale(1 1.05)" font-size="8.65" fill="#2e3192" text-anchor="start" font-weight="normal" >SNE = 1.4</text>
<text transform="translate(42.40 375.75) scale(1 1.05)" font-size="8.65" fill="#0f9a4b" text-anchor="start" font-weight="normal" >SNE = 1.0</text>
<text transform="translate(42.40 386.10) scale(1 1.05)" font-size="8.65" fill="#f7941d" text-anchor="start" font-weight="normal" >SNE = 1.1</text>
<text transform="translate(252.80 53.60) scale(1 1.05)" font-size="8.65" fill="#231f20" text-anchor="start" font-weight="normal" ><tspan stroke="#231f20" stroke-width="0.35">+</tspan>Urine I</text>
<text transform="translate(252.80 68.90) scale(1 1.05)" font-size="8.65" fill="#231f20" text-anchor="start" font-weight="normal" >SNE = 2.2</text>
<text transform="translate(252.80 79.25) scale(1 1.05)" font-size="8.65" fill="#ed1c24" text-anchor="start" font-weight="normal" >SNE = 1.7</text>
<text transform="translate(252.80 89.60) scale(1 1.05)" font-size="8.65" fill="#2e3192" text-anchor="start" font-weight="normal" >SNE = 0.5</text>
<text transform="translate(252.80 99.95) scale(1 1.05)" font-size="8.65" fill="#0f9a4b" text-anchor="start" font-weight="normal" >SNE = 0.2</text>
<text transform="translate(252.80 110.30) scale(1 1.05)" font-size="8.65" fill="#f7941d" text-anchor="start" font-weight="normal" >SNE = 0.1</text>
<text transform="translate(252.80 189.30) scale(1 1.05)" font-size="8.65" fill="#231f20" text-anchor="start" font-weight="normal" ><tspan stroke="#231f20" stroke-width="0.35">+</tspan>Urine II</text>
<text transform="translate(252.80 205.80) scale(1 1.05)" font-size="8.65" fill="#231f20" text-anchor="start" font-weight="normal" >SNE = 2.2</text>
<text transform="translate(252.80 216.15) scale(1 1.05)" font-size="8.65" fill="#ed1c24" text-anchor="start" font-weight="normal" >SNE = 1.9</text>
<text transform="translate(252.80 226.50) scale(1 1.05)" font-size="8.65" fill="#2e3192" text-anchor="start" font-weight="normal" >SNE = 1.1</text>
<text transform="translate(252.80 236.85) scale(1 1.05)" font-size="8.65" fill="#0f9a4b" text-anchor="start" font-weight="normal" >SNE = 0.7</text>
<text transform="translate(252.80 247.20) scale(1 1.05)" font-size="8.65" fill="#f7941d" text-anchor="start" font-weight="normal" >SNE = 0.3</text>
<text transform="translate(252.80 331.00) scale(1 1.05)" font-size="8.65" fill="#231f20" text-anchor="start" font-weight="normal" ><tspan stroke="#231f20" stroke-width="0.35">+</tspan>Urine IV</text>
<text transform="translate(252.80 344.70) scale(1 1.05)" font-size="8.65" fill="#231f20" text-anchor="start" font-weight="normal" >SNE = 2.2</text>
<text transform="translate(252.80 355.05) scale(1 1.05)" font-size="8.65" fill="#ed1c24" text-anchor="start" font-weight="normal" >SNE = 1.7</text>
<text transform="translate(252.80 365.40) scale(1 1.05)" font-size="8.65" fill="#2e3192" text-anchor="start" font-weight="normal" >SNE = 0.6</text>
<text transform="translate(252.80 375.75) scale(1 1.05)" font-size="8.65" fill="#0f9a4b" text-anchor="start" font-weight="normal" >SNE = 0.2</text>
<text transform="translate(252.80 386.10) scale(1 1.05)" font-size="8.65" fill="#f7941d" text-anchor="start" font-weight="normal" >SNE = 0.2</text>
<text transform="translate(595.20 53.60) scale(1 1.05)" font-size="8.65" fill="#231f20" text-anchor="start" font-weight="normal" ><tspan stroke="#231f20" stroke-width="0.35">+</tspan>Urine I</text>
<text transform="translate(595.20 68.60) scale(1 1.05)" font-size="8.65" fill="#231f20" text-anchor="start" font-weight="normal" >SNE = 2.3</text>
<text transform="translate(595.20 78.95) scale(1 1.05)" font-size="8.65" fill="#ed1c24" text-anchor="start" font-weight="normal" >SNE = 1.9</text>
<text transform="translate(595.20 89.30) scale(1 1.05)" font-size="8.65" fill="#2e3192" text-anchor="start" font-weight="normal" >SNE = 0.5</text>
<text transform="translate(595.20 99.65) scale(1 1.05)" font-size="8.65" fill="#0f9a4b" text-anchor="start" font-weight="normal" >SNE = 0.2</text>
<text transform="translate(595.20 110.00) scale(1 1.05)" font-size="8.65" fill="#f7941d" text-anchor="start" font-weight="normal" >SNE = 0.1</text>
<text transform="translate(595.20 189.70) scale(1 1.05)" font-size="8.65" fill="#231f20" text-anchor="start" font-weight="normal" ><tspan stroke="#231f20" stroke-width="0.35">+</tspan>Urine II</text>
<text transform="translate(595.20 205.90) scale(1 1.05)" font-size="8.65" fill="#231f20" text-anchor="start" font-weight="normal" >SNE = 2.3</text>
<text transform="translate(595.20 216.25) scale(1 1.05)" font-size="8.65" fill="#ed1c24" text-anchor="start" font-weight="normal" >SNE = 2.0</text>
<text transform="translate(595.20 226.60) scale(1 1.05)" font-size="8.65" fill="#2e3192" text-anchor="start" font-weight="normal" >SNE = 1.1</text>
<text transform="translate(595.20 236.95) scale(1 1.05)" font-size="8.65" fill="#0f9a4b" text-anchor="start" font-weight="normal" >SNE = 0.8</text>
<text transform="translate(595.20 247.30) scale(1 1.05)" font-size="8.65" fill="#f7941d" text-anchor="start" font-weight="normal" >SNE = 0.3</text>
<text transform="translate(595.20 331.20) scale(1 1.05)" font-size="8.65" fill="#231f20" text-anchor="start" font-weight="normal" ><tspan stroke="#231f20" stroke-width="0.35">+</tspan>Urine IV</text>
<text transform="translate(595.20 345.30) scale(1 1.05)" font-size="8.65" fill="#231f20" text-anchor="start" font-weight="normal" >SNE = 2.3</text>
<text transform="translate(595.20 355.65) scale(1 1.05)" font-size="8.65" fill="#ed1c24" text-anchor="start" font-weight="normal" >SNE = 2.0</text>
<text transform="translate(595.20 366.00) scale(1 1.05)" font-size="8.65" fill="#2e3192" text-anchor="start" font-weight="normal" >SNE = 0.6</text>
<text transform="translate(595.20 376.35) scale(1 1.05)" font-size="8.65" fill="#0f9a4b" text-anchor="start" font-weight="normal" >SNE = 0.1</text>
<text transform="translate(595.20 386.70) scale(1 1.05)" font-size="8.65" fill="#f7941d" text-anchor="start" font-weight="normal" >SNE = 0.0</text>
<line x1="28.70" y1="536.30" x2="233.80" y2="536.30" stroke="#505052" stroke-width="1.15" />
<line x1="49.60" y1="536.30" x2="49.60" y2="540.30" stroke="#505052" stroke-width="0.85" />
<text transform="translate(46.80 551.00) scale(1 1.05)" font-size="8.4" fill="#3a3a3c" text-anchor="middle" font-weight="normal" >6.85</text>
<line x1="131.60" y1="536.30" x2="131.60" y2="540.30" stroke="#505052" stroke-width="0.85" />
<text transform="translate(128.80 551.00) scale(1 1.05)" font-size="8.4" fill="#3a3a3c" text-anchor="middle" font-weight="normal" >6.80</text>
<line x1="213.60" y1="536.30" x2="213.60" y2="540.30" stroke="#505052" stroke-width="0.85" />
<text transform="translate(210.60 551.00) scale(1 1.05)" font-size="8.4" fill="#3a3a3c" text-anchor="middle" font-weight="normal" >6.75</text>
<line x1="237.40" y1="536.00" x2="454.00" y2="536.00" stroke="#505052" stroke-width="1.15" />
<line x1="270.70" y1="536.00" x2="270.70" y2="539.90" stroke="#505052" stroke-width="0.85" />
<text transform="translate(271.50 550.80) scale(1 1.05)" font-size="8.4" fill="#3a3a3c" text-anchor="middle" font-weight="normal" >7.8</text>
<line x1="326.40" y1="536.00" x2="326.40" y2="539.90" stroke="#505052" stroke-width="0.85" />
<text transform="translate(327.10 550.80) scale(1 1.05)" font-size="8.4" fill="#3a3a3c" text-anchor="middle" font-weight="normal" >7.6</text>
<line x1="382.30" y1="536.00" x2="382.30" y2="539.90" stroke="#505052" stroke-width="0.85" />
<text transform="translate(382.70 550.80) scale(1 1.05)" font-size="8.4" fill="#3a3a3c" text-anchor="middle" font-weight="normal" >7.4</text>
<line x1="437.70" y1="536.00" x2="437.70" y2="539.90" stroke="#505052" stroke-width="0.85" />
<text transform="translate(438.50 550.80) scale(1 1.05)" font-size="8.4" fill="#3a3a3c" text-anchor="middle" font-weight="normal" >7.2</text>
<line x1="481.70" y1="535.50" x2="677.50" y2="535.50" stroke="#505052" stroke-width="1.15" />
<line x1="523.60" y1="535.50" x2="523.60" y2="539.60" stroke="#505052" stroke-width="0.85" />
<text transform="translate(525.50 550.80) scale(1 1.05)" font-size="8.4" fill="#3a3a3c" text-anchor="middle" font-weight="normal" >3.3</text>
<line x1="588.60" y1="535.50" x2="588.60" y2="539.60" stroke="#505052" stroke-width="0.85" />
<text transform="translate(587.80 550.80) scale(1 1.05)" font-size="8.4" fill="#3a3a3c" text-anchor="middle" font-weight="normal" >3.2</text>
<line x1="653.60" y1="535.50" x2="653.60" y2="539.60" stroke="#505052" stroke-width="0.85" />
<text transform="translate(652.80 550.80) scale(1 1.05)" font-size="8.4" fill="#3a3a3c" text-anchor="middle" font-weight="normal" >3.1</text>
<text x="76.5" y="566.0" font-size="8.5" fill="#3a3a3c">δ<tspan font-size="4" dy="2.2" dx="1.6">1</tspan><tspan dy="-2.2" dx="0.2"> (</tspan><tspan font-size="4" dy="-3">1</tspan><tspan dy="3">H) [ppm]</tspan></text>
<text x="292.5" y="565.6" font-size="8.5" fill="#3a3a3c">δ<tspan font-size="4" dy="2.2" dx="1.6">1</tspan><tspan dy="-2.2" dx="0.2"> (</tspan><tspan font-size="4" dy="-3">1</tspan><tspan dy="3">H) [ppm]</tspan></text>
<text x="546.1" y="565.4" font-size="8.5" fill="#3a3a3c">δ<tspan font-size="4" dy="2.2" dx="1.6">1</tspan><tspan dy="-2.2" dx="0.2"> (</tspan><tspan font-size="4" dy="-3">1</tspan><tspan dy="3">H) [ppm]</tspan></text>
<rect x="245" y="427.5" width="10" height="10" fill="#000000"/>
<text transform="translate(260.40 436.30) scale(1 1.05)" font-size="10.75" fill="#231f20" text-anchor="start" font-weight="normal" >0% urine</text>
<rect x="245" y="447.0" width="10" height="10" fill="#ed1c24"/>
<text transform="translate(258.90 455.80) scale(1 1.05)" font-size="10.75" fill="#231f20" text-anchor="start" font-weight="normal" >5% urine</text>
<rect x="245" y="467.0" width="10" height="10" fill="#2e3192"/>
<text transform="translate(259.30 475.80) scale(1 1.05)" font-size="10.75" fill="#231f20" text-anchor="start" font-weight="normal" >20% urine</text>
<rect x="245" y="488.4" width="10" height="10" fill="#006838"/>
<text transform="translate(259.30 497.20) scale(1 1.05)" font-size="10.75" fill="#231f20" text-anchor="start" font-weight="normal" >40% urine</text>
<rect x="245" y="508.2" width="10" height="10" fill="#f7941d"/>
<text transform="translate(259.30 517.00) scale(1 1.05)" font-size="10.75" fill="#231f20" text-anchor="start" font-weight="normal" >70% urine</text>
<line x1="32.40" y1="624.50" x2="32.40" y2="819.40" stroke="#231f20" stroke-width="1.0" />
<line x1="32.40" y1="819.40" x2="32.40" y2="821.20" stroke="#231f20" stroke-width="0.8" />
<text transform="translate(32.40 830.70) scale(1 1.05)" font-size="8.3" fill="#3a3a3c" text-anchor="middle" font-weight="normal" >0</text>
<line x1="60.83" y1="819.40" x2="60.83" y2="821.20" stroke="#231f20" stroke-width="0.8" />
<text transform="translate(60.83 830.70) scale(1 1.05)" font-size="8.3" fill="#3a3a3c" text-anchor="middle" font-weight="normal" >10</text>
<line x1="89.26" y1="819.40" x2="89.26" y2="821.20" stroke="#231f20" stroke-width="0.8" />
<text transform="translate(89.26 830.70) scale(1 1.05)" font-size="8.3" fill="#3a3a3c" text-anchor="middle" font-weight="normal" >20</text>
<line x1="117.69" y1="819.40" x2="117.69" y2="821.20" stroke="#231f20" stroke-width="0.8" />
<text transform="translate(117.69 830.70) scale(1 1.05)" font-size="8.3" fill="#3a3a3c" text-anchor="middle" font-weight="normal" >30</text>
<line x1="146.12" y1="819.40" x2="146.12" y2="821.20" stroke="#231f20" stroke-width="0.8" />
<text transform="translate(146.12 830.70) scale(1 1.05)" font-size="8.3" fill="#3a3a3c" text-anchor="middle" font-weight="normal" >40</text>
<line x1="174.55" y1="819.40" x2="174.55" y2="821.20" stroke="#231f20" stroke-width="0.8" />
<text transform="translate(174.55 830.70) scale(1 1.05)" font-size="8.3" fill="#3a3a3c" text-anchor="middle" font-weight="normal" >50</text>
<line x1="202.98" y1="819.40" x2="202.98" y2="821.20" stroke="#231f20" stroke-width="0.8" />
<text transform="translate(202.98 830.70) scale(1 1.05)" font-size="8.3" fill="#3a3a3c" text-anchor="middle" font-weight="normal" >60</text>
<line x1="231.41" y1="819.40" x2="231.41" y2="821.20" stroke="#231f20" stroke-width="0.8" />
<text transform="translate(231.41 830.70) scale(1 1.05)" font-size="8.3" fill="#3a3a3c" text-anchor="middle" font-weight="normal" >70</text>
<text transform="translate(40.80 618.60) scale(1 1.05)" font-size="13.5" fill="#231f20" text-anchor="start" font-weight="bold" >d</text>
<path d="M32.40 624.50 L46.61 686.20 L89.26 745.40 L146.12 776.00 L231.41 789.90" fill="none" stroke="#222" stroke-width="1.0" stroke-dasharray="6.2,3"/>
<circle cx="34.00" cy="625.50" r="0.8" fill="#3cc0c8"/>
<path d="M32.40 624.50 L34.00 626.10" stroke="#111" stroke-width="1.2"/>
<circle cx="46.61" cy="675.70" r="2.3" fill="#1a8f45"/>
<circle cx="46.61" cy="700.70" r="2.3" fill="#3451b0"/>
<circle cx="46.61" cy="683.40" r="2.3" fill="#3cc0c8"/>
<path d="M44.71 684.30 L48.51 688.10 M44.71 688.10 L48.51 684.30" stroke="#111111" stroke-width="1.55"/>
<circle cx="89.26" cy="724.00" r="2.3" fill="#1a8f45"/>
<circle cx="89.26" cy="763.80" r="2.3" fill="#3451b0"/>
<circle cx="89.26" cy="748.40" r="2.3" fill="#3cc0c8"/>
<path d="M87.36 743.50 L91.16 747.30 M87.36 747.30 L91.16 743.50" stroke="#111111" stroke-width="1.55"/>
<circle cx="146.12" cy="759.30" r="2.3" fill="#1a8f45"/>
<circle cx="146.12" cy="789.90" r="2.3" fill="#3451b0"/>
<circle cx="146.12" cy="778.30" r="2.3" fill="#3cc0c8"/>
<path d="M144.22 774.10 L148.02 777.90 M144.22 777.90 L148.02 774.10" stroke="#111111" stroke-width="1.55"/>
<circle cx="231.41" cy="787.50" r="2.3" fill="#1a8f45"/>
<circle cx="231.41" cy="798.90" r="2.3" fill="#3451b0"/>
<circle cx="231.41" cy="785.40" r="2.3" fill="#3cc0c8"/>
<path d="M229.51 788.00 L233.31 791.80 M229.51 791.80 L233.31 788.00" stroke="#111111" stroke-width="1.55"/>
<text transform="translate(49.60 672.20) scale(1 1.05)" font-size="8.6" fill="#2a9a50" text-anchor="start" font-weight="normal" >8.4%</text>
<text transform="translate(53.40 683.20) scale(1 1.05)" font-size="8.6" fill="#45c1c8" text-anchor="start" font-weight="normal" >2.3%</text>
<text transform="translate(37.30 710.70) scale(1 1.05)" font-size="8.6" fill="#4a5ab0" text-anchor="start" font-weight="normal" >10.6%</text>
<text transform="translate(82.70 719.40) scale(1 1.05)" font-size="8.6" fill="#2a9a50" text-anchor="start" font-weight="normal" >29.0%</text>
<text transform="translate(64.80 751.90) scale(1 1.05)" font-size="8.6" fill="#45c1c8" text-anchor="start" font-weight="normal" >4.0%</text>
<text transform="translate(60.40 765.00) scale(1 1.05)" font-size="8.6" fill="#4a5ab0" text-anchor="start" font-weight="normal" >25.1%</text>
<text transform="translate(139.20 755.70) scale(1 1.05)" font-size="8.6" fill="#2a9a50" text-anchor="start" font-weight="normal" >38.1%</text>
<text transform="translate(122.00 782.70) scale(1 1.05)" font-size="8.6" fill="#45c1c8" text-anchor="start" font-weight="normal" >5.8%</text>
<text transform="translate(118.00 792.90) scale(1 1.05)" font-size="8.6" fill="#4a5ab0" text-anchor="start" font-weight="normal" >32.2%</text>
<text transform="translate(212.00 781.70) scale(1 1.05)" font-size="8.6" fill="#45c1c8" text-anchor="start" font-weight="normal" >16.7%</text>
<text transform="translate(196.00 796.60) scale(1 1.05)" font-size="8.6" fill="#2a9a50" text-anchor="start" font-weight="normal" >12.5%</text>
<text transform="translate(209.30 807.20) scale(1 1.05)" font-size="8.6" fill="#4a5ab0" text-anchor="start" font-weight="normal" >29.2%</text>
<line x1="250.50" y1="624.50" x2="250.50" y2="819.60" stroke="#231f20" stroke-width="1.0" />
<line x1="250.50" y1="819.60" x2="250.50" y2="821.40" stroke="#231f20" stroke-width="0.8" />
<text transform="translate(250.50 830.70) scale(1 1.05)" font-size="8.3" fill="#3a3a3c" text-anchor="middle" font-weight="normal" >0</text>
<line x1="278.87" y1="819.60" x2="278.87" y2="821.40" stroke="#231f20" stroke-width="0.8" />
<text transform="translate(278.87 830.70) scale(1 1.05)" font-size="8.3" fill="#3a3a3c" text-anchor="middle" font-weight="normal" >10</text>
<line x1="307.24" y1="819.60" x2="307.24" y2="821.40" stroke="#231f20" stroke-width="0.8" />
<text transform="translate(307.24 830.70) scale(1 1.05)" font-size="8.3" fill="#3a3a3c" text-anchor="middle" font-weight="normal" >20</text>
<line x1="335.61" y1="819.60" x2="335.61" y2="821.40" stroke="#231f20" stroke-width="0.8" />
<text transform="translate(335.61 830.70) scale(1 1.05)" font-size="8.3" fill="#3a3a3c" text-anchor="middle" font-weight="normal" >30</text>
<line x1="363.98" y1="819.60" x2="363.98" y2="821.40" stroke="#231f20" stroke-width="0.8" />
<text transform="translate(363.98 830.70) scale(1 1.05)" font-size="8.3" fill="#3a3a3c" text-anchor="middle" font-weight="normal" >40</text>
<line x1="392.35" y1="819.60" x2="392.35" y2="821.40" stroke="#231f20" stroke-width="0.8" />
<text transform="translate(392.35 830.70) scale(1 1.05)" font-size="8.3" fill="#3a3a3c" text-anchor="middle" font-weight="normal" >50</text>
<line x1="420.72" y1="819.60" x2="420.72" y2="821.40" stroke="#231f20" stroke-width="0.8" />
<text transform="translate(420.72 830.70) scale(1 1.05)" font-size="8.3" fill="#3a3a3c" text-anchor="middle" font-weight="normal" >60</text>
<line x1="449.09" y1="819.60" x2="449.09" y2="821.40" stroke="#231f20" stroke-width="0.8" />
<text transform="translate(449.09 830.70) scale(1 1.05)" font-size="8.3" fill="#3a3a3c" text-anchor="middle" font-weight="normal" >70</text>
<text transform="translate(260.80 618.60) scale(1 1.05)" font-size="13.5" fill="#231f20" text-anchor="start" font-weight="bold" >e</text>
<path d="M250.50 624.50 L264.69 711.80 L307.24 784.10 L363.98 803.00 L449.09 813.40" fill="none" stroke="#222" stroke-width="1.0" stroke-dasharray="6.2,3"/>
<circle cx="252.10" cy="625.50" r="0.8" fill="#3cc0c8"/>
<path d="M250.50 624.50 L252.10 626.10" stroke="#111" stroke-width="1.2"/>
<circle cx="264.69" cy="689.30" r="2.3" fill="#1a8f45"/>
<circle cx="264.69" cy="735.00" r="2.3" fill="#3451b0"/>
<circle cx="264.69" cy="711.80" r="2.3" fill="#3cc0c8"/>
<path d="M262.79 709.90 L266.58 713.70 M262.79 713.70 L266.58 709.90" stroke="#111111" stroke-width="1.55"/>
<circle cx="307.24" cy="765.90" r="2.3" fill="#1a8f45"/>
<circle cx="307.24" cy="793.40" r="2.3" fill="#3451b0"/>
<circle cx="307.24" cy="793.40" r="2.3" fill="#3cc0c8"/>
<path d="M305.34 782.20 L309.14 786.00 M305.34 786.00 L309.14 782.20" stroke="#111111" stroke-width="1.55"/>
<circle cx="363.98" cy="786.10" r="2.3" fill="#1a8f45"/>
<circle cx="363.98" cy="812.00" r="2.3" fill="#3451b0"/>
<circle cx="363.98" cy="811.20" r="2.3" fill="#3cc0c8"/>
<path d="M362.08 801.10 L365.88 804.90 M362.08 804.90 L365.88 801.10" stroke="#111111" stroke-width="1.55"/>
<circle cx="449.09" cy="806.10" r="2.3" fill="#1a8f45"/>
<circle cx="449.09" cy="814.00" r="2.3" fill="#3451b0"/>
<circle cx="449.09" cy="819.50" r="2.3" fill="#3cc0c8"/>
<path d="M447.19 811.50 L450.99 815.30 M447.19 815.30 L450.99 811.50" stroke="#111111" stroke-width="1.55"/>
<text transform="translate(269.70 688.80) scale(1 1.05)" font-size="8.6" fill="#2a9a50" text-anchor="start" font-weight="normal" >21.4%</text>
<text transform="translate(269.70 711.30) scale(1 1.05)" font-size="8.6" fill="#45c1c8" text-anchor="start" font-weight="normal" >0.1%</text>
<text transform="translate(256.60 747.70) scale(1 1.05)" font-size="8.6" fill="#4a5ab0" text-anchor="start" font-weight="normal" >21.3%</text>
<text transform="translate(300.40 762.20) scale(1 1.05)" font-size="8.6" fill="#2a9a50" text-anchor="start" font-weight="normal" >51.8%</text>
<text transform="translate(278.90 796.70) scale(1 1.05)" font-size="8.6" fill="#45c1c8" text-anchor="start" font-weight="normal" >26.5%</text>
<text transform="translate(302.50 805.50) scale(1 1.05)" font-size="8.6" fill="#4a5ab0" text-anchor="start" font-weight="normal" >25.3%</text>
<text transform="translate(356.80 781.00) scale(1 1.05)" font-size="8.6" fill="#2a9a50" text-anchor="start" font-weight="normal" >105.5%</text>
<text transform="translate(331.10 813.70) scale(1 1.05)" font-size="8.6" fill="#45c1c8" text-anchor="start" font-weight="normal" >55.3%</text>
<text transform="translate(368.60 816.60) scale(1 1.05)" font-size="8.6" fill="#4a5ab0" text-anchor="start" font-weight="normal" >50.2%</text>
<text transform="translate(425.80 796.90) scale(1 1.05)" font-size="8.6" fill="#2a9a50" text-anchor="start" font-weight="normal" >110.6%</text>
<text transform="translate(421.60 806.40) scale(1 1.05)" font-size="8.6" fill="#4a5ab0" text-anchor="start" font-weight="normal" >10.6%</text>
<text transform="translate(417.60 818.30) scale(1 1.05)" font-size="8.6" fill="#45c1c8" text-anchor="start" font-weight="normal" >100.0%</text>
<line x1="468.20" y1="624.50" x2="468.20" y2="819.60" stroke="#231f20" stroke-width="1.0" />
<line x1="468.20" y1="819.60" x2="468.20" y2="821.40" stroke="#231f20" stroke-width="0.8" />
<text transform="translate(468.20 830.70) scale(1 1.05)" font-size="8.3" fill="#3a3a3c" text-anchor="middle" font-weight="normal" >0</text>
<line x1="496.70" y1="819.60" x2="496.70" y2="821.40" stroke="#231f20" stroke-width="0.8" />
<text transform="translate(496.70 830.70) scale(1 1.05)" font-size="8.3" fill="#3a3a3c" text-anchor="middle" font-weight="normal" >10</text>
<line x1="525.20" y1="819.60" x2="525.20" y2="821.40" stroke="#231f20" stroke-width="0.8" />
<text transform="translate(525.20 830.70) scale(1 1.05)" font-size="8.3" fill="#3a3a3c" text-anchor="middle" font-weight="normal" >20</text>
<line x1="553.70" y1="819.60" x2="553.70" y2="821.40" stroke="#231f20" stroke-width="0.8" />
<text transform="translate(553.70 830.70) scale(1 1.05)" font-size="8.3" fill="#3a3a3c" text-anchor="middle" font-weight="normal" >30</text>
<line x1="582.20" y1="819.60" x2="582.20" y2="821.40" stroke="#231f20" stroke-width="0.8" />
<text transform="translate(582.20 830.70) scale(1 1.05)" font-size="8.3" fill="#3a3a3c" text-anchor="middle" font-weight="normal" >40</text>
<line x1="610.70" y1="819.60" x2="610.70" y2="821.40" stroke="#231f20" stroke-width="0.8" />
<text transform="translate(610.70 830.70) scale(1 1.05)" font-size="8.3" fill="#3a3a3c" text-anchor="middle" font-weight="normal" >50</text>
<line x1="639.20" y1="819.60" x2="639.20" y2="821.40" stroke="#231f20" stroke-width="0.8" />
<text transform="translate(639.20 830.70) scale(1 1.05)" font-size="8.3" fill="#3a3a3c" text-anchor="middle" font-weight="normal" >60</text>
<line x1="667.70" y1="819.60" x2="667.70" y2="821.40" stroke="#231f20" stroke-width="0.8" />
<text transform="translate(667.70 830.70) scale(1 1.05)" font-size="8.3" fill="#3a3a3c" text-anchor="middle" font-weight="normal" >70</text>
<text transform="translate(491.00 621.90) scale(1 1.05)" font-size="13.5" fill="#231f20" text-anchor="start" font-weight="bold" >f</text>
<path d="M468.20 624.50 L482.45 723.70 L525.20 785.80 L582.20 803.60 L667.70 814.30" fill="none" stroke="#222" stroke-width="1.0" stroke-dasharray="6.2,3"/>
<circle cx="469.80" cy="625.50" r="0.8" fill="#3cc0c8"/>
<path d="M468.20 624.50 L469.80 626.10" stroke="#111" stroke-width="1.2"/>
<circle cx="482.45" cy="705.70" r="2.3" fill="#1a8f45"/>
<circle cx="482.45" cy="742.00" r="2.3" fill="#3451b0"/>
<circle cx="482.45" cy="723.70" r="2.3" fill="#3cc0c8"/>
<path d="M480.55 721.80 L484.35 725.60 M480.55 725.60 L484.35 721.80" stroke="#111111" stroke-width="1.55"/>
<circle cx="525.20" cy="764.50" r="2.3" fill="#1a8f45"/>
<circle cx="525.20" cy="797.20" r="2.3" fill="#3451b0"/>
<circle cx="525.20" cy="796.00" r="2.3" fill="#3cc0c8"/>
<path d="M523.30 783.90 L527.10 787.70 M523.30 787.70 L527.10 783.90" stroke="#111111" stroke-width="1.55"/>
<circle cx="582.20" cy="784.20" r="2.3" fill="#1a8f45"/>
<circle cx="582.20" cy="813.40" r="2.3" fill="#3cc0c8"/>
<path d="M580.30 801.70 L584.10 805.50 M580.30 805.50 L584.10 801.70" stroke="#111111" stroke-width="1.55"/>
<circle cx="667.70" cy="808.90" r="2.3" fill="#1a8f45"/>
<circle cx="667.70" cy="818.50" r="2.3" fill="#3451b0"/>
<path d="M665.80 812.40 L669.60 816.20 M665.80 816.20 L669.60 812.40" stroke="#111111" stroke-width="1.55"/>
<text transform="translate(487.60 704.60) scale(1 1.05)" font-size="8.6" fill="#2a9a50" text-anchor="start" font-weight="normal" >19.0%</text>
<text transform="translate(487.70 722.60) scale(1 1.05)" font-size="8.6" fill="#45c1c8" text-anchor="start" font-weight="normal" >0.0%</text>
<text transform="translate(473.70 753.00) scale(1 1.05)" font-size="8.6" fill="#4a5ab0" text-anchor="start" font-weight="normal" >19.0%</text>
<text transform="translate(518.70 758.70) scale(1 1.05)" font-size="8.6" fill="#2a9a50" text-anchor="start" font-weight="normal" >63.8%</text>
<text transform="translate(492.90 797.10) scale(1 1.05)" font-size="8.6" fill="#45c1c8" text-anchor="start" font-weight="normal" >30.4%</text>
<text transform="translate(507.00 808.60) scale(1 1.05)" font-size="8.6" fill="#4a5ab0" text-anchor="start" font-weight="normal" >33.4%</text>
<text transform="translate(577.70 780.10) scale(1 1.05)" font-size="8.6" fill="#2a9a50" text-anchor="start" font-weight="normal" >123.1%</text>
<text transform="translate(553.70 813.70) scale(1 1.05)" font-size="8.6" fill="#45c1c8" text-anchor="start" font-weight="normal" >62.3%</text>
<text transform="translate(586.80 815.70) scale(1 1.05)" font-size="8.6" fill="#4a5ab0" text-anchor="start" font-weight="normal" >60.8%</text>
<text transform="translate(656.40 796.00) scale(1 1.05)" font-size="8.6" fill="#2a9a50" text-anchor="start" font-weight="normal" >101.7%</text>
<text transform="translate(665.50 803.80) scale(1 1.05)" font-size="8.6" fill="#45c1c8" text-anchor="start" font-weight="normal" >1.7%</text>
<text transform="translate(630.30 808.40) scale(1 1.05)" font-size="8.6" fill="#4a5ab0" text-anchor="start" font-weight="normal" >100.0%</text>
<line x1="31.90" y1="819.50" x2="685.00" y2="819.50" stroke="#231f20" stroke-width="1.0" />
<text transform="translate(14.00 719.40) scale(1 1.05)" font-size="8.6" fill="#231f20" text-anchor="middle" font-weight="normal" >Integral</text>
<text transform="translate(14.00 729.60) scale(1 1.05)" font-size="8.6" fill="#231f20" text-anchor="middle" font-weight="normal" >(a.u.)</text>
<text transform="translate(361.00 843.00) scale(1 1.05)" font-size="8.6" fill="#3a3a3c" text-anchor="middle" font-weight="normal" >Urine content (%)</text>
<circle cx="596.40" cy="644.10" r="2.0" fill="#3451b0"/>
<circle cx="596.40" cy="655.00" r="2.0" fill="#1a8f45"/>
<circle cx="596.40" cy="665.70" r="2.0" fill="#3cc0c8"/>
<line x1="593.60" y1="679.80" x2="602.20" y2="679.80" stroke="#1a1a1a" stroke-width="0.9" />
<path d="M595.90 677.80 L599.90 681.80 M595.90 681.80 L599.90 677.80" stroke="#111111" stroke-width="1.55"/>
<text transform="translate(606.20 645.40) scale(1 1.05)" font-size="11.3" fill="#231f20" text-anchor="start" font-weight="normal" >Urine I</text>
<text transform="translate(606.20 658.40) scale(1 1.05)" font-size="11.3" fill="#231f20" text-anchor="start" font-weight="normal" >Urine II</text>
<text transform="translate(606.20 670.50) scale(1 1.05)" font-size="11.3" fill="#231f20" text-anchor="start" font-weight="normal" >Urine IV</text>
<text transform="translate(606.20 683.60) scale(1 1.05)" font-size="11.3" fill="#231f20" text-anchor="start" font-weight="normal" >Mean integral</text>
</svg>
</body></html>
